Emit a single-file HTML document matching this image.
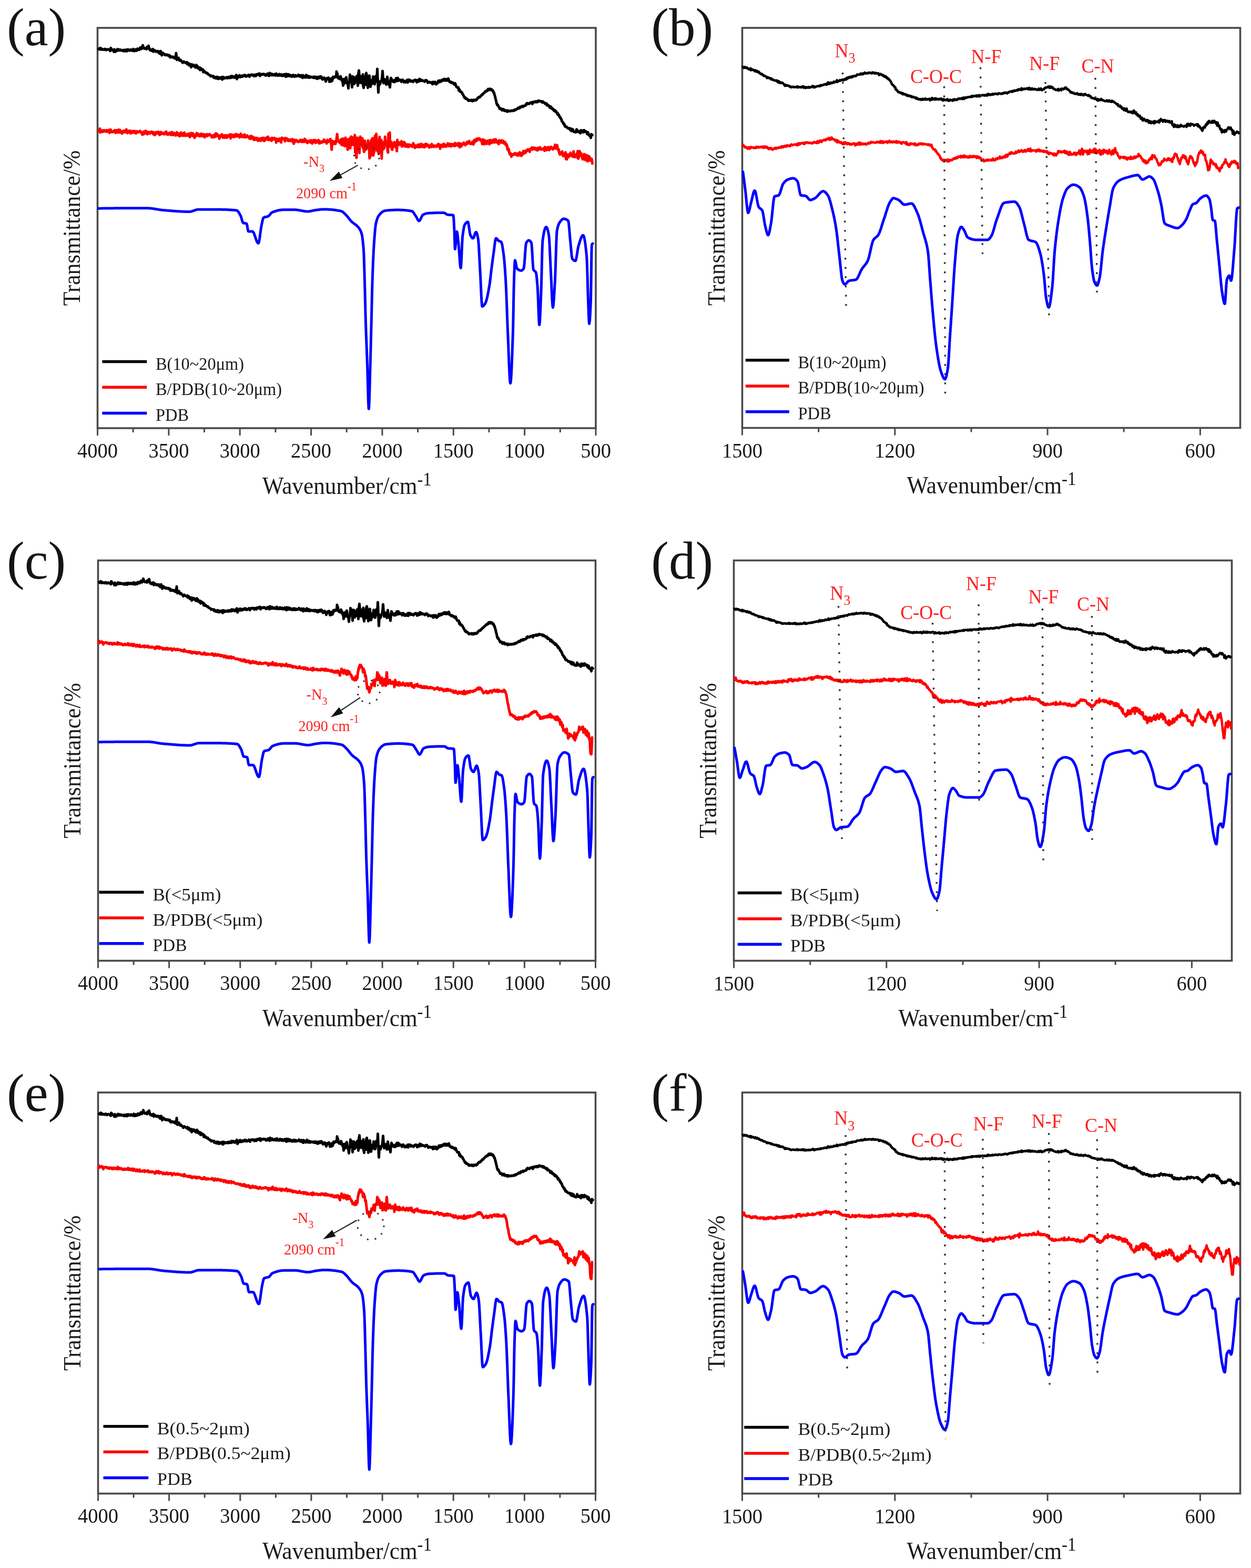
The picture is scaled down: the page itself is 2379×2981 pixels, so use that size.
<!DOCTYPE html>
<html><head><meta charset="utf-8"><title>FTIR spectra</title>
<style>
html,body{margin:0;padding:0;background:#fff;}
svg{display:block;}
text{font-family:'Liberation Serif','Times New Roman',serif;}
</style></head>
<body>
<svg width="2379" height="2981" viewBox="0 0 2379 2981">
<rect width="2379" height="2981" fill="#ffffff"/>
<rect x="185.5" y="53" width="947.5" height="761" fill="none" stroke="#4a4a4a" stroke-width="3.6"/>
<line x1="185.5" y1="814" x2="185.5" y2="828" stroke="#4a4a4a" stroke-width="3"/>
<text transform="translate(185.5,869.5) scale(1,1.06)" font-size="38.5" text-anchor="middle" fill="#1a1a1a" >4000</text>
<line x1="253.2" y1="814" x2="253.2" y2="822" stroke="#4a4a4a" stroke-width="3"/>
<line x1="320.9" y1="814" x2="320.9" y2="828" stroke="#4a4a4a" stroke-width="3"/>
<text transform="translate(320.9,869.5) scale(1,1.06)" font-size="38.5" text-anchor="middle" fill="#1a1a1a" >3500</text>
<line x1="388.5" y1="814" x2="388.5" y2="822" stroke="#4a4a4a" stroke-width="3"/>
<line x1="456.2" y1="814" x2="456.2" y2="828" stroke="#4a4a4a" stroke-width="3"/>
<text transform="translate(456.2,869.5) scale(1,1.06)" font-size="38.5" text-anchor="middle" fill="#1a1a1a" >3000</text>
<line x1="523.9" y1="814" x2="523.9" y2="822" stroke="#4a4a4a" stroke-width="3"/>
<line x1="591.6" y1="814" x2="591.6" y2="828" stroke="#4a4a4a" stroke-width="3"/>
<text transform="translate(591.6,869.5) scale(1,1.06)" font-size="38.5" text-anchor="middle" fill="#1a1a1a" >2500</text>
<line x1="659.2" y1="814" x2="659.2" y2="822" stroke="#4a4a4a" stroke-width="3"/>
<line x1="726.9" y1="814" x2="726.9" y2="828" stroke="#4a4a4a" stroke-width="3"/>
<text transform="translate(726.9,869.5) scale(1,1.06)" font-size="38.5" text-anchor="middle" fill="#1a1a1a" >2000</text>
<line x1="794.6" y1="814" x2="794.6" y2="822" stroke="#4a4a4a" stroke-width="3"/>
<line x1="862.3" y1="814" x2="862.3" y2="828" stroke="#4a4a4a" stroke-width="3"/>
<text transform="translate(862.3,869.5) scale(1,1.06)" font-size="38.5" text-anchor="middle" fill="#1a1a1a" >1500</text>
<line x1="930.0" y1="814" x2="930.0" y2="822" stroke="#4a4a4a" stroke-width="3"/>
<line x1="997.6" y1="814" x2="997.6" y2="828" stroke="#4a4a4a" stroke-width="3"/>
<text transform="translate(997.6,869.5) scale(1,1.06)" font-size="38.5" text-anchor="middle" fill="#1a1a1a" >1000</text>
<line x1="1065.3" y1="814" x2="1065.3" y2="822" stroke="#4a4a4a" stroke-width="3"/>
<line x1="1133.0" y1="814" x2="1133.0" y2="828" stroke="#4a4a4a" stroke-width="3"/>
<text transform="translate(1133.0,869.5) scale(1,1.06)" font-size="38.5" text-anchor="middle" fill="#1a1a1a" >500</text>
<text transform="translate(659.8,938.8) scale(1,1.06)" font-size="43.3" text-anchor="middle" fill="#1a1a1a">Wavenumber/cm<tspan font-size="33" dy="-15.2">-1</tspan></text>
<text transform="translate(152.0,433.5) rotate(-90) scale(1,1.06)" font-size="43.5" text-anchor="middle" fill="#1a1a1a">Transmittance/%</text>
<rect x="1411.5" y="53" width="947.0" height="760.5" fill="none" stroke="#4a4a4a" stroke-width="3.6"/>
<line x1="1411.5" y1="813.5" x2="1411.5" y2="827.5" stroke="#4a4a4a" stroke-width="3"/>
<text transform="translate(1411.5,870.0) scale(1,1.06)" font-size="38.5" text-anchor="middle" fill="#1a1a1a" >1500</text>
<line x1="1556.7" y1="813.5" x2="1556.7" y2="821.5" stroke="#4a4a4a" stroke-width="3"/>
<line x1="1701.8" y1="813.5" x2="1701.8" y2="827.5" stroke="#4a4a4a" stroke-width="3"/>
<text transform="translate(1701.8,870.0) scale(1,1.06)" font-size="38.5" text-anchor="middle" fill="#1a1a1a" >1200</text>
<line x1="1847.0" y1="813.5" x2="1847.0" y2="821.5" stroke="#4a4a4a" stroke-width="3"/>
<line x1="1992.1" y1="813.5" x2="1992.1" y2="827.5" stroke="#4a4a4a" stroke-width="3"/>
<text transform="translate(1992.1,870.0) scale(1,1.06)" font-size="38.5" text-anchor="middle" fill="#1a1a1a" >900</text>
<line x1="2137.2" y1="813.5" x2="2137.2" y2="821.5" stroke="#4a4a4a" stroke-width="3"/>
<line x1="2282.4" y1="813.5" x2="2282.4" y2="827.5" stroke="#4a4a4a" stroke-width="3"/>
<text transform="translate(2282.4,870.0) scale(1,1.06)" font-size="38.5" text-anchor="middle" fill="#1a1a1a" >600</text>
<text transform="translate(1885.5,938.3) scale(1,1.06)" font-size="43.3" text-anchor="middle" fill="#1a1a1a">Wavenumber/cm<tspan font-size="33" dy="-15.2">-1</tspan></text>
<text transform="translate(1378.0,433.2) rotate(-90) scale(1,1.06)" font-size="43.5" text-anchor="middle" fill="#1a1a1a">Transmittance/%</text>
<rect x="186.5" y="1065.5" width="946.0" height="761.0" fill="none" stroke="#4a4a4a" stroke-width="3.6"/>
<line x1="186.5" y1="1826.5" x2="186.5" y2="1840.5" stroke="#4a4a4a" stroke-width="3"/>
<text transform="translate(186.5,1882.0) scale(1,1.06)" font-size="38.5" text-anchor="middle" fill="#1a1a1a" >4000</text>
<line x1="254.1" y1="1826.5" x2="254.1" y2="1834.5" stroke="#4a4a4a" stroke-width="3"/>
<line x1="321.6" y1="1826.5" x2="321.6" y2="1840.5" stroke="#4a4a4a" stroke-width="3"/>
<text transform="translate(321.6,1882.0) scale(1,1.06)" font-size="38.5" text-anchor="middle" fill="#1a1a1a" >3500</text>
<line x1="389.2" y1="1826.5" x2="389.2" y2="1834.5" stroke="#4a4a4a" stroke-width="3"/>
<line x1="456.8" y1="1826.5" x2="456.8" y2="1840.5" stroke="#4a4a4a" stroke-width="3"/>
<text transform="translate(456.8,1882.0) scale(1,1.06)" font-size="38.5" text-anchor="middle" fill="#1a1a1a" >3000</text>
<line x1="524.4" y1="1826.5" x2="524.4" y2="1834.5" stroke="#4a4a4a" stroke-width="3"/>
<line x1="591.9" y1="1826.5" x2="591.9" y2="1840.5" stroke="#4a4a4a" stroke-width="3"/>
<text transform="translate(591.9,1882.0) scale(1,1.06)" font-size="38.5" text-anchor="middle" fill="#1a1a1a" >2500</text>
<line x1="659.5" y1="1826.5" x2="659.5" y2="1834.5" stroke="#4a4a4a" stroke-width="3"/>
<line x1="727.1" y1="1826.5" x2="727.1" y2="1840.5" stroke="#4a4a4a" stroke-width="3"/>
<text transform="translate(727.1,1882.0) scale(1,1.06)" font-size="38.5" text-anchor="middle" fill="#1a1a1a" >2000</text>
<line x1="794.6" y1="1826.5" x2="794.6" y2="1834.5" stroke="#4a4a4a" stroke-width="3"/>
<line x1="862.2" y1="1826.5" x2="862.2" y2="1840.5" stroke="#4a4a4a" stroke-width="3"/>
<text transform="translate(862.2,1882.0) scale(1,1.06)" font-size="38.5" text-anchor="middle" fill="#1a1a1a" >1500</text>
<line x1="929.8" y1="1826.5" x2="929.8" y2="1834.5" stroke="#4a4a4a" stroke-width="3"/>
<line x1="997.4" y1="1826.5" x2="997.4" y2="1840.5" stroke="#4a4a4a" stroke-width="3"/>
<text transform="translate(997.4,1882.0) scale(1,1.06)" font-size="38.5" text-anchor="middle" fill="#1a1a1a" >1000</text>
<line x1="1064.9" y1="1826.5" x2="1064.9" y2="1834.5" stroke="#4a4a4a" stroke-width="3"/>
<line x1="1132.5" y1="1826.5" x2="1132.5" y2="1840.5" stroke="#4a4a4a" stroke-width="3"/>
<text transform="translate(1132.5,1882.0) scale(1,1.06)" font-size="38.5" text-anchor="middle" fill="#1a1a1a" >500</text>
<text transform="translate(660.0,1951.3) scale(1,1.06)" font-size="43.3" text-anchor="middle" fill="#1a1a1a">Wavenumber/cm<tspan font-size="33" dy="-15.2">-1</tspan></text>
<text transform="translate(153.0,1446.0) rotate(-90) scale(1,1.06)" font-size="43.5" text-anchor="middle" fill="#1a1a1a">Transmittance/%</text>
<rect x="1395.5" y="1065.5" width="947.0" height="761.0" fill="none" stroke="#4a4a4a" stroke-width="3.6"/>
<line x1="1395.5" y1="1826.5" x2="1395.5" y2="1840.5" stroke="#4a4a4a" stroke-width="3"/>
<text transform="translate(1395.5,1883.0) scale(1,1.06)" font-size="38.5" text-anchor="middle" fill="#1a1a1a" >1500</text>
<line x1="1540.7" y1="1826.5" x2="1540.7" y2="1834.5" stroke="#4a4a4a" stroke-width="3"/>
<line x1="1685.8" y1="1826.5" x2="1685.8" y2="1840.5" stroke="#4a4a4a" stroke-width="3"/>
<text transform="translate(1685.8,1883.0) scale(1,1.06)" font-size="38.5" text-anchor="middle" fill="#1a1a1a" >1200</text>
<line x1="1831.0" y1="1826.5" x2="1831.0" y2="1834.5" stroke="#4a4a4a" stroke-width="3"/>
<line x1="1976.1" y1="1826.5" x2="1976.1" y2="1840.5" stroke="#4a4a4a" stroke-width="3"/>
<text transform="translate(1976.1,1883.0) scale(1,1.06)" font-size="38.5" text-anchor="middle" fill="#1a1a1a" >900</text>
<line x1="2121.2" y1="1826.5" x2="2121.2" y2="1834.5" stroke="#4a4a4a" stroke-width="3"/>
<line x1="2266.4" y1="1826.5" x2="2266.4" y2="1840.5" stroke="#4a4a4a" stroke-width="3"/>
<text transform="translate(2266.4,1883.0) scale(1,1.06)" font-size="38.5" text-anchor="middle" fill="#1a1a1a" >600</text>
<text transform="translate(1869.5,1951.3) scale(1,1.06)" font-size="43.3" text-anchor="middle" fill="#1a1a1a">Wavenumber/cm<tspan font-size="33" dy="-15.2">-1</tspan></text>
<text transform="translate(1362.0,1446.0) rotate(-90) scale(1,1.06)" font-size="43.5" text-anchor="middle" fill="#1a1a1a">Transmittance/%</text>
<rect x="186.5" y="2077" width="946.0" height="762.5" fill="none" stroke="#4a4a4a" stroke-width="3.6"/>
<line x1="186.5" y1="2839.5" x2="186.5" y2="2853.5" stroke="#4a4a4a" stroke-width="3"/>
<text transform="translate(186.5,2895.0) scale(1,1.06)" font-size="38.5" text-anchor="middle" fill="#1a1a1a" >4000</text>
<line x1="254.1" y1="2839.5" x2="254.1" y2="2847.5" stroke="#4a4a4a" stroke-width="3"/>
<line x1="321.6" y1="2839.5" x2="321.6" y2="2853.5" stroke="#4a4a4a" stroke-width="3"/>
<text transform="translate(321.6,2895.0) scale(1,1.06)" font-size="38.5" text-anchor="middle" fill="#1a1a1a" >3500</text>
<line x1="389.2" y1="2839.5" x2="389.2" y2="2847.5" stroke="#4a4a4a" stroke-width="3"/>
<line x1="456.8" y1="2839.5" x2="456.8" y2="2853.5" stroke="#4a4a4a" stroke-width="3"/>
<text transform="translate(456.8,2895.0) scale(1,1.06)" font-size="38.5" text-anchor="middle" fill="#1a1a1a" >3000</text>
<line x1="524.4" y1="2839.5" x2="524.4" y2="2847.5" stroke="#4a4a4a" stroke-width="3"/>
<line x1="591.9" y1="2839.5" x2="591.9" y2="2853.5" stroke="#4a4a4a" stroke-width="3"/>
<text transform="translate(591.9,2895.0) scale(1,1.06)" font-size="38.5" text-anchor="middle" fill="#1a1a1a" >2500</text>
<line x1="659.5" y1="2839.5" x2="659.5" y2="2847.5" stroke="#4a4a4a" stroke-width="3"/>
<line x1="727.1" y1="2839.5" x2="727.1" y2="2853.5" stroke="#4a4a4a" stroke-width="3"/>
<text transform="translate(727.1,2895.0) scale(1,1.06)" font-size="38.5" text-anchor="middle" fill="#1a1a1a" >2000</text>
<line x1="794.6" y1="2839.5" x2="794.6" y2="2847.5" stroke="#4a4a4a" stroke-width="3"/>
<line x1="862.2" y1="2839.5" x2="862.2" y2="2853.5" stroke="#4a4a4a" stroke-width="3"/>
<text transform="translate(862.2,2895.0) scale(1,1.06)" font-size="38.5" text-anchor="middle" fill="#1a1a1a" >1500</text>
<line x1="929.8" y1="2839.5" x2="929.8" y2="2847.5" stroke="#4a4a4a" stroke-width="3"/>
<line x1="997.4" y1="2839.5" x2="997.4" y2="2853.5" stroke="#4a4a4a" stroke-width="3"/>
<text transform="translate(997.4,2895.0) scale(1,1.06)" font-size="38.5" text-anchor="middle" fill="#1a1a1a" >1000</text>
<line x1="1064.9" y1="2839.5" x2="1064.9" y2="2847.5" stroke="#4a4a4a" stroke-width="3"/>
<line x1="1132.5" y1="2839.5" x2="1132.5" y2="2853.5" stroke="#4a4a4a" stroke-width="3"/>
<text transform="translate(1132.5,2895.0) scale(1,1.06)" font-size="38.5" text-anchor="middle" fill="#1a1a1a" >500</text>
<text transform="translate(660.0,2964.3) scale(1,1.06)" font-size="43.3" text-anchor="middle" fill="#1a1a1a">Wavenumber/cm<tspan font-size="33" dy="-15.2">-1</tspan></text>
<text transform="translate(153.0,2458.2) rotate(-90) scale(1,1.06)" font-size="43.5" text-anchor="middle" fill="#1a1a1a">Transmittance/%</text>
<rect x="1411.5" y="2077" width="947.0" height="762.5" fill="none" stroke="#4a4a4a" stroke-width="3.6"/>
<line x1="1411.5" y1="2839.5" x2="1411.5" y2="2853.5" stroke="#4a4a4a" stroke-width="3"/>
<text transform="translate(1411.5,2896.0) scale(1,1.06)" font-size="38.5" text-anchor="middle" fill="#1a1a1a" >1500</text>
<line x1="1556.7" y1="2839.5" x2="1556.7" y2="2847.5" stroke="#4a4a4a" stroke-width="3"/>
<line x1="1701.8" y1="2839.5" x2="1701.8" y2="2853.5" stroke="#4a4a4a" stroke-width="3"/>
<text transform="translate(1701.8,2896.0) scale(1,1.06)" font-size="38.5" text-anchor="middle" fill="#1a1a1a" >1200</text>
<line x1="1847.0" y1="2839.5" x2="1847.0" y2="2847.5" stroke="#4a4a4a" stroke-width="3"/>
<line x1="1992.1" y1="2839.5" x2="1992.1" y2="2853.5" stroke="#4a4a4a" stroke-width="3"/>
<text transform="translate(1992.1,2896.0) scale(1,1.06)" font-size="38.5" text-anchor="middle" fill="#1a1a1a" >900</text>
<line x1="2137.2" y1="2839.5" x2="2137.2" y2="2847.5" stroke="#4a4a4a" stroke-width="3"/>
<line x1="2282.4" y1="2839.5" x2="2282.4" y2="2853.5" stroke="#4a4a4a" stroke-width="3"/>
<text transform="translate(2282.4,2896.0) scale(1,1.06)" font-size="38.5" text-anchor="middle" fill="#1a1a1a" >600</text>
<text transform="translate(1885.5,2964.3) scale(1,1.06)" font-size="43.3" text-anchor="middle" fill="#1a1a1a">Wavenumber/cm<tspan font-size="33" dy="-15.2">-1</tspan></text>
<text transform="translate(1378.0,2458.2) rotate(-90) scale(1,1.06)" font-size="43.5" text-anchor="middle" fill="#1a1a1a">Transmittance/%</text>
<path d="M187.5 396.2L188.0 396.2L188.5 396.2L189.0 396.2L189.5 396.2L190.0 396.2L190.5 396.2L191.0 396.2L191.5 396.2L192.0 396.2L192.5 396.2L193.0 396.2L193.5 396.2L194.0 396.1L194.5 396.1L195.0 396.1L195.5 396.1L196.0 396.1L196.5 396.1L197.0 396.1L197.5 396.1L198.0 396.1L198.5 396.1L199.0 396.1L199.5 396.1L200.0 396.1L200.5 396.0L201.0 396.0L201.5 396.0L202.0 396.0L202.5 396.0L203.0 396.0L203.5 396.0L204.0 396.0L204.5 396.0L205.0 396.0L205.5 396.0L206.0 396.0L206.5 396.0L207.0 396.0L207.5 396.0L208.0 395.9L208.5 395.9L209.0 395.9L209.5 395.9L210.0 395.9L210.5 395.9L211.0 395.9L211.5 395.9L212.0 395.9L212.5 395.9L213.0 395.9L213.5 395.9L214.0 395.9L214.5 395.9L215.0 395.9L215.5 395.9L216.0 395.9L216.5 395.8L217.0 395.8L217.5 395.8L218.0 395.8L218.5 395.8L219.0 395.8L219.5 395.8L220.0 395.8L220.5 395.8L221.0 395.8L221.5 395.8L222.0 395.8L222.5 395.8L223.0 395.8L223.5 395.8L224.0 395.8L224.5 395.8L225.0 395.8L225.5 395.8L226.0 395.8L226.5 395.8L227.0 395.8L227.5 395.8L228.0 395.8L228.5 395.8L229.0 395.8L229.5 395.8L230.0 395.8L230.5 395.8L231.0 395.8L231.5 395.8L232.0 395.8L232.5 395.8L233.0 395.8L233.5 395.8L234.0 395.8L234.5 395.8L235.0 395.8L235.5 395.8L236.0 395.8L236.5 395.8L237.0 395.8L237.5 395.8L238.0 395.8L238.5 395.8L239.0 395.8L239.5 395.8L240.0 395.8L240.5 395.8L241.0 395.8L241.5 395.8L242.0 395.8L242.5 395.8L243.0 395.8L243.5 395.8L244.0 395.8L244.5 395.8L245.0 395.8L245.5 395.8L246.0 395.8L246.5 395.8L247.0 395.8L247.5 395.8L248.0 395.8L248.5 395.8L249.0 395.8L249.5 395.8L250.0 395.8L250.5 395.8L251.0 395.8L251.5 395.8L252.0 395.8L252.5 395.8L253.0 395.8L253.5 395.8L254.0 395.8L254.5 395.8L255.0 395.8L255.5 395.8L256.0 395.8L256.5 395.8L257.0 395.8L257.5 395.8L258.0 395.8L258.5 395.8L259.0 395.8L259.5 395.8L260.0 395.8L260.5 395.8L261.0 395.8L261.5 395.8L262.0 395.8L262.5 395.8L263.0 395.8L263.5 395.8L264.0 395.8L264.5 395.8L265.0 395.8L265.5 395.8L266.0 395.8L266.5 395.8L267.0 395.8L267.5 395.8L268.0 395.8L268.5 395.8L269.0 395.8L269.5 395.8L270.0 395.8L270.5 395.8L271.0 395.8L271.5 395.8L272.0 395.8L272.5 395.8L273.0 395.8L273.5 395.8L274.0 395.8L274.5 395.8L275.0 395.8L275.5 395.8L276.0 395.8L276.5 395.8L277.0 395.8L277.5 395.8L278.0 395.8L278.5 395.8L279.0 395.8L279.5 395.8L280.0 395.8L280.5 395.8L281.0 395.8L281.5 395.8L282.0 395.8L282.5 395.8L283.0 395.8L283.5 395.9L284.0 395.9L284.5 395.9L285.0 396.0L285.5 396.0L286.0 396.1L286.5 396.1L287.0 396.2L287.5 396.2L288.0 396.3L288.5 396.3L289.0 396.4L289.5 396.5L290.0 396.5L290.5 396.6L291.0 396.7L291.5 396.8L292.0 396.8L292.5 396.9L293.0 397.0L293.5 397.1L294.0 397.1L294.5 397.2L295.0 397.3L295.5 397.4L296.0 397.5L296.5 397.6L297.0 397.6L297.5 397.7L298.0 397.8L298.5 397.9L299.0 398.0L299.5 398.1L300.0 398.2L300.5 398.2L301.0 398.3L301.5 398.4L302.0 398.5L302.5 398.6L303.0 398.6L303.5 398.7L304.0 398.8L304.5 398.9L305.0 398.9L305.5 399.0L306.0 399.1L306.5 399.1L307.0 399.2L307.5 399.3L308.0 399.3L308.5 399.4L309.0 399.4L309.5 399.5L310.0 399.5L310.5 399.5L311.0 399.6L311.5 399.6L312.0 399.7L312.5 399.7L313.0 399.8L313.5 399.8L314.0 399.8L314.5 399.9L315.0 399.9L315.5 400.0L316.0 400.0L316.5 400.0L317.0 400.1L317.5 400.1L318.0 400.2L318.5 400.2L319.0 400.3L319.5 400.3L320.0 400.3L320.5 400.4L321.0 400.4L321.5 400.5L322.0 400.5L322.5 400.6L323.0 400.6L323.5 400.6L324.0 400.7L324.5 400.7L325.0 400.8L325.5 400.8L326.0 400.8L326.5 400.9L327.0 400.9L327.5 401.0L328.0 401.0L328.5 401.0L329.0 401.1L329.5 401.1L330.0 401.2L330.5 401.2L331.0 401.2L331.5 401.3L332.0 401.3L332.5 401.3L333.0 401.4L333.5 401.4L334.0 401.5L334.5 401.5L335.0 401.5L335.5 401.6L336.0 401.6L336.5 401.6L337.0 401.7L337.5 401.7L338.0 401.7L338.5 401.8L339.0 401.8L339.5 401.8L340.0 401.8L340.5 401.9L341.0 401.9L341.5 401.9L342.0 402.0L342.5 402.0L343.0 402.0L343.5 402.0L344.0 402.1L344.5 402.1L345.0 402.1L345.5 402.1L346.0 402.2L346.5 402.2L347.0 402.2L347.5 402.2L348.0 402.2L348.5 402.3L349.0 402.3L349.5 402.3L350.0 402.3L350.5 402.3L351.0 402.4L351.5 402.4L352.0 402.4L352.5 402.4L353.0 402.4L353.5 402.4L354.0 402.4L354.5 402.4L355.0 402.5L355.5 402.5L356.0 402.5L356.5 402.5L357.0 402.5L357.5 402.5L358.0 402.5L358.5 402.5L359.0 402.5L359.5 402.5L360.0 402.5L360.5 402.5L361.0 402.5L361.5 402.4L362.0 402.3L362.5 402.3L363.0 402.2L363.5 402.1L364.0 401.9L364.5 401.8L365.0 401.7L365.5 401.5L366.0 401.3L366.5 401.2L367.0 401.0L367.5 400.8L368.0 400.6L368.5 400.5L369.0 400.3L369.5 400.1L370.0 399.9L370.5 399.7L371.0 399.6L371.5 399.4L372.0 399.2L372.5 399.1L373.0 398.9L373.5 398.8L374.0 398.7L374.5 398.6L375.0 398.5L375.5 398.4L376.0 398.3L376.5 398.3L377.0 398.3L377.5 398.2L378.0 398.2L378.5 398.2L379.0 398.2L379.5 398.2L380.0 398.2L380.5 398.2L381.0 398.2L381.5 398.2L382.0 398.2L382.5 398.2L383.0 398.2L383.5 398.2L384.0 398.2L384.5 398.2L385.0 398.2L385.5 398.2L386.0 398.2L386.5 398.2L387.0 398.2L387.5 398.2L388.0 398.2L388.5 398.2L389.0 398.2L389.5 398.2L390.0 398.2L390.5 398.2L391.0 398.2L391.5 398.2L392.0 398.2L392.5 398.2L393.0 398.2L393.5 398.2L394.0 398.2L394.5 398.2L395.0 398.2L395.5 398.2L396.0 398.2L396.5 398.2L397.0 398.2L397.5 398.2L398.0 398.2L398.5 398.2L399.0 398.2L399.5 398.2L400.0 398.2L400.5 398.2L401.0 398.2L401.5 398.2L402.0 398.2L402.5 398.2L403.0 398.2L403.5 398.2L404.0 398.2L404.5 398.2L405.0 398.2L405.5 398.2L406.0 398.2L406.5 398.2L407.0 398.2L407.5 398.2L408.0 398.2L408.5 398.2L409.0 398.2L409.5 398.2L410.0 398.2L410.5 398.3L411.0 398.3L411.5 398.3L412.0 398.3L412.5 398.3L413.0 398.3L413.5 398.3L414.0 398.3L414.5 398.3L415.0 398.3L415.5 398.3L416.0 398.3L416.5 398.3L417.0 398.3L417.5 398.3L418.0 398.3L418.5 398.3L419.0 398.3L419.5 398.3L420.0 398.3L420.5 398.3L421.0 398.3L421.5 398.3L422.0 398.4L422.5 398.4L423.0 398.4L423.5 398.4L424.0 398.4L424.5 398.4L425.0 398.4L425.5 398.4L426.0 398.5L426.5 398.5L427.0 398.5L427.5 398.5L428.0 398.5L428.5 398.5L429.0 398.5L429.5 398.6L430.0 398.6L430.5 398.6L431.0 398.6L431.5 398.6L432.0 398.7L432.5 398.7L433.0 398.7L433.5 398.7L434.0 398.8L434.5 398.8L435.0 398.8L435.5 398.8L436.0 398.9L436.5 398.9L437.0 398.9L437.5 399.0L438.0 399.0L438.5 399.0L439.0 399.1L439.5 399.1L440.0 399.1L440.5 399.2L441.0 399.2L441.5 399.2L442.0 399.3L442.5 399.3L443.0 399.3L443.5 399.4L444.0 399.4L444.5 399.5L445.0 399.5L445.5 399.6L446.0 399.6L446.5 399.6L447.0 399.7L447.5 399.7L448.0 399.8L448.5 399.8L449.0 399.9L449.5 399.9L450.0 400.0L450.5 400.1L451.0 400.4L451.5 400.7L452.0 401.2L452.5 401.7L453.0 402.3L453.5 403.0L454.0 403.8L454.5 404.6L455.0 405.4L455.5 406.3L456.0 407.2L456.5 408.1L457.0 409.1L457.5 410.0L458.0 411.1L458.5 412.5L459.0 414.2L459.5 416.0L460.0 417.8L460.5 419.5L461.0 421.1L461.5 422.4L462.0 423.3L462.5 423.8L463.0 423.9L463.5 424.1L464.0 424.2L464.5 424.2L465.0 424.3L465.5 424.3L466.0 424.4L466.5 424.5L467.0 424.5L467.5 424.6L468.0 424.7L468.5 424.9L468.8 425.0L469.0 425.3L469.5 426.8L470.0 429.1L470.5 432.0L471.0 434.9L471.5 437.4L472.0 439.3L472.5 440.0L473.0 440.0L473.5 440.0L474.0 440.0L474.5 440.0L475.0 440.0L475.5 440.0L476.0 440.0L476.5 440.0L477.0 440.0L477.5 440.0L478.0 440.0L478.5 440.0L479.0 440.0L479.5 440.0L480.0 440.0L480.5 440.1L481.0 440.5L481.5 441.1L482.0 441.9L482.5 442.8L483.0 443.9L483.5 445.2L484.0 446.5L484.5 447.9L485.0 449.4L485.5 450.9L486.0 452.4L486.5 453.9L487.0 455.3L487.5 456.7L488.0 458.0L488.5 459.1L489.0 460.2L489.5 461.0L490.0 461.7L490.5 462.2L491.0 462.5L491.2 462.5L491.5 462.4L492.0 461.5L492.5 459.7L493.0 457.3L493.5 454.4L494.0 451.1L494.5 447.5L495.0 443.7L495.5 440.0L496.0 436.4L496.5 433.0L497.0 430.0L497.5 427.5L498.0 425.2L498.5 422.9L499.0 420.5L499.5 418.3L500.0 416.4L500.5 414.9L501.0 414.0L501.2 413.8L501.5 413.6L502.0 413.3L502.5 413.1L503.0 412.9L503.5 412.8L504.0 412.7L504.5 412.5L505.0 412.4L505.5 412.4L506.0 412.3L506.5 412.2L507.0 412.1L507.5 412.0L508.0 411.9L508.5 411.8L509.0 411.6L509.5 411.5L510.0 411.2L510.5 411.0L511.0 410.6L511.5 410.1L512.0 409.6L512.5 409.0L513.0 408.4L513.5 407.8L514.0 407.1L514.5 406.5L515.0 405.9L515.5 405.3L516.0 404.8L516.5 404.4L517.0 404.0L517.5 403.8L518.0 403.5L518.5 403.3L519.0 403.2L519.5 403.0L520.0 402.8L520.5 402.6L521.0 402.4L521.5 402.2L522.0 402.1L522.5 401.9L523.0 401.7L523.5 401.6L524.0 401.4L524.5 401.2L525.0 401.1L525.5 401.0L526.0 400.8L526.5 400.7L527.0 400.5L527.5 400.4L528.0 400.3L528.5 400.2L529.0 400.0L529.5 399.9L530.0 399.8L530.5 399.7L531.0 399.6L531.5 399.5L532.0 399.5L532.5 399.4L533.0 399.3L533.5 399.2L534.0 399.1L534.5 399.1L535.0 399.0L535.5 399.0L536.0 398.9L536.5 398.9L537.0 398.9L537.5 398.8L538.0 398.8L538.5 398.8L539.0 398.8L539.5 398.8L540.0 398.8L540.5 398.8L541.0 398.8L541.5 398.8L542.0 398.8L542.5 398.8L543.0 398.8L543.5 398.8L544.0 398.8L544.5 398.8L545.0 398.8L545.5 398.8L546.0 398.8L546.5 398.8L547.0 398.8L547.5 398.8L548.0 398.8L548.5 398.8L549.0 398.8L549.5 398.8L550.0 398.8L550.5 398.8L551.0 398.8L551.5 398.8L552.0 398.8L552.5 398.8L553.0 398.8L553.5 398.8L554.0 398.8L554.5 398.8L555.0 398.8L555.5 398.8L556.0 398.8L556.5 398.8L557.0 398.8L557.5 398.8L558.0 398.8L558.5 398.8L559.0 398.8L559.5 398.8L560.0 398.8L560.5 398.8L561.0 398.8L561.5 398.8L562.0 398.8L562.5 398.8L563.0 398.9L563.5 398.9L564.0 399.0L564.5 399.0L565.0 399.1L565.5 399.2L566.0 399.2L566.5 399.3L567.0 399.4L567.5 399.5L568.0 399.5L568.5 399.6L569.0 399.7L569.5 399.8L570.0 399.9L570.5 400.0L571.0 400.1L571.5 400.2L572.0 400.3L572.5 400.4L573.0 400.5L573.5 400.6L574.0 400.7L574.5 400.8L575.0 400.9L575.5 400.9L576.0 401.0L576.5 401.1L577.0 401.2L577.5 401.3L578.0 401.4L578.5 401.5L579.0 401.5L579.5 401.6L580.0 401.7L580.5 401.7L581.0 401.8L581.5 401.8L582.0 401.9L582.5 401.9L583.0 401.9L583.5 402.0L584.0 402.0L584.5 402.0L585.0 402.0L585.5 402.0L586.0 402.0L586.5 401.9L587.0 401.9L587.5 401.9L588.0 401.8L588.5 401.7L589.0 401.7L589.5 401.6L590.0 401.5L590.5 401.4L591.0 401.3L591.5 401.2L592.0 401.1L592.5 401.0L593.0 400.9L593.5 400.8L594.0 400.7L594.5 400.5L595.0 400.4L595.5 400.3L596.0 400.2L596.5 400.1L597.0 400.0L597.5 399.9L598.0 399.8L598.5 399.7L599.0 399.6L599.5 399.6L600.0 399.5L600.5 399.4L601.0 399.4L601.5 399.3L602.0 399.2L602.5 399.2L603.0 399.1L603.5 399.0L604.0 399.0L604.5 398.9L605.0 398.8L605.5 398.8L606.0 398.7L606.5 398.6L607.0 398.6L607.5 398.5L608.0 398.4L608.5 398.4L609.0 398.3L609.5 398.3L610.0 398.2L610.5 398.2L611.0 398.1L611.5 398.1L612.0 398.0L612.5 398.0L613.0 398.0L613.5 397.9L614.0 397.9L614.5 397.9L615.0 397.9L615.5 397.9L615.6 397.9L616.0 397.9L616.5 397.9L617.0 397.9L617.5 397.9L618.0 397.9L618.5 397.9L619.0 397.9L619.5 397.9L620.0 398.0L620.5 398.0L621.0 398.0L621.5 398.0L622.0 398.0L622.5 398.0L623.0 398.1L623.5 398.1L624.0 398.1L624.5 398.1L625.0 398.2L625.5 398.2L626.0 398.2L626.5 398.3L627.0 398.3L627.5 398.3L628.0 398.4L628.5 398.4L629.0 398.5L629.5 398.5L630.0 398.5L630.5 398.6L631.0 398.6L631.5 398.7L632.0 398.7L632.5 398.8L633.0 398.8L633.5 398.9L634.0 399.0L634.5 399.0L635.0 399.1L635.5 399.1L636.0 399.2L636.5 399.3L637.0 399.3L637.5 399.4L638.0 399.5L638.5 399.5L639.0 399.6L639.5 399.7L640.0 399.8L640.5 399.9L641.0 399.9L641.5 400.0L642.0 400.1L642.5 400.2L643.0 400.3L643.5 400.4L644.0 400.5L644.5 400.5L645.0 400.6L645.5 400.7L646.0 400.8L646.5 400.9L647.0 401.0L647.5 401.1L648.0 401.2L648.5 401.4L648.7 401.4L649.0 401.5L649.5 401.6L650.0 401.8L650.5 402.1L651.0 402.4L651.5 402.7L652.0 403.1L652.5 403.5L653.0 403.9L653.5 404.4L654.0 404.8L654.5 405.3L655.0 405.8L655.5 406.3L656.0 406.8L656.5 407.3L657.0 407.8L657.5 408.3L658.0 408.8L658.4 409.2L658.5 409.3L659.0 409.8L659.5 410.3L660.0 410.9L660.5 411.5L661.0 412.1L661.5 412.7L662.0 413.3L662.5 414.0L663.0 414.6L663.5 415.3L664.0 415.9L664.5 416.5L665.0 417.2L665.5 417.8L666.0 418.4L666.5 419.0L667.0 419.6L667.5 420.2L668.0 420.7L668.2 420.9L668.5 421.2L669.0 421.7L669.5 422.1L670.0 422.6L670.5 423.0L671.0 423.4L671.5 423.8L672.0 424.2L672.5 424.5L673.0 424.9L673.5 425.2L674.0 425.6L674.5 426.0L675.0 426.3L675.5 426.7L676.0 427.0L676.5 427.4L677.0 427.8L677.5 428.2L678.0 428.6L678.5 429.1L679.0 429.5L679.5 430.0L680.0 430.5L680.5 431.1L681.0 431.6L681.5 432.2L681.8 432.6L682.0 432.9L682.5 433.5L683.0 434.2L683.5 434.9L684.0 435.6L684.5 436.5L685.0 437.4L685.5 438.4L686.0 439.5L686.5 440.7L687.0 442.1L687.5 443.6L687.7 444.3L688.0 445.4L688.5 447.7L689.0 450.7L689.5 454.3L690.0 458.6L690.5 463.7L691.0 469.4L691.5 476.0L691.6 477.4L692.0 485.4L692.5 500.2L693.0 517.9L693.5 535.9L694.0 554.7L694.5 575.4L695.0 595.8L695.5 613.8L696.0 629.0L696.5 642.6L697.0 655.5L697.5 668.0L698.0 680.8L698.4 691.7L698.5 694.6L699.0 711.8L699.5 731.3L700.0 750.2L700.5 765.9L701.0 775.6L701.3 777.4L701.5 776.7L702.0 769.2L702.5 755.4L703.0 737.6L703.5 717.9L704.0 698.7L704.2 691.7L704.5 681.2L705.0 662.2L705.5 642.2L706.0 621.8L706.2 613.8L706.5 601.3L707.0 579.2L707.5 557.7L708.0 539.1L708.1 535.9L708.5 524.0L709.0 510.2L709.5 497.5L710.0 486.1L710.5 476.1L711.0 467.7L711.5 460.2L712.0 453.1L712.5 446.5L713.0 440.4L713.5 435.1L714.0 430.5L714.5 426.9L714.9 424.8L715.0 424.4L715.5 422.3L716.0 420.3L716.5 418.6L717.0 417.0L717.5 415.6L718.0 414.3L718.5 413.1L719.0 412.0L719.5 411.1L720.0 410.3L720.5 409.6L720.8 409.2L721.0 409.0L721.5 408.3L722.0 407.8L722.5 407.2L723.0 406.6L723.5 406.1L724.0 405.6L724.5 405.1L725.0 404.6L725.5 404.2L726.0 403.7L726.5 403.3L727.0 403.0L727.5 402.6L728.0 402.3L728.5 402.0L729.0 401.7L729.5 401.4L730.0 401.2L730.5 401.0L731.0 400.8L731.5 400.7L732.0 400.6L732.5 400.5L733.0 400.4L733.5 400.4L734.0 400.3L734.5 400.3L735.0 400.2L735.5 400.2L736.0 400.1L736.5 400.1L737.0 400.0L737.5 400.0L738.0 399.9L738.5 399.9L739.0 399.8L739.5 399.8L740.0 399.7L740.5 399.7L741.0 399.7L741.5 399.6L742.0 399.6L742.5 399.6L743.0 399.5L743.5 399.5L744.0 399.5L744.5 399.4L745.0 399.4L745.5 399.4L746.0 399.3L746.5 399.3L747.0 399.3L747.5 399.3L748.0 399.3L748.5 399.2L749.0 399.2L749.5 399.2L750.0 399.2L750.5 399.2L751.0 399.2L751.5 399.1L752.0 399.1L752.5 399.1L753.0 399.1L753.5 399.1L754.0 399.1L754.5 399.1L755.0 399.1L755.5 399.1L755.9 399.1L756.0 399.1L756.5 399.1L757.0 399.1L757.5 399.1L758.0 399.1L758.5 399.1L759.0 399.1L759.5 399.1L760.0 399.1L760.5 399.2L761.0 399.2L761.5 399.2L762.0 399.2L762.5 399.2L763.0 399.2L763.5 399.2L764.0 399.3L764.5 399.3L765.0 399.3L765.5 399.3L766.0 399.4L766.5 399.4L767.0 399.4L767.5 399.5L768.0 399.5L768.5 399.5L769.0 399.6L769.5 399.6L770.0 399.6L770.5 399.7L771.0 399.7L771.5 399.8L772.0 399.8L772.5 399.9L773.0 399.9L773.5 400.0L774.0 400.0L774.5 400.1L775.0 400.2L775.5 400.2L776.0 400.3L776.5 400.3L777.0 400.4L777.5 400.5L778.0 400.6L778.5 400.6L779.0 400.7L779.5 400.8L780.0 400.9L780.5 400.9L781.0 401.0L781.5 401.1L782.0 401.2L782.5 401.3L783.0 401.4L783.1 401.4L783.5 401.5L784.0 401.8L784.5 402.1L785.0 402.6L785.5 403.1L786.0 403.8L786.5 404.4L787.0 405.2L787.5 405.9L788.0 406.7L788.5 407.5L789.0 408.3L789.5 409.1L790.0 409.9L790.5 410.6L790.9 411.2L791.0 411.3L791.5 412.1L792.0 413.0L792.5 413.9L793.0 414.9L793.5 415.9L794.0 416.8L794.5 417.7L795.0 418.5L795.5 419.1L796.0 419.6L796.5 419.9L796.8 419.9L797.0 419.9L797.5 419.7L798.0 419.2L798.5 418.6L799.0 417.9L799.5 417.0L800.0 416.0L800.5 415.0L801.0 413.9L801.5 412.9L802.0 411.8L802.5 410.9L803.0 410.0L803.5 409.2L804.0 408.7L804.5 408.3L804.6 408.2L805.0 408.0L805.5 407.8L806.0 407.5L806.5 407.3L807.0 407.1L807.5 406.9L808.0 406.7L808.5 406.5L809.0 406.4L809.5 406.2L810.0 406.0L810.5 405.9L811.0 405.8L811.5 405.7L812.0 405.6L812.5 405.5L813.0 405.4L813.5 405.4L814.0 405.3L814.3 405.3L814.5 405.3L815.0 405.3L815.5 405.2L816.0 405.2L816.5 405.2L817.0 405.1L817.5 405.1L818.0 405.1L818.5 405.1L819.0 405.0L819.5 405.0L820.0 405.0L820.5 404.9L821.0 404.9L821.5 404.9L822.0 404.9L822.5 404.9L823.0 404.8L823.5 404.8L824.0 404.8L824.5 404.8L825.0 404.7L825.5 404.7L826.0 404.7L826.5 404.7L827.0 404.7L827.5 404.7L828.0 404.6L828.5 404.6L829.0 404.6L829.5 404.6L830.0 404.6L830.5 404.6L831.0 404.6L831.5 404.5L832.0 404.5L832.5 404.5L833.0 404.5L833.5 404.5L834.0 404.5L834.5 404.5L835.0 404.5L835.5 404.5L836.0 404.5L836.5 404.4L837.0 404.4L837.5 404.4L838.0 404.4L838.5 404.4L839.0 404.4L839.5 404.4L840.0 404.4L840.5 404.4L841.0 404.4L841.5 404.4L842.0 404.4L842.5 404.4L843.0 404.4L843.5 404.4L844.0 404.4L844.5 404.6L845.0 404.7L845.5 405.0L846.0 405.2L846.5 405.5L847.0 405.9L847.5 406.2L848.0 406.6L848.5 406.9L849.0 407.2L849.5 407.5L850.0 407.8L850.5 408.0L851.0 408.1L851.3 408.2L851.5 408.2L852.0 408.3L852.5 408.4L853.0 408.4L853.5 408.4L854.0 408.5L854.5 408.5L855.0 408.5L855.5 408.6L856.0 408.6L856.5 408.6L857.0 408.6L857.5 408.6L858.0 408.7L858.5 408.7L859.0 408.7L859.5 408.8L860.0 408.8L860.5 408.9L861.0 409.0L861.5 409.1L862.0 409.2L862.5 412.0L863.0 419.0L863.5 428.4L864.0 438.4L864.5 453.6L865.0 469.8L865.3 473.5L865.5 473.2L866.0 470.1L866.5 464.5L867.0 457.7L867.5 450.7L868.0 444.8L868.5 441.1L868.8 440.4L869.0 440.6L869.5 442.3L870.0 445.5L870.5 449.7L871.0 454.4L871.5 459.1L871.8 461.8L872.0 463.6L872.5 469.3L873.0 475.9L873.5 483.1L874.0 490.4L874.5 497.1L875.0 502.9L875.5 507.2L876.0 509.4L876.2 509.6L876.5 508.5L877.0 502.5L877.5 492.7L878.0 481.0L878.5 469.0L879.0 458.4L879.5 451.0L879.6 450.1L880.0 446.8L880.5 443.0L881.0 439.5L881.5 436.4L882.0 433.6L882.5 431.2L883.0 429.2L883.5 427.7L884.0 426.7L884.5 426.0L885.0 425.3L885.5 424.7L886.0 424.1L886.5 423.6L887.0 423.1L887.5 422.7L888.0 422.4L888.5 422.1L889.0 422.0L889.5 421.9L889.7 421.9L890.0 422.1L890.5 423.5L891.0 425.8L891.5 428.8L892.0 432.3L892.5 435.9L893.0 439.5L893.5 442.7L894.0 445.3L894.5 447.0L894.6 447.2L895.0 448.0L895.5 448.9L896.0 449.7L896.5 450.5L897.0 451.2L897.5 451.8L898.0 452.3L898.5 452.7L899.0 452.9L899.5 453.0L900.0 452.8L900.5 452.1L901.0 451.1L901.5 449.8L902.0 448.4L902.5 446.8L903.0 445.4L903.5 444.0L904.0 442.8L904.5 441.9L905.0 441.4L905.3 441.3L905.5 441.3L906.0 441.8L906.5 442.8L907.0 444.2L907.5 445.9L908.0 448.0L908.5 450.4L909.0 452.9L909.2 454.0L909.5 456.1L910.0 461.4L910.5 468.5L911.0 477.0L911.5 486.4L912.0 496.1L912.5 505.7L913.0 514.6L913.1 516.3L913.5 523.5L914.0 534.0L914.5 545.2L915.0 556.4L915.5 566.5L916.0 574.8L916.5 580.4L917.0 582.5L917.5 582.4L918.0 582.3L918.5 582.0L919.0 581.6L919.5 581.2L920.0 580.6L920.5 580.0L921.0 579.4L921.5 578.7L922.0 577.9L922.5 577.2L922.8 576.7L923.0 576.4L923.5 575.4L924.0 574.1L924.5 572.7L925.0 571.1L925.5 569.2L926.0 567.3L926.5 565.1L927.0 562.8L927.5 560.4L928.0 557.9L928.5 555.3L929.0 552.6L929.5 549.8L930.0 547.0L930.5 544.2L930.6 543.6L931.0 541.1L931.5 537.6L932.0 533.6L932.5 529.4L933.0 525.1L933.5 520.7L934.0 516.4L934.5 512.4L935.0 508.5L935.5 504.6L936.0 500.8L936.5 497.0L937.0 493.2L937.5 489.5L938.0 486.0L938.4 483.2L938.5 482.5L939.0 478.8L939.5 474.8L940.0 470.7L940.5 466.7L941.0 462.8L941.5 459.4L942.0 456.5L942.5 454.4L943.0 453.2L943.3 453.0L943.5 453.0L944.0 453.2L944.5 453.6L945.0 454.1L945.5 454.8L946.0 455.4L946.5 456.1L947.0 456.8L947.5 457.3L948.0 457.8L948.2 457.9L948.5 458.1L949.0 458.3L949.5 458.4L950.0 458.6L950.5 458.7L951.0 458.9L951.5 459.0L952.0 459.2L952.5 459.5L953.0 459.8L953.5 460.5L954.0 461.8L954.5 463.6L955.0 465.9L955.5 468.6L956.0 471.7L956.5 475.0L957.0 478.5L957.5 482.2L957.9 485.2L958.0 486.0L958.5 490.3L959.0 495.5L959.5 501.3L960.0 507.9L960.5 515.0L961.0 522.6L961.5 530.7L961.8 535.8L962.0 539.4L962.5 549.9L963.0 562.0L963.5 575.2L964.0 589.1L964.5 602.9L965.0 616.3L965.5 628.7L965.7 633.2L966.0 640.0L966.5 652.3L967.0 665.2L967.5 678.2L968.0 690.8L968.5 702.4L969.0 712.5L969.5 720.5L970.0 726.1L970.5 728.5L970.6 728.6L971.0 727.6L971.5 723.9L972.0 717.7L972.5 709.2L973.0 698.9L973.5 687.0L974.0 673.9L974.5 659.8L975.0 645.1L975.4 633.2L975.5 629.9L976.0 607.1L976.5 578.6L977.0 551.6L977.4 535.8L977.5 532.8L978.0 517.8L978.5 504.7L979.0 496.5L979.3 494.9L979.5 495.0L980.0 496.1L980.5 498.2L981.0 500.8L981.5 503.7L982.0 506.4L982.5 508.7L983.0 510.2L983.2 510.5L983.5 510.8L984.0 511.2L984.5 511.7L985.0 512.1L985.5 512.4L986.0 512.8L986.5 513.1L987.0 513.3L987.5 513.6L988.0 513.8L988.5 514.0L989.0 514.1L989.5 514.2L990.0 514.3L990.5 514.4L991.0 514.4L991.5 514.4L992.0 514.2L992.5 514.0L993.0 513.7L993.5 513.3L994.0 512.9L994.5 512.3L995.0 511.7L995.5 511.1L995.9 510.5L996.0 510.3L996.5 507.8L997.0 503.4L997.5 497.5L998.0 490.7L998.5 483.5L999.0 476.5L999.5 470.3L1000.0 465.4L1000.5 462.4L1000.7 461.8L1001.0 461.3L1001.5 460.4L1002.0 459.7L1002.5 459.0L1003.0 458.4L1003.5 457.9L1004.0 457.5L1004.5 457.2L1005.0 457.0L1005.5 456.9L1005.6 456.9L1006.0 456.9L1006.5 457.1L1007.0 457.3L1007.5 457.7L1008.0 458.1L1008.5 458.7L1009.0 459.3L1009.5 460.1L1010.0 460.9L1010.5 461.8L1011.0 464.7L1011.5 470.7L1012.0 478.8L1012.5 487.8L1013.0 496.8L1013.5 504.6L1014.0 510.2L1014.4 512.4L1014.5 512.6L1015.0 513.6L1015.5 514.3L1016.0 514.8L1016.5 515.1L1017.0 515.5L1017.5 515.9L1018.0 516.3L1018.5 517.0L1019.0 517.9L1019.2 518.3L1019.5 519.3L1020.0 522.1L1020.5 526.2L1021.0 531.2L1021.5 536.9L1022.0 543.0L1022.2 545.5L1022.5 550.1L1023.0 561.0L1023.5 574.4L1024.0 588.4L1024.5 601.4L1025.0 611.5L1025.5 617.1L1025.7 617.6L1026.0 616.8L1026.5 612.0L1027.0 603.8L1027.5 593.1L1028.0 580.8L1028.5 567.9L1029.0 555.3L1029.5 539.8L1030.0 519.9L1030.5 498.5L1031.0 478.9L1031.5 464.1L1031.9 457.9L1032.0 457.1L1032.5 453.5L1033.0 450.1L1033.5 447.0L1034.0 444.1L1034.5 441.6L1035.0 439.4L1035.5 437.4L1036.0 435.7L1036.5 434.3L1037.0 433.2L1037.5 432.4L1038.0 431.9L1038.5 431.6L1038.7 431.6L1039.0 431.7L1039.5 432.1L1040.0 432.8L1040.5 433.9L1041.0 435.2L1041.5 436.9L1042.0 438.7L1042.5 440.8L1043.0 443.2L1043.5 445.7L1043.6 446.2L1044.0 449.3L1044.5 455.6L1045.0 464.1L1045.5 474.1L1046.0 485.0L1046.5 496.0L1047.0 506.7L1047.5 516.3L1048.0 526.1L1048.5 537.3L1049.0 548.9L1049.5 560.1L1050.0 570.2L1050.5 578.1L1051.0 583.1L1051.4 584.5L1051.5 584.4L1052.0 582.7L1052.5 578.8L1053.0 573.1L1053.5 566.0L1054.0 558.0L1054.5 549.5L1055.0 540.9L1055.3 535.8L1055.5 532.1L1056.0 520.2L1056.5 505.6L1057.0 489.7L1057.5 473.7L1058.0 459.2L1058.5 447.5L1059.0 440.0L1059.2 438.4L1059.5 436.8L1060.0 434.5L1060.5 432.4L1061.0 430.5L1061.5 428.9L1062.0 427.5L1062.5 426.2L1063.0 425.2L1063.5 424.2L1064.0 423.4L1064.5 422.6L1065.0 421.9L1065.5 421.2L1066.0 420.6L1066.5 419.9L1067.0 419.3L1067.5 418.7L1068.0 418.2L1068.5 417.7L1069.0 417.3L1069.5 416.9L1070.0 416.5L1070.5 416.3L1071.0 416.1L1071.5 416.0L1071.8 416.0L1072.0 416.0L1072.5 416.0L1073.0 416.1L1073.5 416.1L1074.0 416.2L1074.5 416.3L1075.0 416.5L1075.5 416.6L1076.0 416.8L1076.5 417.0L1077.0 417.3L1077.5 417.5L1078.0 417.8L1078.5 418.2L1079.0 418.5L1079.5 418.9L1080.0 419.3L1080.5 419.8L1080.6 419.9L1081.0 421.0L1081.5 424.1L1082.0 428.7L1082.5 434.3L1083.0 440.5L1083.5 446.8L1084.0 452.7L1084.5 457.9L1085.0 462.9L1085.5 468.3L1086.0 473.9L1086.5 479.3L1087.0 484.2L1087.5 488.2L1088.0 490.9L1088.4 492.0L1088.5 492.1L1089.0 492.8L1089.5 493.3L1090.0 493.8L1090.5 494.3L1091.0 494.7L1091.5 495.0L1092.0 495.3L1092.5 495.6L1093.0 495.7L1093.5 495.8L1094.0 495.9L1094.2 495.9L1094.5 495.7L1095.0 494.8L1095.5 493.1L1096.0 490.8L1096.5 488.1L1097.0 485.1L1097.5 481.9L1098.0 478.6L1098.5 475.5L1099.0 472.5L1099.5 470.0L1100.0 467.9L1100.1 467.6L1100.5 466.3L1101.0 464.7L1101.5 463.0L1102.0 461.4L1102.5 459.7L1103.0 458.2L1103.5 456.6L1104.0 455.2L1104.5 453.8L1105.0 452.5L1105.5 451.3L1106.0 450.2L1106.5 449.3L1107.0 448.5L1107.5 447.9L1108.0 447.5L1108.5 447.2L1108.8 447.2L1109.0 447.2L1109.5 447.7L1110.0 448.6L1110.5 450.0L1111.0 451.9L1111.5 454.2L1112.0 456.9L1112.5 460.0L1113.0 463.5L1113.5 467.3L1114.0 471.5L1114.5 476.0L1115.0 480.9L1115.5 486.0L1115.6 487.1L1116.0 493.4L1116.5 506.1L1117.0 522.2L1117.5 539.9L1118.0 557.2L1118.5 572.2L1118.6 574.7L1119.0 585.5L1119.5 599.6L1120.0 611.0L1120.5 615.6L1121.0 614.0L1121.5 609.6L1122.0 602.8L1122.5 594.0L1123.0 583.7L1123.4 574.7L1123.5 571.8L1124.0 544.7L1124.5 507.6L1125.0 476.3L1125.4 465.7L1125.5 465.4L1126.0 464.3L1126.5 463.5L1127.0 463.1L1127.3 463.0" fill="none" stroke="#0000ff" stroke-width="5" stroke-linejoin="round" stroke-linecap="round"/>
<path d="M187.5 249.1L188.3 247.9L189.1 248.1L189.9 244.6L190.7 251.9L191.5 250.8L192.3 248.3L193.1 250.2L193.9 249.3L194.7 247.9L195.5 250.6L196.3 248.4L197.1 248.4L197.9 247.6L198.7 249.7L199.5 248.8L200.3 249.9L201.1 248.0L201.9 249.2L202.7 247.5L203.5 250.5L204.3 249.4L205.1 249.7L205.9 249.8L206.7 247.4L207.5 250.5L208.3 252.7L209.1 246.4L209.9 246.3L210.7 246.7L211.5 250.7L212.3 249.5L213.1 251.2L213.9 250.6L214.7 249.7L215.5 249.9L216.3 249.1L217.1 250.9L217.9 247.5L218.7 248.7L219.5 249.9L220.3 252.6L221.1 248.2L221.9 247.7L222.7 248.6L223.5 251.3L224.3 249.2L225.1 252.0L225.9 246.5L226.7 251.7L227.5 251.5L228.3 247.3L229.1 250.1L229.9 251.9L230.7 250.0L231.5 251.6L232.3 254.0L233.1 250.4L233.9 249.5L234.7 248.7L235.0 251.1L235.5 249.7L236.3 249.7L237.1 249.9L237.9 251.2L238.7 248.3L239.5 247.5L240.3 246.0L241.1 252.3L241.9 250.4L242.7 252.9L243.5 250.3L244.3 249.1L245.1 251.2L245.9 250.3L246.7 248.3L247.5 249.0L248.3 253.6L249.1 251.2L249.9 251.4L250.7 250.2L251.5 249.5L252.3 252.3L253.1 250.6L253.9 249.5L254.7 250.6L255.5 249.3L256.3 251.3L257.1 253.0L257.9 249.6L258.7 253.6L259.5 250.0L260.3 251.4L261.1 249.7L261.9 250.9L262.7 251.4L263.5 250.6L264.3 250.2L265.1 250.2L265.9 250.0L266.7 248.8L267.5 251.1L268.3 252.3L269.1 253.2L269.9 252.8L270.7 256.1L271.5 252.3L272.3 251.0L273.1 255.2L273.9 250.1L274.7 253.7L275.5 250.3L276.3 252.7L277.1 248.6L277.9 253.7L278.7 251.9L279.5 250.5L280.3 255.2L281.1 253.7L281.9 252.4L282.7 251.1L283.5 252.3L284.3 252.2L285.0 253.8L285.1 253.9L285.9 251.4L286.7 251.6L287.5 251.7L288.3 250.3L289.1 251.7L289.9 252.6L290.7 254.0L291.5 255.2L292.3 251.4L293.1 253.9L293.9 252.2L294.7 256.7L295.5 252.9L296.3 254.0L297.1 251.4L297.9 251.7L298.7 253.5L299.5 252.5L300.3 253.9L301.1 250.5L301.9 254.5L302.7 251.8L303.5 256.5L304.3 253.0L305.1 255.5L305.9 251.1L306.7 254.4L307.5 252.0L308.3 252.8L309.1 253.7L309.9 253.2L310.7 254.3L311.5 255.2L312.3 255.0L313.1 253.7L313.9 251.5L314.7 252.5L315.5 253.7L316.3 250.3L317.1 255.5L317.9 253.7L318.7 253.7L319.5 255.9L320.3 255.5L321.1 254.7L321.9 252.5L322.7 254.9L323.5 255.0L324.3 252.9L325.1 256.4L325.9 255.5L326.7 251.0L327.5 254.8L328.3 252.4L329.1 256.7L329.9 256.2L330.7 252.8L331.5 253.2L332.3 255.0L333.1 254.5L333.9 257.7L334.7 256.3L335.0 254.5L335.5 256.1L336.3 251.4L337.1 255.7L337.9 256.7L338.7 254.9L339.5 253.9L340.3 256.3L341.1 258.9L341.9 255.7L342.7 253.4L343.5 258.1L344.3 252.1L345.1 256.4L345.9 254.5L346.7 257.3L347.5 254.1L348.3 258.1L349.1 256.3L349.9 252.7L350.7 252.2L351.5 255.3L352.3 258.3L353.1 256.2L353.9 256.1L354.7 255.6L355.5 257.4L356.3 256.8L357.1 256.7L357.9 254.4L358.7 258.4L359.5 258.8L360.3 254.0L361.1 260.6L361.9 257.7L362.7 255.6L363.5 253.0L364.3 257.8L365.1 257.6L365.9 255.5L366.7 253.4L367.5 258.8L368.3 255.7L369.1 255.9L369.9 262.0L370.7 260.8L371.5 258.7L372.3 256.1L373.1 258.2L373.9 252.9L374.7 257.3L375.5 255.7L376.3 254.8L377.1 254.3L377.9 258.2L378.7 257.4L379.5 257.6L380.3 258.9L381.1 255.8L381.9 255.1L382.7 254.1L383.5 256.8L384.3 258.9L385.0 257.2L385.1 258.7L385.9 255.4L386.7 256.7L387.5 256.2L388.3 255.3L389.1 261.1L389.9 259.3L390.7 256.3L391.5 256.3L392.3 257.7L393.1 255.2L393.9 258.7L394.7 255.5L395.5 257.2L396.3 256.1L397.1 257.1L397.9 255.6L398.7 255.1L399.5 256.3L400.3 256.9L401.1 257.6L401.9 258.3L402.7 261.0L403.5 259.7L404.3 257.8L405.1 259.6L405.9 257.1L406.7 261.0L407.5 259.4L408.3 255.9L409.1 259.9L409.9 260.0L410.7 253.5L411.5 257.1L412.3 257.7L413.1 255.0L413.9 256.6L414.7 256.9L415.5 259.6L416.3 259.3L417.1 263.6L417.9 258.0L418.7 260.9L419.5 258.9L420.3 259.3L421.1 256.7L421.9 255.3L422.7 257.4L423.5 260.3L424.3 261.8L425.1 260.0L425.9 259.8L426.7 257.4L427.5 261.8L428.3 261.5L429.1 258.0L429.9 258.9L430.7 257.1L431.5 261.7L432.3 259.8L433.1 258.8L433.9 259.8L434.7 259.8L435.0 258.2L435.5 256.7L436.3 256.6L437.1 255.7L437.9 259.8L438.7 263.1L439.5 255.7L440.3 259.1L441.1 259.5L441.9 256.9L442.7 259.0L443.5 256.5L444.3 260.8L445.1 257.3L445.9 258.6L446.7 259.6L447.5 257.4L448.3 254.8L449.1 257.1L449.9 259.5L450.7 257.8L451.5 258.3L452.3 255.8L453.1 258.0L453.9 259.1L454.7 257.7L455.5 261.2L456.3 257.2L457.1 255.6L457.9 254.5L458.7 259.7L459.5 257.4L460.0 259.4L460.3 258.4L461.1 260.6L461.9 260.0L462.7 257.0L463.5 258.3L464.3 260.0L465.1 255.8L465.9 261.1L466.7 260.9L467.5 260.7L468.3 258.7L469.1 259.9L469.9 257.5L470.7 260.0L471.5 259.1L472.3 260.7L473.1 259.9L473.9 261.6L474.7 263.6L475.5 259.2L476.3 263.7L477.1 258.5L477.9 258.4L478.7 262.5L479.5 263.0L480.3 264.1L481.1 260.3L481.9 263.5L482.7 264.0L483.5 266.2L484.3 263.7L485.0 265.0L485.1 262.1L485.9 263.7L486.7 263.2L487.5 265.5L488.3 262.3L489.1 262.6L489.9 265.4L490.7 267.7L491.5 265.1L492.3 264.9L493.1 263.7L493.9 266.5L494.7 265.5L495.5 267.8L496.3 265.1L497.1 262.7L497.9 263.5L498.7 262.7L499.5 262.2L500.3 267.1L501.1 266.2L501.9 262.3L502.7 268.1L503.5 265.2L504.3 262.9L505.1 265.5L505.9 264.6L506.7 263.3L507.5 261.1L508.3 264.9L509.1 265.4L509.9 259.9L510.7 265.9L511.5 266.1L512.3 264.0L513.1 265.1L513.9 264.4L514.7 263.3L515.5 264.3L516.3 267.6L517.1 262.2L517.9 265.5L518.7 265.4L519.5 263.7L520.3 264.2L521.1 262.4L521.9 263.4L522.7 265.1L523.5 265.8L524.3 263.4L525.1 271.1L525.9 264.1L526.7 265.5L527.5 264.8L528.3 264.5L529.1 267.8L529.9 264.4L530.7 267.9L531.5 267.6L532.3 263.4L533.1 267.4L533.9 264.2L534.7 270.8L535.0 264.8L535.5 263.7L536.3 261.8L537.1 263.1L537.9 264.5L538.7 263.7L539.5 263.3L540.3 264.4L541.1 265.4L541.9 268.7L542.7 262.6L543.5 264.9L544.3 264.2L545.1 263.1L545.9 263.7L546.7 264.5L547.5 267.7L548.3 266.0L549.1 265.4L549.9 267.7L550.7 267.1L551.5 266.2L552.3 267.4L553.1 265.1L553.9 268.0L554.7 267.8L555.5 266.1L556.3 264.6L557.1 270.1L557.9 267.4L558.7 273.2L559.5 266.0L560.3 269.0L561.1 266.6L561.9 268.0L562.7 269.2L563.5 266.1L564.3 267.5L565.1 268.1L565.9 268.1L566.7 269.1L567.5 270.0L568.3 269.7L569.1 268.6L569.9 267.5L570.7 266.0L571.5 266.9L572.3 267.3L573.1 269.8L573.9 267.8L574.7 266.1L575.5 269.8L576.3 267.0L577.1 267.2L577.9 268.3L578.7 269.7L579.5 264.0L580.3 266.6L581.1 269.2L581.9 268.2L582.7 267.2L583.5 267.9L584.3 271.7L585.0 268.1L585.1 270.4L585.9 270.6L586.7 268.2L587.5 269.9L588.3 268.2L589.1 267.9L589.9 266.9L590.7 270.9L591.5 268.4L592.3 268.1L593.1 267.0L593.9 272.8L594.7 270.7L595.5 269.0L596.3 267.9L597.1 266.3L597.9 269.9L598.7 269.9L599.5 266.5L600.3 271.7L601.1 270.9L601.9 267.5L602.7 268.3L603.5 268.6L604.3 269.7L605.1 269.1L605.9 266.2L606.7 272.4L607.5 270.1L608.3 272.0L609.1 272.0L609.9 269.1L610.7 270.2L611.5 271.0L612.3 271.0L613.1 269.2L613.9 268.3L614.7 269.6L615.0 267.9L615.5 268.4L616.3 265.4L617.1 269.6L617.9 267.3L618.7 268.2L619.5 269.1L620.3 269.7L621.1 272.8L621.9 269.3L622.7 265.9L623.5 269.1L624.3 267.5L625.0 269.6L625.1 267.2L625.9 267.1L626.7 267.6L627.5 267.3L628.3 264.4L629.1 267.2L629.9 274.3L630.7 284.6L631.5 273.9L632.3 267.9L633.1 270.5L633.9 270.4L634.7 273.4L635.5 270.7L636.3 269.1L637.1 272.9L637.9 273.6L638.7 267.9L639.5 269.8L640.3 261.1L641.1 255.0L641.9 262.6L642.7 268.8L643.5 268.0L644.3 269.1L645.1 269.3L645.9 271.5L646.7 270.6L647.5 267.8L648.3 265.0L649.1 274.7L649.9 275.6L650.0 268.2L650.7 272.3L651.5 263.8L652.3 263.6L653.1 269.1L653.9 276.7L654.7 265.7L655.5 266.7L656.3 277.9L657.1 261.8L657.9 273.8L658.7 273.1L659.5 269.9L660.3 271.9L661.1 284.6L661.9 265.1L662.7 269.5L663.5 270.0L664.3 267.3L665.1 263.2L665.9 281.9L666.7 273.2L667.5 259.8L668.3 267.0L669.1 275.1L669.9 275.2L670.7 261.2L671.5 271.7L672.3 274.7L673.1 275.9L673.9 276.1L674.7 256.8L675.5 289.6L676.3 275.0L677.1 289.8L677.9 300.0L678.7 271.9L679.5 261.7L680.3 281.9L681.1 271.9L681.9 269.3L682.7 263.6L683.5 291.0L684.3 269.5L685.1 259.7L685.9 269.6L686.7 262.2L687.5 276.0L688.3 270.0L689.1 263.1L689.9 281.1L690.7 267.6L691.5 282.7L692.3 288.6L693.1 270.8L693.9 267.7L694.7 277.1L695.5 284.7L696.3 274.9L697.1 276.5L697.9 274.7L698.7 278.4L699.5 281.9L700.0 267.2L700.3 269.7L701.1 275.5L701.9 279.3L702.7 301.0L703.5 291.5L704.3 298.0L705.1 278.7L705.9 266.5L706.7 294.3L707.5 284.7L708.3 262.7L709.1 265.7L709.9 295.6L710.7 291.6L711.5 276.4L712.3 287.7L713.1 258.6L713.9 275.0L714.7 283.1L715.5 254.5L716.3 266.4L717.1 283.6L717.9 287.4L718.7 268.5L719.5 278.2L720.3 292.6L721.1 270.8L721.9 260.3L722.7 274.3L723.5 270.7L724.3 289.3L725.0 276.8L725.1 266.2L725.9 301.4L726.7 269.5L727.5 280.2L728.3 282.4L729.1 283.6L729.9 276.9L730.7 281.4L731.5 274.3L732.3 259.9L733.1 272.7L733.9 273.0L734.7 273.2L735.5 276.4L736.3 268.9L737.1 287.8L737.9 289.9L738.7 254.4L739.5 275.1L740.3 268.6L741.1 251.9L741.9 278.6L742.7 269.7L743.5 271.8L744.3 269.6L745.1 283.8L745.9 284.7L746.7 277.1L747.5 280.0L748.3 274.2L749.1 275.9L749.9 270.3L750.0 275.2L750.7 270.7L751.5 277.2L752.3 279.5L753.1 276.6L753.9 280.8L754.7 287.3L755.5 266.1L756.3 275.2L757.1 273.1L757.9 273.6L758.7 270.6L759.5 275.4L760.3 274.4L761.1 273.3L761.9 274.5L762.7 273.6L763.5 268.4L764.3 278.6L765.1 274.6L765.9 272.9L766.7 276.4L767.5 273.9L768.3 270.1L769.1 277.9L769.9 271.7L770.7 275.3L771.5 276.1L772.3 278.8L773.1 278.4L773.9 276.3L774.7 274.5L775.0 275.2L775.5 278.1L776.3 279.5L777.1 277.1L777.9 274.9L778.7 278.2L779.5 275.6L780.3 275.6L781.1 275.9L781.9 277.6L782.7 277.0L783.5 278.5L784.3 279.1L785.1 277.7L785.9 272.3L786.7 273.6L787.5 277.2L788.3 276.8L789.1 281.1L789.9 277.0L790.7 276.8L791.5 279.0L792.3 279.3L793.1 276.8L793.9 278.2L794.7 275.2L795.5 275.6L796.3 279.8L797.1 274.8L797.9 279.2L798.7 278.8L799.5 279.0L800.0 279.2L800.3 278.6L801.1 273.4L801.9 275.6L802.7 276.4L803.5 279.2L804.3 275.4L805.1 276.2L805.9 276.8L806.7 280.0L807.5 274.8L808.3 274.9L809.1 278.7L809.9 273.5L810.7 278.1L811.5 276.6L812.3 274.5L813.1 276.7L813.9 275.6L814.7 277.8L815.5 278.2L816.3 280.3L817.1 277.5L817.9 277.7L818.7 276.4L819.5 277.5L820.3 279.5L821.1 273.8L821.9 278.8L822.7 276.5L823.5 277.6L824.3 278.1L825.0 279.1L825.1 278.0L825.9 276.8L826.7 278.1L827.5 277.5L828.3 277.1L829.1 277.8L829.9 279.0L830.7 277.6L831.5 277.6L832.3 274.8L833.1 277.0L833.9 273.6L834.7 278.5L835.5 275.3L836.3 279.5L837.1 282.6L837.9 276.1L838.7 279.3L839.5 277.5L840.3 275.6L841.1 275.0L841.9 277.6L842.7 279.1L843.5 277.1L844.3 273.5L845.1 274.3L845.9 275.8L846.7 278.8L847.5 276.7L848.3 276.7L849.1 278.3L849.9 275.6L850.0 275.8L850.7 275.6L851.5 272.6L852.3 276.8L853.1 276.6L853.9 277.7L854.7 273.5L855.5 274.2L856.3 277.5L857.1 276.3L857.9 278.3L858.7 274.0L859.5 276.0L860.3 274.3L861.1 276.2L861.9 274.7L862.7 276.6L863.5 277.6L864.3 276.8L865.1 272.0L865.9 277.2L866.7 276.3L867.5 273.4L868.3 273.7L869.1 275.3L869.9 276.4L870.7 274.4L871.5 272.1L872.3 275.7L873.1 275.4L873.9 279.7L874.7 272.6L875.0 279.8L875.5 278.3L876.3 275.5L877.1 278.0L877.9 274.9L878.7 276.5L879.5 273.2L880.3 274.6L881.1 272.4L881.9 271.2L882.7 273.5L883.5 272.7L884.3 274.8L885.1 276.0L885.9 273.1L886.7 273.4L887.5 273.4L888.3 269.7L889.1 273.2L889.9 272.5L890.7 272.2L891.5 270.0L892.3 268.1L893.1 271.2L893.9 272.0L894.7 273.7L895.5 273.1L896.3 273.4L897.1 271.1L897.9 272.4L898.7 269.5L899.5 270.9L900.0 271.3L900.3 274.5L901.1 269.5L901.9 266.2L902.7 270.7L903.5 266.0L904.3 266.8L905.1 265.8L905.9 264.1L906.7 267.8L907.5 266.0L908.3 263.4L909.1 264.5L909.8 263.5L909.9 265.5L910.7 263.7L911.5 263.3L912.3 264.0L913.1 265.0L913.9 267.0L914.7 265.4L915.5 267.8L916.3 269.5L917.1 273.8L917.9 271.7L918.7 264.9L919.5 270.0L920.3 270.5L920.9 271.9L921.1 274.3L921.9 272.7L922.7 266.9L923.5 271.7L924.3 271.3L925.1 271.7L925.9 273.4L926.7 268.6L927.5 272.6L928.3 267.2L929.1 270.2L929.9 270.6L930.7 274.1L931.5 268.2L932.3 266.1L933.1 270.4L933.9 267.7L934.7 271.7L935.5 267.2L936.3 266.7L937.1 270.6L937.9 268.3L938.7 269.9L939.5 265.2L940.3 271.0L941.1 266.7L941.8 269.4L941.9 265.9L942.7 264.9L943.5 267.3L944.3 268.2L945.1 270.9L945.9 268.6L946.7 269.4L947.5 269.4L948.3 274.1L949.1 266.8L949.9 270.8L950.7 268.3L951.5 269.2L952.3 267.9L953.1 271.3L953.9 266.9L954.7 267.0L955.5 269.3L956.3 267.8L957.1 271.6L957.9 272.3L958.7 269.4L959.5 272.6L960.3 270.2L961.1 271.8L961.4 272.0L961.9 276.0L962.7 274.0L963.5 274.6L964.3 277.4L965.1 284.3L965.9 281.4L966.7 285.8L967.0 286.6L967.5 283.5L968.3 288.7L969.1 292.9L969.9 292.6L970.7 291.5L971.5 295.3L972.3 295.3L972.5 298.1L973.1 292.9L973.9 293.6L974.7 294.4L975.5 294.0L976.3 294.4L977.1 294.0L977.9 292.9L978.7 291.2L979.5 293.1L980.3 291.5L981.1 292.1L981.9 293.1L982.7 295.0L983.5 295.6L984.3 292.0L985.1 294.5L985.9 295.4L986.7 293.8L987.5 290.7L988.3 289.6L989.1 295.2L989.9 295.4L990.6 294.1L990.7 291.6L991.5 296.2L992.3 295.4L993.1 292.6L993.9 291.8L994.7 287.9L995.5 292.4L996.3 287.2L997.1 290.9L997.9 290.3L998.7 288.3L999.5 290.4L1000.3 286.2L1001.1 287.3L1001.9 287.1L1002.7 285.6L1003.5 284.0L1004.3 286.9L1004.6 285.4L1005.1 284.1L1005.9 284.1L1006.7 284.6L1007.5 288.6L1008.3 284.3L1009.1 283.6L1009.9 282.0L1010.7 281.6L1011.5 280.3L1012.3 284.3L1013.1 283.8L1013.9 281.7L1014.7 280.8L1015.5 283.0L1016.3 282.6L1017.1 281.0L1017.9 284.1L1018.7 283.7L1019.5 283.3L1020.3 284.8L1021.1 282.1L1021.9 285.9L1022.7 281.3L1023.5 284.2L1024.3 284.4L1025.1 282.7L1025.5 283.8L1025.9 280.7L1026.7 280.2L1027.5 282.7L1028.3 281.6L1029.1 284.1L1029.9 283.0L1030.7 284.1L1031.5 283.5L1032.3 283.3L1033.1 283.1L1033.9 282.2L1034.7 282.0L1035.5 286.7L1036.3 279.5L1037.1 282.4L1037.9 284.7L1038.7 283.6L1039.5 285.4L1040.3 283.7L1041.1 280.3L1041.9 282.0L1042.7 279.9L1043.5 284.5L1044.3 285.3L1045.1 281.7L1045.9 283.5L1046.4 281.6L1046.7 279.7L1047.5 281.5L1048.3 279.2L1049.1 281.0L1049.9 282.3L1050.7 283.1L1051.5 284.0L1052.3 280.7L1053.1 281.6L1053.9 281.8L1054.7 281.9L1055.5 275.3L1056.3 279.0L1057.1 282.1L1057.9 277.9L1058.7 280.9L1059.0 282.2L1059.5 276.1L1060.3 281.3L1061.1 284.2L1061.9 285.9L1062.7 284.1L1063.5 291.0L1064.3 289.6L1064.5 293.7L1065.1 292.9L1065.9 290.4L1066.7 292.9L1067.5 290.5L1068.3 290.7L1069.1 288.0L1069.9 292.8L1070.7 296.6L1071.5 294.5L1072.3 294.2L1073.1 292.2L1073.9 292.8L1074.7 297.4L1075.5 289.6L1076.3 302.4L1077.1 294.9L1077.9 303.0L1078.7 299.5L1079.5 293.8L1080.3 298.0L1081.1 296.3L1081.3 297.0L1081.9 298.2L1082.7 293.4L1083.5 293.1L1084.3 293.8L1085.1 290.4L1085.9 294.4L1086.7 296.1L1087.5 296.2L1088.3 296.0L1089.1 293.8L1089.9 298.2L1090.7 287.7L1091.5 293.8L1092.3 294.0L1093.1 298.6L1093.9 297.7L1094.7 298.2L1095.5 295.3L1096.3 298.7L1097.1 291.4L1097.9 295.4L1098.7 287.3L1099.5 301.6L1100.3 301.1L1101.1 292.9L1101.9 291.9L1102.2 287.2L1102.7 289.4L1103.5 296.1L1104.3 295.7L1105.1 291.5L1105.9 296.1L1106.7 296.4L1107.5 301.5L1108.3 303.1L1109.1 299.9L1109.2 301.2L1109.9 300.8L1110.7 292.9L1111.5 301.8L1112.3 300.9L1113.1 304.2L1113.9 294.3L1114.7 304.5L1115.5 299.1L1116.3 302.7L1117.1 306.5L1117.9 296.0L1118.7 296.7L1119.5 305.8L1120.3 297.5L1121.1 298.2L1121.9 304.4L1122.7 301.3L1123.5 305.2L1124.3 303.3L1125.1 302.0L1125.9 306.1L1126.5 310.9" fill="none" stroke="#ff0000" stroke-width="5" stroke-linejoin="round" stroke-linecap="round"/>
<path d="M187.5 93.0L188.5 93.8L189.5 93.2L190.5 91.1L191.5 94.3L192.5 93.8L193.5 92.6L194.5 94.3L195.5 94.1L196.5 94.1L197.5 93.9L198.5 94.7L199.5 93.0L200.5 94.0L201.5 93.6L202.5 95.2L203.5 94.5L204.5 94.2L205.5 93.6L206.5 94.4L207.5 94.8L208.5 94.5L209.5 96.8L210.0 96.4L210.5 91.2L211.5 92.4L212.5 94.9L213.5 94.6L214.5 95.6L215.5 95.6L216.5 98.3L217.5 93.9L218.5 95.0L219.5 98.4L220.5 96.5L221.5 96.6L222.5 95.0L223.5 93.4L224.5 96.0L225.5 96.0L226.5 94.1L227.5 94.9L228.5 95.8L229.5 94.6L230.5 95.8L231.5 96.1L232.5 96.0L233.5 95.3L234.5 96.8L235.0 97.2L235.5 96.4L236.5 94.9L237.5 97.0L238.5 95.3L239.5 97.2L240.5 94.4L241.5 97.2L242.5 95.9L243.5 94.1L244.5 95.4L245.5 95.9L246.5 96.2L247.5 94.4L248.5 94.2L249.5 95.9L250.5 95.0L251.5 95.9L252.5 96.6L253.5 93.1L254.5 95.7L255.5 97.0L256.5 94.8L257.5 94.1L258.5 96.2L259.5 95.4L260.0 96.3L260.5 94.5L261.5 92.7L262.5 94.3L263.5 93.5L264.5 94.8L265.5 93.5L266.5 90.5L267.5 90.6L268.5 93.1L269.5 92.5L270.5 88.8L271.5 86.0L272.5 89.7L273.5 91.7L274.5 92.4L275.5 91.7L276.5 91.4L277.5 91.4L278.5 93.5L279.5 89.2L280.5 92.4L281.5 90.9L282.5 87.0L283.5 91.6L284.5 93.0L285.0 95.2L285.5 94.0L286.5 95.3L287.5 96.4L288.5 95.4L289.5 93.9L290.5 93.3L291.5 98.2L292.5 95.8L293.5 95.3L294.5 96.8L295.5 96.6L296.5 98.4L297.5 97.5L298.5 97.9L299.5 97.2L300.5 99.3L301.5 97.5L302.5 100.3L303.5 102.0L304.5 98.1L305.5 97.2L306.5 102.0L307.5 105.1L308.5 100.5L309.5 100.6L310.0 103.3L310.5 101.5L311.5 102.3L312.5 102.9L313.5 104.5L314.5 103.5L315.5 104.8L316.5 104.5L317.5 103.9L318.5 105.0L319.5 104.4L320.5 106.1L321.5 104.8L322.5 105.2L323.5 109.0L324.5 107.3L325.5 107.6L326.5 108.7L327.5 107.7L328.5 108.3L329.5 109.6L330.5 109.7L331.5 108.1L332.5 111.2L333.5 109.6L334.5 106.4L335.0 101.0L335.5 107.3L336.5 113.9L337.5 110.4L338.5 112.7L339.5 109.9L340.5 113.3L341.5 115.1L342.5 113.9L343.5 113.9L344.5 115.6L345.5 116.7L346.5 117.1L347.5 119.4L348.5 117.5L349.5 116.8L350.5 118.0L351.5 118.5L352.5 119.3L353.5 119.6L354.5 120.3L355.5 118.2L356.5 122.1L357.5 120.6L358.5 120.2L359.5 123.2L360.0 124.3L360.5 123.4L361.5 123.3L362.5 122.2L363.5 127.9L364.5 125.4L365.5 122.9L366.5 123.8L367.5 125.3L368.5 123.4L369.5 126.1L370.5 125.6L371.5 128.3L372.5 128.2L373.5 123.5L374.5 127.7L375.5 125.8L376.5 130.0L377.5 129.1L378.5 130.1L379.5 128.3L380.0 132.6L380.5 133.1L381.5 129.3L382.5 132.0L383.5 131.2L384.5 132.8L385.5 131.9L386.5 137.0L387.5 133.9L388.5 135.6L389.5 137.6L390.5 136.8L391.5 138.2L392.5 138.5L393.5 139.8L394.5 139.1L395.5 140.8L396.5 141.7L397.5 142.0L398.5 143.1L399.5 143.1L400.5 145.1L401.5 144.1L402.5 144.8L403.5 144.6L404.5 145.3L405.5 144.7L406.5 147.7L407.5 145.7L408.5 146.7L409.5 148.6L410.5 148.9L411.5 148.0L412.5 146.0L413.5 149.5L414.5 149.4L415.0 147.0L415.5 150.1L416.5 148.0L417.5 147.4L418.5 149.1L419.5 148.6L420.5 149.1L421.5 146.5L422.5 151.2L423.5 147.8L424.5 146.4L425.5 149.3L426.5 147.8L427.5 148.7L428.5 147.6L429.5 147.9L430.5 148.3L431.5 146.8L432.5 148.7L433.5 147.0L434.5 146.3L435.0 147.6L435.5 148.1L436.5 147.0L437.5 146.1L438.5 148.1L439.5 144.6L440.5 145.6L441.5 147.0L442.5 144.9L443.5 146.7L444.5 146.5L445.5 147.8L446.5 145.1L447.5 145.4L448.5 146.7L449.5 142.6L450.5 150.3L451.5 144.9L452.5 144.8L453.5 146.9L454.5 145.5L455.5 143.0L456.5 146.2L457.5 146.5L458.5 144.5L459.5 144.7L460.0 145.7L460.5 143.7L461.5 145.5L462.5 145.0L463.5 143.7L464.5 142.6L465.5 144.1L466.5 143.0L467.5 145.5L468.5 144.2L469.5 145.0L470.5 144.0L471.5 144.0L472.5 142.4L473.5 144.4L474.5 145.8L475.5 142.8L476.5 142.3L477.5 142.8L478.5 142.2L479.5 141.8L480.5 142.9L481.5 142.3L482.5 144.6L483.5 142.6L484.5 143.0L485.0 143.8L485.5 142.1L486.5 144.5L487.5 141.5L488.5 141.3L489.5 141.8L490.5 142.2L491.5 140.3L492.5 142.2L493.5 139.9L494.5 144.2L495.5 142.1L496.5 141.3L497.5 140.9L498.5 141.6L499.5 141.8L500.5 140.6L501.5 140.8L502.5 141.8L503.5 141.3L504.5 143.3L505.5 143.6L506.5 142.0L507.5 142.7L508.5 140.1L509.5 142.9L510.0 142.0L510.5 142.7L511.5 144.2L512.5 138.8L513.5 142.4L514.5 140.5L515.5 142.9L516.5 140.2L517.5 141.4L518.5 142.4L519.5 143.0L520.5 142.2L521.5 141.0L522.5 141.4L523.5 143.4L524.5 142.2L525.5 139.9L526.5 143.4L527.5 142.9L528.5 143.5L529.5 141.9L530.5 143.5L531.5 140.9L532.5 143.2L533.5 141.8L534.5 143.4L535.0 143.9L535.5 141.5L536.5 142.5L537.5 142.6L538.5 144.3L539.5 143.7L540.5 141.0L541.5 143.4L542.5 143.9L543.5 145.9L544.5 140.6L545.5 142.3L546.5 144.9L547.5 141.2L548.5 141.5L549.5 144.0L550.5 144.8L551.5 142.5L552.5 144.2L553.5 143.7L554.5 145.7L555.5 143.7L556.5 145.1L557.5 142.6L558.5 143.6L559.5 143.8L560.0 145.6L560.5 144.8L561.5 143.1L562.5 145.1L563.5 145.3L564.5 144.2L565.5 144.1L566.5 144.2L567.5 142.2L568.5 144.9L569.5 145.1L570.5 143.6L571.5 146.0L572.5 143.1L573.5 144.3L574.5 144.5L575.5 148.0L576.5 143.1L577.5 146.2L578.5 146.8L579.5 146.1L580.5 147.3L581.5 144.3L582.5 142.6L583.5 147.0L584.5 144.3L585.0 145.5L585.5 144.4L586.5 147.6L587.5 147.4L588.5 145.2L589.5 147.5L590.5 146.5L591.5 146.2L592.5 146.5L593.5 146.2L594.5 147.4L595.5 147.0L596.5 146.1L597.5 148.1L598.5 145.9L599.5 147.2L600.5 147.4L601.5 149.1L602.5 146.2L603.5 149.8L604.5 147.4L605.5 146.8L606.5 146.0L607.5 148.4L608.5 147.5L609.5 145.3L610.0 145.2L610.5 146.4L611.5 146.3L612.5 150.2L613.5 151.1L614.5 150.2L615.5 149.3L616.5 147.7L617.5 149.1L618.5 151.4L619.5 154.9L620.5 152.0L621.5 148.9L622.5 150.0L623.5 148.6L624.5 147.7L625.0 149.5L625.5 150.6L626.5 155.5L627.5 149.9L628.5 153.8L629.5 154.9L630.5 149.0L631.5 153.9L632.5 150.5L633.5 146.1L634.5 148.2L635.5 146.9L636.5 145.7L637.5 145.5L638.5 146.7L639.5 143.6L640.0 136.0L640.5 142.5L641.5 139.9L642.5 147.3L643.5 149.1L644.5 147.5L645.5 148.4L646.5 150.2L647.5 145.0L648.5 147.4L649.5 151.3L650.5 154.2L651.5 151.9L652.5 162.8L653.5 150.6L654.5 156.4L655.5 158.3L656.5 151.7L657.5 148.6L658.5 147.0L659.5 154.2L660.5 159.4L661.5 159.6L662.5 168.0L663.5 157.4L664.5 156.8L665.5 141.9L666.5 154.9L667.5 153.8L668.5 145.8L669.5 165.9L670.5 145.4L671.5 147.1L672.5 146.2L673.5 159.7L674.5 147.8L675.5 157.0L676.5 156.4L677.5 154.3L678.5 144.6L679.5 148.8L680.5 162.9L681.5 140.7L682.5 134.0L683.5 145.2L684.5 157.4L685.5 153.8L686.5 156.9L687.5 145.1L688.5 158.2L689.5 155.7L690.0 141.5L690.5 162.1L691.5 167.1L692.5 146.9L693.5 152.4L694.5 161.3L695.5 142.2L696.5 138.7L697.5 143.4L698.5 154.8L699.5 167.0L700.5 160.0L701.5 153.9L702.5 143.7L703.5 156.0L704.5 165.0L705.5 160.4L706.5 159.0L707.5 152.4L708.5 159.0L709.5 145.6L710.5 157.5L711.5 151.7L712.5 160.2L713.5 155.6L714.5 144.8L715.5 153.3L716.5 150.4L717.5 131.0L718.5 154.3L719.5 176.0L720.5 154.7L721.5 158.5L722.5 160.5L723.5 157.3L724.5 154.1L725.5 152.5L726.5 147.4L727.5 135.0L728.5 149.6L729.5 158.1L730.5 157.5L731.5 150.7L732.5 153.5L733.5 152.5L734.5 160.7L735.5 154.0L736.5 146.1L737.5 154.9L738.5 160.2L739.5 155.9L740.5 159.8L741.5 166.0L742.5 154.0L743.5 148.3L744.5 150.2L745.5 153.4L746.5 154.5L747.5 155.4L748.5 153.0L749.5 155.8L750.0 153.2L750.5 152.3L751.5 155.4L752.5 152.0L753.5 148.6L754.5 151.8L755.5 153.9L756.5 148.3L757.5 153.1L758.5 153.2L759.5 151.4L760.5 151.4L761.5 153.0L762.5 152.9L763.5 155.6L764.5 154.3L765.5 151.5L766.5 152.6L767.5 154.7L768.5 156.4L769.5 154.3L770.5 154.2L771.5 156.3L772.5 153.7L773.5 153.3L774.5 151.8L775.0 153.0L775.5 156.8L776.5 151.8L777.5 153.7L778.5 151.7L779.5 153.8L780.5 154.8L781.5 153.2L782.5 154.5L783.5 154.4L784.5 154.0L785.5 155.6L786.5 154.3L787.5 152.7L788.5 152.1L789.5 151.8L790.5 153.5L791.5 152.4L792.5 156.4L793.5 155.2L794.5 152.4L795.5 152.2L796.5 154.8L797.5 150.0L798.5 151.9L799.5 153.8L800.0 151.3L800.5 151.9L801.5 152.1L802.5 153.6L803.5 153.0L804.5 153.6L805.5 154.1L806.5 153.6L807.5 155.3L808.5 153.2L809.5 152.6L810.5 152.6L811.5 153.1L812.5 154.9L813.5 157.3L814.5 156.6L815.5 156.0L816.5 155.7L817.5 156.7L818.5 157.2L819.5 157.2L820.5 156.4L821.5 157.8L822.5 159.9L823.5 155.9L824.5 158.4L825.0 156.0L825.5 159.0L826.5 157.7L827.5 155.8L828.5 158.4L829.5 160.3L830.5 157.8L831.5 158.7L832.5 156.7L833.5 153.6L834.5 156.5L835.5 154.8L836.5 153.0L837.5 155.4L838.5 154.2L839.5 152.8L840.5 154.1L841.5 151.5L842.5 153.0L843.5 150.7L844.5 152.3L845.5 150.1L846.5 153.1L847.5 151.6L848.5 153.1L849.5 150.5L850.5 151.2L851.5 153.2L852.5 149.3L853.5 152.0L854.5 155.2L855.5 155.2L856.5 156.5L857.5 155.7L858.5 157.6L859.5 156.8L860.5 156.8L861.5 157.2L862.5 159.3L863.5 160.1L864.5 160.9L865.5 158.3L866.5 161.1L867.5 163.8L868.5 165.8L869.5 165.9L870.5 166.6L871.5 166.1L872.5 172.1L873.5 169.6L874.5 173.8L875.0 174.2L875.5 173.4L876.5 173.6L877.5 175.7L878.5 175.7L879.5 178.7L880.5 179.9L881.5 181.9L882.5 183.8L883.5 185.9L884.5 185.1L885.5 187.7L886.5 187.0L887.5 187.8L888.5 188.7L889.5 188.9L890.0 190.9L890.5 191.0L891.5 191.6L892.5 190.6L893.5 191.0L894.5 190.5L895.5 190.1L896.5 191.7L897.5 191.6L898.5 190.5L899.5 192.0L900.0 190.0L900.5 191.3L901.5 190.8L902.5 190.6L903.5 189.7L904.5 190.8L905.5 189.9L906.5 189.6L907.5 188.0L908.5 186.1L909.5 186.0L910.5 184.5L911.5 185.0L912.5 184.8L913.5 183.4L914.0 182.3L914.5 182.1L915.5 181.8L916.5 179.6L917.5 179.9L918.5 179.0L919.5 177.4L920.5 176.5L921.5 176.0L922.5 174.2L923.5 173.3L924.5 173.7L925.5 172.5L926.5 173.0L927.5 170.2L928.5 169.2L929.5 171.1L930.5 171.0L930.7 169.6L931.5 169.0L932.5 170.5L933.5 169.5L934.5 171.2L935.5 170.4L936.5 172.9L937.5 172.4L938.5 175.0L939.0 177.0L939.5 176.4L940.5 180.5L941.5 183.8L942.5 188.4L943.5 192.2L944.5 197.3L944.6 196.6L945.5 199.6L946.5 199.0L947.5 201.3L948.5 203.0L949.5 205.4L950.5 206.9L951.5 205.9L952.5 206.4L953.5 206.6L954.5 209.8L955.5 209.0L955.8 208.6L956.5 209.3L957.5 207.5L958.5 208.4L959.5 210.8L960.5 210.6L961.5 210.6L962.5 209.8L963.5 211.3L964.5 212.4L965.5 210.0L966.5 211.1L967.5 210.8L968.5 211.5L969.5 211.3L969.7 211.1L970.5 210.5L971.5 211.1L972.5 210.5L973.5 210.7L974.5 210.5L975.5 210.8L976.5 209.5L977.5 209.3L978.5 210.1L979.5 208.6L980.5 208.1L981.5 208.6L982.5 207.6L983.5 207.0L984.5 206.6L985.5 204.9L986.5 205.9L987.5 206.1L988.5 205.0L989.5 202.8L990.5 203.9L990.6 202.9L991.5 203.1L992.5 203.0L993.5 201.4L994.5 203.1L995.5 201.4L996.5 201.6L997.5 201.0L998.5 201.1L999.5 200.5L1000.5 197.7L1001.5 198.5L1002.5 196.1L1003.5 197.1L1004.5 197.6L1005.5 197.4L1006.5 197.3L1007.5 195.5L1008.5 195.7L1009.5 195.2L1010.5 195.9L1011.5 196.0L1011.6 194.3L1012.5 197.6L1013.5 194.2L1014.5 193.6L1015.5 194.2L1016.5 194.2L1017.5 193.8L1018.5 192.6L1019.5 194.3L1020.5 192.9L1021.5 194.1L1022.5 193.8L1023.5 191.4L1024.5 191.6L1025.5 191.6L1026.5 192.7L1027.5 192.7L1028.5 193.1L1029.5 192.4L1030.5 193.8L1031.5 195.0L1032.5 193.0L1033.5 194.4L1034.5 195.2L1035.5 195.3L1036.5 195.7L1036.7 197.5L1037.5 197.5L1038.5 197.7L1039.5 197.0L1040.5 200.5L1041.5 199.6L1042.5 199.7L1043.5 200.8L1044.5 201.6L1045.5 204.8L1046.4 203.9L1046.5 203.8L1047.5 202.7L1048.5 206.1L1049.5 205.3L1050.5 206.0L1051.5 208.4L1052.5 207.9L1053.5 210.2L1054.5 211.3L1055.5 209.6L1056.5 212.0L1057.5 211.7L1058.5 214.1L1059.5 216.0L1060.4 215.0L1060.5 217.9L1061.5 217.3L1062.5 217.9L1063.5 220.5L1064.5 223.0L1065.5 222.8L1066.5 225.8L1067.5 226.4L1068.5 230.6L1069.5 231.4L1070.5 232.6L1071.5 235.6L1072.5 235.0L1073.5 237.2L1074.3 240.1L1074.5 238.6L1075.5 241.0L1076.5 241.0L1077.5 241.1L1078.5 242.5L1079.5 243.7L1080.5 243.8L1081.3 243.7L1081.5 243.9L1082.5 243.5L1083.5 246.1L1084.5 247.0L1085.5 248.1L1086.5 244.6L1087.5 249.1L1088.5 248.2L1089.5 246.1L1090.5 249.1L1091.5 250.7L1092.5 250.4L1093.5 250.9L1094.5 251.4L1095.2 251.3L1095.5 249.6L1096.5 245.8L1097.5 248.2L1098.5 250.3L1099.5 248.8L1100.5 251.0L1101.5 251.2L1102.5 249.8L1103.5 253.3L1104.5 247.8L1105.5 251.5L1106.5 248.7L1107.5 248.1L1108.5 250.8L1109.2 248.4L1109.5 251.4L1110.5 247.5L1111.5 250.3L1112.5 249.0L1113.5 250.8L1114.5 251.2L1115.5 250.3L1116.5 254.6L1117.5 251.3L1118.5 252.3L1119.5 256.8L1120.5 257.6L1121.5 257.5L1122.5 257.4L1123.5 262.1L1124.5 255.2L1125.5 256.7L1126.5 256.8" fill="none" stroke="#000000" stroke-width="5" stroke-linejoin="round" stroke-linecap="round"/>
<path d="M188.5 1410.8L189.0 1410.7L189.5 1410.7L190.0 1410.7L190.5 1410.7L191.0 1410.7L191.5 1410.7L192.0 1410.7L192.5 1410.7L193.0 1410.7L193.5 1410.7L194.0 1410.7L194.5 1410.7L195.0 1410.6L195.5 1410.6L196.0 1410.6L196.5 1410.6L197.0 1410.6L197.5 1410.6L198.0 1410.6L198.5 1410.6L199.0 1410.6L199.5 1410.6L200.0 1410.6L200.5 1410.6L201.0 1410.6L201.5 1410.5L202.0 1410.5L202.5 1410.5L203.0 1410.5L203.5 1410.5L204.0 1410.5L204.5 1410.5L205.0 1410.5L205.5 1410.5L206.0 1410.5L206.5 1410.5L207.0 1410.5L207.5 1410.5L208.0 1410.5L208.5 1410.5L209.0 1410.4L209.5 1410.4L210.0 1410.4L210.5 1410.4L211.0 1410.4L211.5 1410.4L212.0 1410.4L212.5 1410.4L213.0 1410.4L213.5 1410.4L214.0 1410.4L214.5 1410.4L215.0 1410.4L215.5 1410.4L216.0 1410.4L216.5 1410.4L217.0 1410.4L217.5 1410.3L218.0 1410.3L218.5 1410.3L219.0 1410.3L219.5 1410.3L220.0 1410.3L220.5 1410.3L221.0 1410.3L221.5 1410.3L222.0 1410.3L222.5 1410.3L223.0 1410.3L223.5 1410.3L224.0 1410.3L224.5 1410.3L225.0 1410.3L225.5 1410.3L226.0 1410.3L226.5 1410.3L227.0 1410.3L227.5 1410.3L228.0 1410.3L228.5 1410.3L229.0 1410.3L229.5 1410.3L230.0 1410.3L230.5 1410.3L231.0 1410.3L231.5 1410.3L232.0 1410.3L232.5 1410.3L233.0 1410.3L233.5 1410.3L234.0 1410.3L234.5 1410.3L235.0 1410.3L235.5 1410.3L236.0 1410.2L236.5 1410.2L237.0 1410.2L237.5 1410.2L238.0 1410.2L238.5 1410.2L239.0 1410.2L239.5 1410.2L240.0 1410.2L240.5 1410.2L241.0 1410.2L241.5 1410.2L242.0 1410.2L242.5 1410.2L243.0 1410.2L243.5 1410.2L244.0 1410.2L244.5 1410.2L245.0 1410.2L245.5 1410.2L246.0 1410.2L246.5 1410.2L247.0 1410.2L247.5 1410.2L248.0 1410.2L248.5 1410.2L249.0 1410.2L249.5 1410.2L250.0 1410.2L250.5 1410.2L251.0 1410.2L251.5 1410.2L252.0 1410.2L252.5 1410.2L253.0 1410.2L253.5 1410.2L254.0 1410.2L254.5 1410.2L255.0 1410.2L255.5 1410.2L256.0 1410.2L256.5 1410.2L257.0 1410.2L257.5 1410.2L258.0 1410.2L258.5 1410.2L259.0 1410.2L259.5 1410.2L260.0 1410.2L260.5 1410.2L261.0 1410.2L261.5 1410.2L262.0 1410.2L262.5 1410.2L263.0 1410.2L263.5 1410.2L264.0 1410.2L264.5 1410.2L265.0 1410.2L265.5 1410.2L266.0 1410.2L266.5 1410.2L267.0 1410.2L267.5 1410.2L268.0 1410.2L268.5 1410.2L269.0 1410.2L269.5 1410.2L270.0 1410.2L270.5 1410.2L271.0 1410.2L271.5 1410.2L272.0 1410.2L272.5 1410.2L273.0 1410.2L273.5 1410.2L274.0 1410.2L274.5 1410.2L275.0 1410.2L275.5 1410.2L276.0 1410.2L276.5 1410.2L277.0 1410.2L277.5 1410.2L278.0 1410.2L278.5 1410.2L279.0 1410.2L279.5 1410.2L280.0 1410.2L280.5 1410.2L281.0 1410.2L281.5 1410.3L282.0 1410.3L282.5 1410.3L283.0 1410.3L283.5 1410.3L284.0 1410.3L284.5 1410.4L285.0 1410.4L285.5 1410.4L286.0 1410.5L286.5 1410.5L287.0 1410.6L287.5 1410.6L288.0 1410.7L288.5 1410.7L289.0 1410.8L289.5 1410.8L290.0 1410.9L290.5 1411.0L291.0 1411.0L291.5 1411.1L292.0 1411.2L292.5 1411.3L293.0 1411.3L293.5 1411.4L294.0 1411.5L294.5 1411.6L295.0 1411.6L295.5 1411.7L296.0 1411.8L296.5 1411.9L297.0 1412.0L297.5 1412.1L298.0 1412.1L298.5 1412.2L299.0 1412.3L299.5 1412.4L300.0 1412.5L300.5 1412.6L301.0 1412.7L301.5 1412.7L302.0 1412.8L302.5 1412.9L303.0 1413.0L303.5 1413.1L304.0 1413.1L304.5 1413.2L305.0 1413.3L305.5 1413.4L306.0 1413.4L306.5 1413.5L307.0 1413.6L307.5 1413.6L308.0 1413.7L308.5 1413.8L309.0 1413.8L309.5 1413.9L310.0 1413.9L310.5 1414.0L311.0 1414.0L311.5 1414.0L312.0 1414.1L312.5 1414.1L313.0 1414.2L313.5 1414.2L314.0 1414.3L314.5 1414.3L315.0 1414.3L315.5 1414.4L316.0 1414.4L316.5 1414.5L317.0 1414.5L317.5 1414.5L318.0 1414.6L318.5 1414.6L319.0 1414.7L319.5 1414.7L320.0 1414.8L320.5 1414.8L321.0 1414.8L321.5 1414.9L322.0 1414.9L322.5 1415.0L323.0 1415.0L323.5 1415.1L324.0 1415.1L324.5 1415.1L325.0 1415.2L325.5 1415.2L326.0 1415.3L326.5 1415.3L327.0 1415.3L327.5 1415.4L328.0 1415.4L328.5 1415.5L329.0 1415.5L329.5 1415.5L330.0 1415.6L330.5 1415.6L331.0 1415.7L331.5 1415.7L332.0 1415.7L332.5 1415.8L333.0 1415.8L333.5 1415.8L334.0 1415.9L334.5 1415.9L335.0 1416.0L335.5 1416.0L336.0 1416.0L336.5 1416.1L337.0 1416.1L337.5 1416.1L338.0 1416.2L338.5 1416.2L339.0 1416.2L339.5 1416.3L340.0 1416.3L340.5 1416.3L341.0 1416.3L341.5 1416.4L342.0 1416.4L342.5 1416.4L343.0 1416.5L343.5 1416.5L344.0 1416.5L344.5 1416.5L345.0 1416.6L345.5 1416.6L346.0 1416.6L346.5 1416.6L347.0 1416.7L347.5 1416.7L348.0 1416.7L348.5 1416.7L349.0 1416.7L349.5 1416.8L350.0 1416.8L350.5 1416.8L351.0 1416.8L351.5 1416.8L352.0 1416.9L352.5 1416.9L353.0 1416.9L353.5 1416.9L354.0 1416.9L354.5 1416.9L355.0 1416.9L355.5 1416.9L356.0 1417.0L356.5 1417.0L357.0 1417.0L357.5 1417.0L358.0 1417.0L358.5 1417.0L359.0 1417.0L359.5 1417.0L360.0 1417.0L360.5 1417.0L361.0 1417.0L361.5 1417.0L362.0 1417.0L362.5 1416.9L363.0 1416.8L363.5 1416.8L364.0 1416.7L364.5 1416.6L365.0 1416.4L365.5 1416.3L366.0 1416.2L366.5 1416.0L367.0 1415.8L367.5 1415.7L368.0 1415.5L368.5 1415.3L369.0 1415.1L369.5 1415.0L370.0 1414.8L370.5 1414.6L371.0 1414.4L371.5 1414.2L372.0 1414.1L372.5 1413.9L373.0 1413.7L373.5 1413.6L374.0 1413.4L374.5 1413.3L375.0 1413.2L375.5 1413.1L376.0 1413.0L376.5 1412.9L377.0 1412.8L377.5 1412.8L378.0 1412.8L378.5 1412.8L379.0 1412.8L379.5 1412.8L380.0 1412.8L380.5 1412.8L381.0 1412.8L381.5 1412.8L382.0 1412.8L382.5 1412.8L383.0 1412.8L383.5 1412.8L384.0 1412.8L384.5 1412.8L385.0 1412.8L385.5 1412.8L386.0 1412.8L386.5 1412.8L387.0 1412.8L387.5 1412.8L388.0 1412.8L388.5 1412.8L389.0 1412.8L389.5 1412.8L390.0 1412.8L390.5 1412.8L391.0 1412.8L391.5 1412.8L392.0 1412.8L392.5 1412.8L393.0 1412.8L393.5 1412.8L394.0 1412.8L394.5 1412.8L395.0 1412.8L395.5 1412.8L396.0 1412.8L396.5 1412.8L397.0 1412.8L397.5 1412.8L398.0 1412.8L398.5 1412.8L399.0 1412.8L399.5 1412.8L400.0 1412.8L400.5 1412.8L401.0 1412.8L401.5 1412.8L402.0 1412.8L402.5 1412.8L403.0 1412.8L403.5 1412.8L404.0 1412.8L404.5 1412.8L405.0 1412.8L405.5 1412.8L406.0 1412.8L406.5 1412.8L407.0 1412.8L407.5 1412.8L408.0 1412.8L408.5 1412.8L409.0 1412.8L409.5 1412.8L410.0 1412.8L410.5 1412.8L411.0 1412.8L411.5 1412.8L412.0 1412.8L412.5 1412.8L413.0 1412.8L413.5 1412.8L414.0 1412.8L414.5 1412.8L415.0 1412.8L415.5 1412.8L416.0 1412.8L416.5 1412.8L417.0 1412.8L417.5 1412.8L418.0 1412.8L418.5 1412.8L419.0 1412.8L419.5 1412.8L420.0 1412.8L420.5 1412.8L421.0 1412.8L421.5 1412.8L422.0 1412.8L422.5 1412.8L423.0 1412.9L423.5 1412.9L424.0 1412.9L424.5 1412.9L425.0 1412.9L425.5 1412.9L426.0 1412.9L426.5 1412.9L427.0 1413.0L427.5 1413.0L428.0 1413.0L428.5 1413.0L429.0 1413.0L429.5 1413.0L430.0 1413.0L430.5 1413.1L431.0 1413.1L431.5 1413.1L432.0 1413.1L432.5 1413.1L433.0 1413.2L433.5 1413.2L434.0 1413.2L434.5 1413.2L435.0 1413.3L435.5 1413.3L436.0 1413.3L436.5 1413.3L437.0 1413.4L437.5 1413.4L438.0 1413.4L438.5 1413.5L439.0 1413.5L439.5 1413.5L440.0 1413.6L440.5 1413.6L441.0 1413.6L441.5 1413.7L442.0 1413.7L442.5 1413.7L443.0 1413.8L443.5 1413.8L444.0 1413.8L444.5 1413.9L445.0 1413.9L445.5 1414.0L446.0 1414.0L446.5 1414.1L447.0 1414.1L447.5 1414.1L448.0 1414.2L448.5 1414.2L449.0 1414.3L449.5 1414.3L450.0 1414.4L450.5 1414.4L451.0 1414.5L451.5 1414.6L452.0 1414.9L452.5 1415.2L453.0 1415.7L453.5 1416.2L454.0 1416.8L454.5 1417.5L455.0 1418.3L455.5 1419.1L456.0 1419.9L456.5 1420.8L457.0 1421.7L457.5 1422.6L458.0 1423.6L458.5 1424.5L459.0 1425.6L459.5 1427.0L460.0 1428.7L460.5 1430.5L461.0 1432.3L461.5 1434.0L462.0 1435.6L462.5 1436.9L463.0 1437.8L463.5 1438.2L464.0 1438.4L464.5 1438.6L465.0 1438.7L465.5 1438.7L466.0 1438.8L466.5 1438.8L467.0 1438.9L467.5 1439.0L468.0 1439.0L468.5 1439.1L469.0 1439.2L469.5 1439.4L469.8 1439.5L470.0 1439.8L470.5 1441.3L471.0 1443.6L471.5 1446.5L472.0 1449.4L472.5 1451.9L473.0 1453.8L473.5 1454.5L474.0 1454.5L474.5 1454.5L475.0 1454.5L475.5 1454.5L476.0 1454.5L476.5 1454.5L477.0 1454.5L477.5 1454.5L478.0 1454.5L478.5 1454.5L479.0 1454.5L479.5 1454.5L480.0 1454.5L480.5 1454.5L481.0 1454.5L481.5 1454.6L482.0 1455.0L482.5 1455.6L483.0 1456.4L483.5 1457.3L484.0 1458.4L484.5 1459.7L485.0 1461.0L485.5 1462.4L486.0 1463.9L486.5 1465.4L487.0 1466.9L487.5 1468.4L488.0 1469.8L488.5 1471.2L489.0 1472.5L489.5 1473.6L490.0 1474.7L490.5 1475.5L491.0 1476.2L491.5 1476.7L492.0 1477.0L492.2 1477.0L492.5 1476.9L493.0 1476.0L493.5 1474.2L494.0 1471.8L494.5 1468.9L495.0 1465.6L495.5 1462.0L496.0 1458.2L496.5 1454.5L497.0 1450.9L497.5 1447.5L498.0 1444.5L498.5 1442.0L499.0 1439.7L499.5 1437.4L500.0 1435.0L500.5 1432.8L501.0 1430.9L501.5 1429.4L502.0 1428.5L502.2 1428.2L502.5 1428.1L503.0 1427.8L503.5 1427.6L504.0 1427.4L504.5 1427.3L505.0 1427.2L505.5 1427.0L506.0 1426.9L506.5 1426.9L507.0 1426.8L507.5 1426.7L508.0 1426.6L508.5 1426.5L509.0 1426.4L509.5 1426.3L510.0 1426.1L510.5 1426.0L511.0 1425.8L511.5 1425.5L512.0 1425.1L512.5 1424.6L513.0 1424.1L513.5 1423.5L514.0 1422.9L514.5 1422.3L515.0 1421.6L515.5 1421.0L516.0 1420.4L516.5 1419.8L517.0 1419.3L517.5 1418.9L518.0 1418.5L518.5 1418.2L519.0 1418.0L519.5 1417.8L520.0 1417.7L520.5 1417.5L521.0 1417.3L521.5 1417.1L522.0 1416.9L522.5 1416.7L523.0 1416.6L523.5 1416.4L524.0 1416.2L524.5 1416.1L525.0 1415.9L525.5 1415.7L526.0 1415.6L526.5 1415.5L527.0 1415.3L527.5 1415.2L528.0 1415.0L528.5 1414.9L529.0 1414.8L529.5 1414.7L530.0 1414.5L530.5 1414.4L531.0 1414.3L531.5 1414.2L532.0 1414.1L532.5 1414.0L533.0 1414.0L533.5 1413.9L534.0 1413.8L534.5 1413.7L535.0 1413.6L535.5 1413.6L536.0 1413.5L536.5 1413.5L537.0 1413.4L537.5 1413.4L538.0 1413.4L538.5 1413.3L539.0 1413.3L539.5 1413.3L540.0 1413.3L540.5 1413.3L541.0 1413.2L541.5 1413.2L542.0 1413.2L542.5 1413.2L543.0 1413.2L543.5 1413.2L544.0 1413.2L544.5 1413.2L545.0 1413.2L545.5 1413.2L546.0 1413.2L546.5 1413.2L547.0 1413.2L547.5 1413.2L548.0 1413.2L548.5 1413.2L549.0 1413.2L549.5 1413.2L550.0 1413.2L550.5 1413.2L551.0 1413.2L551.5 1413.2L552.0 1413.2L552.5 1413.2L553.0 1413.2L553.5 1413.2L554.0 1413.2L554.5 1413.2L555.0 1413.2L555.5 1413.2L556.0 1413.2L556.5 1413.2L557.0 1413.2L557.5 1413.2L558.0 1413.2L558.5 1413.2L559.0 1413.2L559.5 1413.2L560.0 1413.2L560.5 1413.2L561.0 1413.2L561.5 1413.3L562.0 1413.3L562.5 1413.3L563.0 1413.3L563.5 1413.3L564.0 1413.4L564.5 1413.4L565.0 1413.5L565.5 1413.5L566.0 1413.6L566.5 1413.7L567.0 1413.7L567.5 1413.8L568.0 1413.9L568.5 1414.0L569.0 1414.0L569.5 1414.1L570.0 1414.2L570.5 1414.3L571.0 1414.4L571.5 1414.5L572.0 1414.6L572.5 1414.7L573.0 1414.8L573.5 1414.9L574.0 1415.0L574.5 1415.1L575.0 1415.2L575.5 1415.3L576.0 1415.4L576.5 1415.4L577.0 1415.5L577.5 1415.6L578.0 1415.7L578.5 1415.8L579.0 1415.9L579.5 1416.0L580.0 1416.0L580.5 1416.1L581.0 1416.2L581.5 1416.2L582.0 1416.3L582.5 1416.3L583.0 1416.4L583.5 1416.4L584.0 1416.4L584.5 1416.5L585.0 1416.5L585.5 1416.5L586.0 1416.5L586.5 1416.5L587.0 1416.5L587.5 1416.4L588.0 1416.4L588.5 1416.4L589.0 1416.3L589.5 1416.2L590.0 1416.2L590.5 1416.1L591.0 1416.0L591.5 1415.9L592.0 1415.8L592.5 1415.7L593.0 1415.6L593.5 1415.5L594.0 1415.4L594.5 1415.3L595.0 1415.2L595.5 1415.0L596.0 1414.9L596.5 1414.8L597.0 1414.7L597.5 1414.6L598.0 1414.5L598.5 1414.4L599.0 1414.3L599.5 1414.2L600.0 1414.1L600.5 1414.1L601.0 1414.0L601.5 1413.9L602.0 1413.9L602.5 1413.8L603.0 1413.7L603.5 1413.7L604.0 1413.6L604.5 1413.5L605.0 1413.5L605.5 1413.4L606.0 1413.3L606.5 1413.3L607.0 1413.2L607.5 1413.1L608.0 1413.1L608.5 1413.0L609.0 1412.9L609.5 1412.9L610.0 1412.8L610.5 1412.8L611.0 1412.7L611.5 1412.7L612.0 1412.6L612.5 1412.6L613.0 1412.5L613.5 1412.5L614.0 1412.5L614.5 1412.4L615.0 1412.4L615.5 1412.4L616.0 1412.4L616.5 1412.4L616.6 1412.4L617.0 1412.4L617.5 1412.4L618.0 1412.4L618.5 1412.4L619.0 1412.4L619.5 1412.4L620.0 1412.4L620.5 1412.4L621.0 1412.5L621.5 1412.5L622.0 1412.5L622.5 1412.5L623.0 1412.5L623.5 1412.5L624.0 1412.6L624.5 1412.6L625.0 1412.6L625.5 1412.6L626.0 1412.7L626.5 1412.7L627.0 1412.7L627.5 1412.8L628.0 1412.8L628.5 1412.8L629.0 1412.9L629.5 1412.9L630.0 1413.0L630.5 1413.0L631.0 1413.0L631.5 1413.1L632.0 1413.1L632.5 1413.2L633.0 1413.2L633.5 1413.3L634.0 1413.3L634.5 1413.4L635.0 1413.5L635.5 1413.5L636.0 1413.6L636.5 1413.6L637.0 1413.7L637.5 1413.8L638.0 1413.8L638.5 1413.9L639.0 1414.0L639.5 1414.0L640.0 1414.1L640.5 1414.2L641.0 1414.3L641.5 1414.4L642.0 1414.4L642.5 1414.5L643.0 1414.6L643.5 1414.7L644.0 1414.8L644.5 1414.9L645.0 1415.0L645.5 1415.0L646.0 1415.1L646.5 1415.2L647.0 1415.3L647.5 1415.4L648.0 1415.5L648.5 1415.6L649.0 1415.7L649.5 1415.9L649.7 1415.9L650.0 1416.0L650.5 1416.1L651.0 1416.3L651.5 1416.6L652.0 1416.9L652.5 1417.2L653.0 1417.6L653.5 1418.0L654.0 1418.4L654.5 1418.9L655.0 1419.3L655.5 1419.8L656.0 1420.3L656.5 1420.8L657.0 1421.3L657.5 1421.8L658.0 1422.3L658.5 1422.8L659.0 1423.3L659.4 1423.7L659.5 1423.8L660.0 1424.3L660.5 1424.8L661.0 1425.4L661.5 1426.0L662.0 1426.6L662.5 1427.2L663.0 1427.8L663.5 1428.5L664.0 1429.1L664.5 1429.8L665.0 1430.4L665.5 1431.0L666.0 1431.7L666.5 1432.3L667.0 1432.9L667.5 1433.5L668.0 1434.1L668.5 1434.7L669.0 1435.2L669.2 1435.4L669.5 1435.7L670.0 1436.2L670.5 1436.6L671.0 1437.1L671.5 1437.5L672.0 1437.9L672.5 1438.3L673.0 1438.7L673.5 1439.0L674.0 1439.4L674.5 1439.7L675.0 1440.1L675.5 1440.5L676.0 1440.8L676.5 1441.2L677.0 1441.5L677.5 1441.9L678.0 1442.3L678.5 1442.7L679.0 1443.1L679.5 1443.6L680.0 1444.0L680.5 1444.5L681.0 1445.0L681.5 1445.6L682.0 1446.1L682.5 1446.7L682.8 1447.1L683.0 1447.4L683.5 1448.0L684.0 1448.7L684.5 1449.4L685.0 1450.1L685.5 1451.0L686.0 1451.9L686.5 1452.9L687.0 1454.0L687.5 1455.2L688.0 1456.6L688.5 1458.1L688.7 1458.8L689.0 1459.9L689.5 1462.2L690.0 1465.2L690.5 1468.8L691.0 1473.1L691.5 1478.2L692.0 1483.9L692.5 1490.5L692.6 1491.9L693.0 1499.9L693.5 1514.7L694.0 1532.4L694.5 1550.4L695.0 1569.2L695.5 1589.9L696.0 1610.3L696.5 1628.3L697.0 1643.5L697.5 1657.1L698.0 1670.0L698.5 1682.5L699.0 1695.3L699.4 1706.2L699.5 1709.1L700.0 1726.3L700.5 1745.8L701.0 1764.7L701.5 1780.4L702.0 1790.1L702.3 1791.9L702.5 1791.2L703.0 1783.7L703.5 1769.9L704.0 1752.1L704.5 1732.4L705.0 1713.2L705.2 1706.2L705.5 1695.7L706.0 1676.7L706.5 1656.7L707.0 1636.3L707.2 1628.3L707.5 1615.8L708.0 1593.7L708.5 1572.2L709.0 1553.6L709.1 1550.4L709.5 1538.5L710.0 1524.7L710.5 1512.0L711.0 1500.6L711.5 1490.6L712.0 1482.2L712.5 1474.7L713.0 1467.6L713.5 1461.0L714.0 1454.9L714.5 1449.6L715.0 1445.0L715.5 1441.4L715.9 1439.3L716.0 1438.9L716.5 1436.8L717.0 1434.8L717.5 1433.1L718.0 1431.5L718.5 1430.1L719.0 1428.8L719.5 1427.6L720.0 1426.5L720.5 1425.6L721.0 1424.8L721.5 1424.1L721.8 1423.7L722.0 1423.5L722.5 1422.8L723.0 1422.3L723.5 1421.7L724.0 1421.1L724.5 1420.6L725.0 1420.1L725.5 1419.6L726.0 1419.1L726.5 1418.7L727.0 1418.2L727.5 1417.8L728.0 1417.5L728.5 1417.1L729.0 1416.8L729.5 1416.5L730.0 1416.2L730.5 1415.9L731.0 1415.7L731.5 1415.5L732.0 1415.3L732.5 1415.2L733.0 1415.1L733.5 1415.0L734.0 1414.9L734.5 1414.9L735.0 1414.8L735.5 1414.8L736.0 1414.7L736.5 1414.7L737.0 1414.6L737.5 1414.6L738.0 1414.5L738.5 1414.5L739.0 1414.4L739.5 1414.4L740.0 1414.3L740.5 1414.3L741.0 1414.2L741.5 1414.2L742.0 1414.2L742.5 1414.1L743.0 1414.1L743.5 1414.1L744.0 1414.0L744.5 1414.0L745.0 1414.0L745.5 1413.9L746.0 1413.9L746.5 1413.9L747.0 1413.8L747.5 1413.8L748.0 1413.8L748.5 1413.8L749.0 1413.8L749.5 1413.7L750.0 1413.7L750.5 1413.7L751.0 1413.7L751.5 1413.7L752.0 1413.7L752.5 1413.6L753.0 1413.6L753.5 1413.6L754.0 1413.6L754.5 1413.6L755.0 1413.6L755.5 1413.6L756.0 1413.6L756.5 1413.6L756.9 1413.6L757.0 1413.6L757.5 1413.6L758.0 1413.6L758.5 1413.6L759.0 1413.6L759.5 1413.6L760.0 1413.6L760.5 1413.6L761.0 1413.6L761.5 1413.7L762.0 1413.7L762.5 1413.7L763.0 1413.7L763.5 1413.7L764.0 1413.7L764.5 1413.7L765.0 1413.8L765.5 1413.8L766.0 1413.8L766.5 1413.8L767.0 1413.9L767.5 1413.9L768.0 1413.9L768.5 1414.0L769.0 1414.0L769.5 1414.0L770.0 1414.1L770.5 1414.1L771.0 1414.1L771.5 1414.2L772.0 1414.2L772.5 1414.3L773.0 1414.3L773.5 1414.4L774.0 1414.4L774.5 1414.5L775.0 1414.5L775.5 1414.6L776.0 1414.7L776.5 1414.7L777.0 1414.8L777.5 1414.8L778.0 1414.9L778.5 1415.0L779.0 1415.1L779.5 1415.1L780.0 1415.2L780.5 1415.3L781.0 1415.4L781.5 1415.4L782.0 1415.5L782.5 1415.6L783.0 1415.7L783.5 1415.8L784.0 1415.9L784.1 1415.9L784.5 1416.0L785.0 1416.3L785.5 1416.6L786.0 1417.1L786.5 1417.6L787.0 1418.3L787.5 1418.9L788.0 1419.7L788.5 1420.4L789.0 1421.2L789.5 1422.0L790.0 1422.8L790.5 1423.6L791.0 1424.4L791.5 1425.1L791.9 1425.7L792.0 1425.8L792.5 1426.6L793.0 1427.5L793.5 1428.4L794.0 1429.4L794.5 1430.4L795.0 1431.3L795.5 1432.2L796.0 1433.0L796.5 1433.6L797.0 1434.1L797.5 1434.4L797.8 1434.4L798.0 1434.4L798.5 1434.2L799.0 1433.7L799.5 1433.1L800.0 1432.4L800.5 1431.5L801.0 1430.5L801.5 1429.5L802.0 1428.4L802.5 1427.4L803.0 1426.3L803.5 1425.4L804.0 1424.5L804.5 1423.7L805.0 1423.2L805.5 1422.8L805.6 1422.7L806.0 1422.5L806.5 1422.3L807.0 1422.0L807.5 1421.8L808.0 1421.6L808.5 1421.4L809.0 1421.2L809.5 1421.0L810.0 1420.9L810.5 1420.7L811.0 1420.5L811.5 1420.4L812.0 1420.3L812.5 1420.2L813.0 1420.1L813.5 1420.0L814.0 1419.9L814.5 1419.9L815.0 1419.8L815.3 1419.8L815.5 1419.8L816.0 1419.8L816.5 1419.7L817.0 1419.7L817.5 1419.7L818.0 1419.6L818.5 1419.6L819.0 1419.6L819.5 1419.6L820.0 1419.5L820.5 1419.5L821.0 1419.5L821.5 1419.4L822.0 1419.4L822.5 1419.4L823.0 1419.4L823.5 1419.4L824.0 1419.3L824.5 1419.3L825.0 1419.3L825.5 1419.3L826.0 1419.2L826.5 1419.2L827.0 1419.2L827.5 1419.2L828.0 1419.2L828.5 1419.2L829.0 1419.1L829.5 1419.1L830.0 1419.1L830.5 1419.1L831.0 1419.1L831.5 1419.1L832.0 1419.1L832.5 1419.0L833.0 1419.0L833.5 1419.0L834.0 1419.0L834.5 1419.0L835.0 1419.0L835.5 1419.0L836.0 1419.0L836.5 1419.0L837.0 1419.0L837.5 1418.9L838.0 1418.9L838.5 1418.9L839.0 1418.9L839.5 1418.9L840.0 1418.9L840.5 1418.9L841.0 1418.9L841.5 1418.9L842.0 1418.9L842.5 1418.9L843.0 1418.9L843.5 1418.9L844.0 1418.9L844.5 1418.9L845.0 1418.9L845.5 1419.1L846.0 1419.2L846.5 1419.5L847.0 1419.7L847.5 1420.0L848.0 1420.4L848.5 1420.7L849.0 1421.1L849.5 1421.4L850.0 1421.7L850.5 1422.0L851.0 1422.3L851.5 1422.5L852.0 1422.6L852.3 1422.7L852.5 1422.7L853.0 1422.8L853.5 1422.9L854.0 1422.9L854.5 1422.9L855.0 1423.0L855.5 1423.0L856.0 1423.0L856.5 1423.1L857.0 1423.1L857.5 1423.1L858.0 1423.1L858.5 1423.1L859.0 1423.2L859.5 1423.2L860.0 1423.2L860.5 1423.3L861.0 1423.3L861.5 1423.4L862.0 1423.5L862.5 1423.6L863.0 1423.7L863.5 1426.5L864.0 1433.5L864.5 1442.9L865.0 1452.9L865.5 1468.1L866.0 1484.3L866.3 1488.0L866.5 1487.7L867.0 1484.6L867.5 1479.0L868.0 1472.2L868.5 1465.2L869.0 1459.3L869.5 1455.6L869.8 1454.9L870.0 1455.1L870.5 1456.8L871.0 1460.0L871.5 1464.2L872.0 1468.9L872.5 1473.6L872.8 1476.3L873.0 1478.1L873.5 1483.8L874.0 1490.4L874.5 1497.6L875.0 1504.9L875.5 1511.6L876.0 1517.4L876.5 1521.7L877.0 1523.9L877.2 1524.1L877.5 1523.0L878.0 1517.0L878.5 1507.2L879.0 1495.5L879.5 1483.5L880.0 1472.9L880.5 1465.5L880.6 1464.6L881.0 1461.3L881.5 1457.5L882.0 1454.0L882.5 1450.9L883.0 1448.1L883.5 1445.7L884.0 1443.7L884.5 1442.2L885.0 1441.2L885.5 1440.5L886.0 1439.8L886.5 1439.2L887.0 1438.6L887.5 1438.1L888.0 1437.6L888.5 1437.2L889.0 1436.9L889.5 1436.6L890.0 1436.5L890.5 1436.4L890.7 1436.4L891.0 1436.6L891.5 1438.0L892.0 1440.3L892.5 1443.3L893.0 1446.8L893.5 1450.4L894.0 1454.0L894.5 1457.2L895.0 1459.8L895.5 1461.5L895.6 1461.7L896.0 1462.5L896.5 1463.4L897.0 1464.2L897.5 1465.0L898.0 1465.7L898.5 1466.3L899.0 1466.8L899.5 1467.2L900.0 1467.4L900.5 1467.5L901.0 1467.3L901.5 1466.6L902.0 1465.6L902.5 1464.3L903.0 1462.9L903.5 1461.3L904.0 1459.9L904.5 1458.5L905.0 1457.3L905.5 1456.4L906.0 1455.9L906.3 1455.8L906.5 1455.8L907.0 1456.3L907.5 1457.3L908.0 1458.7L908.5 1460.4L909.0 1462.5L909.5 1464.9L910.0 1467.4L910.2 1468.5L910.5 1470.6L911.0 1475.9L911.5 1483.0L912.0 1491.5L912.5 1500.9L913.0 1510.6L913.5 1520.2L914.0 1529.1L914.1 1530.8L914.5 1538.0L915.0 1548.5L915.5 1559.7L916.0 1570.9L916.5 1581.0L917.0 1589.3L917.5 1594.9L918.0 1597.0L918.5 1596.9L919.0 1596.8L919.5 1596.5L920.0 1596.1L920.5 1595.7L921.0 1595.1L921.5 1594.5L922.0 1593.9L922.5 1593.2L923.0 1592.4L923.5 1591.7L923.8 1591.2L924.0 1590.9L924.5 1589.9L925.0 1588.6L925.5 1587.2L926.0 1585.6L926.5 1583.7L927.0 1581.8L927.5 1579.6L928.0 1577.3L928.5 1574.9L929.0 1572.4L929.5 1569.8L930.0 1567.1L930.5 1564.3L931.0 1561.5L931.5 1558.7L931.6 1558.1L932.0 1555.6L932.5 1552.1L933.0 1548.1L933.5 1543.9L934.0 1539.6L934.5 1535.2L935.0 1530.9L935.5 1526.9L936.0 1523.0L936.5 1519.1L937.0 1515.3L937.5 1511.5L938.0 1507.7L938.5 1504.0L939.0 1500.5L939.4 1497.7L939.5 1497.0L940.0 1493.3L940.5 1489.3L941.0 1485.2L941.5 1481.2L942.0 1477.3L942.5 1473.9L943.0 1471.0L943.5 1468.9L944.0 1467.7L944.3 1467.5L944.5 1467.5L945.0 1467.7L945.5 1468.1L946.0 1468.6L946.5 1469.3L947.0 1469.9L947.5 1470.6L948.0 1471.3L948.5 1471.8L949.0 1472.3L949.2 1472.4L949.5 1472.6L950.0 1472.8L950.5 1472.9L951.0 1473.1L951.5 1473.2L952.0 1473.4L952.5 1473.5L953.0 1473.7L953.5 1474.0L954.0 1474.3L954.5 1475.0L955.0 1476.3L955.5 1478.1L956.0 1480.4L956.5 1483.1L957.0 1486.2L957.5 1489.5L958.0 1493.0L958.5 1496.7L958.9 1499.7L959.0 1500.5L959.5 1504.8L960.0 1510.0L960.5 1515.8L961.0 1522.4L961.5 1529.5L962.0 1537.1L962.5 1545.2L962.8 1550.3L963.0 1553.9L963.5 1564.4L964.0 1576.5L964.5 1589.7L965.0 1603.6L965.5 1617.4L966.0 1630.8L966.5 1643.2L966.7 1647.7L967.0 1654.5L967.5 1666.8L968.0 1679.7L968.5 1692.7L969.0 1705.3L969.5 1716.9L970.0 1727.0L970.5 1735.0L971.0 1740.6L971.5 1743.0L971.6 1743.1L972.0 1742.1L972.5 1738.4L973.0 1732.2L973.5 1723.7L974.0 1713.4L974.5 1701.5L975.0 1688.4L975.5 1674.3L976.0 1659.6L976.4 1647.7L976.5 1644.4L977.0 1621.6L977.5 1593.1L978.0 1566.1L978.4 1550.3L978.5 1547.3L979.0 1532.3L979.5 1519.2L980.0 1511.0L980.3 1509.4L980.5 1509.5L981.0 1510.6L981.5 1512.7L982.0 1515.3L982.5 1518.2L983.0 1520.9L983.5 1523.2L984.0 1524.7L984.2 1525.0L984.5 1525.3L985.0 1525.7L985.5 1526.2L986.0 1526.6L986.5 1526.9L987.0 1527.3L987.5 1527.6L988.0 1527.8L988.5 1528.1L989.0 1528.3L989.5 1528.5L990.0 1528.6L990.5 1528.7L991.0 1528.8L991.5 1528.9L992.0 1528.9L992.5 1528.9L993.0 1528.7L993.5 1528.5L994.0 1528.2L994.5 1527.8L995.0 1527.4L995.5 1526.8L996.0 1526.2L996.5 1525.6L996.9 1525.0L997.0 1524.8L997.5 1522.3L998.0 1517.9L998.5 1512.0L999.0 1505.2L999.5 1498.0L1000.0 1491.0L1000.5 1484.8L1001.0 1479.9L1001.5 1476.9L1001.7 1476.3L1002.0 1475.8L1002.5 1474.9L1003.0 1474.2L1003.5 1473.5L1004.0 1472.9L1004.5 1472.4L1005.0 1472.0L1005.5 1471.7L1006.0 1471.5L1006.5 1471.4L1006.6 1471.4L1007.0 1471.4L1007.5 1471.6L1008.0 1471.8L1008.5 1472.2L1009.0 1472.6L1009.5 1473.2L1010.0 1473.8L1010.5 1474.6L1011.0 1475.4L1011.5 1476.3L1012.0 1479.2L1012.5 1485.2L1013.0 1493.3L1013.5 1502.3L1014.0 1511.3L1014.5 1519.1L1015.0 1524.7L1015.4 1526.9L1015.5 1527.1L1016.0 1528.1L1016.5 1528.8L1017.0 1529.3L1017.5 1529.6L1018.0 1530.0L1018.5 1530.4L1019.0 1530.8L1019.5 1531.5L1020.0 1532.4L1020.2 1532.8L1020.5 1533.8L1021.0 1536.6L1021.5 1540.7L1022.0 1545.7L1022.5 1551.4L1023.0 1557.5L1023.2 1560.0L1023.5 1564.6L1024.0 1575.5L1024.5 1588.9L1025.0 1602.9L1025.5 1615.9L1026.0 1626.0L1026.5 1631.6L1026.7 1632.1L1027.0 1631.3L1027.5 1626.5L1028.0 1618.3L1028.5 1607.6L1029.0 1595.3L1029.5 1582.4L1030.0 1569.8L1030.5 1554.3L1031.0 1534.4L1031.5 1513.0L1032.0 1493.4L1032.5 1478.6L1032.9 1472.4L1033.0 1471.6L1033.5 1468.0L1034.0 1464.6L1034.5 1461.5L1035.0 1458.6L1035.5 1456.1L1036.0 1453.9L1036.5 1451.9L1037.0 1450.2L1037.5 1448.8L1038.0 1447.7L1038.5 1446.9L1039.0 1446.4L1039.5 1446.1L1039.7 1446.1L1040.0 1446.2L1040.5 1446.6L1041.0 1447.3L1041.5 1448.4L1042.0 1449.7L1042.5 1451.4L1043.0 1453.2L1043.5 1455.3L1044.0 1457.7L1044.5 1460.2L1044.6 1460.7L1045.0 1463.8L1045.5 1470.1L1046.0 1478.6L1046.5 1488.6L1047.0 1499.5L1047.5 1510.5L1048.0 1521.2L1048.5 1530.8L1049.0 1540.6L1049.5 1551.8L1050.0 1563.4L1050.5 1574.6L1051.0 1584.7L1051.5 1592.6L1052.0 1597.6L1052.4 1599.0L1052.5 1598.9L1053.0 1597.2L1053.5 1593.3L1054.0 1587.6L1054.5 1580.5L1055.0 1572.5L1055.5 1564.0L1056.0 1555.4L1056.3 1550.3L1056.5 1546.6L1057.0 1534.7L1057.5 1520.1L1058.0 1504.2L1058.5 1488.2L1059.0 1473.7L1059.5 1462.0L1060.0 1454.5L1060.2 1452.9L1060.5 1451.3L1061.0 1449.0L1061.5 1446.9L1062.0 1445.0L1062.5 1443.4L1063.0 1442.0L1063.5 1440.7L1064.0 1439.7L1064.5 1438.7L1065.0 1437.9L1065.5 1437.1L1066.0 1436.4L1066.5 1435.7L1067.0 1435.1L1067.5 1434.4L1068.0 1433.8L1068.5 1433.2L1069.0 1432.7L1069.5 1432.2L1070.0 1431.8L1070.5 1431.4L1071.0 1431.0L1071.5 1430.8L1072.0 1430.6L1072.5 1430.5L1072.8 1430.5L1073.0 1430.5L1073.5 1430.5L1074.0 1430.6L1074.5 1430.6L1075.0 1430.7L1075.5 1430.8L1076.0 1431.0L1076.5 1431.1L1077.0 1431.3L1077.5 1431.5L1078.0 1431.8L1078.5 1432.0L1079.0 1432.3L1079.5 1432.7L1080.0 1433.0L1080.5 1433.4L1081.0 1433.8L1081.5 1434.3L1081.6 1434.4L1082.0 1435.5L1082.5 1438.6L1083.0 1443.2L1083.5 1448.8L1084.0 1455.0L1084.5 1461.3L1085.0 1467.2L1085.5 1472.4L1086.0 1477.4L1086.5 1482.8L1087.0 1488.4L1087.5 1493.8L1088.0 1498.7L1088.5 1502.7L1089.0 1505.4L1089.4 1506.5L1089.5 1506.6L1090.0 1507.3L1090.5 1507.8L1091.0 1508.3L1091.5 1508.8L1092.0 1509.2L1092.5 1509.5L1093.0 1509.8L1093.5 1510.1L1094.0 1510.2L1094.5 1510.3L1095.0 1510.4L1095.2 1510.4L1095.5 1510.2L1096.0 1509.3L1096.5 1507.6L1097.0 1505.3L1097.5 1502.6L1098.0 1499.6L1098.5 1496.4L1099.0 1493.1L1099.5 1490.0L1100.0 1487.0L1100.5 1484.5L1101.0 1482.4L1101.1 1482.1L1101.5 1480.8L1102.0 1479.2L1102.5 1477.5L1103.0 1475.9L1103.5 1474.2L1104.0 1472.7L1104.5 1471.1L1105.0 1469.7L1105.5 1468.3L1106.0 1467.0L1106.5 1465.8L1107.0 1464.7L1107.5 1463.8L1108.0 1463.0L1108.5 1462.4L1109.0 1462.0L1109.5 1461.7L1109.8 1461.7L1110.0 1461.7L1110.5 1462.2L1111.0 1463.1L1111.5 1464.5L1112.0 1466.4L1112.5 1468.7L1113.0 1471.4L1113.5 1474.5L1114.0 1478.0L1114.5 1481.8L1115.0 1486.0L1115.5 1490.5L1116.0 1495.4L1116.5 1500.5L1116.6 1501.6L1117.0 1507.9L1117.5 1520.6L1118.0 1536.7L1118.5 1554.4L1119.0 1571.7L1119.5 1586.7L1119.6 1589.2L1120.0 1600.0L1120.5 1614.1L1121.0 1625.5L1121.5 1630.1L1122.0 1628.5L1122.5 1624.1L1123.0 1617.3L1123.5 1608.5L1124.0 1598.2L1124.4 1589.2L1124.5 1586.3L1125.0 1559.2L1125.5 1522.1L1126.0 1490.8L1126.4 1480.2L1126.5 1479.9L1127.0 1478.8L1127.5 1478.0L1128.0 1477.6L1128.3 1477.5" fill="none" stroke="#0000ff" stroke-width="5" stroke-linejoin="round" stroke-linecap="round"/>
<path d="M187.5 1223.3L188.5 1218.8L189.5 1221.8L190.5 1220.9L191.5 1221.1L192.5 1221.4L193.5 1219.6L194.5 1221.5L195.5 1220.9L196.5 1225.2L197.5 1222.2L198.5 1221.7L199.5 1221.8L200.5 1221.5L201.5 1221.2L202.5 1221.9L203.5 1222.9L204.5 1222.2L205.5 1223.5L206.5 1222.4L207.5 1222.7L208.5 1224.4L209.5 1223.4L210.5 1222.4L211.5 1222.8L212.5 1223.7L213.5 1225.1L214.5 1223.0L215.5 1223.1L216.5 1224.4L217.5 1222.6L218.5 1223.3L219.5 1224.6L220.5 1224.3L221.5 1223.9L222.5 1224.6L223.5 1221.1L224.5 1225.1L225.5 1223.2L226.5 1222.6L227.5 1224.6L228.5 1225.1L229.5 1224.1L230.5 1223.5L231.5 1224.7L232.5 1224.7L233.5 1226.3L234.5 1225.7L235.0 1225.2L235.5 1226.2L236.5 1224.9L237.5 1224.3L238.5 1225.9L239.5 1226.0L240.5 1225.3L241.5 1224.8L242.5 1225.9L243.5 1223.2L244.5 1226.6L245.5 1226.5L246.5 1224.4L247.5 1226.2L248.5 1225.3L249.5 1227.1L250.5 1224.4L251.5 1225.6L252.5 1227.4L253.5 1228.0L254.5 1224.6L255.5 1226.5L256.5 1227.4L257.5 1226.5L258.5 1228.9L259.5 1226.1L260.5 1227.8L261.5 1226.5L262.5 1229.1L263.5 1227.8L264.5 1227.5L265.5 1226.2L266.5 1229.8L267.5 1229.0L268.5 1229.1L269.5 1229.6L270.5 1228.9L271.5 1228.0L272.5 1227.9L273.5 1228.0L274.5 1230.4L275.5 1227.5L276.5 1228.5L277.5 1228.9L278.5 1229.6L279.5 1230.0L280.5 1228.2L281.5 1227.8L282.5 1229.7L283.5 1231.1L284.5 1230.7L285.0 1230.2L285.5 1229.7L286.5 1230.5L287.5 1230.0L288.5 1231.2L289.5 1229.6L290.5 1230.7L291.5 1230.5L292.5 1231.3L293.5 1231.1L294.5 1233.6L295.5 1232.6L296.5 1232.7L297.5 1229.1L298.5 1230.9L299.5 1230.8L300.5 1232.0L301.5 1229.2L302.5 1232.9L303.5 1232.9L304.5 1230.5L305.5 1230.9L306.5 1231.2L307.5 1232.2L308.5 1232.9L309.5 1234.5L310.5 1232.2L311.5 1233.3L312.5 1232.8L313.5 1234.6L314.5 1233.6L315.5 1234.4L316.5 1231.9L317.5 1232.9L318.5 1232.3L319.5 1234.9L320.5 1234.1L321.5 1233.2L322.5 1233.1L323.5 1234.2L324.5 1233.1L325.5 1232.9L326.5 1234.5L327.5 1236.8L328.5 1234.0L329.5 1233.8L330.5 1233.2L331.5 1233.2L332.5 1235.3L333.5 1235.7L334.5 1234.9L335.0 1235.4L335.5 1235.2L336.5 1235.3L337.5 1233.7L338.5 1234.9L339.5 1235.7L340.5 1234.9L341.5 1235.3L342.5 1235.1L343.5 1235.8L344.5 1237.2L345.5 1236.0L346.5 1236.4L347.5 1237.6L348.5 1237.5L349.5 1238.8L350.5 1234.9L351.5 1238.2L352.5 1236.9L353.5 1237.8L354.5 1238.7L355.5 1239.1L356.5 1239.2L357.5 1238.4L358.5 1240.1L359.5 1238.3L360.5 1238.6L361.5 1239.8L362.5 1238.5L363.5 1241.5L364.5 1240.5L365.5 1241.9L366.5 1239.7L367.5 1239.4L368.5 1240.2L369.5 1241.0L370.5 1239.7L371.5 1240.9L372.5 1240.6L373.5 1242.6L374.5 1240.2L375.5 1242.3L376.5 1240.6L377.5 1240.4L378.5 1240.8L379.5 1240.4L380.5 1242.0L381.5 1243.1L382.5 1242.3L383.5 1243.0L384.5 1244.2L385.0 1242.8L385.5 1242.8L386.5 1242.4L387.5 1241.1L388.5 1243.8L389.5 1241.2L390.5 1243.9L391.5 1243.3L392.5 1244.7L393.5 1243.5L394.5 1242.8L395.5 1244.2L396.5 1243.3L397.5 1243.9L398.5 1244.2L399.5 1244.1L400.5 1244.2L401.5 1243.6L402.5 1244.4L403.5 1242.4L404.5 1244.7L405.5 1243.6L406.5 1246.3L407.5 1246.6L408.5 1243.2L409.5 1245.6L410.5 1245.4L411.5 1244.5L412.5 1246.3L413.5 1245.4L414.5 1244.0L415.5 1245.8L416.5 1246.1L417.5 1246.5L418.5 1245.1L419.5 1247.3L420.5 1247.5L421.5 1245.6L422.5 1246.2L423.5 1247.0L424.5 1246.6L425.5 1249.3L426.5 1247.7L427.5 1246.5L428.5 1246.9L429.5 1247.8L430.5 1250.6L431.5 1248.0L432.5 1248.5L433.5 1249.1L434.5 1248.6L435.0 1251.3L435.5 1248.2L436.5 1249.8L437.5 1249.4L438.5 1250.1L439.5 1248.3L440.5 1251.7L441.5 1249.8L442.5 1250.2L443.5 1249.4L444.5 1249.8L445.5 1251.5L446.5 1252.2L447.5 1252.2L448.5 1253.0L449.5 1252.7L450.5 1252.2L451.5 1253.3L452.5 1253.3L453.5 1252.8L454.5 1254.0L455.5 1254.9L456.5 1254.0L457.5 1253.6L458.5 1255.1L459.5 1256.7L460.5 1254.6L461.5 1255.0L462.5 1255.2L463.5 1257.0L464.5 1253.8L465.5 1256.5L466.5 1257.7L467.5 1255.7L468.5 1258.6L469.5 1257.7L470.5 1256.7L471.5 1257.8L472.5 1256.1L473.5 1257.4L474.5 1260.3L475.5 1257.5L476.5 1260.8L477.5 1258.8L478.5 1260.2L479.5 1259.3L480.5 1256.8L481.5 1258.9L482.5 1259.9L483.5 1258.5L484.5 1258.4L485.0 1260.4L485.5 1259.3L486.5 1258.2L487.5 1259.5L488.5 1261.3L489.5 1259.9L490.5 1261.6L491.5 1262.4L492.5 1260.8L493.5 1259.5L494.5 1259.4L495.5 1261.0L496.5 1262.1L497.5 1261.4L498.5 1261.8L499.5 1260.8L500.5 1261.7L501.5 1260.9L502.5 1261.1L503.5 1260.1L504.5 1259.8L505.5 1261.1L506.5 1260.5L507.5 1260.7L508.5 1262.6L509.5 1261.8L510.5 1265.3L511.5 1263.1L512.5 1261.4L513.5 1263.1L514.5 1262.6L515.5 1261.5L516.5 1263.6L517.5 1261.5L518.5 1258.9L519.5 1263.4L520.5 1261.9L521.5 1264.4L522.5 1262.0L523.5 1261.4L524.5 1264.7L525.5 1261.7L526.5 1263.2L527.5 1264.8L528.5 1263.3L529.5 1263.2L530.5 1263.5L531.5 1264.4L532.5 1262.6L533.5 1264.3L534.5 1264.4L535.0 1266.5L535.5 1263.4L536.5 1262.8L537.5 1264.9L538.5 1263.7L539.5 1264.6L540.5 1264.5L541.5 1265.9L542.5 1263.9L543.5 1264.7L544.5 1262.0L545.5 1264.1L546.5 1267.0L547.5 1264.6L548.5 1264.7L549.5 1264.3L550.5 1266.6L551.5 1266.3L552.5 1264.8L553.5 1267.2L554.5 1266.9L555.5 1267.6L556.5 1266.2L557.5 1269.1L558.5 1267.7L559.5 1267.3L560.5 1267.0L561.5 1267.5L562.5 1269.0L563.5 1267.8L564.5 1269.6L565.5 1269.2L566.5 1270.2L567.5 1269.8L568.5 1268.9L569.5 1266.9L570.5 1269.7L571.5 1270.4L572.5 1269.8L573.5 1270.4L574.5 1269.4L575.5 1269.6L576.5 1269.1L577.5 1272.0L578.5 1270.7L579.5 1270.0L580.5 1269.2L581.5 1270.7L582.5 1272.7L583.5 1271.6L584.5 1270.3L585.0 1272.9L585.5 1273.0L586.5 1272.6L587.5 1272.4L588.5 1272.9L589.5 1272.3L590.5 1272.6L591.5 1270.9L592.5 1273.7L593.5 1272.2L594.5 1274.4L595.5 1269.7L596.5 1273.0L597.5 1273.4L598.5 1271.9L599.5 1272.9L600.5 1273.3L601.5 1273.2L602.5 1271.9L603.5 1272.4L604.5 1273.9L605.5 1274.3L606.5 1272.9L607.5 1273.0L608.5 1273.2L609.5 1274.3L610.5 1271.9L611.5 1271.6L612.5 1273.4L613.5 1272.0L614.5 1272.8L615.0 1273.6L615.5 1274.1L616.5 1272.4L617.5 1274.7L618.5 1271.7L619.5 1274.6L620.5 1272.2L621.5 1272.7L622.5 1275.1L623.5 1273.9L624.5 1273.6L625.5 1274.1L626.5 1275.4L627.5 1274.9L628.5 1275.0L629.5 1276.7L630.5 1274.2L631.5 1274.7L632.5 1274.7L633.5 1277.8L634.5 1277.7L635.5 1278.5L636.5 1276.0L637.5 1275.9L638.5 1278.3L639.5 1275.6L640.5 1278.6L641.5 1278.6L642.5 1275.1L643.5 1276.8L644.5 1276.8L645.5 1281.8L646.5 1284.2L647.5 1277.2L648.5 1277.6L649.5 1271.4L650.5 1278.4L651.5 1277.9L652.5 1275.0L653.5 1280.5L654.5 1273.8L655.5 1277.9L656.5 1279.1L657.5 1275.1L658.5 1281.7L659.5 1282.5L660.5 1275.3L661.5 1275.5L662.5 1281.8L663.5 1280.3L664.5 1277.1L665.5 1280.6L666.5 1282.0L667.5 1282.7L668.5 1286.7L669.5 1286.2L670.5 1291.5L671.5 1291.2L672.5 1289.8L673.5 1291.9L674.5 1293.3L675.5 1291.8L676.5 1286.0L677.5 1292.8L678.5 1288.5L679.5 1289.2L680.5 1278.6L681.5 1274.1L682.5 1268.7L683.5 1270.7L683.8 1265.6L684.5 1264.2L685.5 1266.6L686.5 1264.7L687.5 1267.8L688.5 1268.4L689.5 1270.8L690.5 1278.1L691.5 1271.8L692.5 1275.1L693.5 1277.3L694.5 1285.8L695.5 1284.5L696.5 1292.9L697.5 1301.8L698.5 1309.3L699.5 1309.4L700.0 1307.6L700.5 1305.8L701.5 1312.2L702.5 1316.2L703.5 1309.8L704.5 1308.1L705.5 1308.2L706.5 1299.9L707.5 1301.7L708.5 1300.6L709.5 1302.1L710.0 1299.8L710.5 1293.2L711.5 1303.3L712.5 1304.2L713.5 1292.3L714.5 1293.4L715.5 1290.6L716.5 1291.3L717.5 1278.3L718.5 1292.6L719.5 1281.5L720.0 1290.1L720.5 1284.5L721.5 1284.8L722.5 1289.9L723.5 1299.0L724.5 1292.8L725.0 1295.6L725.5 1295.1L726.5 1288.8L727.5 1303.6L728.5 1299.7L729.5 1296.3L730.5 1301.9L731.5 1290.9L732.5 1295.0L733.5 1303.8L734.5 1299.9L735.0 1283.9L735.5 1278.3L736.5 1289.9L737.5 1300.3L738.5 1293.3L739.5 1294.7L740.5 1298.5L741.5 1292.7L742.5 1297.4L743.5 1299.8L744.5 1298.9L745.5 1298.9L746.5 1296.1L747.5 1299.7L748.5 1297.2L749.5 1302.5L750.0 1306.2L750.5 1296.7L751.5 1292.7L752.5 1297.9L753.5 1300.3L754.5 1302.2L755.5 1302.4L756.5 1297.4L757.5 1297.5L758.5 1303.1L759.5 1297.0L760.5 1302.8L761.5 1299.4L762.5 1302.0L763.5 1301.9L764.5 1302.2L765.5 1302.4L766.5 1298.0L767.5 1301.2L768.5 1300.6L769.5 1301.4L770.5 1303.6L771.5 1300.2L772.5 1299.4L773.5 1299.5L774.5 1300.5L775.0 1302.9L775.5 1299.5L776.5 1303.9L777.5 1302.2L778.5 1301.2L779.5 1299.1L780.5 1302.5L781.5 1303.5L782.5 1298.8L783.5 1304.7L784.5 1305.7L785.5 1303.4L786.5 1303.8L787.5 1307.4L788.5 1305.4L789.5 1301.8L790.5 1303.5L791.5 1303.4L792.5 1303.6L793.5 1300.2L794.5 1305.3L795.5 1303.3L796.5 1304.7L797.5 1304.4L798.5 1306.0L799.5 1304.5L800.0 1303.9L800.5 1305.8L801.5 1307.1L802.5 1305.0L803.5 1307.3L804.5 1306.0L805.5 1305.2L806.5 1307.8L807.5 1305.2L808.5 1307.5L809.5 1305.9L810.5 1307.2L811.5 1305.3L812.5 1306.0L813.5 1308.4L814.5 1307.5L815.5 1307.5L816.5 1307.1L817.5 1308.3L818.5 1306.2L819.5 1306.7L820.5 1308.0L821.5 1307.3L822.5 1307.6L823.5 1308.5L824.5 1308.5L825.0 1308.5L825.5 1310.8L826.5 1310.1L827.5 1310.5L828.5 1309.1L829.5 1308.6L830.5 1307.6L831.5 1309.0L832.5 1307.0L833.5 1308.9L834.5 1310.6L835.5 1311.7L836.5 1311.0L837.5 1308.9L838.5 1310.6L839.5 1309.1L840.5 1311.2L841.5 1310.1L842.5 1311.4L843.5 1313.6L844.5 1311.7L845.5 1313.5L846.5 1311.0L847.5 1310.5L848.5 1312.7L849.5 1313.3L850.0 1310.6L850.5 1311.4L851.5 1309.8L852.5 1311.5L853.5 1313.0L854.5 1312.1L855.5 1311.8L856.5 1311.1L857.5 1313.6L858.5 1314.4L859.5 1314.5L860.5 1314.4L861.5 1312.9L862.5 1317.0L863.5 1315.1L864.5 1315.3L865.5 1316.7L866.5 1313.4L867.5 1316.3L868.5 1316.5L869.5 1317.3L870.5 1318.7L871.5 1317.8L872.5 1315.1L873.5 1317.0L874.5 1317.7L875.0 1317.7L875.5 1315.9L876.5 1315.4L877.5 1318.1L878.5 1317.8L879.5 1317.3L880.5 1315.2L881.5 1319.4L882.5 1313.5L883.5 1316.6L884.5 1319.5L885.5 1316.6L886.5 1316.9L887.5 1315.0L888.5 1318.0L889.5 1314.6L890.5 1316.3L891.5 1316.0L892.5 1314.3L893.5 1316.5L894.5 1313.5L895.5 1314.2L896.5 1314.8L897.5 1314.1L898.5 1314.9L899.5 1315.3L900.0 1313.6L900.5 1313.2L901.5 1312.8L902.5 1312.5L903.5 1313.4L904.5 1311.4L905.5 1311.5L906.5 1310.3L907.5 1308.7L908.5 1310.3L909.5 1307.6L910.5 1308.7L911.2 1310.5L911.5 1307.3L912.5 1308.9L913.5 1307.7L914.5 1310.0L915.5 1309.9L916.5 1312.5L917.5 1313.5L918.5 1315.3L919.5 1317.8L920.5 1316.6L920.9 1317.1L921.5 1316.2L922.5 1315.9L923.5 1315.1L924.5 1313.8L925.5 1316.0L926.5 1317.8L927.5 1316.2L928.5 1314.8L929.5 1317.3L930.5 1314.5L931.5 1314.1L932.5 1313.1L933.5 1313.3L934.5 1314.0L935.5 1316.6L936.5 1313.7L937.5 1312.5L938.5 1312.9L939.5 1313.3L940.5 1311.4L941.5 1313.7L941.8 1314.4L942.5 1313.9L943.5 1314.3L944.5 1311.9L945.5 1311.4L946.5 1315.2L947.5 1315.0L948.5 1311.8L949.5 1314.1L950.5 1313.9L951.5 1314.7L952.5 1314.4L953.5 1313.7L954.5 1314.7L955.5 1314.9L956.5 1314.8L957.5 1312.8L958.5 1311.6L959.5 1314.7L960.5 1313.9L961.4 1316.6L961.5 1317.3L962.5 1319.4L963.5 1323.8L964.5 1330.6L965.5 1337.3L966.5 1339.6L967.5 1346.7L968.5 1351.2L969.5 1354.7L970.5 1359.1L971.1 1357.2L971.5 1359.6L972.5 1358.1L973.5 1359.0L974.5 1359.3L975.5 1361.9L976.5 1360.7L977.5 1362.6L978.5 1361.5L979.5 1364.8L980.5 1366.2L981.5 1364.5L982.5 1366.7L983.5 1365.6L984.5 1367.9L985.5 1365.5L986.5 1363.5L987.5 1367.5L988.5 1365.6L989.5 1364.5L990.5 1365.0L990.6 1363.7L991.5 1365.5L992.5 1364.2L993.5 1367.3L994.5 1365.9L995.5 1362.6L996.5 1362.4L997.5 1363.1L998.5 1360.9L999.5 1362.7L1000.5 1362.2L1001.5 1360.7L1002.5 1360.5L1003.5 1361.4L1004.5 1362.1L1004.6 1362.1L1005.5 1359.8L1006.5 1360.3L1007.5 1357.7L1008.5 1358.5L1009.5 1356.1L1010.5 1357.6L1011.5 1354.4L1012.5 1354.1L1013.5 1354.7L1014.5 1355.0L1015.5 1352.0L1016.5 1352.8L1017.5 1353.4L1018.5 1353.5L1019.5 1352.5L1020.5 1354.6L1021.5 1355.5L1022.5 1359.3L1023.5 1360.1L1024.5 1359.4L1025.5 1359.9L1026.5 1364.2L1027.5 1366.4L1028.3 1365.3L1028.5 1366.2L1029.5 1364.4L1030.5 1363.2L1031.5 1365.7L1032.5 1364.7L1033.5 1365.1L1034.5 1362.2L1035.5 1363.9L1036.5 1362.5L1037.5 1364.0L1038.5 1361.8L1039.5 1361.4L1040.5 1361.1L1041.5 1363.7L1042.5 1361.4L1043.5 1359.9L1044.5 1359.2L1045.5 1359.0L1046.4 1363.6L1046.5 1357.5L1047.5 1359.3L1048.5 1362.3L1049.5 1363.7L1050.5 1361.2L1051.5 1363.5L1052.5 1363.9L1053.5 1364.8L1054.5 1363.2L1055.5 1367.5L1056.5 1364.7L1057.5 1368.6L1058.5 1362.5L1059.5 1368.4L1060.4 1363.2L1060.5 1362.6L1061.5 1368.8L1062.5 1366.2L1063.5 1371.1L1064.5 1368.2L1065.5 1377.6L1066.5 1374.6L1067.5 1372.9L1068.5 1378.5L1069.5 1382.3L1070.1 1378.2L1070.5 1382.8L1071.5 1389.3L1072.5 1387.6L1073.5 1387.0L1074.5 1387.4L1075.5 1393.1L1076.5 1388.5L1077.5 1385.5L1078.5 1394.5L1079.5 1394.3L1080.5 1404.1L1081.3 1399.1L1081.5 1395.5L1082.5 1394.9L1083.5 1400.3L1084.5 1396.0L1085.5 1396.8L1086.5 1398.4L1087.5 1399.0L1088.5 1399.0L1089.5 1399.1L1090.5 1403.1L1091.5 1404.5L1092.5 1393.1L1093.5 1407.6L1094.5 1399.2L1095.2 1403.1L1095.5 1396.1L1096.5 1398.6L1097.5 1396.0L1098.5 1392.8L1099.5 1392.5L1100.5 1389.2L1101.5 1381.7L1102.2 1384.4L1102.5 1387.5L1103.5 1387.4L1104.5 1383.9L1105.5 1384.3L1106.5 1385.1L1107.5 1382.0L1108.5 1381.7L1109.5 1392.8L1110.5 1386.1L1111.5 1388.5L1112.5 1386.1L1113.5 1394.5L1114.5 1397.1L1115.5 1390.5L1116.1 1393.8L1116.5 1389.4L1117.5 1400.2L1118.5 1398.5L1119.5 1394.0L1120.5 1405.3L1121.5 1406.2L1121.7 1407.4L1122.5 1425.7L1123.1 1432.5L1123.5 1432.9L1124.5 1433.9L1125.5 1416.4L1125.9 1402.0" fill="none" stroke="#ff0000" stroke-width="5" stroke-linejoin="round" stroke-linecap="round"/>
<path d="M188.5 1107.0L189.5 1107.8L190.5 1107.2L191.5 1105.1L192.5 1108.3L193.5 1107.8L194.5 1106.6L195.5 1108.3L196.5 1108.1L197.5 1108.1L198.5 1107.9L199.5 1108.7L200.5 1107.0L201.5 1108.0L202.5 1107.6L203.5 1109.2L204.5 1108.5L205.5 1108.2L206.5 1107.6L207.5 1108.4L208.5 1108.8L209.5 1108.5L210.5 1110.8L211.0 1110.4L211.5 1105.2L212.5 1106.4L213.5 1108.9L214.5 1108.6L215.5 1109.6L216.5 1109.6L217.5 1112.3L218.5 1107.9L219.5 1109.0L220.5 1112.4L221.5 1110.5L222.5 1110.6L223.5 1109.0L224.5 1107.4L225.5 1110.0L226.5 1110.0L227.5 1108.1L228.5 1108.9L229.5 1109.8L230.5 1108.6L231.5 1109.8L232.5 1110.1L233.5 1110.0L234.5 1109.3L235.5 1110.8L236.0 1111.2L236.5 1110.4L237.5 1108.9L238.5 1111.0L239.5 1109.3L240.5 1111.2L241.5 1108.4L242.5 1111.2L243.5 1109.9L244.5 1108.1L245.5 1109.4L246.5 1109.9L247.5 1110.2L248.5 1108.4L249.5 1108.2L250.5 1109.9L251.5 1109.0L252.5 1109.9L253.5 1110.6L254.5 1107.1L255.5 1109.7L256.5 1111.0L257.5 1108.8L258.5 1108.1L259.5 1110.2L260.5 1109.4L261.0 1110.3L261.5 1108.5L262.5 1106.7L263.5 1108.3L264.5 1107.5L265.5 1108.8L266.5 1107.5L267.5 1104.5L268.5 1104.6L269.5 1107.1L270.5 1106.5L271.5 1102.8L272.5 1100.0L273.5 1103.7L274.5 1105.7L275.5 1106.4L276.5 1105.7L277.5 1105.4L278.5 1105.4L279.5 1107.5L280.5 1103.2L281.5 1106.4L282.5 1104.9L283.5 1101.0L284.5 1105.6L285.5 1107.0L286.0 1109.2L286.5 1108.0L287.5 1109.3L288.5 1110.4L289.5 1109.4L290.5 1107.9L291.5 1107.3L292.5 1112.2L293.5 1109.8L294.5 1109.3L295.5 1110.8L296.5 1110.6L297.5 1112.4L298.5 1111.5L299.5 1111.9L300.5 1111.2L301.5 1113.3L302.5 1111.5L303.5 1114.3L304.5 1116.0L305.5 1112.1L306.5 1111.2L307.5 1116.0L308.5 1119.1L309.5 1114.5L310.5 1114.6L311.0 1117.3L311.5 1115.5L312.5 1116.3L313.5 1116.9L314.5 1118.5L315.5 1117.5L316.5 1118.8L317.5 1118.5L318.5 1117.9L319.5 1119.0L320.5 1118.4L321.5 1120.1L322.5 1118.8L323.5 1119.2L324.5 1123.0L325.5 1121.3L326.5 1121.6L327.5 1122.7L328.5 1121.7L329.5 1122.3L330.5 1123.6L331.5 1123.7L332.5 1122.1L333.5 1125.2L334.5 1123.6L335.5 1120.4L336.0 1115.0L336.5 1121.3L337.5 1127.9L338.5 1124.4L339.5 1126.7L340.5 1123.9L341.5 1127.3L342.5 1129.1L343.5 1127.9L344.5 1127.9L345.5 1129.6L346.5 1130.7L347.5 1131.1L348.5 1133.4L349.5 1131.5L350.5 1130.8L351.5 1132.0L352.5 1132.5L353.5 1133.3L354.5 1133.6L355.5 1134.3L356.5 1132.2L357.5 1136.1L358.5 1134.6L359.5 1134.2L360.5 1137.2L361.0 1138.3L361.5 1137.4L362.5 1137.3L363.5 1136.2L364.5 1141.9L365.5 1139.4L366.5 1136.9L367.5 1137.8L368.5 1139.3L369.5 1137.4L370.5 1140.1L371.5 1139.6L372.5 1142.3L373.5 1142.2L374.5 1137.5L375.5 1141.7L376.5 1139.8L377.5 1144.0L378.5 1143.1L379.5 1144.1L380.5 1142.3L381.0 1146.6L381.5 1147.1L382.5 1143.3L383.5 1146.0L384.5 1145.2L385.5 1146.8L386.5 1145.9L387.5 1151.0L388.5 1147.9L389.5 1149.6L390.5 1151.6L391.5 1150.8L392.5 1152.2L393.5 1152.5L394.5 1153.8L395.5 1153.1L396.5 1154.8L397.5 1155.7L398.5 1156.0L399.5 1157.1L400.5 1157.1L401.5 1159.1L402.5 1158.1L403.5 1158.8L404.5 1158.6L405.5 1159.3L406.5 1158.7L407.5 1161.7L408.5 1159.7L409.5 1160.7L410.5 1162.6L411.5 1162.9L412.5 1162.0L413.5 1160.0L414.5 1163.5L415.5 1163.4L416.0 1161.0L416.5 1164.1L417.5 1162.0L418.5 1161.4L419.5 1163.1L420.5 1162.6L421.5 1163.1L422.5 1160.5L423.5 1165.2L424.5 1161.8L425.5 1160.4L426.5 1163.3L427.5 1161.8L428.5 1162.7L429.5 1161.6L430.5 1161.9L431.5 1162.3L432.5 1160.8L433.5 1162.7L434.5 1161.0L435.5 1160.3L436.0 1161.6L436.5 1162.1L437.5 1161.0L438.5 1160.1L439.5 1162.1L440.5 1158.6L441.5 1159.6L442.5 1161.0L443.5 1158.9L444.5 1160.7L445.5 1160.5L446.5 1161.8L447.5 1159.1L448.5 1159.4L449.5 1160.7L450.5 1156.6L451.5 1164.3L452.5 1158.9L453.5 1158.8L454.5 1160.9L455.5 1159.5L456.5 1157.0L457.5 1160.2L458.5 1160.5L459.5 1158.5L460.5 1158.7L461.0 1159.7L461.5 1157.7L462.5 1159.5L463.5 1159.0L464.5 1157.7L465.5 1156.6L466.5 1158.1L467.5 1157.0L468.5 1159.5L469.5 1158.2L470.5 1159.0L471.5 1158.0L472.5 1158.0L473.5 1156.4L474.5 1158.4L475.5 1159.8L476.5 1156.8L477.5 1156.3L478.5 1156.8L479.5 1156.2L480.5 1155.8L481.5 1156.9L482.5 1156.3L483.5 1158.6L484.5 1156.6L485.5 1157.0L486.0 1157.8L486.5 1156.1L487.5 1158.5L488.5 1155.5L489.5 1155.3L490.5 1155.8L491.5 1156.2L492.5 1154.3L493.5 1156.2L494.5 1153.9L495.5 1158.2L496.5 1156.1L497.5 1155.3L498.5 1154.9L499.5 1155.6L500.5 1155.8L501.5 1154.6L502.5 1154.8L503.5 1155.8L504.5 1155.3L505.5 1157.3L506.5 1157.6L507.5 1156.0L508.5 1156.7L509.5 1154.1L510.5 1156.9L511.0 1156.0L511.5 1156.7L512.5 1158.2L513.5 1152.8L514.5 1156.4L515.5 1154.5L516.5 1156.9L517.5 1154.2L518.5 1155.4L519.5 1156.4L520.5 1157.0L521.5 1156.2L522.5 1155.0L523.5 1155.4L524.5 1157.4L525.5 1156.2L526.5 1153.9L527.5 1157.4L528.5 1156.9L529.5 1157.5L530.5 1155.9L531.5 1157.5L532.5 1154.9L533.5 1157.2L534.5 1155.8L535.5 1157.4L536.0 1157.9L536.5 1155.5L537.5 1156.5L538.5 1156.6L539.5 1158.3L540.5 1157.7L541.5 1155.0L542.5 1157.4L543.5 1157.9L544.5 1159.9L545.5 1154.6L546.5 1156.3L547.5 1158.9L548.5 1155.2L549.5 1155.5L550.5 1158.0L551.5 1158.8L552.5 1156.5L553.5 1158.2L554.5 1157.7L555.5 1159.7L556.5 1157.7L557.5 1159.1L558.5 1156.6L559.5 1157.6L560.5 1157.8L561.0 1159.6L561.5 1158.8L562.5 1157.1L563.5 1159.1L564.5 1159.3L565.5 1158.2L566.5 1158.1L567.5 1158.2L568.5 1156.2L569.5 1158.9L570.5 1159.1L571.5 1157.6L572.5 1160.0L573.5 1157.1L574.5 1158.3L575.5 1158.5L576.5 1162.0L577.5 1157.1L578.5 1160.2L579.5 1160.8L580.5 1160.1L581.5 1161.3L582.5 1158.3L583.5 1156.6L584.5 1161.0L585.5 1158.3L586.0 1159.5L586.5 1158.4L587.5 1161.6L588.5 1161.4L589.5 1159.2L590.5 1161.5L591.5 1160.5L592.5 1160.2L593.5 1160.5L594.5 1160.2L595.5 1161.4L596.5 1161.0L597.5 1160.1L598.5 1162.1L599.5 1159.9L600.5 1161.2L601.5 1161.4L602.5 1163.1L603.5 1160.2L604.5 1163.8L605.5 1161.4L606.5 1160.8L607.5 1160.0L608.5 1162.4L609.5 1161.5L610.5 1159.3L611.0 1159.2L611.5 1160.4L612.5 1160.3L613.5 1164.2L614.5 1165.1L615.5 1164.2L616.5 1163.3L617.5 1161.7L618.5 1163.1L619.5 1165.4L620.5 1168.9L621.5 1166.0L622.5 1162.9L623.5 1164.0L624.5 1162.6L625.5 1161.7L626.0 1163.5L626.5 1164.6L627.5 1169.5L628.5 1163.9L629.5 1167.8L630.5 1168.9L631.5 1163.0L632.5 1167.9L633.5 1164.5L634.5 1160.1L635.5 1162.2L636.5 1160.9L637.5 1159.7L638.5 1159.5L639.5 1160.7L640.5 1157.6L641.0 1150.0L641.5 1156.5L642.5 1153.9L643.5 1161.3L644.5 1163.1L645.5 1161.5L646.5 1162.4L647.5 1164.2L648.5 1159.0L649.5 1161.4L650.5 1165.3L651.5 1168.2L652.5 1165.9L653.5 1176.8L654.5 1164.6L655.5 1170.4L656.5 1172.3L657.5 1165.7L658.5 1162.6L659.5 1161.0L660.5 1168.2L661.5 1173.4L662.5 1173.6L663.5 1182.0L664.5 1171.4L665.5 1170.8L666.5 1155.9L667.5 1168.9L668.5 1167.8L669.5 1159.8L670.5 1179.9L671.5 1159.4L672.5 1161.1L673.5 1160.2L674.5 1173.7L675.5 1161.8L676.5 1171.0L677.5 1170.4L678.5 1168.3L679.5 1158.6L680.5 1162.8L681.5 1176.9L682.5 1154.7L683.5 1148.0L684.5 1159.2L685.5 1171.4L686.5 1167.8L687.5 1170.9L688.5 1159.1L689.5 1172.2L690.5 1169.7L691.0 1155.5L691.5 1176.1L692.5 1181.1L693.5 1160.9L694.5 1166.4L695.5 1175.3L696.5 1156.2L697.5 1152.7L698.5 1157.4L699.5 1168.8L700.5 1181.0L701.5 1174.0L702.5 1167.9L703.5 1157.7L704.5 1170.0L705.5 1179.0L706.5 1174.4L707.5 1173.0L708.5 1166.4L709.5 1173.0L710.5 1159.6L711.5 1171.5L712.5 1165.7L713.5 1174.2L714.5 1169.6L715.5 1158.8L716.5 1167.3L717.5 1164.4L718.5 1145.0L719.5 1168.3L720.5 1190.0L721.5 1168.7L722.5 1172.5L723.5 1174.5L724.5 1171.3L725.5 1168.1L726.5 1166.5L727.5 1161.4L728.5 1149.0L729.5 1163.6L730.5 1172.1L731.5 1171.5L732.5 1164.7L733.5 1167.5L734.5 1166.5L735.5 1174.7L736.5 1168.0L737.5 1160.1L738.5 1168.9L739.5 1174.2L740.5 1169.9L741.5 1173.8L742.5 1180.0L743.5 1168.0L744.5 1162.3L745.5 1164.2L746.5 1167.4L747.5 1168.5L748.5 1169.4L749.5 1167.0L750.5 1169.8L751.0 1167.2L751.5 1166.3L752.5 1169.4L753.5 1166.0L754.5 1162.6L755.5 1165.8L756.5 1167.9L757.5 1162.3L758.5 1167.1L759.5 1167.2L760.5 1165.4L761.5 1165.4L762.5 1167.0L763.5 1166.9L764.5 1169.6L765.5 1168.3L766.5 1165.5L767.5 1166.6L768.5 1168.7L769.5 1170.4L770.5 1168.3L771.5 1168.2L772.5 1170.3L773.5 1167.7L774.5 1167.3L775.5 1165.8L776.0 1167.0L776.5 1170.8L777.5 1165.8L778.5 1167.7L779.5 1165.7L780.5 1167.8L781.5 1168.8L782.5 1167.2L783.5 1168.5L784.5 1168.4L785.5 1168.0L786.5 1169.6L787.5 1168.3L788.5 1166.7L789.5 1166.1L790.5 1165.8L791.5 1167.5L792.5 1166.4L793.5 1170.4L794.5 1169.2L795.5 1166.4L796.5 1166.2L797.5 1168.8L798.5 1164.0L799.5 1165.9L800.5 1167.8L801.0 1165.3L801.5 1165.9L802.5 1166.1L803.5 1167.6L804.5 1167.0L805.5 1167.6L806.5 1168.1L807.5 1167.6L808.5 1169.3L809.5 1167.2L810.5 1166.6L811.5 1166.6L812.5 1167.1L813.5 1168.9L814.5 1171.3L815.5 1170.6L816.5 1170.0L817.5 1169.7L818.5 1170.7L819.5 1171.2L820.5 1171.2L821.5 1170.4L822.5 1171.8L823.5 1173.9L824.5 1169.9L825.5 1172.4L826.0 1170.0L826.5 1173.0L827.5 1171.7L828.5 1169.8L829.5 1172.4L830.5 1174.3L831.5 1171.8L832.5 1172.7L833.5 1170.7L834.5 1167.6L835.5 1170.5L836.5 1168.8L837.5 1167.0L838.5 1169.4L839.5 1168.2L840.5 1166.8L841.5 1168.1L842.5 1165.5L843.5 1167.0L844.5 1164.7L845.5 1166.3L846.5 1164.1L847.5 1167.1L848.5 1165.6L849.5 1167.1L850.5 1164.5L851.5 1165.2L852.5 1167.2L853.5 1163.3L854.5 1166.0L855.5 1169.2L856.5 1169.2L857.5 1170.5L858.5 1169.7L859.5 1171.6L860.5 1170.8L861.5 1170.8L862.5 1171.2L863.5 1173.3L864.5 1174.1L865.5 1174.9L866.5 1172.3L867.5 1175.1L868.5 1177.8L869.5 1179.8L870.5 1179.9L871.5 1180.6L872.5 1180.1L873.5 1186.1L874.5 1183.6L875.5 1187.8L876.0 1188.2L876.5 1187.4L877.5 1187.6L878.5 1189.7L879.5 1189.7L880.5 1192.7L881.5 1193.9L882.5 1195.9L883.5 1197.8L884.5 1199.9L885.5 1199.1L886.5 1201.7L887.5 1201.0L888.5 1201.8L889.5 1202.7L890.5 1202.9L891.0 1204.9L891.5 1205.0L892.5 1205.6L893.5 1204.6L894.5 1205.0L895.5 1204.5L896.5 1204.1L897.5 1205.7L898.5 1205.6L899.5 1204.5L900.5 1206.0L901.0 1204.0L901.5 1205.3L902.5 1204.8L903.5 1204.6L904.5 1203.7L905.5 1204.8L906.5 1203.9L907.5 1203.6L908.5 1202.0L909.5 1200.1L910.5 1200.0L911.5 1198.5L912.5 1199.0L913.5 1198.8L914.5 1197.4L915.0 1196.3L915.5 1196.1L916.5 1195.8L917.5 1193.6L918.5 1193.9L919.5 1193.0L920.5 1191.4L921.5 1190.5L922.5 1190.0L923.5 1188.2L924.5 1187.3L925.5 1187.7L926.5 1186.5L927.5 1187.0L928.5 1184.2L929.5 1183.2L930.5 1185.1L931.5 1185.0L931.7 1183.6L932.5 1183.0L933.5 1184.5L934.5 1183.5L935.5 1185.2L936.5 1184.4L937.5 1186.9L938.5 1186.4L939.5 1189.0L940.0 1191.0L940.5 1190.4L941.5 1194.5L942.5 1197.8L943.5 1202.4L944.5 1206.2L945.5 1211.3L945.6 1210.6L946.5 1213.6L947.5 1213.0L948.5 1215.3L949.5 1217.0L950.5 1219.4L951.5 1220.9L952.5 1219.9L953.5 1220.4L954.5 1220.6L955.5 1223.8L956.5 1223.0L956.8 1222.6L957.5 1223.3L958.5 1221.5L959.5 1222.4L960.5 1224.8L961.5 1224.6L962.5 1224.6L963.5 1223.8L964.5 1225.3L965.5 1226.4L966.5 1224.0L967.5 1225.1L968.5 1224.8L969.5 1225.5L970.5 1225.3L970.7 1225.1L971.5 1224.5L972.5 1225.1L973.5 1224.5L974.5 1224.7L975.5 1224.5L976.5 1224.8L977.5 1223.5L978.5 1223.3L979.5 1224.1L980.5 1222.6L981.5 1222.1L982.5 1222.6L983.5 1221.6L984.5 1221.0L985.5 1220.6L986.5 1218.9L987.5 1219.9L988.5 1220.1L989.5 1219.0L990.5 1216.8L991.5 1217.9L991.6 1216.9L992.5 1217.1L993.5 1217.0L994.5 1215.4L995.5 1217.1L996.5 1215.4L997.5 1215.6L998.5 1215.0L999.5 1215.1L1000.5 1214.5L1001.5 1211.7L1002.5 1212.5L1003.5 1210.1L1004.5 1211.1L1005.5 1211.6L1006.5 1211.4L1007.5 1211.3L1008.5 1209.5L1009.5 1209.7L1010.5 1209.2L1011.5 1209.9L1012.5 1210.0L1012.6 1208.3L1013.5 1211.6L1014.5 1208.2L1015.5 1207.6L1016.5 1208.2L1017.5 1208.2L1018.5 1207.8L1019.5 1206.6L1020.5 1208.3L1021.5 1206.9L1022.5 1208.1L1023.5 1207.8L1024.5 1205.4L1025.5 1205.6L1026.5 1205.6L1027.5 1206.7L1028.5 1206.7L1029.5 1207.1L1030.5 1206.4L1031.5 1207.8L1032.5 1209.0L1033.5 1207.0L1034.5 1208.4L1035.5 1209.2L1036.5 1209.3L1037.5 1209.7L1037.7 1211.5L1038.5 1211.5L1039.5 1211.7L1040.5 1211.0L1041.5 1214.5L1042.5 1213.6L1043.5 1213.7L1044.5 1214.8L1045.5 1215.6L1046.5 1218.8L1047.4 1217.9L1047.5 1217.8L1048.5 1216.7L1049.5 1220.1L1050.5 1219.3L1051.5 1220.0L1052.5 1222.4L1053.5 1221.9L1054.5 1224.2L1055.5 1225.3L1056.5 1223.6L1057.5 1226.0L1058.5 1225.7L1059.5 1228.1L1060.5 1230.0L1061.4 1229.0L1061.5 1231.9L1062.5 1231.3L1063.5 1231.9L1064.5 1234.5L1065.5 1237.0L1066.5 1236.8L1067.5 1239.8L1068.5 1240.4L1069.5 1244.6L1070.5 1245.4L1071.5 1246.6L1072.5 1249.6L1073.5 1249.0L1074.5 1251.2L1075.3 1254.1L1075.5 1252.6L1076.5 1255.0L1077.5 1255.0L1078.5 1255.1L1079.5 1256.5L1080.5 1257.7L1081.5 1257.8L1082.3 1257.7L1082.5 1257.9L1083.5 1257.5L1084.5 1260.1L1085.5 1261.0L1086.5 1262.1L1087.5 1258.6L1088.5 1263.1L1089.5 1262.2L1090.5 1260.1L1091.5 1263.1L1092.5 1264.7L1093.5 1264.4L1094.5 1264.9L1095.5 1265.4L1096.2 1265.3L1096.5 1263.6L1097.5 1259.8L1098.5 1262.2L1099.5 1264.3L1100.5 1262.8L1101.5 1265.0L1102.5 1265.2L1103.5 1263.8L1104.5 1267.3L1105.5 1261.8L1106.5 1265.5L1107.5 1262.7L1108.5 1262.1L1109.5 1264.8L1110.2 1262.4L1110.5 1265.4L1111.5 1261.5L1112.5 1264.3L1113.5 1263.0L1114.5 1264.8L1115.5 1265.2L1116.5 1264.3L1117.5 1268.6L1118.5 1265.3L1119.5 1266.3L1120.5 1270.8L1121.5 1271.6L1122.5 1271.5L1123.5 1271.4L1124.5 1276.1L1125.5 1269.2L1126.5 1270.7L1127.5 1270.8" fill="none" stroke="#000000" stroke-width="5" stroke-linejoin="round" stroke-linecap="round"/>
<path d="M188.5 2412.8L189.0 2412.7L189.5 2412.7L190.0 2412.7L190.5 2412.7L191.0 2412.7L191.5 2412.7L192.0 2412.7L192.5 2412.7L193.0 2412.7L193.5 2412.7L194.0 2412.7L194.5 2412.7L195.0 2412.6L195.5 2412.6L196.0 2412.6L196.5 2412.6L197.0 2412.6L197.5 2412.6L198.0 2412.6L198.5 2412.6L199.0 2412.6L199.5 2412.6L200.0 2412.6L200.5 2412.6L201.0 2412.6L201.5 2412.5L202.0 2412.5L202.5 2412.5L203.0 2412.5L203.5 2412.5L204.0 2412.5L204.5 2412.5L205.0 2412.5L205.5 2412.5L206.0 2412.5L206.5 2412.5L207.0 2412.5L207.5 2412.5L208.0 2412.5L208.5 2412.5L209.0 2412.4L209.5 2412.4L210.0 2412.4L210.5 2412.4L211.0 2412.4L211.5 2412.4L212.0 2412.4L212.5 2412.4L213.0 2412.4L213.5 2412.4L214.0 2412.4L214.5 2412.4L215.0 2412.4L215.5 2412.4L216.0 2412.4L216.5 2412.4L217.0 2412.4L217.5 2412.3L218.0 2412.3L218.5 2412.3L219.0 2412.3L219.5 2412.3L220.0 2412.3L220.5 2412.3L221.0 2412.3L221.5 2412.3L222.0 2412.3L222.5 2412.3L223.0 2412.3L223.5 2412.3L224.0 2412.3L224.5 2412.3L225.0 2412.3L225.5 2412.3L226.0 2412.3L226.5 2412.3L227.0 2412.3L227.5 2412.3L228.0 2412.3L228.5 2412.3L229.0 2412.3L229.5 2412.3L230.0 2412.3L230.5 2412.3L231.0 2412.3L231.5 2412.3L232.0 2412.3L232.5 2412.3L233.0 2412.3L233.5 2412.3L234.0 2412.3L234.5 2412.3L235.0 2412.3L235.5 2412.3L236.0 2412.2L236.5 2412.2L237.0 2412.2L237.5 2412.2L238.0 2412.2L238.5 2412.2L239.0 2412.2L239.5 2412.2L240.0 2412.2L240.5 2412.2L241.0 2412.2L241.5 2412.2L242.0 2412.2L242.5 2412.2L243.0 2412.2L243.5 2412.2L244.0 2412.2L244.5 2412.2L245.0 2412.2L245.5 2412.2L246.0 2412.2L246.5 2412.2L247.0 2412.2L247.5 2412.2L248.0 2412.2L248.5 2412.2L249.0 2412.2L249.5 2412.2L250.0 2412.2L250.5 2412.2L251.0 2412.2L251.5 2412.2L252.0 2412.2L252.5 2412.2L253.0 2412.2L253.5 2412.2L254.0 2412.2L254.5 2412.2L255.0 2412.2L255.5 2412.2L256.0 2412.2L256.5 2412.2L257.0 2412.2L257.5 2412.2L258.0 2412.2L258.5 2412.2L259.0 2412.2L259.5 2412.2L260.0 2412.2L260.5 2412.2L261.0 2412.2L261.5 2412.2L262.0 2412.2L262.5 2412.2L263.0 2412.2L263.5 2412.2L264.0 2412.2L264.5 2412.2L265.0 2412.2L265.5 2412.2L266.0 2412.2L266.5 2412.2L267.0 2412.2L267.5 2412.2L268.0 2412.2L268.5 2412.2L269.0 2412.2L269.5 2412.2L270.0 2412.2L270.5 2412.2L271.0 2412.2L271.5 2412.2L272.0 2412.2L272.5 2412.2L273.0 2412.2L273.5 2412.2L274.0 2412.2L274.5 2412.2L275.0 2412.2L275.5 2412.2L276.0 2412.2L276.5 2412.2L277.0 2412.2L277.5 2412.2L278.0 2412.2L278.5 2412.2L279.0 2412.2L279.5 2412.2L280.0 2412.2L280.5 2412.2L281.0 2412.2L281.5 2412.3L282.0 2412.3L282.5 2412.3L283.0 2412.3L283.5 2412.3L284.0 2412.3L284.5 2412.4L285.0 2412.4L285.5 2412.4L286.0 2412.5L286.5 2412.5L287.0 2412.6L287.5 2412.6L288.0 2412.7L288.5 2412.7L289.0 2412.8L289.5 2412.8L290.0 2412.9L290.5 2413.0L291.0 2413.0L291.5 2413.1L292.0 2413.2L292.5 2413.3L293.0 2413.3L293.5 2413.4L294.0 2413.5L294.5 2413.6L295.0 2413.6L295.5 2413.7L296.0 2413.8L296.5 2413.9L297.0 2414.0L297.5 2414.1L298.0 2414.1L298.5 2414.2L299.0 2414.3L299.5 2414.4L300.0 2414.5L300.5 2414.6L301.0 2414.7L301.5 2414.7L302.0 2414.8L302.5 2414.9L303.0 2415.0L303.5 2415.1L304.0 2415.1L304.5 2415.2L305.0 2415.3L305.5 2415.4L306.0 2415.4L306.5 2415.5L307.0 2415.6L307.5 2415.6L308.0 2415.7L308.5 2415.8L309.0 2415.8L309.5 2415.9L310.0 2415.9L310.5 2416.0L311.0 2416.0L311.5 2416.0L312.0 2416.1L312.5 2416.1L313.0 2416.2L313.5 2416.2L314.0 2416.3L314.5 2416.3L315.0 2416.3L315.5 2416.4L316.0 2416.4L316.5 2416.5L317.0 2416.5L317.5 2416.5L318.0 2416.6L318.5 2416.6L319.0 2416.7L319.5 2416.7L320.0 2416.8L320.5 2416.8L321.0 2416.8L321.5 2416.9L322.0 2416.9L322.5 2417.0L323.0 2417.0L323.5 2417.1L324.0 2417.1L324.5 2417.1L325.0 2417.2L325.5 2417.2L326.0 2417.3L326.5 2417.3L327.0 2417.3L327.5 2417.4L328.0 2417.4L328.5 2417.5L329.0 2417.5L329.5 2417.5L330.0 2417.6L330.5 2417.6L331.0 2417.7L331.5 2417.7L332.0 2417.7L332.5 2417.8L333.0 2417.8L333.5 2417.8L334.0 2417.9L334.5 2417.9L335.0 2418.0L335.5 2418.0L336.0 2418.0L336.5 2418.1L337.0 2418.1L337.5 2418.1L338.0 2418.2L338.5 2418.2L339.0 2418.2L339.5 2418.3L340.0 2418.3L340.5 2418.3L341.0 2418.3L341.5 2418.4L342.0 2418.4L342.5 2418.4L343.0 2418.5L343.5 2418.5L344.0 2418.5L344.5 2418.5L345.0 2418.6L345.5 2418.6L346.0 2418.6L346.5 2418.6L347.0 2418.7L347.5 2418.7L348.0 2418.7L348.5 2418.7L349.0 2418.7L349.5 2418.8L350.0 2418.8L350.5 2418.8L351.0 2418.8L351.5 2418.8L352.0 2418.9L352.5 2418.9L353.0 2418.9L353.5 2418.9L354.0 2418.9L354.5 2418.9L355.0 2418.9L355.5 2418.9L356.0 2419.0L356.5 2419.0L357.0 2419.0L357.5 2419.0L358.0 2419.0L358.5 2419.0L359.0 2419.0L359.5 2419.0L360.0 2419.0L360.5 2419.0L361.0 2419.0L361.5 2419.0L362.0 2419.0L362.5 2418.9L363.0 2418.8L363.5 2418.8L364.0 2418.7L364.5 2418.6L365.0 2418.4L365.5 2418.3L366.0 2418.2L366.5 2418.0L367.0 2417.8L367.5 2417.7L368.0 2417.5L368.5 2417.3L369.0 2417.1L369.5 2417.0L370.0 2416.8L370.5 2416.6L371.0 2416.4L371.5 2416.2L372.0 2416.1L372.5 2415.9L373.0 2415.7L373.5 2415.6L374.0 2415.4L374.5 2415.3L375.0 2415.2L375.5 2415.1L376.0 2415.0L376.5 2414.9L377.0 2414.8L377.5 2414.8L378.0 2414.8L378.5 2414.8L379.0 2414.8L379.5 2414.8L380.0 2414.8L380.5 2414.8L381.0 2414.8L381.5 2414.8L382.0 2414.8L382.5 2414.8L383.0 2414.8L383.5 2414.8L384.0 2414.8L384.5 2414.8L385.0 2414.8L385.5 2414.8L386.0 2414.8L386.5 2414.8L387.0 2414.8L387.5 2414.8L388.0 2414.8L388.5 2414.8L389.0 2414.8L389.5 2414.8L390.0 2414.8L390.5 2414.8L391.0 2414.8L391.5 2414.8L392.0 2414.8L392.5 2414.8L393.0 2414.8L393.5 2414.8L394.0 2414.8L394.5 2414.8L395.0 2414.8L395.5 2414.8L396.0 2414.8L396.5 2414.8L397.0 2414.8L397.5 2414.8L398.0 2414.8L398.5 2414.8L399.0 2414.8L399.5 2414.8L400.0 2414.8L400.5 2414.8L401.0 2414.8L401.5 2414.8L402.0 2414.8L402.5 2414.8L403.0 2414.8L403.5 2414.8L404.0 2414.8L404.5 2414.8L405.0 2414.8L405.5 2414.8L406.0 2414.8L406.5 2414.8L407.0 2414.8L407.5 2414.8L408.0 2414.8L408.5 2414.8L409.0 2414.8L409.5 2414.8L410.0 2414.8L410.5 2414.8L411.0 2414.8L411.5 2414.8L412.0 2414.8L412.5 2414.8L413.0 2414.8L413.5 2414.8L414.0 2414.8L414.5 2414.8L415.0 2414.8L415.5 2414.8L416.0 2414.8L416.5 2414.8L417.0 2414.8L417.5 2414.8L418.0 2414.8L418.5 2414.8L419.0 2414.8L419.5 2414.8L420.0 2414.8L420.5 2414.8L421.0 2414.8L421.5 2414.8L422.0 2414.8L422.5 2414.8L423.0 2414.9L423.5 2414.9L424.0 2414.9L424.5 2414.9L425.0 2414.9L425.5 2414.9L426.0 2414.9L426.5 2414.9L427.0 2415.0L427.5 2415.0L428.0 2415.0L428.5 2415.0L429.0 2415.0L429.5 2415.0L430.0 2415.0L430.5 2415.1L431.0 2415.1L431.5 2415.1L432.0 2415.1L432.5 2415.1L433.0 2415.2L433.5 2415.2L434.0 2415.2L434.5 2415.2L435.0 2415.3L435.5 2415.3L436.0 2415.3L436.5 2415.3L437.0 2415.4L437.5 2415.4L438.0 2415.4L438.5 2415.5L439.0 2415.5L439.5 2415.5L440.0 2415.6L440.5 2415.6L441.0 2415.6L441.5 2415.7L442.0 2415.7L442.5 2415.7L443.0 2415.8L443.5 2415.8L444.0 2415.8L444.5 2415.9L445.0 2415.9L445.5 2416.0L446.0 2416.0L446.5 2416.1L447.0 2416.1L447.5 2416.1L448.0 2416.2L448.5 2416.2L449.0 2416.3L449.5 2416.3L450.0 2416.4L450.5 2416.4L451.0 2416.5L451.5 2416.6L452.0 2416.9L452.5 2417.2L453.0 2417.7L453.5 2418.2L454.0 2418.8L454.5 2419.5L455.0 2420.3L455.5 2421.1L456.0 2421.9L456.5 2422.8L457.0 2423.7L457.5 2424.6L458.0 2425.6L458.5 2426.5L459.0 2427.6L459.5 2429.0L460.0 2430.7L460.5 2432.5L461.0 2434.3L461.5 2436.0L462.0 2437.6L462.5 2438.9L463.0 2439.8L463.5 2440.2L464.0 2440.4L464.5 2440.6L465.0 2440.7L465.5 2440.7L466.0 2440.8L466.5 2440.8L467.0 2440.9L467.5 2441.0L468.0 2441.0L468.5 2441.1L469.0 2441.2L469.5 2441.4L469.8 2441.5L470.0 2441.8L470.5 2443.3L471.0 2445.6L471.5 2448.5L472.0 2451.4L472.5 2453.9L473.0 2455.8L473.5 2456.5L474.0 2456.5L474.5 2456.5L475.0 2456.5L475.5 2456.5L476.0 2456.5L476.5 2456.5L477.0 2456.5L477.5 2456.5L478.0 2456.5L478.5 2456.5L479.0 2456.5L479.5 2456.5L480.0 2456.5L480.5 2456.5L481.0 2456.5L481.5 2456.6L482.0 2457.0L482.5 2457.6L483.0 2458.4L483.5 2459.3L484.0 2460.4L484.5 2461.7L485.0 2463.0L485.5 2464.4L486.0 2465.9L486.5 2467.4L487.0 2468.9L487.5 2470.4L488.0 2471.8L488.5 2473.2L489.0 2474.5L489.5 2475.6L490.0 2476.7L490.5 2477.5L491.0 2478.2L491.5 2478.7L492.0 2479.0L492.2 2479.0L492.5 2478.9L493.0 2478.0L493.5 2476.2L494.0 2473.8L494.5 2470.9L495.0 2467.6L495.5 2464.0L496.0 2460.2L496.5 2456.5L497.0 2452.9L497.5 2449.5L498.0 2446.5L498.5 2444.0L499.0 2441.7L499.5 2439.4L500.0 2437.0L500.5 2434.8L501.0 2432.9L501.5 2431.4L502.0 2430.5L502.2 2430.2L502.5 2430.1L503.0 2429.8L503.5 2429.6L504.0 2429.4L504.5 2429.3L505.0 2429.2L505.5 2429.0L506.0 2428.9L506.5 2428.9L507.0 2428.8L507.5 2428.7L508.0 2428.6L508.5 2428.5L509.0 2428.4L509.5 2428.3L510.0 2428.1L510.5 2428.0L511.0 2427.8L511.5 2427.5L512.0 2427.1L512.5 2426.6L513.0 2426.1L513.5 2425.5L514.0 2424.9L514.5 2424.3L515.0 2423.6L515.5 2423.0L516.0 2422.4L516.5 2421.8L517.0 2421.3L517.5 2420.9L518.0 2420.5L518.5 2420.2L519.0 2420.0L519.5 2419.8L520.0 2419.7L520.5 2419.5L521.0 2419.3L521.5 2419.1L522.0 2418.9L522.5 2418.7L523.0 2418.6L523.5 2418.4L524.0 2418.2L524.5 2418.1L525.0 2417.9L525.5 2417.7L526.0 2417.6L526.5 2417.5L527.0 2417.3L527.5 2417.2L528.0 2417.0L528.5 2416.9L529.0 2416.8L529.5 2416.7L530.0 2416.5L530.5 2416.4L531.0 2416.3L531.5 2416.2L532.0 2416.1L532.5 2416.0L533.0 2416.0L533.5 2415.9L534.0 2415.8L534.5 2415.7L535.0 2415.6L535.5 2415.6L536.0 2415.5L536.5 2415.5L537.0 2415.4L537.5 2415.4L538.0 2415.4L538.5 2415.3L539.0 2415.3L539.5 2415.3L540.0 2415.3L540.5 2415.3L541.0 2415.2L541.5 2415.2L542.0 2415.2L542.5 2415.2L543.0 2415.2L543.5 2415.2L544.0 2415.2L544.5 2415.2L545.0 2415.2L545.5 2415.2L546.0 2415.2L546.5 2415.2L547.0 2415.2L547.5 2415.2L548.0 2415.2L548.5 2415.2L549.0 2415.2L549.5 2415.2L550.0 2415.2L550.5 2415.2L551.0 2415.2L551.5 2415.2L552.0 2415.2L552.5 2415.2L553.0 2415.2L553.5 2415.2L554.0 2415.2L554.5 2415.2L555.0 2415.2L555.5 2415.2L556.0 2415.2L556.5 2415.2L557.0 2415.2L557.5 2415.2L558.0 2415.2L558.5 2415.2L559.0 2415.2L559.5 2415.2L560.0 2415.2L560.5 2415.2L561.0 2415.2L561.5 2415.3L562.0 2415.3L562.5 2415.3L563.0 2415.3L563.5 2415.3L564.0 2415.4L564.5 2415.4L565.0 2415.5L565.5 2415.5L566.0 2415.6L566.5 2415.7L567.0 2415.7L567.5 2415.8L568.0 2415.9L568.5 2416.0L569.0 2416.0L569.5 2416.1L570.0 2416.2L570.5 2416.3L571.0 2416.4L571.5 2416.5L572.0 2416.6L572.5 2416.7L573.0 2416.8L573.5 2416.9L574.0 2417.0L574.5 2417.1L575.0 2417.2L575.5 2417.3L576.0 2417.4L576.5 2417.4L577.0 2417.5L577.5 2417.6L578.0 2417.7L578.5 2417.8L579.0 2417.9L579.5 2418.0L580.0 2418.0L580.5 2418.1L581.0 2418.2L581.5 2418.2L582.0 2418.3L582.5 2418.3L583.0 2418.4L583.5 2418.4L584.0 2418.4L584.5 2418.5L585.0 2418.5L585.5 2418.5L586.0 2418.5L586.5 2418.5L587.0 2418.5L587.5 2418.4L588.0 2418.4L588.5 2418.4L589.0 2418.3L589.5 2418.2L590.0 2418.2L590.5 2418.1L591.0 2418.0L591.5 2417.9L592.0 2417.8L592.5 2417.7L593.0 2417.6L593.5 2417.5L594.0 2417.4L594.5 2417.3L595.0 2417.2L595.5 2417.0L596.0 2416.9L596.5 2416.8L597.0 2416.7L597.5 2416.6L598.0 2416.5L598.5 2416.4L599.0 2416.3L599.5 2416.2L600.0 2416.1L600.5 2416.1L601.0 2416.0L601.5 2415.9L602.0 2415.9L602.5 2415.8L603.0 2415.7L603.5 2415.7L604.0 2415.6L604.5 2415.5L605.0 2415.5L605.5 2415.4L606.0 2415.3L606.5 2415.3L607.0 2415.2L607.5 2415.1L608.0 2415.1L608.5 2415.0L609.0 2414.9L609.5 2414.9L610.0 2414.8L610.5 2414.8L611.0 2414.7L611.5 2414.7L612.0 2414.6L612.5 2414.6L613.0 2414.5L613.5 2414.5L614.0 2414.5L614.5 2414.4L615.0 2414.4L615.5 2414.4L616.0 2414.4L616.5 2414.4L616.6 2414.4L617.0 2414.4L617.5 2414.4L618.0 2414.4L618.5 2414.4L619.0 2414.4L619.5 2414.4L620.0 2414.4L620.5 2414.4L621.0 2414.5L621.5 2414.5L622.0 2414.5L622.5 2414.5L623.0 2414.5L623.5 2414.5L624.0 2414.6L624.5 2414.6L625.0 2414.6L625.5 2414.6L626.0 2414.7L626.5 2414.7L627.0 2414.7L627.5 2414.8L628.0 2414.8L628.5 2414.8L629.0 2414.9L629.5 2414.9L630.0 2415.0L630.5 2415.0L631.0 2415.0L631.5 2415.1L632.0 2415.1L632.5 2415.2L633.0 2415.2L633.5 2415.3L634.0 2415.3L634.5 2415.4L635.0 2415.5L635.5 2415.5L636.0 2415.6L636.5 2415.6L637.0 2415.7L637.5 2415.8L638.0 2415.8L638.5 2415.9L639.0 2416.0L639.5 2416.0L640.0 2416.1L640.5 2416.2L641.0 2416.3L641.5 2416.4L642.0 2416.4L642.5 2416.5L643.0 2416.6L643.5 2416.7L644.0 2416.8L644.5 2416.9L645.0 2417.0L645.5 2417.0L646.0 2417.1L646.5 2417.2L647.0 2417.3L647.5 2417.4L648.0 2417.5L648.5 2417.6L649.0 2417.7L649.5 2417.9L649.7 2417.9L650.0 2418.0L650.5 2418.1L651.0 2418.3L651.5 2418.6L652.0 2418.9L652.5 2419.2L653.0 2419.6L653.5 2420.0L654.0 2420.4L654.5 2420.9L655.0 2421.3L655.5 2421.8L656.0 2422.3L656.5 2422.8L657.0 2423.3L657.5 2423.8L658.0 2424.3L658.5 2424.8L659.0 2425.3L659.4 2425.7L659.5 2425.8L660.0 2426.3L660.5 2426.8L661.0 2427.4L661.5 2428.0L662.0 2428.6L662.5 2429.2L663.0 2429.8L663.5 2430.5L664.0 2431.1L664.5 2431.8L665.0 2432.4L665.5 2433.0L666.0 2433.7L666.5 2434.3L667.0 2434.9L667.5 2435.5L668.0 2436.1L668.5 2436.7L669.0 2437.2L669.2 2437.4L669.5 2437.7L670.0 2438.2L670.5 2438.6L671.0 2439.1L671.5 2439.5L672.0 2439.9L672.5 2440.3L673.0 2440.7L673.5 2441.0L674.0 2441.4L674.5 2441.7L675.0 2442.1L675.5 2442.5L676.0 2442.8L676.5 2443.2L677.0 2443.5L677.5 2443.9L678.0 2444.3L678.5 2444.7L679.0 2445.1L679.5 2445.6L680.0 2446.0L680.5 2446.5L681.0 2447.0L681.5 2447.6L682.0 2448.1L682.5 2448.7L682.8 2449.1L683.0 2449.4L683.5 2450.0L684.0 2450.7L684.5 2451.4L685.0 2452.1L685.5 2453.0L686.0 2453.9L686.5 2454.9L687.0 2456.0L687.5 2457.2L688.0 2458.6L688.5 2460.1L688.7 2460.8L689.0 2461.9L689.5 2464.2L690.0 2467.2L690.5 2470.8L691.0 2475.1L691.5 2480.2L692.0 2485.9L692.5 2492.5L692.6 2493.9L693.0 2501.9L693.5 2516.7L694.0 2534.4L694.5 2552.4L695.0 2571.2L695.5 2591.9L696.0 2612.3L696.5 2630.3L697.0 2645.5L697.5 2659.1L698.0 2672.0L698.5 2684.5L699.0 2697.3L699.4 2708.2L699.5 2711.1L700.0 2728.3L700.5 2747.8L701.0 2766.7L701.5 2782.4L702.0 2792.1L702.3 2793.9L702.5 2793.2L703.0 2785.7L703.5 2771.9L704.0 2754.1L704.5 2734.4L705.0 2715.2L705.2 2708.2L705.5 2697.7L706.0 2678.7L706.5 2658.7L707.0 2638.3L707.2 2630.3L707.5 2617.8L708.0 2595.7L708.5 2574.2L709.0 2555.6L709.1 2552.4L709.5 2540.5L710.0 2526.7L710.5 2514.0L711.0 2502.6L711.5 2492.6L712.0 2484.2L712.5 2476.7L713.0 2469.6L713.5 2463.0L714.0 2456.9L714.5 2451.6L715.0 2447.0L715.5 2443.4L715.9 2441.3L716.0 2440.9L716.5 2438.8L717.0 2436.8L717.5 2435.1L718.0 2433.5L718.5 2432.1L719.0 2430.8L719.5 2429.6L720.0 2428.5L720.5 2427.6L721.0 2426.8L721.5 2426.1L721.8 2425.7L722.0 2425.5L722.5 2424.8L723.0 2424.3L723.5 2423.7L724.0 2423.1L724.5 2422.6L725.0 2422.1L725.5 2421.6L726.0 2421.1L726.5 2420.7L727.0 2420.2L727.5 2419.8L728.0 2419.5L728.5 2419.1L729.0 2418.8L729.5 2418.5L730.0 2418.2L730.5 2417.9L731.0 2417.7L731.5 2417.5L732.0 2417.3L732.5 2417.2L733.0 2417.1L733.5 2417.0L734.0 2416.9L734.5 2416.9L735.0 2416.8L735.5 2416.8L736.0 2416.7L736.5 2416.7L737.0 2416.6L737.5 2416.6L738.0 2416.5L738.5 2416.5L739.0 2416.4L739.5 2416.4L740.0 2416.3L740.5 2416.3L741.0 2416.2L741.5 2416.2L742.0 2416.2L742.5 2416.1L743.0 2416.1L743.5 2416.1L744.0 2416.0L744.5 2416.0L745.0 2416.0L745.5 2415.9L746.0 2415.9L746.5 2415.9L747.0 2415.8L747.5 2415.8L748.0 2415.8L748.5 2415.8L749.0 2415.8L749.5 2415.7L750.0 2415.7L750.5 2415.7L751.0 2415.7L751.5 2415.7L752.0 2415.7L752.5 2415.6L753.0 2415.6L753.5 2415.6L754.0 2415.6L754.5 2415.6L755.0 2415.6L755.5 2415.6L756.0 2415.6L756.5 2415.6L756.9 2415.6L757.0 2415.6L757.5 2415.6L758.0 2415.6L758.5 2415.6L759.0 2415.6L759.5 2415.6L760.0 2415.6L760.5 2415.6L761.0 2415.6L761.5 2415.7L762.0 2415.7L762.5 2415.7L763.0 2415.7L763.5 2415.7L764.0 2415.7L764.5 2415.7L765.0 2415.8L765.5 2415.8L766.0 2415.8L766.5 2415.8L767.0 2415.9L767.5 2415.9L768.0 2415.9L768.5 2416.0L769.0 2416.0L769.5 2416.0L770.0 2416.1L770.5 2416.1L771.0 2416.1L771.5 2416.2L772.0 2416.2L772.5 2416.3L773.0 2416.3L773.5 2416.4L774.0 2416.4L774.5 2416.5L775.0 2416.5L775.5 2416.6L776.0 2416.7L776.5 2416.7L777.0 2416.8L777.5 2416.8L778.0 2416.9L778.5 2417.0L779.0 2417.1L779.5 2417.1L780.0 2417.2L780.5 2417.3L781.0 2417.4L781.5 2417.4L782.0 2417.5L782.5 2417.6L783.0 2417.7L783.5 2417.8L784.0 2417.9L784.1 2417.9L784.5 2418.0L785.0 2418.3L785.5 2418.6L786.0 2419.1L786.5 2419.6L787.0 2420.3L787.5 2420.9L788.0 2421.7L788.5 2422.4L789.0 2423.2L789.5 2424.0L790.0 2424.8L790.5 2425.6L791.0 2426.4L791.5 2427.1L791.9 2427.7L792.0 2427.8L792.5 2428.6L793.0 2429.5L793.5 2430.4L794.0 2431.4L794.5 2432.4L795.0 2433.3L795.5 2434.2L796.0 2435.0L796.5 2435.6L797.0 2436.1L797.5 2436.4L797.8 2436.4L798.0 2436.4L798.5 2436.2L799.0 2435.7L799.5 2435.1L800.0 2434.4L800.5 2433.5L801.0 2432.5L801.5 2431.5L802.0 2430.4L802.5 2429.4L803.0 2428.3L803.5 2427.4L804.0 2426.5L804.5 2425.7L805.0 2425.2L805.5 2424.8L805.6 2424.7L806.0 2424.5L806.5 2424.3L807.0 2424.0L807.5 2423.8L808.0 2423.6L808.5 2423.4L809.0 2423.2L809.5 2423.0L810.0 2422.9L810.5 2422.7L811.0 2422.5L811.5 2422.4L812.0 2422.3L812.5 2422.2L813.0 2422.1L813.5 2422.0L814.0 2421.9L814.5 2421.9L815.0 2421.8L815.3 2421.8L815.5 2421.8L816.0 2421.8L816.5 2421.7L817.0 2421.7L817.5 2421.7L818.0 2421.6L818.5 2421.6L819.0 2421.6L819.5 2421.6L820.0 2421.5L820.5 2421.5L821.0 2421.5L821.5 2421.4L822.0 2421.4L822.5 2421.4L823.0 2421.4L823.5 2421.4L824.0 2421.3L824.5 2421.3L825.0 2421.3L825.5 2421.3L826.0 2421.2L826.5 2421.2L827.0 2421.2L827.5 2421.2L828.0 2421.2L828.5 2421.2L829.0 2421.1L829.5 2421.1L830.0 2421.1L830.5 2421.1L831.0 2421.1L831.5 2421.1L832.0 2421.1L832.5 2421.0L833.0 2421.0L833.5 2421.0L834.0 2421.0L834.5 2421.0L835.0 2421.0L835.5 2421.0L836.0 2421.0L836.5 2421.0L837.0 2421.0L837.5 2420.9L838.0 2420.9L838.5 2420.9L839.0 2420.9L839.5 2420.9L840.0 2420.9L840.5 2420.9L841.0 2420.9L841.5 2420.9L842.0 2420.9L842.5 2420.9L843.0 2420.9L843.5 2420.9L844.0 2420.9L844.5 2420.9L845.0 2420.9L845.5 2421.1L846.0 2421.2L846.5 2421.5L847.0 2421.7L847.5 2422.0L848.0 2422.4L848.5 2422.7L849.0 2423.1L849.5 2423.4L850.0 2423.7L850.5 2424.0L851.0 2424.3L851.5 2424.5L852.0 2424.6L852.3 2424.7L852.5 2424.7L853.0 2424.8L853.5 2424.9L854.0 2424.9L854.5 2424.9L855.0 2425.0L855.5 2425.0L856.0 2425.0L856.5 2425.1L857.0 2425.1L857.5 2425.1L858.0 2425.1L858.5 2425.1L859.0 2425.2L859.5 2425.2L860.0 2425.2L860.5 2425.3L861.0 2425.3L861.5 2425.4L862.0 2425.5L862.5 2425.6L863.0 2425.7L863.5 2428.5L864.0 2435.5L864.5 2444.9L865.0 2454.9L865.5 2470.1L866.0 2486.3L866.3 2490.0L866.5 2489.7L867.0 2486.6L867.5 2481.0L868.0 2474.2L868.5 2467.2L869.0 2461.3L869.5 2457.6L869.8 2456.9L870.0 2457.1L870.5 2458.8L871.0 2462.0L871.5 2466.2L872.0 2470.9L872.5 2475.6L872.8 2478.3L873.0 2480.1L873.5 2485.8L874.0 2492.4L874.5 2499.6L875.0 2506.9L875.5 2513.6L876.0 2519.4L876.5 2523.7L877.0 2525.9L877.2 2526.1L877.5 2525.0L878.0 2519.0L878.5 2509.2L879.0 2497.5L879.5 2485.5L880.0 2474.9L880.5 2467.5L880.6 2466.6L881.0 2463.3L881.5 2459.5L882.0 2456.0L882.5 2452.9L883.0 2450.1L883.5 2447.7L884.0 2445.7L884.5 2444.2L885.0 2443.2L885.5 2442.5L886.0 2441.8L886.5 2441.2L887.0 2440.6L887.5 2440.1L888.0 2439.6L888.5 2439.2L889.0 2438.9L889.5 2438.6L890.0 2438.5L890.5 2438.4L890.7 2438.4L891.0 2438.6L891.5 2440.0L892.0 2442.3L892.5 2445.3L893.0 2448.8L893.5 2452.4L894.0 2456.0L894.5 2459.2L895.0 2461.8L895.5 2463.5L895.6 2463.7L896.0 2464.5L896.5 2465.4L897.0 2466.2L897.5 2467.0L898.0 2467.7L898.5 2468.3L899.0 2468.8L899.5 2469.2L900.0 2469.4L900.5 2469.5L901.0 2469.3L901.5 2468.6L902.0 2467.6L902.5 2466.3L903.0 2464.9L903.5 2463.3L904.0 2461.9L904.5 2460.5L905.0 2459.3L905.5 2458.4L906.0 2457.9L906.3 2457.8L906.5 2457.8L907.0 2458.3L907.5 2459.3L908.0 2460.7L908.5 2462.4L909.0 2464.5L909.5 2466.9L910.0 2469.4L910.2 2470.5L910.5 2472.6L911.0 2477.9L911.5 2485.0L912.0 2493.5L912.5 2502.9L913.0 2512.6L913.5 2522.2L914.0 2531.1L914.1 2532.8L914.5 2540.0L915.0 2550.5L915.5 2561.7L916.0 2572.9L916.5 2583.0L917.0 2591.3L917.5 2596.9L918.0 2599.0L918.5 2598.9L919.0 2598.8L919.5 2598.5L920.0 2598.1L920.5 2597.7L921.0 2597.1L921.5 2596.5L922.0 2595.9L922.5 2595.2L923.0 2594.4L923.5 2593.7L923.8 2593.2L924.0 2592.9L924.5 2591.9L925.0 2590.6L925.5 2589.2L926.0 2587.6L926.5 2585.7L927.0 2583.8L927.5 2581.6L928.0 2579.3L928.5 2576.9L929.0 2574.4L929.5 2571.8L930.0 2569.1L930.5 2566.3L931.0 2563.5L931.5 2560.7L931.6 2560.1L932.0 2557.6L932.5 2554.1L933.0 2550.1L933.5 2545.9L934.0 2541.6L934.5 2537.2L935.0 2532.9L935.5 2528.9L936.0 2525.0L936.5 2521.1L937.0 2517.3L937.5 2513.5L938.0 2509.7L938.5 2506.0L939.0 2502.5L939.4 2499.7L939.5 2499.0L940.0 2495.3L940.5 2491.3L941.0 2487.2L941.5 2483.2L942.0 2479.3L942.5 2475.9L943.0 2473.0L943.5 2470.9L944.0 2469.7L944.3 2469.5L944.5 2469.5L945.0 2469.7L945.5 2470.1L946.0 2470.6L946.5 2471.3L947.0 2471.9L947.5 2472.6L948.0 2473.3L948.5 2473.8L949.0 2474.3L949.2 2474.4L949.5 2474.6L950.0 2474.8L950.5 2474.9L951.0 2475.1L951.5 2475.2L952.0 2475.4L952.5 2475.5L953.0 2475.7L953.5 2476.0L954.0 2476.3L954.5 2477.0L955.0 2478.3L955.5 2480.1L956.0 2482.4L956.5 2485.1L957.0 2488.2L957.5 2491.5L958.0 2495.0L958.5 2498.7L958.9 2501.7L959.0 2502.5L959.5 2506.8L960.0 2512.0L960.5 2517.8L961.0 2524.4L961.5 2531.5L962.0 2539.1L962.5 2547.2L962.8 2552.3L963.0 2555.9L963.5 2566.4L964.0 2578.5L964.5 2591.7L965.0 2605.6L965.5 2619.4L966.0 2632.8L966.5 2645.2L966.7 2649.7L967.0 2656.5L967.5 2668.8L968.0 2681.7L968.5 2694.7L969.0 2707.3L969.5 2718.9L970.0 2729.0L970.5 2737.0L971.0 2742.6L971.5 2745.0L971.6 2745.1L972.0 2744.1L972.5 2740.4L973.0 2734.2L973.5 2725.7L974.0 2715.4L974.5 2703.5L975.0 2690.4L975.5 2676.3L976.0 2661.6L976.4 2649.7L976.5 2646.4L977.0 2623.6L977.5 2595.1L978.0 2568.1L978.4 2552.3L978.5 2549.3L979.0 2534.3L979.5 2521.2L980.0 2513.0L980.3 2511.4L980.5 2511.5L981.0 2512.6L981.5 2514.7L982.0 2517.3L982.5 2520.2L983.0 2522.9L983.5 2525.2L984.0 2526.7L984.2 2527.0L984.5 2527.3L985.0 2527.7L985.5 2528.2L986.0 2528.6L986.5 2528.9L987.0 2529.3L987.5 2529.6L988.0 2529.8L988.5 2530.1L989.0 2530.3L989.5 2530.5L990.0 2530.6L990.5 2530.7L991.0 2530.8L991.5 2530.9L992.0 2530.9L992.5 2530.9L993.0 2530.7L993.5 2530.5L994.0 2530.2L994.5 2529.8L995.0 2529.4L995.5 2528.8L996.0 2528.2L996.5 2527.6L996.9 2527.0L997.0 2526.8L997.5 2524.3L998.0 2519.9L998.5 2514.0L999.0 2507.2L999.5 2500.0L1000.0 2493.0L1000.5 2486.8L1001.0 2481.9L1001.5 2478.9L1001.7 2478.3L1002.0 2477.8L1002.5 2476.9L1003.0 2476.2L1003.5 2475.5L1004.0 2474.9L1004.5 2474.4L1005.0 2474.0L1005.5 2473.7L1006.0 2473.5L1006.5 2473.4L1006.6 2473.4L1007.0 2473.4L1007.5 2473.6L1008.0 2473.8L1008.5 2474.2L1009.0 2474.6L1009.5 2475.2L1010.0 2475.8L1010.5 2476.6L1011.0 2477.4L1011.5 2478.3L1012.0 2481.2L1012.5 2487.2L1013.0 2495.3L1013.5 2504.3L1014.0 2513.3L1014.5 2521.1L1015.0 2526.7L1015.4 2528.9L1015.5 2529.1L1016.0 2530.1L1016.5 2530.8L1017.0 2531.3L1017.5 2531.6L1018.0 2532.0L1018.5 2532.4L1019.0 2532.8L1019.5 2533.5L1020.0 2534.4L1020.2 2534.8L1020.5 2535.8L1021.0 2538.6L1021.5 2542.7L1022.0 2547.7L1022.5 2553.4L1023.0 2559.5L1023.2 2562.0L1023.5 2566.6L1024.0 2577.5L1024.5 2590.9L1025.0 2604.9L1025.5 2617.9L1026.0 2628.0L1026.5 2633.6L1026.7 2634.1L1027.0 2633.3L1027.5 2628.5L1028.0 2620.3L1028.5 2609.6L1029.0 2597.3L1029.5 2584.4L1030.0 2571.8L1030.5 2556.3L1031.0 2536.4L1031.5 2515.0L1032.0 2495.4L1032.5 2480.6L1032.9 2474.4L1033.0 2473.6L1033.5 2470.0L1034.0 2466.6L1034.5 2463.5L1035.0 2460.6L1035.5 2458.1L1036.0 2455.9L1036.5 2453.9L1037.0 2452.2L1037.5 2450.8L1038.0 2449.7L1038.5 2448.9L1039.0 2448.4L1039.5 2448.1L1039.7 2448.1L1040.0 2448.2L1040.5 2448.6L1041.0 2449.3L1041.5 2450.4L1042.0 2451.7L1042.5 2453.4L1043.0 2455.2L1043.5 2457.3L1044.0 2459.7L1044.5 2462.2L1044.6 2462.7L1045.0 2465.8L1045.5 2472.1L1046.0 2480.6L1046.5 2490.6L1047.0 2501.5L1047.5 2512.5L1048.0 2523.2L1048.5 2532.8L1049.0 2542.6L1049.5 2553.8L1050.0 2565.4L1050.5 2576.6L1051.0 2586.7L1051.5 2594.6L1052.0 2599.6L1052.4 2601.0L1052.5 2600.9L1053.0 2599.2L1053.5 2595.3L1054.0 2589.6L1054.5 2582.5L1055.0 2574.5L1055.5 2566.0L1056.0 2557.4L1056.3 2552.3L1056.5 2548.6L1057.0 2536.7L1057.5 2522.1L1058.0 2506.2L1058.5 2490.2L1059.0 2475.7L1059.5 2464.0L1060.0 2456.5L1060.2 2454.9L1060.5 2453.3L1061.0 2451.0L1061.5 2448.9L1062.0 2447.0L1062.5 2445.4L1063.0 2444.0L1063.5 2442.7L1064.0 2441.7L1064.5 2440.7L1065.0 2439.9L1065.5 2439.1L1066.0 2438.4L1066.5 2437.7L1067.0 2437.1L1067.5 2436.4L1068.0 2435.8L1068.5 2435.2L1069.0 2434.7L1069.5 2434.2L1070.0 2433.8L1070.5 2433.4L1071.0 2433.0L1071.5 2432.8L1072.0 2432.6L1072.5 2432.5L1072.8 2432.5L1073.0 2432.5L1073.5 2432.5L1074.0 2432.6L1074.5 2432.6L1075.0 2432.7L1075.5 2432.8L1076.0 2433.0L1076.5 2433.1L1077.0 2433.3L1077.5 2433.5L1078.0 2433.8L1078.5 2434.0L1079.0 2434.3L1079.5 2434.7L1080.0 2435.0L1080.5 2435.4L1081.0 2435.8L1081.5 2436.3L1081.6 2436.4L1082.0 2437.5L1082.5 2440.6L1083.0 2445.2L1083.5 2450.8L1084.0 2457.0L1084.5 2463.3L1085.0 2469.2L1085.5 2474.4L1086.0 2479.4L1086.5 2484.8L1087.0 2490.4L1087.5 2495.8L1088.0 2500.7L1088.5 2504.7L1089.0 2507.4L1089.4 2508.5L1089.5 2508.6L1090.0 2509.3L1090.5 2509.8L1091.0 2510.3L1091.5 2510.8L1092.0 2511.2L1092.5 2511.5L1093.0 2511.8L1093.5 2512.1L1094.0 2512.2L1094.5 2512.3L1095.0 2512.4L1095.2 2512.4L1095.5 2512.2L1096.0 2511.3L1096.5 2509.6L1097.0 2507.3L1097.5 2504.6L1098.0 2501.6L1098.5 2498.4L1099.0 2495.1L1099.5 2492.0L1100.0 2489.0L1100.5 2486.5L1101.0 2484.4L1101.1 2484.1L1101.5 2482.8L1102.0 2481.2L1102.5 2479.5L1103.0 2477.9L1103.5 2476.2L1104.0 2474.7L1104.5 2473.1L1105.0 2471.7L1105.5 2470.3L1106.0 2469.0L1106.5 2467.8L1107.0 2466.7L1107.5 2465.8L1108.0 2465.0L1108.5 2464.4L1109.0 2464.0L1109.5 2463.7L1109.8 2463.7L1110.0 2463.7L1110.5 2464.2L1111.0 2465.1L1111.5 2466.5L1112.0 2468.4L1112.5 2470.7L1113.0 2473.4L1113.5 2476.5L1114.0 2480.0L1114.5 2483.8L1115.0 2488.0L1115.5 2492.5L1116.0 2497.4L1116.5 2502.5L1116.6 2503.6L1117.0 2509.9L1117.5 2522.6L1118.0 2538.7L1118.5 2556.4L1119.0 2573.7L1119.5 2588.7L1119.6 2591.2L1120.0 2602.0L1120.5 2616.1L1121.0 2627.5L1121.5 2632.1L1122.0 2630.5L1122.5 2626.1L1123.0 2619.3L1123.5 2610.5L1124.0 2600.2L1124.4 2591.2L1124.5 2588.3L1125.0 2561.2L1125.5 2524.1L1126.0 2492.8L1126.4 2482.2L1126.5 2481.9L1127.0 2480.8L1127.5 2480.0L1128.0 2479.6L1128.3 2479.5" fill="none" stroke="#0000ff" stroke-width="5" stroke-linejoin="round" stroke-linecap="round"/>
<path d="M187.5 2220.8L188.5 2216.3L189.5 2219.3L190.5 2218.4L191.5 2218.6L192.5 2218.9L193.5 2217.1L194.5 2219.0L195.5 2218.4L196.5 2222.7L197.5 2219.7L198.5 2219.2L199.5 2219.3L200.5 2219.0L201.5 2218.7L202.5 2219.4L203.5 2220.4L204.5 2219.7L205.5 2221.0L206.5 2219.9L207.5 2220.2L208.5 2221.9L209.5 2220.9L210.5 2219.9L211.5 2220.3L212.5 2221.2L213.5 2222.6L214.5 2220.5L215.5 2220.6L216.5 2221.9L217.5 2220.1L218.5 2220.8L219.5 2222.1L220.5 2221.8L221.5 2221.4L222.5 2222.1L223.5 2218.6L224.5 2222.6L225.5 2220.7L226.5 2220.1L227.5 2222.1L228.5 2222.6L229.5 2221.6L230.5 2221.0L231.5 2222.2L232.5 2222.2L233.5 2223.8L234.5 2223.2L235.0 2222.7L235.5 2223.7L236.5 2222.4L237.5 2221.8L238.5 2223.4L239.5 2223.5L240.5 2222.8L241.5 2222.3L242.5 2223.4L243.5 2220.7L244.5 2224.1L245.5 2224.0L246.5 2221.9L247.5 2223.7L248.5 2222.8L249.5 2224.6L250.5 2221.9L251.5 2223.1L252.5 2224.9L253.5 2225.5L254.5 2222.1L255.5 2224.0L256.5 2224.9L257.5 2224.0L258.5 2226.4L259.5 2223.6L260.5 2225.3L261.5 2224.0L262.5 2226.6L263.5 2225.3L264.5 2225.0L265.5 2223.7L266.5 2227.3L267.5 2226.5L268.5 2226.6L269.5 2227.1L270.5 2226.4L271.5 2225.5L272.5 2225.4L273.5 2225.5L274.5 2227.9L275.5 2225.0L276.5 2226.0L277.5 2226.4L278.5 2227.1L279.5 2227.5L280.5 2225.7L281.5 2225.3L282.5 2227.2L283.5 2228.6L284.5 2228.2L285.0 2227.7L285.5 2227.2L286.5 2228.0L287.5 2227.5L288.5 2228.7L289.5 2227.1L290.5 2228.2L291.5 2228.0L292.5 2228.8L293.5 2228.6L294.5 2231.1L295.5 2230.1L296.5 2230.2L297.5 2226.6L298.5 2228.4L299.5 2228.3L300.5 2229.5L301.5 2226.7L302.5 2230.4L303.5 2230.4L304.5 2228.0L305.5 2228.4L306.5 2228.7L307.5 2229.7L308.5 2230.4L309.5 2232.0L310.5 2229.7L311.5 2230.8L312.5 2230.3L313.5 2232.1L314.5 2231.1L315.5 2231.9L316.5 2229.4L317.5 2230.4L318.5 2229.8L319.5 2232.4L320.5 2231.6L321.5 2230.7L322.5 2230.6L323.5 2231.7L324.5 2230.6L325.5 2230.4L326.5 2232.0L327.5 2234.3L328.5 2231.5L329.5 2231.3L330.5 2230.7L331.5 2230.7L332.5 2232.8L333.5 2233.2L334.5 2232.4L335.0 2232.9L335.5 2232.7L336.5 2232.8L337.5 2231.2L338.5 2232.4L339.5 2233.2L340.5 2232.4L341.5 2232.8L342.5 2232.6L343.5 2233.3L344.5 2234.7L345.5 2233.5L346.5 2233.9L347.5 2235.1L348.5 2235.0L349.5 2236.3L350.5 2232.4L351.5 2235.7L352.5 2234.4L353.5 2235.3L354.5 2236.2L355.5 2236.6L356.5 2236.7L357.5 2235.9L358.5 2237.6L359.5 2235.8L360.5 2236.1L361.5 2237.3L362.5 2236.0L363.5 2239.0L364.5 2238.0L365.5 2239.4L366.5 2237.2L367.5 2236.9L368.5 2237.7L369.5 2238.5L370.5 2237.2L371.5 2238.4L372.5 2238.1L373.5 2240.1L374.5 2237.7L375.5 2239.8L376.5 2238.1L377.5 2237.9L378.5 2238.3L379.5 2237.9L380.5 2239.5L381.5 2240.6L382.5 2239.8L383.5 2240.5L384.5 2241.7L385.0 2240.3L385.5 2240.3L386.5 2239.9L387.5 2238.6L388.5 2241.3L389.5 2238.7L390.5 2241.4L391.5 2240.8L392.5 2242.2L393.5 2241.0L394.5 2240.3L395.5 2241.7L396.5 2240.8L397.5 2241.4L398.5 2241.7L399.5 2241.6L400.5 2241.7L401.5 2241.1L402.5 2241.9L403.5 2239.9L404.5 2242.2L405.5 2241.1L406.5 2243.8L407.5 2244.1L408.5 2240.7L409.5 2243.1L410.5 2242.9L411.5 2242.0L412.5 2243.8L413.5 2242.9L414.5 2241.5L415.5 2243.3L416.5 2243.6L417.5 2244.0L418.5 2242.6L419.5 2244.8L420.5 2245.0L421.5 2243.1L422.5 2243.7L423.5 2244.5L424.5 2244.1L425.5 2246.8L426.5 2245.2L427.5 2244.0L428.5 2244.4L429.5 2245.3L430.5 2248.1L431.5 2245.5L432.5 2246.0L433.5 2246.6L434.5 2246.1L435.0 2248.8L435.5 2245.7L436.5 2247.3L437.5 2246.9L438.5 2247.6L439.5 2245.8L440.5 2249.2L441.5 2247.3L442.5 2247.7L443.5 2246.9L444.5 2247.3L445.5 2249.0L446.5 2249.7L447.5 2249.7L448.5 2250.5L449.5 2250.2L450.5 2249.7L451.5 2250.8L452.5 2250.8L453.5 2250.3L454.5 2251.5L455.5 2252.4L456.5 2251.5L457.5 2251.1L458.5 2252.6L459.5 2254.2L460.5 2252.1L461.5 2252.5L462.5 2252.7L463.5 2254.5L464.5 2251.3L465.5 2254.0L466.5 2255.2L467.5 2253.2L468.5 2256.1L469.5 2255.2L470.5 2254.2L471.5 2255.3L472.5 2253.6L473.5 2254.9L474.5 2257.8L475.5 2255.0L476.5 2258.3L477.5 2256.3L478.5 2257.7L479.5 2256.8L480.5 2254.3L481.5 2256.4L482.5 2257.4L483.5 2256.0L484.5 2255.9L485.0 2257.9L485.5 2256.8L486.5 2255.7L487.5 2257.0L488.5 2258.8L489.5 2257.4L490.5 2259.1L491.5 2259.9L492.5 2258.3L493.5 2257.0L494.5 2256.9L495.5 2258.5L496.5 2259.6L497.5 2258.9L498.5 2259.3L499.5 2258.3L500.5 2259.2L501.5 2258.4L502.5 2258.6L503.5 2257.6L504.5 2257.3L505.5 2258.6L506.5 2258.0L507.5 2258.2L508.5 2260.1L509.5 2259.3L510.5 2262.8L511.5 2260.6L512.5 2258.9L513.5 2260.6L514.5 2260.1L515.5 2259.0L516.5 2261.1L517.5 2259.0L518.5 2256.4L519.5 2260.9L520.5 2259.4L521.5 2261.9L522.5 2259.5L523.5 2258.9L524.5 2262.2L525.5 2259.2L526.5 2260.7L527.5 2262.3L528.5 2260.8L529.5 2260.7L530.5 2261.0L531.5 2261.9L532.5 2260.1L533.5 2261.8L534.5 2261.9L535.0 2264.0L535.5 2260.9L536.5 2260.3L537.5 2262.4L538.5 2261.2L539.5 2262.1L540.5 2262.0L541.5 2263.4L542.5 2261.4L543.5 2262.2L544.5 2259.5L545.5 2261.6L546.5 2264.5L547.5 2262.1L548.5 2262.2L549.5 2261.8L550.5 2264.1L551.5 2263.8L552.5 2262.3L553.5 2264.7L554.5 2264.4L555.5 2265.1L556.5 2263.7L557.5 2266.6L558.5 2265.2L559.5 2264.8L560.5 2264.5L561.5 2265.0L562.5 2266.5L563.5 2265.3L564.5 2267.1L565.5 2266.7L566.5 2267.7L567.5 2267.3L568.5 2266.4L569.5 2264.4L570.5 2267.2L571.5 2267.9L572.5 2267.3L573.5 2267.9L574.5 2266.9L575.5 2267.1L576.5 2266.6L577.5 2269.5L578.5 2268.2L579.5 2267.5L580.5 2266.7L581.5 2268.2L582.5 2270.2L583.5 2269.1L584.5 2267.8L585.0 2270.4L585.5 2270.5L586.5 2270.1L587.5 2269.9L588.5 2270.4L589.5 2269.8L590.5 2270.1L591.5 2268.4L592.5 2271.2L593.5 2269.7L594.5 2271.9L595.5 2267.2L596.5 2270.5L597.5 2270.9L598.5 2269.4L599.5 2270.4L600.5 2270.8L601.5 2270.7L602.5 2269.4L603.5 2269.9L604.5 2271.4L605.5 2271.8L606.5 2270.4L607.5 2270.5L608.5 2270.7L609.5 2271.8L610.5 2269.4L611.5 2269.1L612.5 2270.9L613.5 2269.5L614.5 2270.3L615.0 2271.1L615.5 2271.6L616.5 2269.9L617.5 2272.2L618.5 2269.2L619.5 2272.1L620.5 2269.7L621.5 2270.2L622.5 2272.6L623.5 2271.4L624.5 2271.1L625.5 2271.6L626.5 2272.9L627.5 2272.4L628.5 2272.5L629.5 2274.2L630.5 2271.7L631.5 2272.2L632.5 2272.2L633.5 2275.3L634.5 2275.2L635.5 2276.0L636.5 2273.5L637.5 2273.4L638.5 2275.8L639.5 2273.1L640.5 2276.1L641.5 2276.1L642.5 2272.6L643.5 2274.3L644.5 2274.3L645.5 2279.3L646.5 2281.7L647.5 2274.7L648.5 2275.1L649.5 2268.9L650.5 2275.9L651.5 2275.4L652.5 2272.5L653.5 2278.0L654.5 2271.3L655.5 2275.4L656.5 2276.6L657.5 2272.6L658.5 2279.2L659.5 2280.0L660.5 2272.8L661.5 2273.0L662.5 2279.3L663.5 2277.8L664.5 2274.6L665.5 2278.1L666.5 2279.5L667.5 2280.2L668.5 2284.2L669.5 2283.7L670.5 2289.0L671.5 2288.7L672.5 2287.3L673.5 2289.4L674.5 2290.8L675.5 2289.3L676.5 2283.5L677.5 2290.3L678.5 2286.0L679.5 2286.7L680.5 2276.1L681.5 2271.6L682.5 2266.2L683.5 2268.2L683.8 2263.1L684.5 2261.7L685.5 2264.1L686.5 2262.2L687.5 2265.3L688.5 2265.9L689.5 2268.3L690.5 2275.6L691.5 2269.3L692.5 2272.6L693.5 2274.8L694.5 2283.3L695.5 2282.0L696.5 2290.4L697.5 2299.3L698.5 2306.8L699.5 2306.9L700.0 2305.1L700.5 2303.3L701.5 2309.7L702.5 2313.7L703.5 2307.3L704.5 2305.6L705.5 2305.7L706.5 2297.4L707.5 2299.2L708.5 2298.1L709.5 2299.6L710.0 2297.3L710.5 2290.7L711.5 2300.8L712.5 2301.7L713.5 2289.8L714.5 2290.9L715.5 2288.1L716.5 2288.8L717.5 2275.8L718.5 2290.1L719.5 2279.0L720.0 2287.6L720.5 2282.0L721.5 2282.3L722.5 2287.4L723.5 2296.5L724.5 2290.3L725.0 2293.1L725.5 2292.6L726.5 2286.3L727.5 2301.1L728.5 2297.2L729.5 2293.8L730.5 2299.4L731.5 2288.4L732.5 2292.5L733.5 2301.3L734.5 2297.4L735.0 2281.4L735.5 2275.8L736.5 2287.4L737.5 2297.8L738.5 2290.8L739.5 2292.2L740.5 2296.0L741.5 2290.2L742.5 2294.9L743.5 2297.3L744.5 2296.4L745.5 2296.4L746.5 2293.6L747.5 2297.2L748.5 2294.7L749.5 2300.0L750.0 2303.7L750.5 2294.2L751.5 2290.2L752.5 2295.4L753.5 2297.8L754.5 2299.7L755.5 2299.9L756.5 2294.9L757.5 2295.0L758.5 2300.6L759.5 2294.5L760.5 2300.3L761.5 2296.9L762.5 2299.5L763.5 2299.4L764.5 2299.7L765.5 2299.9L766.5 2295.5L767.5 2298.7L768.5 2298.1L769.5 2298.9L770.5 2301.1L771.5 2297.7L772.5 2296.9L773.5 2297.0L774.5 2298.0L775.0 2300.4L775.5 2297.0L776.5 2301.4L777.5 2299.7L778.5 2298.7L779.5 2296.6L780.5 2300.0L781.5 2301.0L782.5 2296.3L783.5 2302.2L784.5 2303.2L785.5 2300.9L786.5 2301.3L787.5 2304.9L788.5 2302.9L789.5 2299.3L790.5 2301.0L791.5 2300.9L792.5 2301.1L793.5 2297.7L794.5 2302.8L795.5 2300.8L796.5 2302.2L797.5 2301.9L798.5 2303.5L799.5 2302.0L800.0 2301.4L800.5 2303.3L801.5 2304.6L802.5 2302.5L803.5 2304.8L804.5 2303.5L805.5 2302.7L806.5 2305.3L807.5 2302.7L808.5 2305.0L809.5 2303.4L810.5 2304.7L811.5 2302.8L812.5 2303.5L813.5 2305.9L814.5 2305.0L815.5 2305.0L816.5 2304.6L817.5 2305.8L818.5 2303.7L819.5 2304.2L820.5 2305.5L821.5 2304.8L822.5 2305.1L823.5 2306.0L824.5 2306.0L825.0 2306.0L825.5 2308.3L826.5 2307.6L827.5 2308.0L828.5 2306.6L829.5 2306.1L830.5 2305.1L831.5 2306.5L832.5 2304.5L833.5 2306.4L834.5 2308.1L835.5 2309.2L836.5 2308.5L837.5 2306.4L838.5 2308.1L839.5 2306.6L840.5 2308.7L841.5 2307.6L842.5 2308.9L843.5 2311.1L844.5 2309.2L845.5 2311.0L846.5 2308.5L847.5 2308.0L848.5 2310.2L849.5 2310.8L850.0 2308.1L850.5 2308.9L851.5 2307.3L852.5 2309.0L853.5 2310.5L854.5 2309.6L855.5 2309.3L856.5 2308.6L857.5 2311.1L858.5 2311.9L859.5 2312.0L860.5 2311.9L861.5 2310.4L862.5 2314.5L863.5 2312.6L864.5 2312.8L865.5 2314.2L866.5 2310.9L867.5 2313.8L868.5 2314.0L869.5 2314.8L870.5 2316.2L871.5 2315.3L872.5 2312.6L873.5 2314.5L874.5 2315.2L875.0 2315.2L875.5 2313.4L876.5 2312.9L877.5 2315.6L878.5 2315.3L879.5 2314.8L880.5 2312.7L881.5 2316.9L882.5 2311.0L883.5 2314.1L884.5 2317.0L885.5 2314.1L886.5 2314.4L887.5 2312.5L888.5 2315.5L889.5 2312.1L890.5 2313.8L891.5 2313.5L892.5 2311.8L893.5 2314.0L894.5 2311.0L895.5 2311.7L896.5 2312.3L897.5 2311.6L898.5 2312.4L899.5 2312.8L900.0 2311.1L900.5 2310.7L901.5 2310.3L902.5 2310.0L903.5 2310.9L904.5 2308.9L905.5 2309.0L906.5 2307.8L907.5 2306.2L908.5 2307.8L909.5 2305.1L910.5 2306.2L911.2 2308.0L911.5 2304.8L912.5 2306.4L913.5 2305.2L914.5 2307.5L915.5 2307.4L916.5 2310.0L917.5 2311.0L918.5 2312.8L919.5 2315.3L920.5 2314.1L920.9 2314.6L921.5 2313.7L922.5 2313.4L923.5 2312.6L924.5 2311.3L925.5 2313.5L926.5 2315.3L927.5 2313.7L928.5 2312.3L929.5 2314.8L930.5 2312.0L931.5 2311.6L932.5 2310.6L933.5 2310.8L934.5 2311.5L935.5 2314.1L936.5 2311.2L937.5 2310.0L938.5 2310.4L939.5 2310.8L940.5 2308.9L941.5 2311.2L941.8 2311.9L942.5 2311.4L943.5 2311.8L944.5 2309.4L945.5 2308.9L946.5 2312.7L947.5 2312.5L948.5 2309.3L949.5 2311.6L950.5 2311.4L951.5 2312.2L952.5 2311.9L953.5 2311.2L954.5 2312.2L955.5 2312.4L956.5 2312.3L957.5 2310.3L958.5 2309.1L959.5 2312.2L960.5 2311.4L961.4 2314.1L961.5 2314.8L962.5 2316.9L963.5 2321.3L964.5 2328.1L965.5 2334.8L966.5 2337.1L967.5 2344.2L968.5 2348.7L969.5 2352.2L970.5 2356.6L971.1 2354.7L971.5 2357.1L972.5 2355.6L973.5 2356.5L974.5 2356.8L975.5 2359.4L976.5 2358.2L977.5 2360.1L978.5 2359.0L979.5 2362.3L980.5 2363.7L981.5 2362.0L982.5 2364.2L983.5 2363.1L984.5 2365.4L985.5 2363.0L986.5 2361.0L987.5 2365.0L988.5 2363.1L989.5 2362.0L990.5 2362.5L990.6 2361.2L991.5 2363.0L992.5 2361.7L993.5 2364.8L994.5 2363.4L995.5 2360.1L996.5 2359.9L997.5 2360.6L998.5 2358.4L999.5 2360.2L1000.5 2359.7L1001.5 2358.2L1002.5 2358.0L1003.5 2358.9L1004.5 2359.6L1004.6 2359.6L1005.5 2357.3L1006.5 2357.8L1007.5 2355.2L1008.5 2356.0L1009.5 2353.6L1010.5 2355.1L1011.5 2351.9L1012.5 2351.6L1013.5 2352.2L1014.5 2352.5L1015.5 2349.5L1016.5 2350.3L1017.5 2350.9L1018.5 2351.0L1019.5 2350.0L1020.5 2352.1L1021.5 2353.0L1022.5 2356.8L1023.5 2357.6L1024.5 2356.9L1025.5 2357.4L1026.5 2361.7L1027.5 2363.9L1028.3 2362.8L1028.5 2363.7L1029.5 2361.9L1030.5 2360.7L1031.5 2363.2L1032.5 2362.2L1033.5 2362.6L1034.5 2359.7L1035.5 2361.4L1036.5 2360.0L1037.5 2361.5L1038.5 2359.3L1039.5 2358.9L1040.5 2358.6L1041.5 2361.2L1042.5 2358.9L1043.5 2357.4L1044.5 2356.7L1045.5 2356.5L1046.4 2361.1L1046.5 2355.0L1047.5 2356.8L1048.5 2359.8L1049.5 2361.2L1050.5 2358.7L1051.5 2361.0L1052.5 2361.4L1053.5 2362.3L1054.5 2360.7L1055.5 2365.0L1056.5 2362.2L1057.5 2366.1L1058.5 2360.0L1059.5 2365.9L1060.4 2360.7L1060.5 2360.1L1061.5 2366.3L1062.5 2363.7L1063.5 2368.6L1064.5 2365.7L1065.5 2375.1L1066.5 2372.1L1067.5 2370.4L1068.5 2376.0L1069.5 2379.8L1070.1 2375.7L1070.5 2380.3L1071.5 2386.8L1072.5 2385.1L1073.5 2384.5L1074.5 2384.9L1075.5 2390.6L1076.5 2386.0L1077.5 2383.0L1078.5 2392.0L1079.5 2391.8L1080.5 2401.6L1081.3 2396.6L1081.5 2393.0L1082.5 2392.4L1083.5 2397.8L1084.5 2393.5L1085.5 2394.3L1086.5 2395.9L1087.5 2396.5L1088.5 2396.5L1089.5 2396.6L1090.5 2400.6L1091.5 2402.0L1092.5 2390.6L1093.5 2405.1L1094.5 2396.7L1095.2 2400.6L1095.5 2393.6L1096.5 2396.1L1097.5 2393.5L1098.5 2390.3L1099.5 2390.0L1100.5 2386.7L1101.5 2379.2L1102.2 2381.9L1102.5 2385.0L1103.5 2384.9L1104.5 2381.4L1105.5 2381.8L1106.5 2382.6L1107.5 2379.5L1108.5 2379.2L1109.5 2390.3L1110.5 2383.6L1111.5 2386.0L1112.5 2383.6L1113.5 2392.0L1114.5 2394.6L1115.5 2388.0L1116.1 2391.3L1116.5 2386.9L1117.5 2397.7L1118.5 2396.0L1119.5 2391.5L1120.5 2402.8L1121.5 2403.7L1121.7 2404.9L1122.5 2423.2L1123.1 2430.0L1123.5 2430.4L1124.5 2431.4L1125.5 2413.9L1125.9 2399.5" fill="none" stroke="#ff0000" stroke-width="5" stroke-linejoin="round" stroke-linecap="round"/>
<path d="M188.5 2117.5L189.5 2118.3L190.5 2117.7L191.5 2115.6L192.5 2118.8L193.5 2118.3L194.5 2117.1L195.5 2118.8L196.5 2118.6L197.5 2118.6L198.5 2118.4L199.5 2119.2L200.5 2117.5L201.5 2118.5L202.5 2118.1L203.5 2119.7L204.5 2119.0L205.5 2118.7L206.5 2118.1L207.5 2118.9L208.5 2119.3L209.5 2119.0L210.5 2121.3L211.0 2120.9L211.5 2115.7L212.5 2116.9L213.5 2119.4L214.5 2119.1L215.5 2120.1L216.5 2120.1L217.5 2122.8L218.5 2118.4L219.5 2119.5L220.5 2122.9L221.5 2121.0L222.5 2121.1L223.5 2119.5L224.5 2117.9L225.5 2120.5L226.5 2120.5L227.5 2118.6L228.5 2119.4L229.5 2120.3L230.5 2119.1L231.5 2120.3L232.5 2120.6L233.5 2120.5L234.5 2119.8L235.5 2121.3L236.0 2121.7L236.5 2120.9L237.5 2119.4L238.5 2121.5L239.5 2119.8L240.5 2121.7L241.5 2118.9L242.5 2121.7L243.5 2120.4L244.5 2118.6L245.5 2119.9L246.5 2120.4L247.5 2120.7L248.5 2118.9L249.5 2118.7L250.5 2120.4L251.5 2119.5L252.5 2120.4L253.5 2121.1L254.5 2117.6L255.5 2120.2L256.5 2121.5L257.5 2119.3L258.5 2118.6L259.5 2120.7L260.5 2119.9L261.0 2120.8L261.5 2119.0L262.5 2117.2L263.5 2118.8L264.5 2118.0L265.5 2119.3L266.5 2118.0L267.5 2115.0L268.5 2115.1L269.5 2117.6L270.5 2117.0L271.5 2113.3L272.5 2110.5L273.5 2114.2L274.5 2116.2L275.5 2116.9L276.5 2116.2L277.5 2115.9L278.5 2115.9L279.5 2118.0L280.5 2113.7L281.5 2116.9L282.5 2115.4L283.5 2111.5L284.5 2116.1L285.5 2117.5L286.0 2119.7L286.5 2118.5L287.5 2119.8L288.5 2120.9L289.5 2119.9L290.5 2118.4L291.5 2117.8L292.5 2122.7L293.5 2120.3L294.5 2119.8L295.5 2121.3L296.5 2121.1L297.5 2122.9L298.5 2122.0L299.5 2122.4L300.5 2121.7L301.5 2123.8L302.5 2122.0L303.5 2124.8L304.5 2126.5L305.5 2122.6L306.5 2121.7L307.5 2126.5L308.5 2129.6L309.5 2125.0L310.5 2125.1L311.0 2127.8L311.5 2126.0L312.5 2126.8L313.5 2127.4L314.5 2129.0L315.5 2128.0L316.5 2129.3L317.5 2129.0L318.5 2128.4L319.5 2129.5L320.5 2128.9L321.5 2130.6L322.5 2129.3L323.5 2129.7L324.5 2133.5L325.5 2131.8L326.5 2132.1L327.5 2133.2L328.5 2132.2L329.5 2132.8L330.5 2134.1L331.5 2134.2L332.5 2132.6L333.5 2135.7L334.5 2134.1L335.5 2130.9L336.0 2125.5L336.5 2131.8L337.5 2138.4L338.5 2134.9L339.5 2137.2L340.5 2134.4L341.5 2137.8L342.5 2139.6L343.5 2138.4L344.5 2138.4L345.5 2140.1L346.5 2141.2L347.5 2141.6L348.5 2143.9L349.5 2142.0L350.5 2141.3L351.5 2142.5L352.5 2143.0L353.5 2143.8L354.5 2144.1L355.5 2144.8L356.5 2142.7L357.5 2146.6L358.5 2145.1L359.5 2144.7L360.5 2147.7L361.0 2148.8L361.5 2147.9L362.5 2147.8L363.5 2146.7L364.5 2152.4L365.5 2149.9L366.5 2147.4L367.5 2148.3L368.5 2149.8L369.5 2147.9L370.5 2150.6L371.5 2150.1L372.5 2152.8L373.5 2152.7L374.5 2148.0L375.5 2152.2L376.5 2150.3L377.5 2154.5L378.5 2153.6L379.5 2154.6L380.5 2152.8L381.0 2157.1L381.5 2157.6L382.5 2153.8L383.5 2156.5L384.5 2155.7L385.5 2157.3L386.5 2156.4L387.5 2161.5L388.5 2158.4L389.5 2160.1L390.5 2162.1L391.5 2161.3L392.5 2162.7L393.5 2163.0L394.5 2164.3L395.5 2163.6L396.5 2165.3L397.5 2166.2L398.5 2166.5L399.5 2167.6L400.5 2167.6L401.5 2169.6L402.5 2168.6L403.5 2169.3L404.5 2169.1L405.5 2169.8L406.5 2169.2L407.5 2172.2L408.5 2170.2L409.5 2171.2L410.5 2173.1L411.5 2173.4L412.5 2172.5L413.5 2170.5L414.5 2174.0L415.5 2173.9L416.0 2171.5L416.5 2174.6L417.5 2172.5L418.5 2171.9L419.5 2173.6L420.5 2173.1L421.5 2173.6L422.5 2171.0L423.5 2175.7L424.5 2172.3L425.5 2170.9L426.5 2173.8L427.5 2172.3L428.5 2173.2L429.5 2172.1L430.5 2172.4L431.5 2172.8L432.5 2171.3L433.5 2173.2L434.5 2171.5L435.5 2170.8L436.0 2172.1L436.5 2172.6L437.5 2171.5L438.5 2170.6L439.5 2172.6L440.5 2169.1L441.5 2170.1L442.5 2171.5L443.5 2169.4L444.5 2171.2L445.5 2171.0L446.5 2172.3L447.5 2169.6L448.5 2169.9L449.5 2171.2L450.5 2167.1L451.5 2174.8L452.5 2169.4L453.5 2169.3L454.5 2171.4L455.5 2170.0L456.5 2167.5L457.5 2170.7L458.5 2171.0L459.5 2169.0L460.5 2169.2L461.0 2170.2L461.5 2168.2L462.5 2170.0L463.5 2169.5L464.5 2168.2L465.5 2167.1L466.5 2168.6L467.5 2167.5L468.5 2170.0L469.5 2168.7L470.5 2169.5L471.5 2168.5L472.5 2168.5L473.5 2166.9L474.5 2168.9L475.5 2170.3L476.5 2167.3L477.5 2166.8L478.5 2167.3L479.5 2166.7L480.5 2166.3L481.5 2167.4L482.5 2166.8L483.5 2169.1L484.5 2167.1L485.5 2167.5L486.0 2168.3L486.5 2166.6L487.5 2169.0L488.5 2166.0L489.5 2165.8L490.5 2166.3L491.5 2166.7L492.5 2164.8L493.5 2166.7L494.5 2164.4L495.5 2168.7L496.5 2166.6L497.5 2165.8L498.5 2165.4L499.5 2166.1L500.5 2166.3L501.5 2165.1L502.5 2165.3L503.5 2166.3L504.5 2165.8L505.5 2167.8L506.5 2168.1L507.5 2166.5L508.5 2167.2L509.5 2164.6L510.5 2167.4L511.0 2166.5L511.5 2167.2L512.5 2168.7L513.5 2163.3L514.5 2166.9L515.5 2165.0L516.5 2167.4L517.5 2164.7L518.5 2165.9L519.5 2166.9L520.5 2167.5L521.5 2166.7L522.5 2165.5L523.5 2165.9L524.5 2167.9L525.5 2166.7L526.5 2164.4L527.5 2167.9L528.5 2167.4L529.5 2168.0L530.5 2166.4L531.5 2168.0L532.5 2165.4L533.5 2167.7L534.5 2166.3L535.5 2167.9L536.0 2168.4L536.5 2166.0L537.5 2167.0L538.5 2167.1L539.5 2168.8L540.5 2168.2L541.5 2165.5L542.5 2167.9L543.5 2168.4L544.5 2170.4L545.5 2165.1L546.5 2166.8L547.5 2169.4L548.5 2165.7L549.5 2166.0L550.5 2168.5L551.5 2169.3L552.5 2167.0L553.5 2168.7L554.5 2168.2L555.5 2170.2L556.5 2168.2L557.5 2169.6L558.5 2167.1L559.5 2168.1L560.5 2168.3L561.0 2170.1L561.5 2169.3L562.5 2167.6L563.5 2169.6L564.5 2169.8L565.5 2168.7L566.5 2168.6L567.5 2168.7L568.5 2166.7L569.5 2169.4L570.5 2169.6L571.5 2168.1L572.5 2170.5L573.5 2167.6L574.5 2168.8L575.5 2169.0L576.5 2172.5L577.5 2167.6L578.5 2170.7L579.5 2171.3L580.5 2170.6L581.5 2171.8L582.5 2168.8L583.5 2167.1L584.5 2171.5L585.5 2168.8L586.0 2170.0L586.5 2168.9L587.5 2172.1L588.5 2171.9L589.5 2169.7L590.5 2172.0L591.5 2171.0L592.5 2170.7L593.5 2171.0L594.5 2170.7L595.5 2171.9L596.5 2171.5L597.5 2170.6L598.5 2172.6L599.5 2170.4L600.5 2171.7L601.5 2171.9L602.5 2173.6L603.5 2170.7L604.5 2174.3L605.5 2171.9L606.5 2171.3L607.5 2170.5L608.5 2172.9L609.5 2172.0L610.5 2169.8L611.0 2169.7L611.5 2170.9L612.5 2170.8L613.5 2174.7L614.5 2175.6L615.5 2174.7L616.5 2173.8L617.5 2172.2L618.5 2173.6L619.5 2175.9L620.5 2179.4L621.5 2176.5L622.5 2173.4L623.5 2174.5L624.5 2173.1L625.5 2172.2L626.0 2174.0L626.5 2175.1L627.5 2180.0L628.5 2174.4L629.5 2178.3L630.5 2179.4L631.5 2173.5L632.5 2178.4L633.5 2175.0L634.5 2170.6L635.5 2172.7L636.5 2171.4L637.5 2170.2L638.5 2170.0L639.5 2171.2L640.5 2168.1L641.0 2160.5L641.5 2167.0L642.5 2164.4L643.5 2171.8L644.5 2173.6L645.5 2172.0L646.5 2172.9L647.5 2174.7L648.5 2169.5L649.5 2171.9L650.5 2175.8L651.5 2178.7L652.5 2176.4L653.5 2187.3L654.5 2175.1L655.5 2180.9L656.5 2182.8L657.5 2176.2L658.5 2173.1L659.5 2171.5L660.5 2178.7L661.5 2183.9L662.5 2184.1L663.5 2192.5L664.5 2181.9L665.5 2181.3L666.5 2166.4L667.5 2179.4L668.5 2178.3L669.5 2170.3L670.5 2190.4L671.5 2169.9L672.5 2171.6L673.5 2170.7L674.5 2184.2L675.5 2172.3L676.5 2181.5L677.5 2180.9L678.5 2178.8L679.5 2169.1L680.5 2173.3L681.5 2187.4L682.5 2165.2L683.5 2158.5L684.5 2169.7L685.5 2181.9L686.5 2178.3L687.5 2181.4L688.5 2169.6L689.5 2182.7L690.5 2180.2L691.0 2166.0L691.5 2186.6L692.5 2191.6L693.5 2171.4L694.5 2176.9L695.5 2185.8L696.5 2166.7L697.5 2163.2L698.5 2167.9L699.5 2179.3L700.5 2191.5L701.5 2184.5L702.5 2178.4L703.5 2168.2L704.5 2180.5L705.5 2189.5L706.5 2184.9L707.5 2183.5L708.5 2176.9L709.5 2183.5L710.5 2170.1L711.5 2182.0L712.5 2176.2L713.5 2184.7L714.5 2180.1L715.5 2169.3L716.5 2177.8L717.5 2174.9L718.5 2155.5L719.5 2178.8L720.5 2200.5L721.5 2179.2L722.5 2183.0L723.5 2185.0L724.5 2181.8L725.5 2178.6L726.5 2177.0L727.5 2171.9L728.5 2159.5L729.5 2174.1L730.5 2182.6L731.5 2182.0L732.5 2175.2L733.5 2178.0L734.5 2177.0L735.5 2185.2L736.5 2178.5L737.5 2170.6L738.5 2179.4L739.5 2184.7L740.5 2180.4L741.5 2184.3L742.5 2190.5L743.5 2178.5L744.5 2172.8L745.5 2174.7L746.5 2177.9L747.5 2179.0L748.5 2179.9L749.5 2177.5L750.5 2180.3L751.0 2177.7L751.5 2176.8L752.5 2179.9L753.5 2176.5L754.5 2173.1L755.5 2176.3L756.5 2178.4L757.5 2172.8L758.5 2177.6L759.5 2177.7L760.5 2175.9L761.5 2175.9L762.5 2177.5L763.5 2177.4L764.5 2180.1L765.5 2178.8L766.5 2176.0L767.5 2177.1L768.5 2179.2L769.5 2180.9L770.5 2178.8L771.5 2178.7L772.5 2180.8L773.5 2178.2L774.5 2177.8L775.5 2176.3L776.0 2177.5L776.5 2181.3L777.5 2176.3L778.5 2178.2L779.5 2176.2L780.5 2178.3L781.5 2179.3L782.5 2177.7L783.5 2179.0L784.5 2178.9L785.5 2178.5L786.5 2180.1L787.5 2178.8L788.5 2177.2L789.5 2176.6L790.5 2176.3L791.5 2178.0L792.5 2176.9L793.5 2180.9L794.5 2179.7L795.5 2176.9L796.5 2176.7L797.5 2179.3L798.5 2174.5L799.5 2176.4L800.5 2178.3L801.0 2175.8L801.5 2176.4L802.5 2176.6L803.5 2178.1L804.5 2177.5L805.5 2178.1L806.5 2178.6L807.5 2178.1L808.5 2179.8L809.5 2177.7L810.5 2177.1L811.5 2177.1L812.5 2177.6L813.5 2179.4L814.5 2181.8L815.5 2181.1L816.5 2180.5L817.5 2180.2L818.5 2181.2L819.5 2181.7L820.5 2181.7L821.5 2180.9L822.5 2182.3L823.5 2184.4L824.5 2180.4L825.5 2182.9L826.0 2180.5L826.5 2183.5L827.5 2182.2L828.5 2180.3L829.5 2182.9L830.5 2184.8L831.5 2182.3L832.5 2183.2L833.5 2181.2L834.5 2178.1L835.5 2181.0L836.5 2179.3L837.5 2177.5L838.5 2179.9L839.5 2178.7L840.5 2177.3L841.5 2178.6L842.5 2176.0L843.5 2177.5L844.5 2175.2L845.5 2176.8L846.5 2174.6L847.5 2177.6L848.5 2176.1L849.5 2177.6L850.5 2175.0L851.5 2175.7L852.5 2177.7L853.5 2173.8L854.5 2176.5L855.5 2179.7L856.5 2179.7L857.5 2181.0L858.5 2180.2L859.5 2182.1L860.5 2181.3L861.5 2181.3L862.5 2181.7L863.5 2183.8L864.5 2184.6L865.5 2185.4L866.5 2182.8L867.5 2185.6L868.5 2188.3L869.5 2190.3L870.5 2190.4L871.5 2191.1L872.5 2190.6L873.5 2196.6L874.5 2194.1L875.5 2198.3L876.0 2198.7L876.5 2197.9L877.5 2198.1L878.5 2200.2L879.5 2200.2L880.5 2203.2L881.5 2204.4L882.5 2206.4L883.5 2208.3L884.5 2210.4L885.5 2209.6L886.5 2212.2L887.5 2211.5L888.5 2212.3L889.5 2213.2L890.5 2213.4L891.0 2215.4L891.5 2215.5L892.5 2216.1L893.5 2215.1L894.5 2215.5L895.5 2215.0L896.5 2214.6L897.5 2216.2L898.5 2216.1L899.5 2215.0L900.5 2216.5L901.0 2214.5L901.5 2215.8L902.5 2215.3L903.5 2215.1L904.5 2214.2L905.5 2215.3L906.5 2214.4L907.5 2214.1L908.5 2212.5L909.5 2210.6L910.5 2210.5L911.5 2209.0L912.5 2209.5L913.5 2209.3L914.5 2207.9L915.0 2206.8L915.5 2206.6L916.5 2206.3L917.5 2204.1L918.5 2204.4L919.5 2203.5L920.5 2201.9L921.5 2201.0L922.5 2200.5L923.5 2198.7L924.5 2197.8L925.5 2198.2L926.5 2197.0L927.5 2197.5L928.5 2194.7L929.5 2193.7L930.5 2195.6L931.5 2195.5L931.7 2194.1L932.5 2193.5L933.5 2195.0L934.5 2194.0L935.5 2195.7L936.5 2194.9L937.5 2197.4L938.5 2196.9L939.5 2199.5L940.0 2201.5L940.5 2200.9L941.5 2205.0L942.5 2208.3L943.5 2212.9L944.5 2216.7L945.5 2221.8L945.6 2221.1L946.5 2224.1L947.5 2223.5L948.5 2225.8L949.5 2227.5L950.5 2229.9L951.5 2231.4L952.5 2230.4L953.5 2230.9L954.5 2231.1L955.5 2234.3L956.5 2233.5L956.8 2233.1L957.5 2233.8L958.5 2232.0L959.5 2232.9L960.5 2235.3L961.5 2235.1L962.5 2235.1L963.5 2234.3L964.5 2235.8L965.5 2236.9L966.5 2234.5L967.5 2235.6L968.5 2235.3L969.5 2236.0L970.5 2235.8L970.7 2235.6L971.5 2235.0L972.5 2235.6L973.5 2235.0L974.5 2235.2L975.5 2235.0L976.5 2235.3L977.5 2234.0L978.5 2233.8L979.5 2234.6L980.5 2233.1L981.5 2232.6L982.5 2233.1L983.5 2232.1L984.5 2231.5L985.5 2231.1L986.5 2229.4L987.5 2230.4L988.5 2230.6L989.5 2229.5L990.5 2227.3L991.5 2228.4L991.6 2227.4L992.5 2227.6L993.5 2227.5L994.5 2225.9L995.5 2227.6L996.5 2225.9L997.5 2226.1L998.5 2225.5L999.5 2225.6L1000.5 2225.0L1001.5 2222.2L1002.5 2223.0L1003.5 2220.6L1004.5 2221.6L1005.5 2222.1L1006.5 2221.9L1007.5 2221.8L1008.5 2220.0L1009.5 2220.2L1010.5 2219.7L1011.5 2220.4L1012.5 2220.5L1012.6 2218.8L1013.5 2222.1L1014.5 2218.7L1015.5 2218.1L1016.5 2218.7L1017.5 2218.7L1018.5 2218.3L1019.5 2217.1L1020.5 2218.8L1021.5 2217.4L1022.5 2218.6L1023.5 2218.3L1024.5 2215.9L1025.5 2216.1L1026.5 2216.1L1027.5 2217.2L1028.5 2217.2L1029.5 2217.6L1030.5 2216.9L1031.5 2218.3L1032.5 2219.5L1033.5 2217.5L1034.5 2218.9L1035.5 2219.7L1036.5 2219.8L1037.5 2220.2L1037.7 2222.0L1038.5 2222.0L1039.5 2222.2L1040.5 2221.5L1041.5 2225.0L1042.5 2224.1L1043.5 2224.2L1044.5 2225.3L1045.5 2226.1L1046.5 2229.3L1047.4 2228.4L1047.5 2228.3L1048.5 2227.2L1049.5 2230.6L1050.5 2229.8L1051.5 2230.5L1052.5 2232.9L1053.5 2232.4L1054.5 2234.7L1055.5 2235.8L1056.5 2234.1L1057.5 2236.5L1058.5 2236.2L1059.5 2238.6L1060.5 2240.5L1061.4 2239.5L1061.5 2242.4L1062.5 2241.8L1063.5 2242.4L1064.5 2245.0L1065.5 2247.5L1066.5 2247.3L1067.5 2250.3L1068.5 2250.9L1069.5 2255.1L1070.5 2255.9L1071.5 2257.1L1072.5 2260.1L1073.5 2259.5L1074.5 2261.7L1075.3 2264.6L1075.5 2263.1L1076.5 2265.5L1077.5 2265.5L1078.5 2265.6L1079.5 2267.0L1080.5 2268.2L1081.5 2268.3L1082.3 2268.2L1082.5 2268.4L1083.5 2268.0L1084.5 2270.6L1085.5 2271.5L1086.5 2272.6L1087.5 2269.1L1088.5 2273.6L1089.5 2272.7L1090.5 2270.6L1091.5 2273.6L1092.5 2275.2L1093.5 2274.9L1094.5 2275.4L1095.5 2275.9L1096.2 2275.8L1096.5 2274.1L1097.5 2270.3L1098.5 2272.7L1099.5 2274.8L1100.5 2273.3L1101.5 2275.5L1102.5 2275.7L1103.5 2274.3L1104.5 2277.8L1105.5 2272.3L1106.5 2276.0L1107.5 2273.2L1108.5 2272.6L1109.5 2275.3L1110.2 2272.9L1110.5 2275.9L1111.5 2272.0L1112.5 2274.8L1113.5 2273.5L1114.5 2275.3L1115.5 2275.7L1116.5 2274.8L1117.5 2279.1L1118.5 2275.8L1119.5 2276.8L1120.5 2281.3L1121.5 2282.1L1122.5 2282.0L1123.5 2281.9L1124.5 2286.6L1125.5 2279.7L1126.5 2281.2L1127.5 2281.3" fill="none" stroke="#000000" stroke-width="5" stroke-linejoin="round" stroke-linecap="round"/>
<path d="M1412.8 326.7L1413.3 330.4L1413.8 334.2L1414.3 337.9L1414.8 341.7L1415.3 345.5L1415.8 349.3L1416.3 353.1L1416.8 357.0L1417.2 360.1L1417.3 360.9L1417.8 365.2L1418.3 370.1L1418.8 375.3L1419.3 380.6L1419.8 385.8L1420.3 390.8L1420.8 395.3L1421.3 399.1L1421.8 402.1L1422.3 404.0L1422.8 404.7L1423.3 404.4L1423.8 403.5L1424.3 402.2L1424.8 400.4L1425.3 398.4L1425.8 396.1L1426.3 393.8L1426.8 391.4L1427.3 389.1L1427.8 386.9L1428.3 385.0L1428.4 384.6L1428.8 383.2L1429.3 381.2L1429.8 379.1L1430.3 376.9L1430.8 374.7L1431.3 372.5L1431.8 370.4L1432.3 368.4L1432.8 366.7L1433.3 365.1L1433.8 363.9L1434.3 363.0L1434.8 362.5L1435.1 362.4L1435.3 362.5L1435.8 363.0L1436.3 364.1L1436.8 365.7L1437.3 367.7L1437.8 370.0L1438.3 372.6L1438.8 375.3L1439.3 378.1L1439.8 380.9L1440.3 383.6L1440.8 386.2L1441.3 388.5L1441.8 390.5L1442.3 392.2L1442.8 393.3L1442.9 393.5L1443.3 394.1L1443.8 394.7L1444.3 395.3L1444.8 395.7L1445.3 396.1L1445.8 396.5L1446.3 396.8L1446.8 397.2L1447.3 397.6L1447.8 398.0L1448.3 398.5L1448.8 399.1L1449.3 399.9L1449.5 400.2L1449.8 400.8L1450.3 402.4L1450.8 404.6L1451.3 407.1L1451.8 410.0L1452.3 413.2L1452.8 416.4L1453.3 419.6L1453.8 422.6L1454.3 425.4L1454.8 427.9L1455.1 429.2L1455.3 430.0L1455.8 432.1L1456.3 434.2L1456.8 436.4L1457.3 438.5L1457.8 440.5L1458.3 442.3L1458.8 443.9L1459.3 445.3L1459.8 446.2L1460.3 446.8L1460.7 447.0L1460.8 447.0L1461.3 446.6L1461.8 445.6L1462.3 444.2L1462.8 442.3L1463.3 440.2L1463.8 437.7L1464.3 435.1L1464.8 432.4L1465.3 429.6L1465.8 426.8L1466.2 424.7L1466.3 424.2L1466.8 421.0L1467.3 417.1L1467.8 412.6L1468.3 407.8L1468.8 402.8L1469.3 397.7L1469.8 392.7L1470.3 388.0L1470.8 383.6L1471.3 379.9L1471.8 376.8L1472.3 374.7L1472.8 373.6L1472.9 373.5L1473.3 373.3L1473.8 373.1L1474.3 372.9L1474.8 372.7L1475.3 372.6L1475.8 372.5L1476.3 372.4L1476.8 372.3L1477.3 372.3L1477.8 372.2L1478.3 372.1L1478.8 372.0L1479.3 371.8L1479.8 371.7L1480.3 371.5L1480.7 371.3L1480.8 371.2L1481.3 370.8L1481.8 370.1L1482.3 369.2L1482.8 368.0L1483.3 366.8L1483.8 365.3L1484.3 363.8L1484.8 362.2L1485.3 360.5L1485.8 358.9L1486.3 357.2L1486.8 355.6L1487.3 354.1L1487.8 352.7L1488.3 351.4L1488.8 350.3L1489.3 349.4L1489.6 349.0L1489.8 348.7L1490.3 348.1L1490.8 347.5L1491.3 346.9L1491.8 346.3L1492.3 345.8L1492.8 345.3L1493.3 344.8L1493.8 344.3L1494.3 343.8L1494.8 343.4L1495.3 343.0L1495.8 342.6L1496.3 342.3L1496.8 342.0L1497.3 341.7L1497.8 341.5L1498.3 341.3L1498.5 341.2L1498.8 341.1L1499.3 340.9L1499.8 340.8L1500.3 340.6L1500.8 340.4L1501.3 340.3L1501.8 340.1L1502.3 340.0L1502.8 339.8L1503.3 339.7L1503.8 339.6L1504.3 339.5L1504.8 339.4L1505.3 339.3L1505.8 339.2L1506.3 339.1L1506.8 339.1L1507.3 339.0L1507.8 339.0L1508.3 339.0L1508.6 339.0L1508.8 339.0L1509.3 339.1L1509.8 339.2L1510.3 339.3L1510.8 339.5L1511.3 339.8L1511.8 340.1L1512.3 340.4L1512.8 340.8L1513.3 341.2L1513.8 341.7L1514.3 342.1L1514.8 342.7L1515.3 343.2L1515.8 343.8L1516.3 344.4L1516.4 344.5L1516.8 345.2L1517.3 346.7L1517.8 348.6L1518.3 351.0L1518.8 353.6L1519.3 356.4L1519.8 359.3L1520.3 362.1L1520.8 364.7L1521.3 367.0L1521.8 369.0L1522.3 370.4L1522.8 371.2L1523.0 371.3L1523.3 371.4L1523.8 371.5L1524.3 371.6L1524.8 371.6L1525.3 371.7L1525.8 371.8L1526.3 371.8L1526.8 371.8L1527.3 371.9L1527.8 371.9L1528.3 371.9L1528.8 372.0L1529.3 372.0L1529.8 372.1L1530.3 372.1L1530.8 372.2L1531.3 372.3L1531.8 372.4L1532.0 372.4L1532.3 372.5L1532.8 372.7L1533.3 373.1L1533.8 373.5L1534.3 374.0L1534.8 374.5L1535.3 375.1L1535.8 375.7L1536.3 376.3L1536.8 377.0L1537.3 377.6L1537.8 378.2L1538.3 378.7L1538.8 379.2L1539.3 379.6L1539.8 379.9L1540.3 380.1L1540.8 380.2L1540.9 380.2L1541.3 380.2L1541.8 380.1L1542.3 380.1L1542.8 380.0L1543.3 379.8L1543.8 379.7L1544.3 379.5L1544.8 379.3L1545.3 379.1L1545.8 378.9L1546.3 378.6L1546.8 378.4L1547.3 378.1L1547.8 377.9L1548.3 377.6L1548.8 377.3L1549.3 377.1L1549.8 376.8L1550.3 376.5L1550.8 376.2L1551.3 375.8L1551.8 375.4L1552.3 375.0L1552.8 374.5L1553.3 374.0L1553.8 373.5L1554.3 373.0L1554.8 372.4L1555.3 371.8L1555.8 371.3L1556.3 370.7L1556.8 370.1L1557.3 369.5L1557.8 368.9L1558.3 368.4L1558.8 367.8L1559.3 367.3L1559.8 366.8L1560.3 366.3L1560.8 365.8L1561.3 365.4L1561.8 365.0L1562.3 364.6L1562.8 364.3L1563.3 364.0L1563.8 363.8L1564.3 363.7L1564.8 363.5L1565.3 363.5L1565.4 363.5L1565.8 363.5L1566.3 363.6L1566.8 363.8L1567.3 364.0L1567.8 364.2L1568.3 364.6L1568.8 364.9L1569.3 365.4L1569.8 365.8L1570.3 366.3L1570.8 366.9L1571.3 367.4L1571.8 368.0L1572.3 368.6L1572.8 369.3L1573.3 369.9L1573.8 370.6L1574.3 371.3L1574.8 372.1L1575.3 373.0L1575.8 374.1L1576.3 375.3L1576.8 376.6L1577.3 378.1L1577.8 379.7L1578.3 381.3L1578.8 383.0L1579.3 384.9L1579.8 386.7L1580.3 388.6L1580.8 390.6L1581.3 392.6L1581.8 394.6L1582.3 396.6L1582.8 398.6L1583.2 400.2L1583.3 400.6L1583.8 402.6L1584.3 404.7L1584.8 406.9L1585.3 409.1L1585.8 411.4L1586.3 413.8L1586.8 416.2L1587.3 418.8L1587.8 421.4L1588.3 424.1L1588.8 427.0L1589.3 429.9L1589.8 433.0L1589.9 433.6L1590.3 436.2L1590.8 439.8L1591.3 443.6L1591.8 447.6L1592.3 451.9L1592.8 456.3L1593.3 460.8L1593.8 465.3L1594.3 469.9L1594.8 474.5L1595.3 479.0L1595.8 483.4L1596.3 487.6L1596.5 489.3L1596.8 491.8L1597.3 496.3L1597.8 501.1L1598.3 506.0L1598.8 510.9L1599.3 515.6L1599.8 520.1L1600.3 524.3L1600.8 527.9L1601.3 530.8L1601.8 533.0L1602.1 533.9L1602.3 534.4L1602.8 535.5L1603.3 536.6L1603.8 537.6L1604.3 538.5L1604.8 539.2L1605.3 539.8L1605.8 540.2L1606.3 540.5L1606.6 540.5L1606.8 540.5L1607.3 540.4L1607.8 540.1L1608.3 539.8L1608.8 539.4L1609.3 538.9L1609.8 538.3L1610.3 537.7L1610.8 537.1L1611.3 536.5L1611.8 536.0L1612.3 535.4L1612.8 534.9L1613.3 534.5L1613.8 534.2L1614.3 533.9L1614.4 533.9L1614.8 533.8L1615.3 533.6L1615.8 533.5L1616.3 533.4L1616.8 533.3L1617.3 533.2L1617.8 533.2L1618.3 533.1L1618.8 533.0L1619.3 533.0L1619.8 532.9L1620.3 532.9L1620.8 532.8L1621.3 532.8L1621.8 532.7L1622.3 532.6L1622.8 532.6L1623.3 532.5L1623.8 532.5L1624.3 532.4L1624.8 532.3L1625.3 532.2L1625.8 532.1L1626.3 532.0L1626.8 531.9L1627.3 531.7L1627.7 531.6L1627.8 531.6L1628.3 531.3L1628.8 530.9L1629.3 530.4L1629.8 529.8L1630.3 529.1L1630.8 528.3L1631.3 527.4L1631.8 526.5L1632.3 525.5L1632.8 524.4L1633.3 523.3L1633.8 522.2L1634.3 521.1L1634.8 520.0L1635.3 518.8L1635.8 517.7L1636.3 516.6L1636.8 515.5L1637.3 514.5L1637.8 513.5L1638.3 512.6L1638.8 511.8L1638.9 511.6L1639.3 511.0L1639.8 510.2L1640.3 509.5L1640.8 508.9L1641.3 508.2L1641.8 507.6L1642.3 507.0L1642.8 506.4L1643.3 505.8L1643.8 505.2L1644.3 504.6L1644.8 504.0L1645.3 503.4L1645.8 502.7L1646.3 502.1L1646.8 501.4L1647.3 500.7L1647.8 499.9L1648.3 499.1L1648.8 498.3L1649.3 497.4L1649.8 496.4L1650.0 496.0L1650.3 495.4L1650.8 494.1L1651.3 492.6L1651.8 491.0L1652.3 489.2L1652.8 487.3L1653.3 485.2L1653.8 483.1L1654.3 480.9L1654.8 478.7L1655.3 476.4L1655.8 474.1L1656.3 471.9L1656.8 469.7L1657.3 467.6L1657.8 465.5L1658.3 463.6L1658.8 461.8L1659.3 460.2L1659.8 458.7L1660.3 457.4L1660.8 456.4L1661.1 455.9L1661.3 455.6L1661.8 454.9L1662.3 454.3L1662.8 453.7L1663.3 453.2L1663.8 452.8L1664.3 452.3L1664.8 451.9L1665.3 451.5L1665.8 451.2L1666.3 450.8L1666.8 450.4L1667.3 450.0L1667.8 449.5L1668.3 449.1L1668.8 448.5L1669.3 447.9L1669.8 447.3L1670.0 447.0L1670.3 446.5L1670.8 445.7L1671.3 444.7L1671.8 443.7L1672.3 442.5L1672.8 441.3L1673.3 440.0L1673.8 438.6L1674.3 437.2L1674.8 435.7L1675.3 434.2L1675.8 432.7L1676.3 431.1L1676.8 429.5L1677.3 427.9L1677.8 426.3L1678.3 424.6L1678.8 423.0L1679.3 421.5L1679.8 419.9L1680.3 418.4L1680.8 416.9L1681.2 415.8L1681.3 415.5L1681.8 414.1L1682.3 412.6L1682.8 411.1L1683.3 409.5L1683.8 407.9L1684.3 406.3L1684.8 404.7L1685.3 403.1L1685.8 401.5L1686.3 399.9L1686.8 398.4L1687.3 396.8L1687.8 395.3L1688.3 393.9L1688.8 392.4L1689.3 391.1L1689.8 389.8L1690.3 388.6L1690.8 387.5L1691.3 386.4L1691.8 385.4L1692.3 384.6L1692.8 383.8L1693.3 383.0L1693.8 382.2L1694.3 381.4L1694.8 380.6L1695.3 379.9L1695.8 379.2L1696.3 378.5L1696.8 378.0L1697.3 377.5L1697.8 377.2L1698.3 376.9L1698.8 376.8L1699.0 376.8L1699.3 376.8L1699.8 376.8L1700.3 376.9L1700.8 377.0L1701.3 377.1L1701.8 377.2L1702.3 377.3L1702.8 377.5L1703.3 377.7L1703.8 377.9L1704.3 378.1L1704.8 378.3L1705.3 378.5L1705.8 378.7L1706.3 378.9L1706.8 379.2L1707.3 379.4L1707.8 379.7L1708.3 379.9L1708.8 380.2L1708.9 380.2L1709.3 380.4L1709.8 380.7L1710.3 381.1L1710.8 381.5L1711.3 382.0L1711.8 382.5L1712.3 383.0L1712.8 383.5L1713.3 384.1L1713.8 384.6L1714.3 385.1L1714.8 385.7L1715.3 386.2L1715.8 386.7L1716.3 387.2L1716.8 387.6L1717.3 388.0L1717.8 388.4L1718.3 388.6L1718.8 388.9L1719.3 389.0L1719.8 389.1L1720.0 389.1L1720.3 389.1L1720.8 389.1L1721.3 389.0L1721.8 389.0L1722.3 388.9L1722.8 388.9L1723.3 388.8L1723.8 388.7L1724.3 388.6L1724.8 388.5L1725.3 388.3L1725.8 388.2L1726.3 388.1L1726.8 388.0L1727.3 387.9L1727.8 387.7L1728.3 387.6L1728.8 387.5L1729.3 387.4L1729.8 387.3L1730.3 387.2L1730.8 387.1L1731.3 387.0L1731.8 387.0L1732.3 386.9L1732.8 386.9L1733.3 386.9L1733.4 386.9L1733.8 386.9L1734.3 387.1L1734.8 387.3L1735.3 387.7L1735.8 388.2L1736.3 388.7L1736.8 389.3L1737.3 390.0L1737.8 390.8L1738.3 391.6L1738.8 392.5L1739.3 393.4L1739.8 394.4L1740.3 395.5L1740.8 396.5L1741.3 397.6L1741.8 398.7L1742.3 399.8L1742.8 400.9L1743.3 402.0L1743.8 403.2L1744.3 404.3L1744.5 404.7L1744.8 405.4L1745.3 406.6L1745.8 407.8L1746.3 409.2L1746.8 410.6L1747.3 412.1L1747.8 413.7L1748.3 415.3L1748.8 416.9L1749.3 418.7L1749.8 420.4L1750.3 422.2L1750.8 424.0L1751.3 425.9L1751.8 427.8L1752.3 429.7L1752.8 431.6L1753.3 433.5L1753.8 435.4L1754.3 437.3L1754.8 439.2L1755.3 441.0L1755.7 442.5L1755.8 442.9L1756.3 444.6L1756.8 446.3L1757.3 448.0L1757.8 449.6L1758.3 451.2L1758.8 452.8L1759.3 454.4L1759.8 456.0L1760.3 457.8L1760.8 459.6L1761.3 461.5L1761.8 463.5L1762.3 465.7L1762.8 468.1L1763.3 470.6L1763.8 473.3L1764.3 476.3L1764.6 478.2L1764.8 479.6L1765.3 484.0L1765.8 489.5L1766.3 495.8L1766.8 502.7L1767.3 510.0L1767.8 517.3L1768.3 524.5L1768.8 531.3L1769.0 533.9L1769.3 537.7L1769.8 544.0L1770.3 550.4L1770.8 556.8L1771.3 563.1L1771.8 569.4L1772.3 575.5L1772.8 581.5L1773.3 587.3L1773.5 589.5L1773.8 592.8L1774.3 598.4L1774.8 604.0L1775.3 609.5L1775.8 615.0L1776.3 620.4L1776.8 625.7L1777.3 630.8L1777.8 635.7L1778.3 640.5L1778.8 645.0L1779.3 649.3L1779.8 653.3L1780.2 656.3L1780.3 657.0L1780.8 660.6L1781.3 664.1L1781.8 667.5L1782.3 670.9L1782.8 674.2L1783.3 677.4L1783.8 680.5L1784.3 683.5L1784.8 686.4L1785.3 689.2L1785.8 691.8L1786.3 694.3L1786.8 696.7L1787.3 698.9L1787.8 700.9L1788.3 702.7L1788.8 704.4L1789.1 705.3L1789.3 705.9L1789.8 707.3L1790.3 708.8L1790.8 710.2L1791.3 711.6L1791.8 713.0L1792.3 714.3L1792.8 715.5L1793.3 716.6L1793.8 717.6L1794.3 718.5L1794.8 719.3L1795.3 720.0L1795.8 720.4L1796.3 720.8L1796.8 720.9L1796.9 720.9L1797.3 720.8L1797.8 720.2L1798.3 719.3L1798.8 718.0L1799.3 716.3L1799.8 714.4L1800.3 712.2L1800.8 709.8L1801.3 707.2L1801.8 704.4L1802.3 701.5L1802.4 700.9L1802.8 697.9L1803.3 692.7L1803.8 686.0L1804.3 678.3L1804.8 669.9L1805.3 661.1L1805.8 652.2L1806.3 643.6L1806.8 635.6L1806.9 634.1L1807.3 628.2L1807.8 620.8L1808.3 613.4L1808.8 606.0L1809.3 598.6L1809.8 591.2L1810.3 583.7L1810.8 576.3L1811.3 568.8L1811.4 567.3L1811.8 561.2L1812.3 553.2L1812.8 545.1L1813.3 536.9L1813.8 528.9L1814.3 521.1L1814.8 513.6L1815.3 506.7L1815.8 500.4L1816.3 494.4L1816.8 488.5L1817.3 482.6L1817.8 476.8L1818.3 471.3L1818.8 466.0L1819.3 461.2L1819.8 456.8L1820.3 453.0L1820.8 449.9L1821.3 447.4L1821.4 447.0L1821.8 445.5L1822.3 443.7L1822.8 441.9L1823.3 440.2L1823.8 438.7L1824.3 437.2L1824.8 435.9L1825.3 434.7L1825.8 433.7L1826.3 432.8L1826.8 432.2L1827.3 431.7L1827.8 431.4L1828.1 431.4L1828.3 431.4L1828.8 431.6L1829.3 431.9L1829.8 432.4L1830.3 433.0L1830.8 433.6L1831.3 434.4L1831.8 435.2L1832.3 436.0L1832.8 436.8L1833.3 437.6L1833.6 438.1L1833.8 438.4L1834.3 439.3L1834.8 440.3L1835.3 441.5L1835.8 442.7L1836.3 443.9L1836.8 445.2L1837.3 446.4L1837.8 447.6L1838.3 448.6L1838.8 449.6L1839.3 450.4L1839.8 451.0L1840.3 451.4L1840.8 451.7L1841.3 451.9L1841.8 452.2L1842.3 452.5L1842.8 452.7L1843.3 452.9L1843.8 453.2L1844.3 453.4L1844.8 453.6L1845.3 453.8L1845.8 454.0L1846.3 454.2L1846.8 454.3L1847.3 454.5L1847.8 454.7L1848.3 454.8L1848.8 454.9L1849.3 455.1L1849.8 455.2L1850.3 455.3L1850.8 455.4L1851.3 455.5L1851.8 455.6L1852.3 455.6L1852.8 455.7L1853.3 455.8L1853.8 455.8L1854.3 455.9L1854.8 455.9L1855.3 455.9L1855.8 455.9L1855.9 455.9L1856.3 455.9L1856.8 455.9L1857.3 455.9L1857.8 455.9L1858.3 455.9L1858.8 455.9L1859.3 455.9L1859.8 455.9L1860.3 455.9L1860.8 455.9L1861.3 455.9L1861.8 455.9L1862.3 455.9L1862.8 455.9L1863.3 455.9L1863.8 455.9L1864.3 455.9L1864.8 455.9L1865.3 455.9L1865.8 455.9L1866.3 455.9L1866.8 455.9L1867.3 455.9L1867.8 455.9L1868.3 455.9L1868.8 455.9L1869.3 455.9L1869.8 455.9L1870.3 455.9L1870.8 455.9L1871.3 455.9L1871.8 455.9L1872.3 455.9L1872.8 455.9L1873.3 455.9L1873.8 455.9L1874.3 455.9L1874.8 455.9L1875.3 455.9L1875.8 455.9L1876.3 455.9L1876.8 455.9L1877.3 455.9L1877.8 455.9L1878.2 455.9L1878.3 455.9L1878.8 455.8L1879.3 455.6L1879.8 455.4L1880.3 455.0L1880.8 454.5L1881.3 454.0L1881.8 453.5L1882.3 452.8L1882.8 452.2L1883.3 451.5L1883.8 450.8L1884.3 450.1L1884.8 449.3L1884.9 449.2L1885.3 448.6L1885.8 447.7L1886.3 446.6L1886.8 445.4L1887.3 444.1L1887.8 442.7L1888.3 441.2L1888.8 439.7L1889.3 438.0L1889.8 436.3L1890.3 434.6L1890.8 432.9L1891.3 431.1L1891.8 429.3L1892.3 427.5L1892.8 425.8L1893.3 424.0L1893.8 422.4L1894.3 420.7L1894.8 419.2L1895.3 417.7L1895.8 416.3L1896.0 415.8L1896.3 415.0L1896.8 413.7L1897.3 412.3L1897.8 410.9L1898.3 409.4L1898.8 408.0L1899.3 406.5L1899.8 405.0L1900.3 403.6L1900.8 402.1L1901.3 400.7L1901.8 399.3L1902.3 397.9L1902.8 396.5L1903.3 395.2L1903.8 394.0L1904.3 392.8L1904.8 391.7L1905.3 390.6L1905.8 389.7L1906.3 388.8L1906.8 388.0L1907.3 387.3L1907.8 386.7L1908.3 386.3L1908.8 385.9L1909.3 385.7L1909.4 385.7L1909.8 385.6L1910.3 385.5L1910.8 385.4L1911.3 385.3L1911.8 385.2L1912.3 385.1L1912.8 385.0L1913.3 384.9L1913.8 384.8L1914.3 384.7L1914.8 384.7L1915.3 384.6L1915.8 384.5L1916.3 384.4L1916.8 384.4L1917.3 384.3L1917.8 384.2L1918.3 384.2L1918.8 384.1L1919.3 384.1L1919.8 384.0L1920.3 383.9L1920.8 383.9L1921.3 383.9L1921.8 383.8L1922.3 383.8L1922.8 383.7L1923.3 383.7L1923.8 383.7L1924.3 383.6L1924.8 383.6L1925.3 383.6L1925.8 383.6L1926.3 383.6L1926.8 383.5L1927.3 383.5L1927.8 383.5L1928.3 383.5L1928.8 383.5L1929.3 383.5L1929.4 383.5L1929.8 383.5L1930.3 383.6L1930.8 383.8L1931.3 384.1L1931.8 384.5L1932.3 384.9L1932.8 385.4L1933.3 385.9L1933.8 386.5L1934.3 387.2L1934.8 387.9L1935.3 388.6L1935.8 389.4L1936.3 390.2L1936.8 391.0L1937.3 391.8L1937.8 392.7L1938.3 393.5L1938.8 394.4L1939.3 395.6L1939.8 396.9L1940.3 398.3L1940.8 399.9L1941.3 401.6L1941.8 403.4L1942.3 405.3L1942.8 407.3L1943.3 409.3L1943.8 411.3L1944.3 413.4L1944.8 415.4L1945.3 417.5L1945.8 419.5L1946.3 421.4L1946.8 423.3L1947.2 424.7L1947.3 425.1L1947.8 426.9L1948.3 428.9L1948.8 431.0L1949.3 433.1L1949.8 435.4L1950.3 437.6L1950.8 439.8L1951.3 442.0L1951.8 444.1L1952.3 446.1L1952.8 448.1L1953.3 449.8L1953.8 451.5L1954.3 452.9L1954.8 454.1L1955.3 455.0L1955.8 455.6L1956.1 455.9L1956.3 456.0L1956.8 456.3L1957.3 456.6L1957.8 456.8L1958.3 457.0L1958.8 457.2L1959.3 457.4L1959.8 457.5L1960.3 457.7L1960.8 457.8L1961.3 457.9L1961.8 458.0L1962.3 458.1L1962.8 458.2L1963.3 458.3L1963.8 458.4L1964.3 458.5L1964.8 458.6L1965.3 458.7L1965.8 458.8L1966.3 459.0L1966.8 459.1L1967.3 459.3L1967.8 459.5L1968.3 459.7L1968.8 460.0L1969.3 460.3L1969.5 460.4L1969.8 460.6L1970.3 461.1L1970.8 461.7L1971.3 462.4L1971.8 463.3L1972.3 464.3L1972.8 465.3L1973.3 466.5L1973.8 467.8L1974.3 469.2L1974.8 470.6L1975.3 472.1L1975.8 473.7L1976.3 475.3L1976.8 477.0L1977.3 478.7L1977.8 480.5L1978.3 482.2L1978.4 482.6L1978.8 484.1L1979.3 486.2L1979.8 488.5L1980.3 491.0L1980.8 493.7L1981.3 496.5L1981.8 499.5L1982.3 502.7L1982.8 506.0L1983.3 509.5L1983.8 513.0L1984.3 516.7L1984.8 520.4L1985.1 522.7L1985.3 524.3L1985.8 529.0L1986.3 534.4L1986.8 540.3L1987.3 546.3L1987.8 552.1L1988.3 557.6L1988.8 562.4L1989.3 566.1L1989.5 567.3L1989.8 568.9L1990.3 571.5L1990.8 574.1L1991.3 576.5L1991.8 578.7L1992.3 580.6L1992.8 582.2L1993.3 583.5L1993.8 584.2L1994.3 584.5L1994.8 584.2L1995.3 583.3L1995.8 581.8L1996.3 579.8L1996.8 577.4L1997.3 574.6L1997.8 571.4L1998.3 567.9L1998.8 564.2L1999.3 560.2L1999.8 556.1L2000.3 551.9L2000.8 547.6L2001.1 545.0L2001.3 543.1L2001.8 537.4L2002.3 530.3L2002.8 522.3L2003.3 513.7L2003.8 505.0L2004.3 496.5L2004.8 488.6L2005.3 481.7L2005.6 478.2L2005.8 476.0L2006.3 470.8L2006.8 465.8L2007.3 461.0L2007.8 456.4L2008.3 452.0L2008.8 447.8L2009.3 443.7L2009.8 439.8L2010.3 436.1L2010.8 432.5L2011.3 429.0L2011.8 425.7L2012.3 422.5L2012.8 419.4L2013.3 416.3L2013.8 413.2L2014.3 410.3L2014.8 407.3L2015.3 404.5L2015.8 401.7L2016.3 399.0L2016.8 396.4L2017.3 393.9L2017.8 391.5L2018.3 389.2L2018.8 387.0L2019.3 384.9L2019.8 382.9L2020.3 381.0L2020.8 379.3L2021.2 378.0L2021.3 377.7L2021.8 376.2L2022.3 374.6L2022.8 373.2L2023.3 371.7L2023.8 370.3L2024.3 369.0L2024.8 367.7L2025.3 366.4L2025.8 365.2L2026.3 364.1L2026.8 363.0L2027.3 362.0L2027.8 361.1L2028.3 360.2L2028.8 359.5L2029.3 358.8L2029.8 358.2L2030.1 357.9L2030.3 357.7L2030.8 357.2L2031.3 356.8L2031.8 356.3L2032.3 355.8L2032.8 355.4L2033.3 355.0L2033.8 354.6L2034.3 354.2L2034.8 353.8L2035.3 353.4L2035.8 353.1L2036.3 352.8L2036.8 352.5L2037.3 352.2L2037.8 352.0L2038.3 351.8L2038.8 351.6L2039.3 351.5L2039.8 351.3L2040.3 351.3L2040.8 351.2L2041.2 351.2L2041.3 351.2L2041.8 351.2L2042.3 351.3L2042.8 351.3L2043.3 351.4L2043.8 351.5L2044.3 351.6L2044.8 351.8L2045.3 351.9L2045.8 352.1L2046.3 352.3L2046.8 352.5L2047.3 352.7L2047.8 352.9L2048.3 353.2L2048.8 353.5L2049.3 353.7L2049.8 354.0L2050.3 354.3L2050.8 354.6L2051.3 355.0L2051.8 355.3L2052.3 355.6L2052.4 355.7L2052.8 356.0L2053.3 356.5L2053.8 357.0L2054.3 357.6L2054.8 358.3L2055.3 359.1L2055.8 360.0L2056.3 360.9L2056.8 361.9L2057.3 363.0L2057.8 364.1L2058.3 365.3L2058.8 366.5L2059.3 367.8L2059.8 369.2L2060.3 370.6L2060.8 372.0L2061.3 373.5L2061.3 373.5L2061.8 375.1L2062.3 377.0L2062.8 379.2L2063.3 381.5L2063.8 384.0L2064.3 386.8L2064.8 389.7L2065.3 392.7L2065.8 395.9L2066.3 399.3L2066.8 402.7L2067.3 406.3L2067.8 409.9L2068.0 411.4L2068.3 413.7L2068.8 417.9L2069.3 422.5L2069.8 427.5L2070.3 432.7L2070.8 438.1L2071.3 443.6L2071.8 449.2L2072.3 454.8L2072.4 455.9L2072.8 460.6L2073.3 467.0L2073.8 473.8L2074.3 480.8L2074.8 487.8L2075.3 494.5L2075.8 500.7L2076.3 506.2L2076.8 510.8L2076.9 511.6L2077.3 514.6L2077.8 518.3L2078.3 521.8L2078.8 525.0L2079.3 528.0L2079.8 530.6L2080.3 532.9L2080.8 534.7L2081.3 536.1L2081.3 536.1L2081.8 537.2L2082.3 538.2L2082.8 539.2L2083.3 540.1L2083.8 540.9L2084.3 541.6L2084.8 542.1L2085.3 542.5L2085.8 542.7L2086.2 542.8L2086.3 542.8L2086.8 542.5L2087.3 541.8L2087.8 540.7L2088.3 539.3L2088.8 537.7L2089.3 535.8L2089.8 533.8L2090.3 531.7L2090.8 529.5L2091.3 527.2L2091.3 527.2L2091.8 524.5L2092.3 521.1L2092.8 517.2L2093.3 512.7L2093.8 507.9L2094.3 502.8L2094.8 497.7L2095.3 492.6L2095.8 487.7L2096.3 483.1L2096.8 479.0L2096.9 478.2L2097.3 475.2L2097.8 471.5L2098.3 468.0L2098.8 464.5L2099.3 461.1L2099.8 457.8L2100.3 454.5L2100.8 451.3L2101.3 448.1L2101.8 444.9L2102.3 441.8L2102.8 438.6L2103.3 435.5L2103.6 433.6L2103.8 432.3L2104.3 429.2L2104.8 426.1L2105.3 423.0L2105.8 419.9L2106.3 416.9L2106.8 413.9L2107.3 410.9L2107.8 407.9L2108.3 405.0L2108.8 402.1L2109.3 399.2L2109.8 396.3L2110.3 393.5L2110.3 393.5L2110.8 390.6L2111.3 387.6L2111.8 384.4L2112.3 381.3L2112.8 378.1L2113.3 375.0L2113.8 371.9L2114.3 369.1L2114.8 366.4L2115.3 363.9L2115.8 361.7L2116.3 359.9L2116.8 358.4L2117.0 357.9L2117.3 357.2L2117.8 356.2L2118.3 355.2L2118.8 354.2L2119.3 353.3L2119.8 352.5L2120.3 351.6L2120.8 350.9L2121.3 350.1L2121.8 349.4L2122.3 348.8L2122.8 348.1L2123.3 347.5L2123.8 347.0L2124.3 346.4L2124.8 346.0L2125.3 345.5L2125.8 345.1L2126.3 344.7L2126.8 344.3L2127.3 343.9L2127.8 343.6L2128.1 343.4L2128.3 343.3L2128.8 343.0L2129.3 342.7L2129.8 342.4L2130.3 342.2L2130.8 341.9L2131.3 341.6L2131.8 341.4L2132.3 341.2L2132.8 340.9L2133.3 340.7L2133.8 340.5L2134.3 340.3L2134.8 340.1L2135.3 339.9L2135.8 339.7L2136.3 339.5L2136.8 339.4L2137.3 339.2L2137.8 339.0L2138.3 338.9L2138.8 338.7L2139.3 338.5L2139.8 338.4L2140.3 338.2L2140.8 338.1L2141.3 338.0L2141.8 337.8L2142.3 337.7L2142.8 337.5L2143.3 337.4L2143.8 337.3L2144.3 337.1L2144.8 337.0L2145.3 336.9L2145.8 336.7L2145.9 336.7L2146.3 336.6L2146.8 336.5L2147.3 336.3L2147.8 336.2L2148.3 336.0L2148.8 335.9L2149.3 335.8L2149.8 335.6L2150.3 335.5L2150.8 335.3L2151.3 335.2L2151.8 335.0L2152.3 334.9L2152.8 334.8L2153.3 334.6L2153.8 334.5L2154.3 334.4L2154.8 334.3L2155.3 334.1L2155.8 334.0L2156.3 333.9L2156.8 333.8L2157.3 333.7L2157.8 333.6L2158.3 333.5L2158.8 333.4L2159.3 333.3L2159.8 333.3L2160.3 333.2L2160.8 333.2L2161.3 333.1L2161.8 333.1L2162.3 333.0L2162.8 333.0L2163.3 333.0L2163.7 333.0L2163.8 333.0L2164.3 333.1L2164.8 333.3L2165.3 333.7L2165.8 334.2L2166.3 334.7L2166.8 335.3L2167.3 335.9L2167.8 336.6L2168.3 337.3L2168.8 338.0L2169.3 338.7L2169.8 339.3L2170.3 339.8L2170.8 340.3L2171.3 340.7L2171.8 341.0L2172.3 341.2L2172.6 341.2L2172.8 341.2L2173.3 341.2L2173.8 341.1L2174.3 341.0L2174.8 340.8L2175.3 340.6L2175.8 340.4L2176.3 340.2L2176.8 339.9L2177.3 339.6L2177.8 339.3L2178.3 339.0L2178.8 338.7L2179.3 338.4L2179.8 338.1L2180.3 337.8L2180.8 337.5L2181.3 337.2L2181.8 336.9L2182.3 336.6L2182.8 336.4L2183.3 336.2L2183.8 336.0L2184.3 335.8L2184.8 335.7L2185.3 335.6L2185.8 335.6L2186.0 335.6L2186.3 335.6L2186.8 335.7L2187.3 335.8L2187.8 336.0L2188.3 336.3L2188.8 336.6L2189.3 336.9L2189.8 337.3L2190.3 337.8L2190.8 338.2L2191.3 338.7L2191.8 339.2L2192.3 339.7L2192.7 340.1L2192.8 340.2L2193.3 340.8L2193.8 341.5L2194.3 342.4L2194.8 343.3L2195.3 344.4L2195.8 345.5L2196.3 346.7L2196.8 348.0L2197.3 349.3L2197.8 350.8L2198.3 352.2L2198.8 353.7L2199.3 355.2L2199.8 356.8L2200.3 358.3L2200.8 359.9L2201.3 361.5L2201.6 362.4L2201.8 363.0L2202.3 364.7L2202.8 366.4L2203.3 368.2L2203.8 370.0L2204.3 371.9L2204.8 373.9L2205.3 375.9L2205.8 378.0L2206.3 380.2L2206.8 382.4L2207.3 384.6L2207.8 386.8L2208.3 389.1L2208.3 389.1L2208.8 391.6L2209.3 394.5L2209.8 397.6L2210.3 401.0L2210.8 404.4L2211.3 407.9L2211.8 411.2L2212.3 414.4L2212.8 417.3L2213.3 419.9L2213.8 422.0L2214.3 423.6L2214.8 424.6L2214.9 424.7L2215.3 425.1L2215.8 425.5L2216.3 425.9L2216.8 426.2L2217.3 426.5L2217.8 426.8L2218.3 427.1L2218.8 427.3L2219.3 427.6L2219.8 427.8L2220.3 428.0L2220.8 428.1L2221.3 428.3L2221.8 428.5L2222.3 428.6L2222.8 428.8L2223.3 429.0L2223.8 429.2L2223.9 429.2L2224.3 429.3L2224.8 429.5L2225.3 429.7L2225.8 429.9L2226.3 430.1L2226.8 430.3L2227.3 430.5L2227.8 430.7L2228.3 430.9L2228.8 431.1L2229.3 431.3L2229.8 431.5L2230.3 431.6L2230.8 431.8L2231.3 432.0L2231.8 432.2L2232.3 432.3L2232.8 432.5L2233.3 432.6L2233.8 432.8L2234.3 432.9L2234.8 433.0L2235.3 433.1L2235.8 433.2L2236.3 433.3L2236.8 433.4L2237.3 433.5L2237.8 433.5L2238.3 433.6L2238.8 433.6L2239.3 433.6L2239.4 433.6L2239.8 433.6L2240.3 433.5L2240.8 433.4L2241.3 433.2L2241.8 432.9L2242.3 432.6L2242.8 432.3L2243.3 431.9L2243.8 431.6L2244.3 431.1L2244.8 430.7L2245.3 430.2L2245.8 429.8L2246.3 429.3L2246.8 428.8L2247.3 428.4L2247.8 427.9L2247.9 427.8L2248.3 427.4L2248.8 426.9L2249.3 426.4L2249.8 425.8L2250.3 425.2L2250.8 424.6L2251.3 423.9L2251.8 423.2L2252.3 422.5L2252.8 421.8L2253.3 421.0L2253.8 420.2L2254.3 419.4L2254.8 418.6L2255.3 417.7L2255.8 416.8L2255.8 416.8L2256.3 415.8L2256.8 414.7L2257.3 413.6L2257.8 412.3L2258.3 411.0L2258.8 409.6L2259.3 408.3L2259.8 406.9L2260.3 405.5L2260.8 404.2L2261.3 402.9L2261.8 401.7L2262.1 401.0L2262.3 400.5L2262.8 399.4L2263.3 398.2L2263.8 396.9L2264.3 395.7L2264.8 394.5L2265.3 393.3L2265.8 392.2L2266.3 391.2L2266.8 390.3L2267.3 389.5L2267.8 388.9L2268.3 388.5L2268.4 388.4L2268.8 388.2L2269.3 387.9L2269.8 387.7L2270.3 387.5L2270.8 387.3L2271.3 387.2L2271.8 387.1L2272.3 386.9L2272.8 386.8L2273.3 386.6L2273.8 386.4L2274.3 386.2L2274.7 386.0L2274.8 385.9L2275.3 385.6L2275.8 385.2L2276.3 384.7L2276.8 384.1L2277.3 383.5L2277.8 382.9L2278.3 382.3L2278.8 381.6L2279.3 380.9L2279.8 380.3L2280.3 379.6L2280.8 379.0L2281.3 378.5L2281.8 378.0L2282.3 377.5L2282.6 377.3L2282.8 377.2L2283.3 376.8L2283.8 376.4L2284.3 376.1L2284.8 375.7L2285.3 375.4L2285.8 375.0L2286.3 374.7L2286.8 374.4L2287.3 374.1L2287.8 373.8L2288.3 373.5L2288.8 373.2L2289.3 372.9L2289.8 372.7L2290.3 372.5L2290.8 372.3L2291.3 372.2L2291.8 372.0L2292.3 371.9L2292.8 371.8L2293.3 371.8L2293.6 371.8L2293.8 371.8L2294.3 371.9L2294.8 372.1L2295.3 372.4L2295.8 372.8L2296.3 373.2L2296.8 373.8L2297.3 374.4L2297.8 375.1L2298.3 375.9L2298.8 376.7L2299.3 377.6L2299.8 378.5L2300.0 378.9L2300.3 379.6L2300.8 381.5L2301.3 383.9L2301.8 386.7L2302.3 389.7L2302.8 392.9L2303.1 394.7L2303.3 396.0L2303.8 400.1L2304.3 404.8L2304.8 409.5L2305.3 413.7L2305.8 416.9L2306.3 418.3L2306.3 418.3L2306.8 418.6L2307.3 418.9L2307.8 419.0L2308.3 419.1L2308.8 419.2L2309.3 419.4L2309.8 419.6L2310.2 419.9L2310.3 420.0L2310.8 421.8L2311.3 425.2L2311.8 429.9L2312.3 435.5L2312.8 441.6L2313.3 447.8L2313.8 453.6L2314.2 457.8L2314.3 458.8L2314.8 463.7L2315.3 468.7L2315.8 473.7L2316.3 478.7L2316.8 483.8L2317.3 488.9L2317.8 494.0L2318.3 499.0L2318.8 504.1L2318.9 505.1L2319.3 509.2L2319.8 514.7L2320.3 520.3L2320.8 525.9L2321.3 531.5L2321.8 536.8L2322.3 541.8L2322.8 546.4L2323.3 550.4L2323.6 552.4L2323.8 553.7L2324.3 556.9L2324.8 560.2L2325.3 563.3L2325.8 566.4L2326.3 569.2L2326.8 571.7L2327.3 573.9L2327.8 575.6L2328.3 576.9L2328.8 577.6L2329.1 577.7L2329.3 577.4L2329.8 574.3L2330.3 568.6L2330.8 561.2L2331.3 553.0L2331.8 545.0L2332.3 538.2L2332.8 533.4L2333.1 531.9L2333.3 531.3L2333.8 529.9L2334.3 528.6L2334.8 527.5L2335.3 526.5L2335.8 525.6L2336.3 524.9L2336.8 524.4L2337.3 524.1L2337.8 524.0L2337.8 524.0L2338.3 524.6L2338.8 526.2L2339.3 528.3L2339.8 530.5L2340.3 532.3L2340.8 533.4L2341.0 533.5L2341.3 533.3L2341.8 531.9L2342.3 529.3L2342.8 525.8L2343.3 521.5L2343.8 516.4L2344.3 510.8L2344.8 504.8L2345.3 498.5L2345.8 492.1L2346.3 485.7L2346.8 479.5L2347.3 473.6L2347.3 473.6L2347.8 467.1L2348.3 459.3L2348.8 450.7L2349.3 441.5L2349.8 432.2L2350.3 423.2L2350.8 414.9L2351.3 407.6L2351.8 401.8L2352.3 397.9L2352.8 396.2L2352.8 396.2L2353.3 395.8L2353.8 395.5L2354.3 395.2L2354.8 394.9L2355.3 394.8L2355.8 394.7L2356.0 394.7" fill="none" stroke="#0000ff" stroke-width="5" stroke-linejoin="round" stroke-linecap="round"/>
<path d="M1412.5 275.4L1413.5 275.6L1414.5 277.3L1415.5 278.7L1416.5 280.1L1417.5 279.6L1418.5 279.5L1419.5 279.8L1420.5 281.7L1421.5 282.8L1422.5 281.5L1423.5 280.0L1424.5 280.3L1425.5 282.8L1426.5 281.4L1427.5 279.4L1428.5 281.1L1429.5 279.9L1430.5 280.4L1431.5 280.5L1432.5 280.2L1433.5 281.5L1434.5 280.8L1435.5 280.2L1436.5 281.2L1437.5 281.5L1438.5 279.0L1439.5 280.3L1440.5 279.5L1441.5 280.3L1442.5 279.1L1443.5 280.4L1444.5 280.3L1445.5 280.0L1446.5 279.2L1447.5 279.8L1448.5 279.0L1449.5 278.7L1450.5 280.3L1451.5 278.9L1452.5 281.2L1453.5 280.7L1454.5 278.0L1455.0 280.3L1455.5 278.9L1456.5 280.3L1457.5 280.7L1458.5 279.1L1459.5 281.4L1460.5 281.8L1461.5 283.4L1462.5 281.3L1463.5 283.2L1464.5 281.4L1465.5 282.1L1466.5 281.5L1467.5 283.8L1468.5 282.9L1469.5 284.7L1470.5 282.8L1471.5 282.9L1472.5 282.8L1473.5 281.2L1474.5 281.6L1475.5 282.9L1476.5 281.0L1477.5 281.5L1478.5 281.1L1479.5 281.6L1480.5 280.4L1481.5 280.5L1482.5 280.7L1483.5 280.4L1484.5 279.2L1485.5 280.8L1486.5 278.4L1487.5 278.3L1488.5 278.0L1489.5 280.1L1490.5 278.6L1491.5 277.7L1492.5 277.4L1493.5 278.8L1494.5 277.1L1495.5 276.7L1496.5 278.4L1497.5 276.3L1498.5 277.1L1499.5 277.2L1500.5 276.6L1501.5 276.8L1502.5 278.0L1503.5 276.0L1504.5 275.0L1505.0 274.4L1505.5 276.0L1506.5 275.6L1507.5 276.1L1508.5 275.2L1509.5 275.0L1510.5 274.6L1511.5 274.6L1512.5 275.1L1513.5 274.3L1514.5 274.6L1515.5 276.3L1516.5 274.7L1517.5 272.3L1518.5 275.6L1519.5 274.0L1520.5 272.4L1521.5 274.2L1522.5 273.1L1523.5 272.3L1524.5 272.1L1525.5 271.6L1526.5 272.5L1527.5 273.4L1528.5 271.8L1529.5 272.5L1530.0 273.9L1530.5 270.7L1531.5 272.1L1532.5 271.4L1533.5 270.6L1534.5 270.5L1535.5 271.5L1536.5 271.9L1537.5 270.8L1538.5 271.3L1539.5 272.0L1540.5 271.5L1541.5 272.0L1542.5 271.5L1543.5 271.5L1544.5 272.8L1545.5 271.5L1546.5 270.9L1547.5 271.4L1548.5 269.7L1549.5 270.2L1550.5 271.3L1551.5 271.0L1552.5 271.9L1553.5 270.2L1554.5 268.5L1555.0 272.0L1555.5 271.1L1556.5 268.7L1557.5 271.0L1558.5 269.4L1559.5 267.2L1560.5 268.4L1561.5 268.0L1562.5 269.9L1563.5 267.0L1564.5 267.3L1565.5 266.9L1566.5 266.4L1567.5 265.5L1568.5 266.4L1569.5 267.0L1570.5 266.2L1571.5 264.2L1572.5 263.7L1573.5 264.8L1574.5 263.7L1575.5 263.5L1576.5 262.3L1577.5 266.0L1578.5 264.8L1579.5 262.7L1580.0 264.7L1580.5 265.2L1581.5 261.3L1582.5 263.4L1583.5 263.8L1584.5 265.1L1585.5 264.6L1586.5 264.9L1587.5 265.5L1588.5 267.9L1589.5 268.7L1590.5 266.4L1591.5 266.4L1592.5 270.8L1593.5 267.4L1594.5 268.3L1595.5 269.5L1596.5 270.4L1597.5 271.5L1598.5 271.2L1599.5 270.3L1600.5 272.1L1601.5 272.1L1602.5 274.1L1603.5 272.3L1604.5 271.0L1605.0 271.4L1605.5 274.1L1606.5 272.0L1607.5 270.4L1608.5 272.1L1609.5 272.8L1610.5 274.1L1611.5 271.8L1612.5 273.6L1613.5 273.8L1614.5 272.3L1615.5 272.9L1616.5 275.0L1617.5 275.0L1618.5 274.1L1619.5 273.6L1620.5 274.5L1621.5 273.2L1622.5 273.3L1623.5 272.5L1624.5 273.5L1625.5 273.4L1626.5 276.5L1627.5 273.3L1628.5 274.9L1629.5 275.0L1630.5 273.4L1631.5 274.9L1632.5 271.3L1633.5 273.8L1634.5 274.6L1635.5 271.1L1636.5 272.5L1637.5 274.9L1638.5 273.5L1639.5 272.6L1640.5 273.3L1641.5 273.2L1642.5 274.5L1643.5 274.2L1644.5 273.4L1645.5 272.9L1646.5 273.4L1647.5 274.8L1648.5 273.6L1649.5 273.7L1650.5 272.7L1651.5 271.3L1652.5 271.7L1653.5 272.9L1654.5 272.1L1655.5 270.8L1656.5 269.8L1657.5 271.4L1658.5 270.7L1659.5 270.5L1660.5 270.4L1661.5 270.9L1662.5 270.7L1663.5 271.3L1664.5 271.2L1665.5 271.5L1666.5 270.9L1667.5 269.6L1668.5 269.9L1669.5 270.5L1670.5 269.7L1671.5 270.6L1672.5 271.2L1673.5 269.1L1674.5 268.1L1675.5 271.3L1676.5 270.0L1677.5 270.8L1678.5 268.6L1679.5 271.9L1680.5 270.8L1681.5 269.9L1682.5 269.6L1683.5 270.1L1684.5 269.8L1685.5 269.7L1686.5 268.8L1687.5 271.4L1688.5 270.0L1689.5 270.1L1690.5 270.1L1691.5 267.4L1692.5 270.6L1693.5 269.6L1694.5 269.7L1695.5 270.1L1696.5 268.9L1697.5 270.9L1698.5 269.2L1699.5 269.0L1700.5 269.1L1701.5 270.2L1702.5 270.8L1703.5 269.3L1704.5 268.3L1705.0 271.2L1705.5 268.8L1706.5 271.3L1707.5 270.0L1708.5 269.4L1709.5 269.6L1710.5 270.9L1711.5 271.5L1712.5 270.5L1713.5 271.9L1714.5 273.4L1715.5 271.0L1716.5 270.2L1717.5 270.5L1718.5 270.4L1719.5 271.4L1720.5 271.5L1721.5 271.1L1722.5 273.3L1723.5 270.0L1724.5 271.6L1725.5 275.5L1726.5 274.5L1727.5 274.1L1728.5 274.1L1729.5 275.7L1730.0 274.3L1730.5 273.9L1731.5 272.5L1732.5 273.8L1733.5 273.1L1734.5 273.2L1735.5 273.2L1736.5 274.0L1737.5 273.7L1738.5 275.1L1739.5 272.7L1740.5 274.0L1741.5 276.2L1742.5 274.2L1743.5 275.5L1744.5 275.5L1745.5 275.7L1746.5 275.1L1747.5 272.8L1748.5 274.0L1749.5 273.9L1750.5 272.6L1751.5 273.9L1752.5 273.0L1753.5 272.6L1754.5 274.7L1755.5 274.4L1756.5 273.8L1757.5 273.5L1758.5 274.0L1759.5 274.2L1760.5 274.3L1761.5 274.7L1762.5 274.3L1763.5 275.3L1764.5 275.5L1765.0 275.4L1765.5 274.3L1766.5 274.6L1767.5 276.2L1768.5 276.1L1769.5 276.9L1770.5 275.0L1771.5 275.6L1772.5 279.9L1773.5 281.0L1774.5 283.2L1775.5 283.5L1776.5 284.1L1777.5 284.9L1778.5 284.4L1779.5 288.0L1780.0 286.8L1780.5 288.6L1781.5 289.4L1782.5 290.8L1783.5 292.9L1784.5 292.9L1785.5 294.5L1786.5 295.6L1787.5 297.7L1788.5 301.4L1789.5 300.5L1790.5 303.5L1791.5 304.1L1792.5 304.9L1793.5 305.5L1794.5 303.8L1795.0 305.4L1795.5 306.8L1796.5 304.2L1797.5 304.9L1798.5 304.2L1799.5 305.4L1800.5 303.8L1801.5 306.8L1802.5 304.6L1803.5 303.3L1804.5 307.0L1805.0 306.1L1805.5 305.6L1806.5 305.4L1807.5 304.2L1808.5 303.9L1809.5 304.6L1810.5 304.3L1811.5 303.8L1812.5 302.4L1813.5 301.1L1814.5 300.9L1815.5 301.9L1816.5 301.9L1817.5 299.6L1818.5 299.2L1819.5 301.0L1820.5 300.2L1821.5 299.9L1822.5 297.5L1823.5 298.3L1824.5 298.0L1825.5 298.6L1826.5 296.3L1827.5 299.5L1828.5 298.3L1829.5 298.3L1830.5 296.4L1831.5 297.6L1832.5 299.1L1833.5 295.7L1834.5 297.8L1835.0 298.3L1835.5 296.7L1836.5 298.4L1837.5 297.1L1838.5 298.9L1839.5 298.1L1840.5 297.8L1841.5 299.8L1842.5 298.5L1843.5 299.1L1844.5 296.3L1845.5 296.9L1846.5 298.6L1847.5 298.7L1848.5 297.7L1849.5 298.7L1850.5 296.6L1851.5 298.1L1852.5 296.6L1853.5 298.4L1854.5 297.5L1855.5 297.4L1856.5 298.3L1857.5 300.4L1858.5 297.2L1859.5 297.8L1860.5 299.8L1861.5 298.2L1862.5 300.8L1863.5 299.4L1864.5 300.1L1865.5 301.5L1866.5 304.3L1867.5 304.2L1868.5 305.0L1869.5 305.2L1870.0 303.2L1870.5 304.0L1871.5 306.7L1872.5 305.9L1873.5 305.5L1874.5 305.6L1875.5 304.2L1876.5 305.2L1877.5 303.7L1878.5 305.1L1879.5 303.7L1880.5 304.2L1881.5 304.8L1882.5 303.8L1883.5 304.8L1884.5 304.5L1885.5 304.2L1886.5 305.2L1887.5 301.8L1888.5 301.5L1889.5 303.9L1890.5 304.1L1891.5 305.1L1892.5 303.5L1893.5 303.4L1894.5 301.2L1895.5 302.9L1896.5 302.6L1897.5 300.4L1898.5 300.4L1899.5 301.1L1900.5 301.3L1901.5 297.4L1902.5 300.6L1903.5 300.6L1904.5 299.9L1905.0 300.3L1905.5 300.4L1906.5 298.4L1907.5 299.7L1908.5 298.6L1909.5 297.4L1910.5 298.2L1911.5 299.2L1912.5 295.3L1913.5 294.6L1914.5 294.0L1915.5 297.7L1916.5 294.6L1917.5 294.3L1918.5 292.9L1919.5 292.3L1920.5 290.5L1921.5 292.6L1922.5 292.3L1923.5 289.4L1924.5 290.2L1925.0 290.4L1925.5 291.1L1926.5 291.2L1927.5 291.9L1928.5 292.0L1929.5 291.4L1930.5 291.5L1931.5 288.3L1932.5 288.8L1933.5 290.5L1934.5 289.3L1935.5 288.8L1936.5 286.2L1937.5 286.1L1938.5 289.0L1939.5 288.3L1940.5 287.4L1941.5 287.1L1942.5 285.4L1943.5 287.6L1944.5 288.3L1945.5 288.8L1946.5 286.9L1947.5 286.4L1948.5 285.3L1949.5 287.9L1950.5 288.4L1951.5 285.6L1952.5 286.6L1953.5 286.4L1954.5 285.6L1955.0 283.3L1955.5 285.8L1956.5 287.0L1957.5 284.6L1958.5 285.3L1959.5 282.4L1960.5 287.8L1961.5 286.9L1962.5 286.4L1963.5 286.0L1964.5 285.6L1965.5 286.3L1966.5 286.1L1967.5 286.2L1968.5 286.5L1969.5 286.7L1970.5 288.4L1971.5 284.9L1972.5 287.0L1973.5 286.0L1974.5 285.5L1975.5 284.1L1976.5 287.6L1977.5 285.8L1978.5 286.1L1979.5 287.6L1980.5 285.9L1981.5 287.3L1982.5 287.2L1983.5 288.3L1984.5 288.6L1985.0 286.5L1985.5 288.6L1986.5 287.6L1987.5 288.1L1988.5 287.9L1989.5 289.4L1990.5 287.4L1991.5 289.6L1992.5 291.1L1993.5 289.8L1994.5 293.0L1995.5 290.2L1996.5 291.7L1997.5 291.3L1998.5 291.6L1999.5 291.3L2000.5 292.4L2001.5 293.2L2002.5 292.5L2003.5 294.7L2004.5 295.5L2005.0 291.9L2005.5 294.7L2006.5 293.7L2007.5 293.4L2008.5 295.5L2009.5 293.3L2010.5 291.6L2011.5 290.6L2012.5 287.1L2013.5 289.9L2014.5 287.5L2015.5 288.1L2016.5 287.7L2017.5 288.6L2018.5 289.9L2019.5 288.8L2020.5 289.2L2021.5 287.6L2022.5 288.6L2023.5 289.1L2024.5 286.7L2025.5 291.1L2026.5 288.1L2027.5 287.7L2028.5 291.5L2029.5 292.4L2030.5 289.3L2031.5 289.7L2032.5 294.5L2033.5 291.2L2034.5 288.9L2035.5 290.8L2036.5 294.2L2037.5 292.8L2038.5 293.1L2039.5 293.8L2040.5 293.2L2041.5 292.1L2042.5 290.4L2043.5 293.1L2044.5 290.5L2045.5 291.9L2046.5 294.8L2047.5 292.3L2048.5 291.0L2049.5 290.6L2050.5 291.7L2051.5 291.9L2052.5 286.1L2053.5 289.7L2054.5 293.8L2055.0 291.1L2055.5 286.8L2056.5 286.9L2057.5 282.8L2058.5 286.6L2059.5 293.7L2060.5 288.7L2061.5 286.3L2062.5 287.2L2063.5 288.5L2064.5 288.5L2065.5 287.8L2066.5 286.5L2067.5 290.7L2068.5 293.4L2069.5 287.1L2070.5 287.2L2071.5 292.4L2072.5 284.4L2073.5 287.0L2074.5 287.6L2075.5 289.3L2076.5 287.9L2077.5 286.1L2078.5 289.7L2079.5 285.2L2080.5 283.5L2081.5 282.7L2082.5 291.0L2083.5 283.5L2084.5 290.1L2085.0 290.8L2085.5 291.2L2086.5 288.2L2087.5 287.1L2088.5 289.0L2089.5 287.0L2090.5 284.9L2091.5 292.5L2092.5 286.1L2093.5 294.1L2094.5 290.3L2095.5 287.4L2096.5 290.1L2097.5 292.4L2098.5 284.6L2099.5 286.0L2100.5 285.6L2101.5 289.2L2102.5 290.0L2103.5 288.8L2104.5 286.6L2105.5 287.2L2106.5 292.3L2107.5 292.1L2108.5 289.1L2109.5 284.8L2110.5 290.6L2111.5 289.6L2112.5 289.5L2113.5 293.9L2114.5 291.2L2115.5 285.8L2116.5 285.9L2117.5 292.7L2118.5 287.5L2119.5 286.5L2120.0 283.5L2120.5 281.6L2121.5 285.8L2122.5 290.5L2123.5 290.4L2124.5 290.4L2125.5 294.3L2126.5 296.0L2127.5 297.9L2128.5 299.5L2129.5 301.2L2130.5 298.8L2131.5 298.1L2132.5 299.1L2133.5 299.3L2134.5 298.8L2135.5 299.7L2136.5 299.8L2137.5 298.2L2138.5 301.0L2139.5 299.7L2140.5 298.9L2141.5 301.3L2142.5 299.9L2143.5 303.4L2144.5 301.5L2145.5 300.9L2146.5 299.7L2147.5 300.3L2148.5 302.2L2149.5 299.9L2150.0 302.1L2150.5 297.7L2151.5 301.1L2152.5 301.9L2153.5 300.9L2154.5 300.1L2155.5 301.4L2156.5 298.1L2157.5 297.5L2158.5 298.9L2159.5 300.2L2160.5 298.7L2161.5 297.4L2162.5 297.9L2163.5 298.0L2164.5 295.2L2165.3 292.7L2165.5 295.5L2166.5 294.9L2167.5 296.8L2168.5 296.5L2169.5 297.8L2170.5 300.9L2171.5 301.4L2172.5 302.3L2173.5 306.1L2174.5 303.8L2175.5 305.0L2176.5 308.6L2177.5 305.6L2178.5 305.4L2179.5 310.6L2180.5 309.2L2180.7 309.6L2181.5 309.5L2182.5 309.4L2183.5 306.3L2184.5 305.8L2185.5 302.8L2186.5 303.4L2187.5 302.1L2188.5 299.5L2189.5 299.9L2190.5 302.5L2191.5 294.8L2192.5 297.5L2193.5 297.4L2194.5 297.9L2195.5 295.7L2196.5 300.2L2197.5 300.9L2198.5 301.4L2199.5 303.0L2200.5 305.9L2201.5 308.9L2202.5 310.6L2203.5 314.4L2204.5 311.1L2205.5 313.4L2206.2 311.8L2206.5 313.8L2207.5 312.1L2208.5 309.6L2209.5 306.8L2210.5 306.0L2211.5 306.1L2212.5 306.9L2213.5 305.0L2213.9 301.6L2214.5 302.8L2215.5 303.8L2216.5 303.5L2217.5 303.9L2218.5 305.2L2219.5 304.3L2220.5 302.9L2221.5 300.9L2222.5 303.7L2223.5 301.5L2224.5 304.2L2225.5 305.1L2226.5 302.4L2227.5 304.5L2228.5 304.1L2229.3 308.0L2229.5 305.4L2230.5 300.2L2231.5 301.8L2232.5 298.8L2233.5 294.8L2234.5 292.2L2235.5 292.9L2235.6 293.0L2236.5 293.5L2237.5 293.6L2238.5 298.5L2239.5 300.0L2240.5 303.5L2241.5 307.1L2242.0 306.5L2242.5 307.6L2243.5 312.1L2244.5 307.7L2245.5 303.9L2246.5 300.2L2247.5 300.9L2248.5 298.1L2249.5 295.2L2250.5 298.9L2251.5 295.7L2252.5 296.5L2253.5 301.0L2254.5 297.5L2255.5 300.8L2256.5 305.6L2257.5 308.3L2258.5 309.3L2258.7 310.5L2259.5 312.3L2260.5 307.6L2261.5 302.5L2262.5 299.4L2263.5 297.0L2264.5 297.1L2265.0 297.7L2265.5 297.9L2266.5 300.6L2267.5 300.6L2268.5 305.5L2269.5 307.8L2270.5 311.4L2271.5 309.0L2272.5 315.7L2272.7 310.7L2273.5 311.0L2274.5 312.7L2275.5 307.9L2276.5 308.4L2277.5 301.6L2278.5 295.5L2279.5 294.0L2280.5 289.8L2281.5 291.0L2282.5 289.9L2282.9 288.1L2283.5 286.1L2284.5 287.5L2285.5 290.1L2286.5 287.8L2287.5 289.1L2288.5 293.7L2289.5 295.2L2290.5 295.1L2290.6 295.2L2291.5 294.2L2292.5 303.6L2293.5 305.6L2294.5 307.7L2295.5 312.6L2296.5 316.6L2297.5 323.8L2298.3 322.6L2298.5 318.7L2299.5 322.8L2300.5 318.2L2301.5 309.6L2302.5 303.4L2303.4 309.0L2303.5 306.1L2304.5 307.1L2305.5 306.8L2306.5 310.9L2307.5 312.2L2308.5 311.9L2309.5 311.2L2310.5 313.2L2311.5 315.2L2312.5 312.3L2313.5 318.9L2314.5 317.1L2315.5 319.3L2316.5 320.0L2317.5 322.2L2318.5 323.0L2319.5 325.5L2320.0 320.6L2320.5 319.5L2321.5 320.7L2322.5 317.8L2323.5 318.8L2324.5 313.5L2325.5 313.0L2326.5 312.4L2327.5 310.7L2328.5 307.6L2329.5 309.0L2330.2 308.5L2330.5 302.8L2331.5 307.7L2332.5 309.0L2333.5 310.1L2334.5 311.5L2335.5 314.3L2336.5 315.7L2336.6 315.5L2337.5 317.4L2338.5 315.9L2339.5 311.6L2340.5 309.9L2341.5 311.6L2342.5 307.1L2343.5 307.6L2344.5 307.4L2345.5 308.1L2345.6 307.1L2346.5 309.1L2347.5 305.7L2348.5 308.7L2349.5 307.1L2350.5 310.1L2351.5 311.6L2352.5 311.3L2353.5 310.1L2354.5 319.5" fill="none" stroke="#ff0000" stroke-width="4.6" stroke-linejoin="round" stroke-linecap="round"/>
<path d="M1412.5 127.0L1413.5 127.6L1414.5 129.3L1415.5 128.7L1416.5 127.1L1417.5 128.7L1418.5 128.5L1419.5 129.4L1420.5 128.2L1421.5 130.0L1422.5 130.3L1423.5 131.7L1424.5 131.0L1425.5 131.4L1426.5 130.2L1427.5 133.5L1428.5 130.5L1429.5 133.2L1430.0 132.2L1430.5 132.0L1431.5 132.5L1432.5 132.8L1433.5 134.0L1434.5 134.0L1435.5 135.7L1436.5 133.4L1437.5 135.3L1438.5 135.0L1439.5 136.7L1440.5 134.9L1441.5 136.8L1442.5 137.7L1443.5 136.8L1444.5 139.3L1445.5 139.3L1446.5 140.6L1447.5 141.2L1448.5 140.3L1449.5 141.1L1450.5 142.2L1451.5 143.6L1452.5 144.3L1453.5 143.6L1454.5 144.3L1455.0 144.4L1455.5 144.8L1456.5 145.5L1457.5 146.1L1458.5 148.3L1459.5 146.7L1460.5 147.3L1461.5 148.3L1462.5 147.6L1463.5 148.4L1464.5 149.1L1465.5 150.1L1466.5 148.9L1467.5 151.4L1468.5 150.4L1469.5 151.2L1470.5 152.1L1471.5 152.3L1472.5 153.0L1473.5 152.7L1474.5 152.9L1475.5 153.5L1476.5 152.8L1477.5 155.0L1478.5 153.8L1479.5 153.8L1480.0 156.6L1480.5 155.1L1481.5 154.7L1482.5 157.6L1483.5 156.3L1484.5 157.9L1485.5 156.9L1486.5 157.9L1487.5 157.2L1488.5 157.6L1489.5 158.9L1490.5 160.1L1491.5 161.3L1492.5 163.1L1493.5 160.8L1494.5 162.9L1495.5 162.1L1496.5 162.9L1497.5 162.2L1498.5 162.5L1499.5 163.4L1500.5 163.4L1501.5 164.6L1502.5 164.2L1503.5 165.9L1504.5 165.1L1505.0 165.1L1505.5 165.9L1506.5 165.5L1507.5 165.0L1508.5 165.0L1509.5 165.0L1510.5 166.0L1511.5 165.8L1512.5 165.5L1513.5 165.8L1514.5 164.8L1515.5 165.7L1516.5 164.1L1517.5 166.4L1518.5 165.4L1519.5 165.5L1520.5 165.8L1521.5 165.3L1522.5 165.2L1523.5 166.3L1524.5 165.5L1525.5 164.7L1526.5 165.8L1527.5 164.1L1528.5 166.8L1529.5 165.3L1530.5 165.5L1531.5 167.3L1532.5 167.2L1533.5 165.6L1534.5 166.0L1535.5 166.4L1536.5 166.8L1537.5 165.4L1538.5 165.6L1539.5 166.5L1540.5 165.7L1541.5 166.1L1542.5 166.0L1543.5 164.6L1544.5 164.8L1545.5 163.3L1546.5 165.1L1547.5 166.3L1548.5 164.3L1549.5 166.0L1550.5 165.7L1551.5 164.7L1552.5 164.5L1553.5 164.4L1554.5 163.5L1555.5 163.7L1556.5 163.7L1557.5 164.0L1558.5 163.9L1559.5 162.4L1560.5 163.4L1561.5 161.9L1562.5 162.1L1563.5 162.3L1564.5 161.7L1565.5 161.3L1566.5 161.4L1567.5 160.4L1568.5 160.1L1569.5 160.1L1570.5 160.8L1571.5 159.6L1572.5 161.0L1573.5 159.3L1574.5 156.5L1575.5 158.3L1576.5 159.7L1577.5 158.1L1578.5 157.5L1579.5 156.9L1580.0 158.6L1580.5 158.2L1581.5 157.7L1582.5 157.3L1583.5 157.8L1584.5 157.1L1585.5 155.2L1586.5 156.6L1587.5 155.9L1588.5 155.4L1589.5 155.9L1590.5 155.1L1591.5 152.5L1592.5 155.8L1593.5 155.1L1594.5 154.0L1595.5 153.5L1596.5 153.7L1597.5 152.3L1598.5 153.3L1599.5 152.6L1600.5 152.2L1601.5 151.5L1602.5 151.4L1603.5 152.6L1604.5 152.5L1605.0 151.7L1605.5 151.1L1606.5 150.1L1607.5 151.0L1608.5 151.4L1609.5 148.5L1610.5 150.3L1611.5 147.3L1612.5 148.4L1613.5 148.6L1614.5 146.8L1615.5 146.2L1616.5 147.2L1617.5 147.4L1618.5 145.9L1619.5 147.0L1620.5 144.9L1621.5 146.5L1622.5 144.9L1623.5 144.6L1624.5 144.6L1625.5 144.0L1626.5 144.9L1627.5 144.9L1628.5 143.3L1629.5 142.5L1630.0 141.6L1630.5 141.8L1631.5 142.2L1632.5 141.9L1633.5 141.7L1634.5 141.5L1635.5 141.6L1636.5 139.9L1637.5 140.0L1638.5 141.5L1639.5 141.0L1640.5 139.7L1641.5 141.0L1642.5 139.2L1643.5 139.3L1644.5 137.9L1645.5 139.8L1646.5 139.0L1647.5 139.7L1648.5 139.3L1649.5 138.6L1650.5 138.6L1651.5 139.3L1652.5 138.1L1653.5 138.0L1654.5 138.1L1655.5 138.7L1656.5 138.8L1657.5 139.5L1658.5 138.0L1659.5 139.1L1660.5 137.6L1661.5 138.7L1662.5 138.5L1663.5 139.9L1664.5 139.2L1665.5 138.5L1666.5 139.6L1667.5 139.6L1668.5 139.3L1669.5 139.6L1670.5 139.4L1671.5 142.7L1672.5 140.9L1673.5 142.0L1674.5 140.6L1675.5 141.1L1676.5 142.2L1677.5 142.7L1678.5 143.8L1679.5 142.8L1680.5 144.5L1681.5 145.8L1682.5 144.3L1683.5 146.3L1684.5 145.3L1685.0 146.6L1685.5 146.9L1686.5 148.6L1687.5 147.5L1688.5 149.1L1689.5 150.9L1690.5 150.2L1691.5 152.3L1692.5 152.9L1693.5 154.3L1694.5 156.7L1695.5 158.1L1696.5 160.9L1697.5 161.1L1698.5 162.4L1699.5 162.7L1700.5 164.2L1701.5 166.1L1702.5 165.8L1703.5 170.5L1704.5 170.1L1705.5 171.1L1706.5 172.6L1707.5 174.5L1708.5 175.4L1709.5 174.7L1710.5 175.9L1711.5 176.1L1712.5 175.8L1713.5 177.2L1714.5 177.5L1715.5 176.7L1716.5 179.2L1717.5 177.4L1718.5 179.2L1719.5 178.5L1720.5 179.1L1721.5 179.5L1722.5 180.9L1723.5 179.6L1724.5 180.8L1725.5 182.4L1726.5 180.9L1727.5 181.7L1728.5 182.6L1729.5 181.9L1730.0 182.9L1730.5 182.1L1731.5 183.5L1732.5 183.4L1733.5 182.9L1734.5 185.1L1735.5 184.2L1736.5 184.4L1737.5 184.2L1738.5 184.9L1739.5 185.6L1740.5 186.1L1741.5 187.2L1742.5 185.5L1743.5 186.6L1744.5 188.1L1745.5 187.6L1746.5 188.0L1747.5 189.2L1748.5 188.4L1749.5 188.6L1750.5 188.4L1751.5 190.0L1752.5 189.5L1753.5 188.1L1754.5 189.2L1755.0 187.8L1755.5 189.6L1756.5 189.3L1757.5 188.6L1758.5 188.4L1759.5 187.3L1760.5 189.4L1761.5 188.7L1762.5 188.5L1763.5 189.3L1764.5 188.2L1765.5 188.3L1766.5 188.2L1767.5 187.7L1768.5 190.7L1769.5 188.6L1770.5 188.5L1771.5 189.5L1772.5 186.2L1773.5 188.7L1774.5 188.8L1775.5 188.0L1776.5 189.1L1777.5 187.1L1778.5 188.7L1779.5 189.4L1780.0 186.9L1780.5 187.6L1781.5 188.6L1782.5 188.7L1783.5 188.3L1784.5 189.1L1785.5 189.1L1786.5 187.9L1787.5 188.9L1788.5 188.1L1789.5 187.5L1790.5 187.4L1791.5 190.2L1792.5 189.4L1793.5 191.2L1794.5 188.5L1795.5 189.5L1796.5 190.2L1797.5 189.9L1798.5 190.5L1799.5 190.3L1800.5 189.7L1801.5 188.4L1802.5 189.6L1803.5 191.7L1804.5 191.0L1805.0 191.5L1805.5 189.9L1806.5 190.2L1807.5 189.6L1808.5 190.6L1809.5 190.3L1810.5 190.5L1811.5 191.5L1812.5 189.3L1813.5 190.4L1814.5 188.6L1815.5 190.4L1816.5 189.1L1817.5 189.2L1818.5 189.2L1819.5 190.2L1820.5 188.7L1821.5 188.2L1822.5 187.4L1823.5 188.4L1824.5 187.3L1825.5 187.4L1826.5 187.6L1827.5 188.0L1828.5 186.7L1829.5 187.6L1830.5 188.3L1831.5 185.5L1832.5 187.6L1833.5 188.1L1834.5 185.8L1835.0 186.6L1835.5 185.0L1836.5 186.2L1837.5 185.5L1838.5 185.9L1839.5 184.7L1840.5 184.6L1841.5 184.8L1842.5 184.4L1843.5 184.3L1844.5 184.5L1845.5 183.6L1846.5 184.2L1847.5 184.5L1848.5 182.1L1849.5 184.0L1850.5 183.1L1851.5 182.6L1852.5 182.2L1853.5 182.5L1854.5 182.4L1855.5 183.1L1856.5 181.7L1857.5 183.4L1858.5 181.7L1859.5 182.8L1860.5 182.9L1861.5 180.9L1862.5 182.6L1863.5 183.4L1864.5 181.2L1865.5 181.9L1866.5 181.2L1867.5 181.2L1868.5 180.9L1869.5 180.6L1870.5 181.4L1871.5 181.5L1872.5 180.6L1873.5 181.8L1874.5 181.3L1875.5 180.9L1876.5 179.7L1877.5 181.7L1878.5 181.1L1879.5 178.3L1880.5 179.0L1881.5 179.5L1882.5 180.5L1883.5 180.7L1884.5 179.3L1885.5 179.7L1886.5 180.0L1887.5 178.3L1888.5 179.7L1889.5 178.9L1890.5 179.2L1891.5 178.9L1892.5 177.9L1893.5 178.0L1894.5 178.7L1895.5 178.7L1896.5 178.3L1897.5 179.2L1898.5 178.0L1899.5 177.2L1900.5 177.8L1901.5 177.8L1902.5 177.7L1903.5 178.6L1904.5 178.0L1905.0 178.3L1905.5 177.9L1906.5 177.2L1907.5 178.0L1908.5 176.7L1909.5 177.0L1910.5 175.8L1911.5 176.5L1912.5 175.9L1913.5 176.3L1914.5 177.2L1915.5 177.5L1916.5 176.2L1917.5 175.1L1918.5 175.6L1919.5 174.9L1920.5 174.0L1921.5 174.2L1922.5 173.8L1923.5 173.3L1924.5 174.7L1925.5 173.0L1926.5 172.8L1927.5 173.5L1928.5 172.2L1929.5 171.7L1930.0 171.8L1930.5 172.8L1931.5 172.5L1932.5 172.3L1933.5 171.4L1934.5 170.9L1935.5 172.1L1936.5 170.0L1937.5 170.8L1938.5 169.7L1939.5 170.2L1940.5 170.2L1941.5 171.1L1942.5 167.6L1943.5 170.8L1944.5 168.8L1945.5 169.6L1946.5 169.9L1947.5 168.5L1948.5 168.9L1949.5 169.3L1950.5 168.7L1951.5 168.2L1952.5 168.9L1953.5 168.9L1954.5 167.6L1955.5 169.9L1956.5 169.0L1957.5 166.9L1958.5 168.3L1959.5 170.4L1960.5 170.3L1961.5 169.3L1962.5 167.8L1963.5 169.0L1964.5 170.1L1965.5 169.7L1966.5 169.2L1967.5 168.9L1968.5 170.2L1969.5 169.5L1970.5 169.9L1971.5 170.1L1972.5 171.1L1973.5 170.0L1974.5 170.1L1975.5 168.5L1976.5 170.9L1977.5 170.7L1978.5 170.0L1979.5 168.2L1980.0 169.6L1980.5 170.1L1981.5 171.6L1982.5 170.2L1983.5 170.1L1984.5 169.8L1985.5 169.8L1986.5 167.4L1987.5 167.1L1988.5 166.4L1989.5 166.7L1990.5 166.2L1991.5 166.1L1992.5 164.9L1993.5 165.5L1994.5 164.5L1995.5 166.8L1996.2 164.6L1996.5 167.1L1997.5 166.5L1998.5 164.5L1999.5 166.7L2000.5 166.9L2001.5 165.8L2002.5 168.2L2003.5 168.3L2004.5 169.4L2005.5 169.0L2006.5 170.2L2007.5 171.1L2008.5 170.9L2009.5 170.8L2010.0 171.1L2010.5 170.5L2011.5 171.5L2012.5 169.0L2013.5 172.1L2014.5 170.8L2015.5 170.9L2016.5 170.9L2017.5 169.0L2018.5 171.5L2019.5 168.5L2020.5 169.5L2021.5 169.2L2022.5 169.7L2023.5 168.4L2024.5 167.1L2025.5 168.4L2026.5 166.1L2027.5 167.9L2028.5 167.9L2029.5 170.0L2030.5 169.4L2031.5 170.3L2032.5 171.1L2033.5 172.2L2034.5 173.6L2035.5 175.5L2036.5 174.7L2037.5 176.1L2038.5 175.4L2039.5 176.7L2040.5 177.2L2041.5 176.3L2042.5 177.1L2043.5 177.8L2044.5 178.5L2045.5 178.8L2046.5 178.1L2047.5 177.6L2048.5 177.2L2049.5 179.3L2050.5 179.9L2051.5 179.2L2052.5 180.2L2053.5 178.7L2054.5 178.9L2055.5 180.6L2056.5 178.6L2057.5 180.0L2058.5 180.0L2059.5 179.9L2060.5 181.3L2061.5 179.4L2062.5 179.9L2063.5 178.7L2064.5 179.7L2065.5 180.4L2066.5 180.7L2067.5 181.1L2068.5 181.8L2069.5 181.3L2070.5 180.7L2071.5 182.8L2072.5 183.5L2073.5 182.7L2074.5 183.5L2075.5 186.1L2076.5 186.0L2077.5 186.5L2078.5 186.7L2079.5 186.8L2080.5 186.7L2081.5 188.0L2082.5 187.8L2083.5 188.0L2084.5 188.6L2085.0 188.7L2085.5 189.6L2086.5 188.3L2087.5 191.3L2088.5 188.7L2089.5 189.3L2090.5 190.6L2091.5 189.3L2092.5 189.7L2093.5 190.3L2094.5 188.0L2095.5 190.1L2096.5 189.8L2097.5 190.5L2098.5 191.2L2099.5 191.4L2100.5 192.2L2101.5 192.3L2102.5 192.0L2103.5 191.3L2104.5 192.3L2105.5 190.7L2106.5 191.6L2107.5 193.0L2108.5 192.6L2109.5 191.0L2110.5 191.8L2111.5 193.1L2112.5 193.1L2113.5 193.7L2114.5 191.5L2115.5 192.1L2116.5 193.3L2117.5 192.9L2118.5 194.1L2119.5 194.6L2120.5 195.5L2121.5 195.7L2122.5 197.2L2123.5 198.2L2124.5 198.4L2125.5 197.8L2126.5 201.3L2127.5 201.0L2128.5 202.0L2129.5 202.4L2130.0 200.8L2130.5 203.5L2131.5 202.7L2132.5 202.8L2133.5 206.3L2134.5 205.1L2135.5 206.5L2136.5 207.9L2137.5 209.4L2138.5 206.0L2139.5 207.9L2140.5 210.3L2141.5 209.2L2142.5 206.4L2143.5 211.3L2144.5 211.9L2145.5 213.1L2146.5 212.7L2147.5 212.2L2148.5 213.3L2149.5 213.2L2150.0 212.6L2150.5 213.7L2151.5 214.0L2152.5 212.1L2153.5 215.1L2154.5 214.9L2155.5 214.9L2156.4 210.0L2156.5 214.1L2157.5 214.0L2158.5 213.1L2159.5 215.9L2160.5 213.5L2161.5 218.1L2162.5 217.7L2163.5 217.3L2164.5 221.0L2165.5 220.5L2166.5 221.3L2167.5 219.9L2168.5 223.5L2169.5 225.7L2170.5 226.2L2171.5 223.6L2172.5 228.2L2173.5 229.2L2174.5 228.7L2175.5 227.4L2175.6 225.8L2176.5 227.0L2177.5 227.9L2178.5 229.6L2179.5 230.4L2180.5 228.9L2181.5 228.0L2182.5 230.1L2183.5 229.1L2184.5 233.4L2185.5 229.9L2186.5 232.7L2187.5 233.5L2188.5 231.0L2189.5 234.2L2190.5 232.6L2191.5 231.8L2192.5 231.6L2193.5 233.2L2194.5 234.6L2195.5 230.0L2196.5 233.6L2197.5 232.2L2198.5 231.0L2199.5 231.7L2200.5 231.5L2201.5 231.0L2202.5 232.0L2203.5 229.0L2204.5 233.0L2205.5 231.0L2206.5 228.5L2207.5 226.1L2208.5 228.8L2209.5 228.1L2210.5 229.7L2211.4 229.7L2211.5 231.5L2212.5 228.4L2213.5 229.9L2214.5 228.2L2215.5 228.5L2216.5 231.6L2217.5 229.3L2218.5 229.7L2219.5 229.6L2220.5 231.1L2221.5 231.9L2222.5 231.2L2223.5 230.0L2224.5 232.7L2225.5 231.3L2226.5 232.5L2226.7 233.4L2227.5 233.9L2228.5 230.5L2229.5 237.5L2230.5 236.9L2231.5 239.5L2232.5 241.3L2233.5 236.6L2234.5 237.8L2235.5 239.5L2236.5 240.9L2236.9 238.7L2237.5 239.0L2238.5 241.3L2239.5 238.3L2240.5 240.1L2241.5 241.5L2242.5 239.4L2243.5 241.1L2244.5 239.7L2245.5 237.4L2246.5 239.1L2247.5 239.6L2248.5 239.4L2249.5 240.0L2250.5 240.6L2251.5 240.5L2252.3 240.3L2252.5 239.3L2253.5 239.5L2254.5 239.1L2255.5 238.5L2256.5 241.4L2257.5 235.7L2258.5 238.8L2259.5 235.4L2260.5 236.7L2261.5 238.6L2262.5 236.6L2263.5 239.1L2264.5 235.2L2265.0 236.2L2265.5 235.6L2266.5 236.7L2267.5 236.3L2268.5 236.3L2269.5 237.2L2270.5 239.0L2271.5 237.7L2272.5 237.8L2273.5 237.4L2274.5 237.0L2275.5 236.1L2276.5 237.0L2277.5 239.1L2277.8 236.0L2278.5 240.5L2279.5 239.3L2280.5 239.1L2281.5 240.5L2282.5 243.3L2283.5 243.6L2284.5 244.2L2285.5 247.3L2286.5 248.6L2287.4 242.7L2287.5 246.4L2288.5 243.2L2289.5 241.3L2290.5 241.4L2291.5 242.4L2292.5 238.4L2293.5 236.3L2294.5 237.8L2295.5 234.7L2296.5 232.5L2297.5 235.0L2298.3 232.5L2298.5 230.5L2299.5 229.9L2300.5 231.1L2301.5 232.1L2302.5 233.4L2303.5 233.2L2304.5 232.0L2305.5 229.8L2306.5 233.4L2307.5 232.0L2308.5 229.9L2309.5 229.8L2310.5 232.7L2311.5 233.5L2312.5 235.0L2313.5 232.3L2314.5 238.6L2315.5 233.1L2316.2 236.8L2316.5 239.5L2317.5 240.2L2318.5 238.2L2319.5 242.7L2320.5 245.7L2321.5 246.7L2322.5 245.4L2323.5 251.6L2324.5 247.1L2325.5 250.8L2326.4 249.0L2326.5 250.2L2327.5 250.1L2328.5 251.1L2329.5 247.3L2330.5 249.1L2331.5 250.0L2332.5 246.8L2333.5 246.6L2334.5 245.4L2335.5 242.4L2336.5 242.3L2337.5 242.4L2338.5 242.8L2339.2 245.5L2339.5 244.9L2340.5 242.7L2341.5 245.5L2342.5 247.4L2343.5 247.4L2344.3 254.5L2344.5 253.1L2345.5 248.7L2346.5 252.2L2347.5 256.4L2348.5 253.1L2349.5 253.1L2350.5 252.6L2351.5 250.8L2352.5 250.1L2353.5 250.7L2354.5 252.5L2355.5 251.8L2355.8 253.5" fill="none" stroke="#000000" stroke-width="4.6" stroke-linejoin="round" stroke-linecap="round"/>
<path d="M1396.8 1421.8L1397.3 1424.5L1397.8 1427.2L1398.3 1430.0L1398.8 1432.7L1399.3 1435.5L1399.8 1438.3L1400.3 1441.1L1400.8 1443.9L1401.2 1446.2L1401.3 1446.8L1401.8 1449.9L1402.3 1453.5L1402.8 1457.3L1403.3 1461.1L1403.8 1465.0L1404.3 1468.6L1404.8 1471.9L1405.3 1474.7L1405.8 1476.8L1406.3 1478.2L1406.8 1478.7L1407.3 1478.5L1407.8 1477.9L1408.3 1476.9L1408.8 1475.6L1409.3 1474.1L1409.8 1472.5L1410.3 1470.8L1410.8 1469.0L1411.3 1467.3L1411.8 1465.7L1412.3 1464.3L1412.4 1464.1L1412.8 1463.0L1413.3 1461.6L1413.8 1460.0L1414.3 1458.4L1414.8 1456.8L1415.3 1455.2L1415.8 1453.7L1416.3 1452.3L1416.8 1451.0L1417.3 1449.9L1417.8 1448.9L1418.3 1448.3L1418.8 1447.9L1419.1 1447.9L1419.3 1447.9L1419.8 1448.3L1420.3 1449.1L1420.8 1450.3L1421.3 1451.7L1421.8 1453.4L1422.3 1455.3L1422.8 1457.3L1423.3 1459.3L1423.8 1461.3L1424.3 1463.3L1424.8 1465.2L1425.3 1466.9L1425.8 1468.4L1426.3 1469.6L1426.8 1470.4L1426.9 1470.6L1427.3 1471.0L1427.8 1471.5L1428.3 1471.8L1428.8 1472.2L1429.3 1472.5L1429.8 1472.7L1430.3 1473.0L1430.8 1473.2L1431.3 1473.5L1431.8 1473.8L1432.3 1474.2L1432.8 1474.7L1433.3 1475.2L1433.5 1475.5L1433.8 1475.9L1434.3 1477.1L1434.8 1478.7L1435.3 1480.5L1435.8 1482.6L1436.3 1484.9L1436.8 1487.3L1437.3 1489.6L1437.8 1491.8L1438.3 1493.9L1438.8 1495.7L1439.1 1496.6L1439.3 1497.2L1439.8 1498.7L1440.3 1500.3L1440.8 1501.9L1441.3 1503.4L1441.8 1504.9L1442.3 1506.2L1442.8 1507.4L1443.3 1508.3L1443.8 1509.1L1444.3 1509.5L1444.7 1509.6L1444.8 1509.6L1445.3 1509.3L1445.8 1508.6L1446.3 1507.6L1446.8 1506.2L1447.3 1504.6L1447.8 1502.9L1448.3 1500.9L1448.8 1498.9L1449.3 1496.9L1449.8 1494.9L1450.2 1493.3L1450.3 1492.9L1450.8 1490.6L1451.3 1487.8L1451.8 1484.5L1452.3 1481.0L1452.8 1477.3L1453.3 1473.6L1453.8 1470.0L1454.3 1466.5L1454.8 1463.4L1455.3 1460.6L1455.8 1458.4L1456.3 1456.8L1456.8 1456.0L1456.9 1456.0L1457.3 1455.8L1457.8 1455.7L1458.3 1455.5L1458.8 1455.4L1459.3 1455.3L1459.8 1455.2L1460.3 1455.2L1460.8 1455.1L1461.3 1455.1L1461.8 1455.0L1462.3 1454.9L1462.8 1454.9L1463.3 1454.8L1463.8 1454.6L1464.3 1454.5L1464.7 1454.4L1464.8 1454.3L1465.3 1454.0L1465.8 1453.5L1466.3 1452.8L1466.8 1452.0L1467.3 1451.0L1467.8 1450.0L1468.3 1448.9L1468.8 1447.7L1469.3 1446.5L1469.8 1445.3L1470.3 1444.1L1470.8 1442.9L1471.3 1441.8L1471.8 1440.8L1472.3 1439.9L1472.8 1439.1L1473.3 1438.4L1473.6 1438.1L1473.8 1437.9L1474.3 1437.4L1474.8 1437.0L1475.3 1436.5L1475.8 1436.1L1476.3 1435.7L1476.8 1435.3L1477.3 1435.0L1477.8 1434.6L1478.3 1434.3L1478.8 1434.0L1479.3 1433.7L1479.8 1433.4L1480.3 1433.2L1480.8 1433.0L1481.3 1432.8L1481.8 1432.6L1482.3 1432.4L1482.5 1432.4L1482.8 1432.3L1483.3 1432.2L1483.8 1432.1L1484.3 1431.9L1484.8 1431.8L1485.3 1431.7L1485.8 1431.6L1486.3 1431.5L1486.8 1431.4L1487.3 1431.3L1487.8 1431.2L1488.3 1431.1L1488.8 1431.1L1489.3 1431.0L1489.8 1430.9L1490.3 1430.9L1490.8 1430.8L1491.3 1430.8L1491.8 1430.8L1492.3 1430.8L1492.6 1430.8L1492.8 1430.8L1493.3 1430.8L1493.8 1430.9L1494.3 1431.0L1494.8 1431.2L1495.3 1431.3L1495.8 1431.6L1496.3 1431.8L1496.8 1432.1L1497.3 1432.4L1497.8 1432.7L1498.3 1433.1L1498.8 1433.5L1499.3 1433.9L1499.8 1434.3L1500.3 1434.7L1500.4 1434.8L1500.8 1435.3L1501.3 1436.4L1501.8 1437.8L1502.3 1439.5L1502.8 1441.4L1503.3 1443.5L1503.8 1445.6L1504.3 1447.6L1504.8 1449.5L1505.3 1451.3L1505.8 1452.7L1506.3 1453.7L1506.8 1454.3L1507.0 1454.4L1507.3 1454.4L1507.8 1454.5L1508.3 1454.6L1508.8 1454.6L1509.3 1454.7L1509.8 1454.7L1510.3 1454.7L1510.8 1454.8L1511.3 1454.8L1511.8 1454.8L1512.3 1454.8L1512.8 1454.9L1513.3 1454.9L1513.8 1454.9L1514.3 1455.0L1514.8 1455.0L1515.3 1455.1L1515.8 1455.1L1516.0 1455.2L1516.3 1455.2L1516.8 1455.4L1517.3 1455.6L1517.8 1455.9L1518.3 1456.3L1518.8 1456.7L1519.3 1457.1L1519.8 1457.6L1520.3 1458.0L1520.8 1458.5L1521.3 1459.0L1521.8 1459.4L1522.3 1459.8L1522.8 1460.1L1523.3 1460.4L1523.8 1460.6L1524.3 1460.8L1524.8 1460.9L1524.9 1460.9L1525.3 1460.8L1525.8 1460.8L1526.3 1460.8L1526.8 1460.7L1527.3 1460.6L1527.8 1460.5L1528.3 1460.3L1528.8 1460.2L1529.3 1460.0L1529.8 1459.9L1530.3 1459.7L1530.8 1459.5L1531.3 1459.3L1531.8 1459.1L1532.3 1458.9L1532.8 1458.8L1533.3 1458.6L1533.8 1458.4L1534.3 1458.2L1534.8 1457.9L1535.3 1457.7L1535.8 1457.4L1536.3 1457.0L1536.8 1456.7L1537.3 1456.3L1537.8 1456.0L1538.3 1455.6L1538.8 1455.2L1539.3 1454.7L1539.8 1454.3L1540.3 1453.9L1540.8 1453.5L1541.3 1453.0L1541.8 1452.6L1542.3 1452.2L1542.8 1451.8L1543.3 1451.4L1543.8 1451.0L1544.3 1450.7L1544.8 1450.3L1545.3 1450.0L1545.8 1449.7L1546.3 1449.5L1546.8 1449.2L1547.3 1449.1L1547.8 1448.9L1548.3 1448.8L1548.8 1448.7L1549.3 1448.7L1549.4 1448.7L1549.8 1448.7L1550.3 1448.7L1550.8 1448.9L1551.3 1449.0L1551.8 1449.2L1552.3 1449.4L1552.8 1449.7L1553.3 1450.0L1553.8 1450.4L1554.3 1450.7L1554.8 1451.1L1555.3 1451.5L1555.8 1452.0L1556.3 1452.4L1556.8 1452.9L1557.3 1453.4L1557.8 1453.9L1558.3 1454.4L1558.8 1454.9L1559.3 1455.6L1559.8 1456.4L1560.3 1457.3L1560.8 1458.3L1561.3 1459.3L1561.8 1460.5L1562.3 1461.7L1562.8 1462.9L1563.3 1464.3L1563.8 1465.6L1564.3 1467.0L1564.8 1468.4L1565.3 1469.9L1565.8 1471.4L1566.3 1472.8L1566.8 1474.3L1567.2 1475.5L1567.3 1475.7L1567.8 1477.2L1568.3 1478.7L1568.8 1480.3L1569.3 1481.9L1569.8 1483.6L1570.3 1485.4L1570.8 1487.1L1571.3 1489.0L1571.8 1490.9L1572.3 1492.9L1572.8 1495.0L1573.3 1497.2L1573.8 1499.4L1573.9 1499.8L1574.3 1501.7L1574.8 1504.3L1575.3 1507.1L1575.8 1510.1L1576.3 1513.2L1576.8 1516.4L1577.3 1519.7L1577.8 1523.0L1578.3 1526.4L1578.8 1529.7L1579.3 1533.0L1579.8 1536.2L1580.3 1539.3L1580.5 1540.5L1580.8 1542.3L1581.3 1545.6L1581.8 1549.1L1582.3 1552.7L1582.8 1556.3L1583.3 1559.7L1583.8 1563.0L1584.3 1566.0L1584.8 1568.6L1585.3 1570.8L1585.8 1572.4L1586.1 1573.1L1586.3 1573.4L1586.8 1574.3L1587.3 1575.0L1587.8 1575.8L1588.3 1576.4L1588.8 1576.9L1589.3 1577.4L1589.8 1577.7L1590.3 1577.8L1590.6 1577.9L1590.8 1577.9L1591.3 1577.8L1591.8 1577.6L1592.3 1577.4L1592.8 1577.0L1593.3 1576.7L1593.8 1576.3L1594.3 1575.9L1594.8 1575.4L1595.3 1575.0L1595.8 1574.6L1596.3 1574.2L1596.8 1573.8L1597.3 1573.5L1597.8 1573.3L1598.3 1573.1L1598.4 1573.1L1598.8 1573.0L1599.3 1572.9L1599.8 1572.8L1600.3 1572.7L1600.8 1572.6L1601.3 1572.6L1601.8 1572.5L1602.3 1572.5L1602.8 1572.4L1603.3 1572.4L1603.8 1572.3L1604.3 1572.3L1604.8 1572.3L1605.3 1572.2L1605.8 1572.2L1606.3 1572.1L1606.8 1572.1L1607.3 1572.1L1607.8 1572.0L1608.3 1572.0L1608.8 1571.9L1609.3 1571.8L1609.8 1571.7L1610.3 1571.7L1610.8 1571.6L1611.3 1571.5L1611.7 1571.4L1611.8 1571.4L1612.3 1571.2L1612.8 1570.9L1613.3 1570.5L1613.8 1570.1L1614.3 1569.6L1614.8 1569.0L1615.3 1568.3L1615.8 1567.6L1616.3 1566.9L1616.8 1566.1L1617.3 1565.4L1617.8 1564.5L1618.3 1563.7L1618.8 1562.9L1619.3 1562.1L1619.8 1561.2L1620.3 1560.4L1620.8 1559.6L1621.3 1558.9L1621.8 1558.2L1622.3 1557.5L1622.8 1556.9L1622.9 1556.8L1623.3 1556.3L1623.8 1555.8L1624.3 1555.3L1624.8 1554.8L1625.3 1554.3L1625.8 1553.9L1626.3 1553.4L1626.8 1553.0L1627.3 1552.5L1627.8 1552.1L1628.3 1551.7L1628.8 1551.2L1629.3 1550.8L1629.8 1550.3L1630.3 1549.8L1630.8 1549.3L1631.3 1548.8L1631.8 1548.2L1632.3 1547.7L1632.8 1547.0L1633.3 1546.4L1633.8 1545.7L1634.0 1545.4L1634.3 1544.9L1634.8 1544.0L1635.3 1542.9L1635.8 1541.7L1636.3 1540.4L1636.8 1539.0L1637.3 1537.5L1637.8 1536.0L1638.3 1534.4L1638.8 1532.7L1639.3 1531.1L1639.8 1529.4L1640.3 1527.8L1640.8 1526.2L1641.3 1524.6L1641.8 1523.1L1642.3 1521.7L1642.8 1520.4L1643.3 1519.2L1643.8 1518.2L1644.3 1517.2L1644.8 1516.5L1645.1 1516.1L1645.3 1515.9L1645.8 1515.4L1646.3 1514.9L1646.8 1514.5L1647.3 1514.2L1647.8 1513.8L1648.3 1513.5L1648.8 1513.2L1649.3 1512.9L1649.8 1512.7L1650.3 1512.4L1650.8 1512.1L1651.3 1511.8L1651.8 1511.5L1652.3 1511.1L1652.8 1510.7L1653.3 1510.3L1653.8 1509.8L1654.0 1509.6L1654.3 1509.3L1654.8 1508.7L1655.3 1508.0L1655.8 1507.2L1656.3 1506.4L1656.8 1505.5L1657.3 1504.5L1657.8 1503.5L1658.3 1502.5L1658.8 1501.4L1659.3 1500.3L1659.8 1499.2L1660.3 1498.0L1660.8 1496.8L1661.3 1495.7L1661.8 1494.5L1662.3 1493.3L1662.8 1492.1L1663.3 1491.0L1663.8 1489.9L1664.3 1488.7L1664.8 1487.7L1665.2 1486.8L1665.3 1486.6L1665.8 1485.6L1666.3 1484.5L1666.8 1483.4L1667.3 1482.3L1667.8 1481.1L1668.3 1479.9L1668.8 1478.8L1669.3 1477.6L1669.8 1476.4L1670.3 1475.3L1670.8 1474.1L1671.3 1473.0L1671.8 1471.9L1672.3 1470.8L1672.8 1469.8L1673.3 1468.8L1673.8 1467.9L1674.3 1467.0L1674.8 1466.1L1675.3 1465.4L1675.8 1464.7L1676.3 1464.1L1676.8 1463.5L1677.3 1462.9L1677.8 1462.3L1678.3 1461.7L1678.8 1461.1L1679.3 1460.6L1679.8 1460.1L1680.3 1459.6L1680.8 1459.2L1681.3 1458.9L1681.8 1458.7L1682.3 1458.5L1682.8 1458.4L1683.0 1458.4L1683.3 1458.4L1683.8 1458.4L1684.3 1458.4L1684.8 1458.5L1685.3 1458.6L1685.8 1458.7L1686.3 1458.8L1686.8 1458.9L1687.3 1459.0L1687.8 1459.1L1688.3 1459.3L1688.8 1459.4L1689.3 1459.6L1689.8 1459.8L1690.3 1459.9L1690.8 1460.1L1691.3 1460.3L1691.8 1460.5L1692.3 1460.6L1692.8 1460.8L1692.9 1460.9L1693.3 1461.0L1693.8 1461.2L1694.3 1461.5L1694.8 1461.8L1695.3 1462.1L1695.8 1462.5L1696.3 1462.9L1696.8 1463.3L1697.3 1463.7L1697.8 1464.1L1698.3 1464.5L1698.8 1464.9L1699.3 1465.2L1699.8 1465.6L1700.3 1466.0L1700.8 1466.3L1701.3 1466.6L1701.8 1466.8L1702.3 1467.0L1702.8 1467.2L1703.3 1467.3L1703.8 1467.3L1704.0 1467.4L1704.3 1467.4L1704.8 1467.3L1705.3 1467.3L1705.8 1467.3L1706.3 1467.2L1706.8 1467.2L1707.3 1467.1L1707.8 1467.0L1708.3 1467.0L1708.8 1466.9L1709.3 1466.8L1709.8 1466.7L1710.3 1466.6L1710.8 1466.5L1711.3 1466.4L1711.8 1466.4L1712.3 1466.3L1712.8 1466.2L1713.3 1466.1L1713.8 1466.0L1714.3 1466.0L1714.8 1465.9L1715.3 1465.9L1715.8 1465.8L1716.3 1465.8L1716.8 1465.8L1717.3 1465.7L1717.4 1465.7L1717.8 1465.8L1718.3 1465.9L1718.8 1466.1L1719.3 1466.3L1719.8 1466.7L1720.3 1467.1L1720.8 1467.5L1721.3 1468.0L1721.8 1468.6L1722.3 1469.2L1722.8 1469.8L1723.3 1470.5L1723.8 1471.2L1724.3 1472.0L1724.8 1472.8L1725.3 1473.6L1725.8 1474.4L1726.3 1475.2L1726.8 1476.0L1727.3 1476.8L1727.8 1477.6L1728.3 1478.4L1728.5 1478.7L1728.8 1479.2L1729.3 1480.1L1729.8 1481.0L1730.3 1482.0L1730.8 1483.1L1731.3 1484.1L1731.8 1485.3L1732.3 1486.5L1732.8 1487.7L1733.3 1488.9L1733.8 1490.2L1734.3 1491.5L1734.8 1492.9L1735.3 1494.2L1735.8 1495.6L1736.3 1497.0L1736.8 1498.3L1737.3 1499.7L1737.8 1501.1L1738.3 1502.5L1738.8 1503.9L1739.3 1505.3L1739.7 1506.3L1739.8 1506.6L1740.3 1507.9L1740.8 1509.1L1741.3 1510.3L1741.8 1511.5L1742.3 1512.7L1742.8 1513.8L1743.3 1515.0L1743.8 1516.2L1744.3 1517.5L1744.8 1518.8L1745.3 1520.2L1745.8 1521.7L1746.3 1523.3L1746.8 1525.0L1747.3 1526.8L1747.8 1528.8L1748.3 1531.0L1748.6 1532.4L1748.8 1533.4L1749.3 1536.6L1749.8 1540.6L1750.3 1545.3L1750.8 1550.3L1751.3 1555.6L1751.8 1561.0L1752.3 1566.2L1752.8 1571.2L1753.0 1573.1L1753.3 1575.8L1753.8 1580.4L1754.3 1585.1L1754.8 1589.8L1755.3 1594.4L1755.8 1599.0L1756.3 1603.4L1756.8 1607.8L1757.3 1612.0L1757.5 1613.6L1757.8 1616.1L1758.3 1620.2L1758.8 1624.2L1759.3 1628.3L1759.8 1632.3L1760.3 1636.2L1760.8 1640.0L1761.3 1643.8L1761.8 1647.4L1762.3 1650.9L1762.8 1654.2L1763.3 1657.3L1763.8 1660.2L1764.2 1662.4L1764.3 1662.9L1764.8 1665.5L1765.3 1668.1L1765.8 1670.6L1766.3 1673.1L1766.8 1675.5L1767.3 1677.8L1767.8 1680.1L1768.3 1682.3L1768.8 1684.4L1769.3 1686.4L1769.8 1688.3L1770.3 1690.2L1770.8 1691.9L1771.3 1693.5L1771.8 1695.0L1772.3 1696.3L1772.8 1697.5L1773.1 1698.2L1773.3 1698.6L1773.8 1699.7L1774.3 1700.7L1774.8 1701.8L1775.3 1702.8L1775.8 1703.8L1776.3 1704.7L1776.8 1705.6L1777.3 1706.4L1777.8 1707.2L1778.3 1707.8L1778.8 1708.4L1779.3 1708.9L1779.8 1709.2L1780.3 1709.5L1780.8 1709.6L1780.9 1709.6L1781.3 1709.5L1781.8 1709.1L1782.3 1708.4L1782.8 1707.4L1783.3 1706.2L1783.8 1704.8L1784.3 1703.2L1784.8 1701.5L1785.3 1699.5L1785.8 1697.5L1786.3 1695.4L1786.4 1695.0L1786.8 1692.8L1787.3 1688.9L1787.8 1684.1L1788.3 1678.5L1788.8 1672.3L1789.3 1665.9L1789.8 1659.4L1790.3 1653.2L1790.8 1647.3L1790.9 1646.2L1791.3 1641.9L1791.8 1636.5L1792.3 1631.1L1792.8 1625.7L1793.3 1620.3L1793.8 1614.9L1794.3 1609.4L1794.8 1604.0L1795.3 1598.5L1795.4 1597.4L1795.8 1593.0L1796.3 1587.2L1796.8 1581.2L1797.3 1575.3L1797.8 1569.4L1798.3 1563.7L1798.8 1558.3L1799.3 1553.2L1799.8 1548.6L1800.3 1544.3L1800.8 1539.9L1801.3 1535.6L1801.8 1531.4L1802.3 1527.3L1802.8 1523.5L1803.3 1520.0L1803.8 1516.8L1804.3 1514.0L1804.8 1511.7L1805.3 1509.9L1805.4 1509.6L1805.8 1508.5L1806.3 1507.2L1806.8 1505.9L1807.3 1504.7L1807.8 1503.5L1808.3 1502.5L1808.8 1501.5L1809.3 1500.6L1809.8 1499.9L1810.3 1499.3L1810.8 1498.8L1811.3 1498.4L1811.8 1498.3L1812.1 1498.2L1812.3 1498.2L1812.8 1498.4L1813.3 1498.6L1813.8 1498.9L1814.3 1499.4L1814.8 1499.9L1815.3 1500.4L1815.8 1501.0L1816.3 1501.6L1816.8 1502.2L1817.3 1502.8L1817.6 1503.1L1817.8 1503.4L1818.3 1504.0L1818.8 1504.8L1819.3 1505.6L1819.8 1506.5L1820.3 1507.4L1820.8 1508.3L1821.3 1509.2L1821.8 1510.0L1822.3 1510.8L1822.8 1511.5L1823.3 1512.1L1823.8 1512.5L1824.3 1512.8L1824.8 1513.0L1825.3 1513.2L1825.8 1513.4L1826.3 1513.6L1826.8 1513.8L1827.3 1513.9L1827.8 1514.1L1828.3 1514.3L1828.8 1514.4L1829.3 1514.6L1829.8 1514.7L1830.3 1514.8L1830.8 1515.0L1831.3 1515.1L1831.8 1515.2L1832.3 1515.3L1832.8 1515.4L1833.3 1515.5L1833.8 1515.6L1834.3 1515.7L1834.8 1515.8L1835.3 1515.8L1835.8 1515.9L1836.3 1515.9L1836.8 1516.0L1837.3 1516.0L1837.8 1516.1L1838.3 1516.1L1838.8 1516.1L1839.3 1516.1L1839.8 1516.1L1839.9 1516.1L1840.3 1516.1L1840.8 1516.1L1841.3 1516.1L1841.8 1516.1L1842.3 1516.1L1842.8 1516.1L1843.3 1516.1L1843.8 1516.1L1844.3 1516.1L1844.8 1516.1L1845.3 1516.1L1845.8 1516.1L1846.3 1516.1L1846.8 1516.1L1847.3 1516.1L1847.8 1516.1L1848.3 1516.1L1848.8 1516.1L1849.3 1516.1L1849.8 1516.1L1850.3 1516.1L1850.8 1516.1L1851.3 1516.1L1851.8 1516.1L1852.3 1516.1L1852.8 1516.1L1853.3 1516.1L1853.8 1516.1L1854.3 1516.1L1854.8 1516.1L1855.3 1516.1L1855.8 1516.1L1856.3 1516.1L1856.8 1516.1L1857.3 1516.1L1857.8 1516.1L1858.3 1516.1L1858.8 1516.1L1859.3 1516.1L1859.8 1516.1L1860.3 1516.1L1860.8 1516.1L1861.3 1516.1L1861.8 1516.1L1862.2 1516.1L1862.3 1516.1L1862.8 1516.1L1863.3 1515.9L1863.8 1515.7L1864.3 1515.5L1864.8 1515.1L1865.3 1514.8L1865.8 1514.3L1866.3 1513.9L1866.8 1513.4L1867.3 1512.9L1867.8 1512.4L1868.3 1511.9L1868.8 1511.3L1868.9 1511.2L1869.3 1510.8L1869.8 1510.1L1870.3 1509.3L1870.8 1508.5L1871.3 1507.5L1871.8 1506.5L1872.3 1505.4L1872.8 1504.3L1873.3 1503.1L1873.8 1501.8L1874.3 1500.6L1874.8 1499.3L1875.3 1498.0L1875.8 1496.7L1876.3 1495.4L1876.8 1494.1L1877.3 1492.9L1877.8 1491.6L1878.3 1490.5L1878.8 1489.3L1879.3 1488.2L1879.8 1487.2L1880.0 1486.8L1880.3 1486.3L1880.8 1485.3L1881.3 1484.3L1881.8 1483.3L1882.3 1482.2L1882.8 1481.1L1883.3 1480.1L1883.8 1479.0L1884.3 1477.9L1884.8 1476.9L1885.3 1475.8L1885.8 1474.8L1886.3 1473.8L1886.8 1472.8L1887.3 1471.8L1887.8 1470.9L1888.3 1470.0L1888.8 1469.2L1889.3 1468.5L1889.8 1467.8L1890.3 1467.1L1890.8 1466.5L1891.3 1466.0L1891.8 1465.6L1892.3 1465.3L1892.8 1465.0L1893.3 1464.9L1893.4 1464.9L1893.8 1464.8L1894.3 1464.7L1894.8 1464.7L1895.3 1464.6L1895.8 1464.5L1896.3 1464.4L1896.8 1464.4L1897.3 1464.3L1897.8 1464.2L1898.3 1464.2L1898.8 1464.1L1899.3 1464.1L1899.8 1464.0L1900.3 1463.9L1900.8 1463.9L1901.3 1463.8L1901.8 1463.8L1902.3 1463.8L1902.8 1463.7L1903.3 1463.7L1903.8 1463.6L1904.3 1463.6L1904.8 1463.6L1905.3 1463.5L1905.8 1463.5L1906.3 1463.5L1906.8 1463.4L1907.3 1463.4L1907.8 1463.4L1908.3 1463.4L1908.8 1463.3L1909.3 1463.3L1909.8 1463.3L1910.3 1463.3L1910.8 1463.3L1911.3 1463.3L1911.8 1463.3L1912.3 1463.3L1912.8 1463.3L1913.3 1463.3L1913.4 1463.3L1913.8 1463.3L1914.3 1463.4L1914.8 1463.5L1915.3 1463.7L1915.8 1464.0L1916.3 1464.3L1916.8 1464.6L1917.3 1465.0L1917.8 1465.5L1918.3 1466.0L1918.8 1466.5L1919.3 1467.0L1919.8 1467.6L1920.3 1468.1L1920.8 1468.7L1921.3 1469.3L1921.8 1469.9L1922.3 1470.6L1922.8 1471.3L1923.3 1472.1L1923.8 1473.0L1924.3 1474.1L1924.8 1475.3L1925.3 1476.5L1925.8 1477.8L1926.3 1479.2L1926.8 1480.6L1927.3 1482.1L1927.8 1483.6L1928.3 1485.1L1928.8 1486.6L1929.3 1488.1L1929.8 1489.5L1930.3 1490.9L1930.8 1492.3L1931.2 1493.3L1931.3 1493.6L1931.8 1495.0L1932.3 1496.4L1932.8 1497.9L1933.3 1499.5L1933.8 1501.1L1934.3 1502.7L1934.8 1504.4L1935.3 1506.0L1935.8 1507.5L1936.3 1509.0L1936.8 1510.4L1937.3 1511.7L1937.8 1512.9L1938.3 1513.9L1938.8 1514.8L1939.3 1515.5L1939.8 1515.9L1940.1 1516.1L1940.3 1516.2L1940.8 1516.4L1941.3 1516.6L1941.8 1516.8L1942.3 1516.9L1942.8 1517.1L1943.3 1517.2L1943.8 1517.3L1944.3 1517.4L1944.8 1517.5L1945.3 1517.6L1945.8 1517.7L1946.3 1517.7L1946.8 1517.8L1947.3 1517.9L1947.8 1517.9L1948.3 1518.0L1948.8 1518.1L1949.3 1518.2L1949.8 1518.3L1950.3 1518.4L1950.8 1518.5L1951.3 1518.6L1951.8 1518.8L1952.3 1518.9L1952.8 1519.1L1953.3 1519.3L1953.5 1519.4L1953.8 1519.6L1954.3 1519.9L1954.8 1520.3L1955.3 1520.9L1955.8 1521.5L1956.3 1522.2L1956.8 1523.0L1957.3 1523.9L1957.8 1524.8L1958.3 1525.8L1958.8 1526.8L1959.3 1527.9L1959.8 1529.1L1960.3 1530.3L1960.8 1531.5L1961.3 1532.8L1961.8 1534.0L1962.3 1535.3L1962.4 1535.6L1962.8 1536.7L1963.3 1538.2L1963.8 1539.9L1964.3 1541.7L1964.8 1543.7L1965.3 1545.8L1965.8 1548.0L1966.3 1550.3L1966.8 1552.7L1967.3 1555.2L1967.8 1557.8L1968.3 1560.5L1968.8 1563.2L1969.1 1564.9L1969.3 1566.1L1969.8 1569.5L1970.3 1573.4L1970.8 1577.7L1971.3 1582.1L1971.8 1586.4L1972.3 1590.4L1972.8 1593.8L1973.3 1596.6L1973.5 1597.4L1973.8 1598.6L1974.3 1600.5L1974.8 1602.4L1975.3 1604.1L1975.8 1605.8L1976.3 1607.2L1976.8 1608.3L1977.3 1609.2L1977.8 1609.8L1978.3 1610.0L1978.8 1609.8L1979.3 1609.1L1979.8 1608.0L1980.3 1606.6L1980.8 1604.8L1981.3 1602.8L1981.8 1600.4L1982.3 1597.9L1982.8 1595.2L1983.3 1592.3L1983.8 1589.3L1984.3 1586.2L1984.8 1583.0L1985.1 1581.2L1985.3 1579.8L1985.8 1575.6L1986.3 1570.4L1986.8 1564.6L1987.3 1558.3L1987.8 1552.0L1988.3 1545.8L1988.8 1540.0L1989.3 1535.0L1989.6 1532.4L1989.8 1530.8L1990.3 1527.0L1990.8 1523.4L1991.3 1519.9L1991.8 1516.5L1992.3 1513.3L1992.8 1510.2L1993.3 1507.2L1993.8 1504.4L1994.3 1501.7L1994.8 1499.0L1995.3 1496.5L1995.8 1494.1L1996.3 1491.7L1996.8 1489.4L1997.3 1487.2L1997.8 1485.0L1998.3 1482.8L1998.8 1480.7L1999.3 1478.6L1999.8 1476.6L2000.3 1474.6L2000.8 1472.7L2001.3 1470.9L2001.8 1469.1L2002.3 1467.4L2002.8 1465.8L2003.3 1464.3L2003.8 1462.8L2004.3 1461.5L2004.8 1460.2L2005.2 1459.2L2005.3 1459.0L2005.8 1457.9L2006.3 1456.8L2006.8 1455.7L2007.3 1454.7L2007.8 1453.6L2008.3 1452.7L2008.8 1451.7L2009.3 1450.8L2009.8 1449.9L2010.3 1449.1L2010.8 1448.3L2011.3 1447.6L2011.8 1446.9L2012.3 1446.3L2012.8 1445.7L2013.3 1445.2L2013.8 1444.8L2014.1 1444.6L2014.3 1444.4L2014.8 1444.1L2015.3 1443.7L2015.8 1443.4L2016.3 1443.1L2016.8 1442.8L2017.3 1442.4L2017.8 1442.1L2018.3 1441.9L2018.8 1441.6L2019.3 1441.3L2019.8 1441.1L2020.3 1440.8L2020.8 1440.6L2021.3 1440.4L2021.8 1440.3L2022.3 1440.1L2022.8 1440.0L2023.3 1439.9L2023.8 1439.8L2024.3 1439.7L2024.8 1439.7L2025.2 1439.7L2025.3 1439.7L2025.8 1439.7L2026.3 1439.7L2026.8 1439.8L2027.3 1439.8L2027.8 1439.9L2028.3 1440.0L2028.8 1440.1L2029.3 1440.2L2029.8 1440.3L2030.3 1440.5L2030.8 1440.6L2031.3 1440.8L2031.8 1441.0L2032.3 1441.1L2032.8 1441.3L2033.3 1441.5L2033.8 1441.8L2034.3 1442.0L2034.8 1442.2L2035.3 1442.4L2035.8 1442.7L2036.3 1442.9L2036.4 1443.0L2036.8 1443.2L2037.3 1443.5L2037.8 1443.9L2038.3 1444.4L2038.8 1444.9L2039.3 1445.5L2039.8 1446.1L2040.3 1446.8L2040.8 1447.5L2041.3 1448.3L2041.8 1449.1L2042.3 1450.0L2042.8 1450.9L2043.3 1451.8L2043.8 1452.8L2044.3 1453.8L2044.8 1454.9L2045.3 1456.0L2045.3 1456.0L2045.8 1457.2L2046.3 1458.5L2046.8 1460.1L2047.3 1461.8L2047.8 1463.7L2048.3 1465.7L2048.8 1467.8L2049.3 1470.0L2049.8 1472.4L2050.3 1474.8L2050.8 1477.3L2051.3 1479.9L2051.8 1482.6L2052.0 1483.6L2052.3 1485.3L2052.8 1488.4L2053.3 1491.8L2053.8 1495.4L2054.3 1499.2L2054.8 1503.1L2055.3 1507.1L2055.8 1511.2L2056.3 1515.3L2056.4 1516.1L2056.8 1519.5L2057.3 1524.2L2057.8 1529.2L2058.3 1534.3L2058.8 1539.4L2059.3 1544.3L2059.8 1548.8L2060.3 1552.8L2060.8 1556.2L2060.9 1556.8L2061.3 1559.0L2061.8 1561.7L2062.3 1564.2L2062.8 1566.6L2063.3 1568.7L2063.8 1570.7L2064.3 1572.3L2064.8 1573.7L2065.3 1574.7L2065.3 1574.7L2065.8 1575.5L2066.3 1576.2L2066.8 1576.9L2067.3 1577.6L2067.8 1578.2L2068.3 1578.6L2068.8 1579.0L2069.3 1579.3L2069.8 1579.5L2070.2 1579.6L2070.3 1579.5L2070.8 1579.3L2071.3 1578.8L2071.8 1578.0L2072.3 1577.0L2072.8 1575.8L2073.3 1574.5L2073.8 1573.0L2074.3 1571.4L2074.8 1569.8L2075.3 1568.2L2075.3 1568.2L2075.8 1566.2L2076.3 1563.7L2076.8 1560.8L2077.3 1557.6L2077.8 1554.1L2078.3 1550.4L2078.8 1546.6L2079.3 1542.9L2079.8 1539.4L2080.3 1536.0L2080.8 1533.0L2080.9 1532.4L2081.3 1530.2L2081.8 1527.5L2082.3 1524.9L2082.8 1522.4L2083.3 1519.9L2083.8 1517.5L2084.3 1515.1L2084.8 1512.7L2085.3 1510.4L2085.8 1508.1L2086.3 1505.8L2086.8 1503.5L2087.3 1501.2L2087.6 1499.8L2087.8 1498.9L2088.3 1496.6L2088.8 1494.4L2089.3 1492.1L2089.8 1489.9L2090.3 1487.6L2090.8 1485.4L2091.3 1483.3L2091.8 1481.1L2092.3 1479.0L2092.8 1476.8L2093.3 1474.7L2093.8 1472.6L2094.3 1470.6L2094.3 1470.6L2094.8 1468.4L2095.3 1466.2L2095.8 1463.9L2096.3 1461.6L2096.8 1459.3L2097.3 1457.0L2097.8 1454.8L2098.3 1452.7L2098.8 1450.7L2099.3 1448.9L2099.8 1447.4L2100.3 1446.0L2100.8 1444.9L2101.0 1444.6L2101.3 1444.1L2101.8 1443.3L2102.3 1442.6L2102.8 1441.9L2103.3 1441.2L2103.8 1440.6L2104.3 1440.0L2104.8 1439.4L2105.3 1438.9L2105.8 1438.4L2106.3 1437.9L2106.8 1437.4L2107.3 1437.0L2107.8 1436.6L2108.3 1436.2L2108.8 1435.9L2109.3 1435.5L2109.8 1435.2L2110.3 1434.9L2110.8 1434.6L2111.3 1434.4L2111.8 1434.1L2112.1 1434.0L2112.3 1433.9L2112.8 1433.7L2113.3 1433.5L2113.8 1433.3L2114.3 1433.1L2114.8 1432.9L2115.3 1432.7L2115.8 1432.5L2116.3 1432.4L2116.8 1432.2L2117.3 1432.0L2117.8 1431.9L2118.3 1431.7L2118.8 1431.6L2119.3 1431.4L2119.8 1431.3L2120.3 1431.2L2120.8 1431.0L2121.3 1430.9L2121.8 1430.8L2122.3 1430.7L2122.8 1430.6L2123.3 1430.4L2123.8 1430.3L2124.3 1430.2L2124.8 1430.1L2125.3 1430.0L2125.8 1429.9L2126.3 1429.8L2126.8 1429.7L2127.3 1429.6L2127.8 1429.5L2128.3 1429.4L2128.8 1429.3L2129.3 1429.2L2129.8 1429.1L2129.9 1429.1L2130.3 1429.0L2130.8 1428.9L2131.3 1428.8L2131.8 1428.7L2132.3 1428.6L2132.8 1428.5L2133.3 1428.4L2133.8 1428.3L2134.3 1428.2L2134.8 1428.1L2135.3 1428.0L2135.8 1427.9L2136.3 1427.8L2136.8 1427.7L2137.3 1427.6L2137.8 1427.5L2138.3 1427.4L2138.8 1427.3L2139.3 1427.2L2139.8 1427.1L2140.3 1427.1L2140.8 1427.0L2141.3 1426.9L2141.8 1426.8L2142.3 1426.8L2142.8 1426.7L2143.3 1426.7L2143.8 1426.6L2144.3 1426.6L2144.8 1426.5L2145.3 1426.5L2145.8 1426.5L2146.3 1426.4L2146.8 1426.4L2147.3 1426.4L2147.7 1426.4L2147.8 1426.4L2148.3 1426.5L2148.8 1426.7L2149.3 1426.9L2149.8 1427.2L2150.3 1427.6L2150.8 1428.1L2151.3 1428.5L2151.8 1429.0L2152.3 1429.5L2152.8 1430.0L2153.3 1430.5L2153.8 1431.0L2154.3 1431.4L2154.8 1431.8L2155.3 1432.0L2155.8 1432.2L2156.3 1432.4L2156.6 1432.4L2156.8 1432.4L2157.3 1432.4L2157.8 1432.3L2158.3 1432.2L2158.8 1432.1L2159.3 1432.0L2159.8 1431.8L2160.3 1431.6L2160.8 1431.4L2161.3 1431.2L2161.8 1431.0L2162.3 1430.8L2162.8 1430.6L2163.3 1430.3L2163.8 1430.1L2164.3 1429.9L2164.8 1429.7L2165.3 1429.5L2165.8 1429.3L2166.3 1429.1L2166.8 1428.9L2167.3 1428.7L2167.8 1428.6L2168.3 1428.5L2168.8 1428.4L2169.3 1428.3L2169.8 1428.3L2170.0 1428.3L2170.3 1428.3L2170.8 1428.4L2171.3 1428.5L2171.8 1428.6L2172.3 1428.8L2172.8 1429.0L2173.3 1429.3L2173.8 1429.6L2174.3 1429.9L2174.8 1430.2L2175.3 1430.6L2175.8 1430.9L2176.3 1431.3L2176.7 1431.6L2176.8 1431.7L2177.3 1432.1L2177.8 1432.6L2178.3 1433.2L2178.8 1433.9L2179.3 1434.7L2179.8 1435.5L2180.3 1436.4L2180.8 1437.3L2181.3 1438.3L2181.8 1439.4L2182.3 1440.4L2182.8 1441.5L2183.3 1442.6L2183.8 1443.8L2184.3 1444.9L2184.8 1446.0L2185.3 1447.2L2185.6 1447.9L2185.8 1448.3L2186.3 1449.5L2186.8 1450.8L2187.3 1452.1L2187.8 1453.4L2188.3 1454.8L2188.8 1456.3L2189.3 1457.8L2189.8 1459.3L2190.3 1460.8L2190.8 1462.4L2191.3 1464.0L2191.8 1465.7L2192.3 1467.4L2192.3 1467.4L2192.8 1469.2L2193.3 1471.3L2193.8 1473.6L2194.3 1476.0L2194.8 1478.5L2195.3 1481.0L2195.8 1483.5L2196.3 1485.8L2196.8 1488.0L2197.3 1489.8L2197.8 1491.4L2198.3 1492.6L2198.8 1493.3L2198.9 1493.3L2199.3 1493.6L2199.8 1493.9L2200.3 1494.2L2200.8 1494.5L2201.3 1494.7L2201.8 1494.9L2202.3 1495.1L2202.8 1495.3L2203.3 1495.4L2203.8 1495.6L2204.3 1495.7L2204.8 1495.9L2205.3 1496.0L2205.8 1496.1L2206.3 1496.2L2206.8 1496.3L2207.3 1496.5L2207.8 1496.6L2207.9 1496.6L2208.3 1496.7L2208.8 1496.9L2209.3 1497.0L2209.8 1497.2L2210.3 1497.3L2210.8 1497.4L2211.3 1497.6L2211.8 1497.7L2212.3 1497.9L2212.8 1498.0L2213.3 1498.1L2213.8 1498.3L2214.3 1498.4L2214.8 1498.5L2215.3 1498.7L2215.8 1498.8L2216.3 1498.9L2216.8 1499.0L2217.3 1499.1L2217.8 1499.2L2218.3 1499.3L2218.8 1499.4L2219.3 1499.5L2219.8 1499.6L2220.3 1499.6L2220.8 1499.7L2221.3 1499.7L2221.8 1499.8L2222.3 1499.8L2222.8 1499.8L2223.3 1499.8L2223.4 1499.8L2223.8 1499.8L2224.3 1499.8L2224.8 1499.7L2225.3 1499.5L2225.8 1499.3L2226.3 1499.1L2226.8 1498.9L2227.3 1498.6L2227.8 1498.3L2228.3 1498.0L2228.8 1497.7L2229.3 1497.4L2229.8 1497.1L2230.3 1496.7L2230.8 1496.4L2231.3 1496.0L2231.8 1495.7L2231.9 1495.6L2232.3 1495.3L2232.8 1495.0L2233.3 1494.6L2233.8 1494.2L2234.3 1493.7L2234.8 1493.3L2235.3 1492.8L2235.8 1492.3L2236.3 1491.8L2236.8 1491.2L2237.3 1490.7L2237.8 1490.1L2238.3 1489.5L2238.8 1488.9L2239.3 1488.2L2239.8 1487.6L2239.8 1487.6L2240.3 1486.9L2240.8 1486.1L2241.3 1485.2L2241.8 1484.3L2242.3 1483.3L2242.8 1482.3L2243.3 1481.3L2243.8 1480.3L2244.3 1479.3L2244.8 1478.4L2245.3 1477.4L2245.8 1476.5L2246.1 1476.0L2246.3 1475.7L2246.8 1474.9L2247.3 1474.0L2247.8 1473.1L2248.3 1472.2L2248.8 1471.3L2249.3 1470.4L2249.8 1469.6L2250.3 1468.9L2250.8 1468.2L2251.3 1467.7L2251.8 1467.2L2252.3 1466.9L2252.4 1466.8L2252.8 1466.7L2253.3 1466.5L2253.8 1466.3L2254.3 1466.2L2254.8 1466.1L2255.3 1466.0L2255.8 1465.9L2256.3 1465.8L2256.8 1465.7L2257.3 1465.5L2257.8 1465.4L2258.3 1465.2L2258.7 1465.1L2258.8 1465.0L2259.3 1464.8L2259.8 1464.5L2260.3 1464.1L2260.8 1463.7L2261.3 1463.3L2261.8 1462.8L2262.3 1462.4L2262.8 1461.9L2263.3 1461.4L2263.8 1460.9L2264.3 1460.4L2264.8 1460.0L2265.3 1459.6L2265.8 1459.2L2266.3 1458.9L2266.6 1458.7L2266.8 1458.6L2267.3 1458.4L2267.8 1458.1L2268.3 1457.9L2268.8 1457.6L2269.3 1457.3L2269.8 1457.1L2270.3 1456.8L2270.8 1456.6L2271.3 1456.4L2271.8 1456.2L2272.3 1455.9L2272.8 1455.7L2273.3 1455.6L2273.8 1455.4L2274.3 1455.2L2274.8 1455.1L2275.3 1455.0L2275.8 1454.9L2276.3 1454.8L2276.8 1454.8L2277.3 1454.7L2277.6 1454.7L2277.8 1454.7L2278.3 1454.8L2278.8 1454.9L2279.3 1455.2L2279.8 1455.4L2280.3 1455.8L2280.8 1456.2L2281.3 1456.6L2281.8 1457.1L2282.3 1457.7L2282.8 1458.3L2283.3 1458.9L2283.8 1459.6L2284.0 1459.9L2284.3 1460.4L2284.8 1461.8L2285.3 1463.5L2285.8 1465.6L2286.3 1467.8L2286.8 1470.1L2287.1 1471.4L2287.3 1472.4L2287.8 1475.4L2288.3 1478.8L2288.8 1482.3L2289.3 1485.3L2289.8 1487.6L2290.3 1488.7L2290.3 1488.7L2290.8 1488.9L2291.3 1489.1L2291.8 1489.2L2292.3 1489.3L2292.8 1489.4L2293.3 1489.5L2293.8 1489.6L2294.2 1489.8L2294.3 1489.9L2294.8 1491.2L2295.3 1493.7L2295.8 1497.2L2296.3 1501.2L2296.8 1505.7L2297.3 1510.2L2297.8 1514.4L2298.2 1517.5L2298.3 1518.2L2298.8 1521.8L2299.3 1525.4L2299.8 1529.1L2300.3 1532.8L2300.8 1536.5L2301.3 1540.2L2301.8 1543.9L2302.3 1547.6L2302.8 1551.3L2302.9 1552.0L2303.3 1555.1L2303.8 1559.0L2304.3 1563.1L2304.8 1567.2L2305.3 1571.3L2305.8 1575.2L2306.3 1578.8L2306.8 1582.2L2307.3 1585.1L2307.6 1586.6L2307.8 1587.5L2308.3 1589.9L2308.8 1592.2L2309.3 1594.5L2309.8 1596.7L2310.3 1598.8L2310.8 1600.6L2311.3 1602.2L2311.8 1603.5L2312.3 1604.4L2312.8 1604.9L2313.1 1605.0L2313.3 1604.8L2313.8 1602.5L2314.3 1598.4L2314.8 1593.0L2315.3 1587.0L2315.8 1581.2L2316.3 1576.2L2316.8 1572.7L2317.1 1571.6L2317.3 1571.2L2317.8 1570.1L2318.3 1569.2L2318.8 1568.4L2319.3 1567.6L2319.8 1567.0L2320.3 1566.5L2320.8 1566.1L2321.3 1565.9L2321.8 1565.8L2321.8 1565.8L2322.3 1566.3L2322.8 1567.4L2323.3 1569.0L2323.8 1570.6L2324.3 1571.9L2324.8 1572.7L2325.0 1572.8L2325.3 1572.6L2325.8 1571.6L2326.3 1569.7L2326.8 1567.2L2327.3 1564.0L2327.8 1560.3L2328.3 1556.2L2328.8 1551.8L2329.3 1547.2L2329.8 1542.5L2330.3 1537.9L2330.8 1533.3L2331.3 1529.0L2331.3 1529.0L2331.8 1524.3L2332.3 1518.6L2332.8 1512.3L2333.3 1505.6L2333.8 1498.8L2334.3 1492.2L2334.8 1486.2L2335.3 1480.9L2335.8 1476.6L2336.3 1473.8L2336.8 1472.5L2336.8 1472.5L2337.3 1472.2L2337.8 1472.0L2338.3 1471.8L2338.8 1471.6L2339.3 1471.5L2339.8 1471.4L2340.0 1471.4" fill="none" stroke="#0000ff" stroke-width="5" stroke-linejoin="round" stroke-linecap="round"/>
<path d="M1397.0 1291.5L1398.0 1292.9L1399.0 1288.2L1400.0 1291.7L1401.0 1293.6L1402.0 1294.5L1403.0 1294.2L1404.0 1295.7L1405.0 1294.7L1406.0 1295.4L1407.0 1295.3L1408.0 1294.1L1409.0 1294.6L1409.5 1296.2L1410.0 1295.1L1411.0 1297.5L1412.0 1297.6L1413.0 1298.4L1414.0 1296.3L1415.0 1298.1L1416.0 1295.5L1417.0 1295.7L1418.0 1296.9L1419.0 1297.3L1420.0 1295.1L1421.0 1295.1L1422.0 1297.7L1423.0 1296.3L1424.0 1298.9L1425.0 1298.0L1426.0 1298.0L1427.0 1298.0L1428.0 1298.9L1429.0 1297.7L1430.0 1299.3L1431.0 1297.4L1432.0 1297.8L1433.0 1297.3L1434.0 1298.9L1435.0 1298.3L1436.0 1297.2L1437.0 1300.8L1438.0 1297.9L1439.0 1298.3L1440.0 1298.9L1441.0 1300.6L1442.0 1298.3L1443.0 1299.3L1444.0 1298.6L1445.0 1296.7L1445.8 1299.5L1446.0 1299.7L1447.0 1298.2L1448.0 1298.5L1449.0 1296.6L1450.0 1296.6L1451.0 1298.0L1452.0 1299.2L1453.0 1297.8L1454.0 1298.7L1455.0 1299.5L1456.0 1298.4L1457.0 1298.9L1458.0 1299.9L1459.0 1296.6L1460.0 1299.0L1461.0 1295.7L1462.0 1298.5L1463.0 1298.1L1464.0 1297.1L1465.0 1296.4L1466.0 1297.6L1467.0 1297.1L1468.0 1297.6L1469.0 1296.3L1470.0 1298.0L1471.0 1296.0L1472.0 1296.8L1473.0 1296.6L1474.0 1298.5L1475.0 1295.0L1476.0 1296.3L1477.0 1298.2L1478.0 1295.8L1479.0 1295.0L1480.0 1296.8L1481.0 1295.9L1482.0 1297.2L1483.0 1295.0L1484.0 1296.2L1485.0 1296.7L1486.0 1297.1L1487.0 1294.3L1488.0 1297.4L1489.0 1294.4L1490.0 1293.5L1491.0 1294.1L1492.0 1295.4L1493.0 1294.7L1494.0 1295.6L1495.0 1295.5L1496.0 1295.2L1497.0 1294.4L1498.0 1296.9L1499.0 1291.8L1500.0 1292.3L1501.0 1293.7L1501.6 1292.7L1502.0 1291.1L1503.0 1293.2L1504.0 1293.1L1505.0 1290.9L1506.0 1295.0L1507.0 1295.4L1508.0 1295.2L1509.0 1292.9L1510.0 1293.6L1511.0 1291.9L1512.0 1293.5L1513.0 1292.3L1514.0 1293.5L1515.0 1292.4L1516.0 1294.0L1517.0 1293.6L1518.0 1294.0L1519.0 1290.3L1520.0 1289.9L1521.0 1292.6L1522.0 1291.2L1523.0 1292.3L1524.0 1292.0L1525.0 1291.8L1526.0 1292.5L1527.0 1292.0L1528.0 1291.7L1529.0 1289.9L1530.0 1293.0L1531.0 1290.9L1532.0 1292.0L1533.0 1290.8L1534.0 1291.9L1535.0 1290.3L1536.0 1290.3L1537.0 1290.1L1538.0 1288.9L1539.0 1288.9L1540.0 1289.3L1541.0 1289.2L1542.0 1288.0L1543.0 1292.1L1544.0 1287.7L1545.0 1288.5L1546.0 1291.8L1547.0 1287.8L1548.0 1289.5L1549.0 1289.2L1550.0 1288.0L1551.0 1286.4L1552.0 1286.1L1553.0 1287.9L1554.0 1288.4L1555.0 1285.0L1556.0 1287.9L1557.0 1286.8L1558.0 1288.6L1559.0 1287.6L1560.0 1286.3L1561.0 1286.7L1562.0 1287.3L1563.0 1288.9L1564.0 1291.0L1565.0 1287.5L1566.0 1287.2L1567.0 1287.9L1568.0 1287.0L1569.0 1287.8L1570.0 1287.4L1571.0 1286.9L1572.0 1285.9L1573.0 1287.1L1574.0 1288.1L1574.1 1287.0L1575.0 1288.9L1576.0 1288.3L1577.0 1287.2L1578.0 1289.9L1579.0 1286.6L1580.0 1290.0L1581.0 1291.4L1582.0 1289.2L1583.0 1290.0L1584.0 1291.9L1585.0 1293.1L1586.0 1292.4L1587.0 1292.6L1588.0 1294.0L1589.0 1293.6L1590.0 1292.1L1591.0 1293.8L1592.0 1294.2L1593.0 1292.5L1593.6 1295.0L1594.0 1293.5L1595.0 1295.5L1596.0 1292.6L1597.0 1293.4L1598.0 1292.7L1599.0 1296.3L1600.0 1296.3L1601.0 1296.6L1602.0 1296.7L1603.0 1296.0L1604.0 1296.0L1605.0 1292.7L1606.0 1295.3L1607.0 1294.3L1608.0 1294.5L1609.0 1293.4L1610.0 1296.7L1611.0 1295.2L1612.0 1293.1L1613.0 1295.7L1614.0 1295.0L1615.0 1293.7L1616.0 1294.7L1617.0 1294.1L1618.0 1292.1L1619.0 1293.1L1620.0 1295.7L1621.0 1295.5L1622.0 1295.4L1623.0 1293.6L1624.0 1294.3L1625.0 1295.2L1626.0 1296.0L1627.0 1294.0L1628.0 1293.8L1629.0 1296.6L1630.0 1295.2L1631.0 1294.7L1632.0 1294.2L1633.0 1294.3L1634.0 1297.2L1635.0 1296.5L1636.0 1294.6L1637.0 1293.6L1638.0 1297.4L1639.0 1297.2L1640.0 1296.8L1641.0 1296.3L1642.0 1292.7L1643.0 1293.5L1644.0 1295.9L1645.0 1294.8L1646.0 1295.5L1647.0 1294.4L1648.0 1294.2L1649.0 1295.8L1650.0 1294.5L1651.0 1295.0L1652.0 1295.3L1653.0 1295.2L1654.0 1296.3L1655.0 1296.6L1656.0 1292.9L1657.0 1294.3L1658.0 1293.7L1659.0 1295.5L1660.0 1293.0L1661.0 1295.4L1662.0 1295.2L1663.0 1295.0L1664.0 1292.9L1665.0 1293.8L1666.0 1292.6L1667.0 1294.5L1668.0 1295.1L1669.0 1291.8L1670.0 1292.6L1671.0 1293.4L1672.0 1292.9L1673.0 1295.5L1674.0 1293.2L1675.0 1293.7L1676.0 1291.8L1677.0 1295.2L1678.0 1293.4L1679.0 1294.1L1680.0 1293.1L1681.0 1290.1L1682.0 1290.8L1683.0 1291.1L1684.0 1293.4L1685.0 1292.0L1686.0 1293.2L1687.0 1293.0L1688.0 1292.9L1689.0 1293.8L1690.0 1292.8L1691.0 1290.3L1692.0 1291.6L1693.0 1294.6L1694.0 1291.0L1695.0 1294.2L1696.0 1294.6L1696.8 1291.6L1697.0 1292.9L1698.0 1290.5L1699.0 1293.4L1700.0 1291.4L1701.0 1290.7L1702.0 1291.9L1703.0 1291.8L1704.0 1291.7L1705.0 1292.7L1706.0 1292.2L1707.0 1291.6L1708.0 1293.8L1709.0 1295.7L1710.0 1292.6L1711.0 1291.6L1712.0 1291.3L1713.0 1293.4L1714.0 1292.3L1715.0 1292.7L1716.0 1290.0L1717.0 1291.2L1718.0 1291.2L1719.0 1294.1L1720.0 1292.5L1721.0 1289.6L1722.0 1293.6L1723.0 1294.5L1724.0 1294.8L1725.0 1289.3L1726.0 1293.4L1727.0 1294.3L1728.0 1294.1L1729.0 1293.0L1730.0 1291.0L1731.0 1292.9L1732.0 1293.1L1733.0 1294.4L1734.0 1294.6L1735.0 1293.4L1736.0 1295.0L1737.0 1292.5L1738.0 1293.1L1739.0 1294.1L1740.0 1295.0L1741.0 1293.9L1742.0 1296.1L1743.0 1295.1L1744.0 1293.4L1745.0 1294.9L1746.0 1293.7L1747.0 1293.7L1748.0 1293.2L1749.0 1297.1L1750.0 1296.6L1751.0 1293.3L1752.0 1297.1L1752.6 1297.0L1753.0 1295.3L1754.0 1296.9L1755.0 1299.8L1756.0 1298.0L1757.0 1299.2L1758.0 1301.3L1759.0 1299.6L1760.0 1300.5L1761.0 1301.6L1762.0 1304.7L1763.0 1307.2L1763.8 1305.7L1764.0 1305.3L1765.0 1308.5L1766.0 1308.9L1767.0 1311.5L1768.0 1311.7L1769.0 1312.9L1770.0 1314.4L1771.0 1315.8L1772.0 1315.8L1773.0 1316.8L1774.0 1321.8L1775.0 1325.0L1776.0 1323.5L1777.0 1320.9L1778.0 1324.2L1779.0 1326.8L1780.0 1323.8L1780.5 1325.8L1781.0 1326.3L1782.0 1326.5L1783.0 1327.4L1784.0 1330.8L1785.0 1329.6L1786.0 1330.7L1787.0 1334.1L1788.0 1331.2L1789.0 1330.2L1790.0 1334.1L1791.0 1336.2L1791.7 1333.8L1792.0 1333.9L1793.0 1331.7L1794.0 1332.2L1795.0 1335.5L1796.0 1335.2L1797.0 1334.3L1798.0 1332.6L1799.0 1331.8L1800.0 1332.0L1801.0 1331.8L1802.0 1334.3L1803.0 1332.4L1804.0 1332.8L1805.0 1334.4L1806.0 1334.4L1807.0 1333.5L1808.0 1334.1L1809.0 1333.4L1810.0 1330.7L1811.0 1333.3L1812.0 1332.8L1813.0 1332.9L1814.0 1333.7L1815.0 1332.6L1816.0 1335.1L1817.0 1333.2L1818.0 1333.6L1819.0 1333.9L1820.0 1333.2L1821.0 1334.3L1822.0 1334.5L1822.4 1334.3L1823.0 1332.4L1824.0 1332.2L1825.0 1332.6L1826.0 1333.5L1827.0 1331.0L1828.0 1332.5L1829.0 1332.2L1830.0 1333.0L1831.0 1332.9L1832.0 1335.4L1833.0 1335.1L1834.0 1336.0L1835.0 1333.5L1836.0 1334.0L1837.0 1334.9L1838.0 1337.8L1839.0 1338.1L1840.0 1335.1L1841.0 1337.1L1842.0 1339.5L1843.0 1335.3L1844.0 1336.7L1845.0 1339.0L1846.0 1338.4L1847.0 1336.2L1848.0 1339.9L1849.0 1339.4L1850.0 1339.1L1851.0 1336.6L1852.0 1338.3L1853.0 1340.5L1854.0 1339.5L1855.0 1340.0L1856.0 1338.6L1857.0 1341.2L1858.0 1338.8L1859.0 1340.5L1860.0 1339.6L1861.0 1337.8L1862.0 1341.3L1863.0 1337.4L1864.0 1338.1L1865.0 1339.3L1866.0 1337.0L1867.0 1336.4L1868.0 1338.7L1869.0 1338.2L1870.0 1338.3L1871.0 1339.3L1872.0 1341.6L1873.0 1337.8L1874.0 1341.7L1875.0 1338.5L1876.0 1337.8L1877.0 1334.0L1878.0 1335.5L1879.0 1337.9L1880.0 1338.2L1881.0 1336.1L1882.0 1337.5L1883.0 1338.2L1884.0 1336.0L1885.0 1334.4L1886.0 1335.1L1887.0 1335.9L1888.0 1336.6L1889.0 1337.1L1890.0 1334.6L1891.0 1335.8L1892.0 1335.2L1893.0 1335.5L1894.0 1336.9L1895.0 1337.0L1896.0 1334.4L1897.0 1334.1L1898.0 1333.8L1899.0 1333.9L1900.0 1334.0L1901.0 1334.2L1902.0 1333.6L1903.0 1332.6L1904.0 1332.3L1905.0 1333.9L1906.0 1337.1L1907.0 1334.3L1908.0 1334.3L1909.0 1333.7L1910.0 1332.8L1911.0 1335.7L1912.0 1332.2L1913.0 1331.1L1914.0 1330.6L1915.0 1332.4L1916.0 1330.6L1917.0 1330.6L1918.0 1330.4L1919.0 1329.6L1920.0 1331.5L1921.0 1328.7L1922.0 1334.2L1923.0 1326.8L1924.0 1328.6L1925.0 1330.5L1926.0 1330.9L1927.0 1329.6L1928.0 1330.4L1929.0 1330.1L1930.0 1329.8L1931.0 1330.4L1932.0 1329.7L1933.0 1329.1L1934.0 1328.9L1935.0 1330.3L1936.0 1328.6L1937.0 1329.6L1938.0 1330.9L1939.0 1329.1L1940.0 1330.2L1941.0 1327.8L1942.0 1328.7L1943.0 1328.9L1944.0 1328.5L1945.0 1328.8L1946.0 1330.1L1947.0 1327.5L1948.0 1327.0L1949.0 1328.4L1950.0 1325.8L1951.0 1327.9L1951.1 1329.6L1952.0 1327.9L1953.0 1328.7L1954.0 1328.5L1955.0 1329.7L1956.0 1328.8L1957.0 1328.4L1958.0 1323.4L1959.0 1327.5L1960.0 1329.4L1961.0 1328.2L1962.0 1327.5L1963.0 1330.0L1964.0 1327.5L1965.0 1328.5L1966.0 1330.1L1967.0 1328.5L1968.0 1329.7L1969.0 1329.6L1970.0 1328.1L1971.0 1329.2L1972.0 1329.7L1973.0 1329.5L1973.9 1332.2L1974.0 1330.6L1975.0 1330.1L1976.0 1329.7L1977.0 1332.1L1978.0 1335.4L1979.0 1334.1L1980.0 1336.7L1981.0 1337.3L1982.0 1336.8L1983.0 1336.9L1984.0 1339.6L1985.0 1336.6L1985.3 1339.9L1986.0 1337.4L1987.0 1340.3L1988.0 1338.5L1989.0 1338.9L1990.0 1340.6L1991.0 1337.5L1992.0 1339.0L1993.0 1338.4L1994.0 1339.6L1995.0 1339.9L1996.0 1339.2L1997.0 1339.0L1998.0 1338.0L1999.0 1339.4L2000.0 1338.2L2001.0 1338.6L2002.0 1338.6L2003.0 1336.3L2004.0 1336.6L2005.0 1338.5L2006.0 1338.1L2007.0 1339.9L2008.0 1334.5L2009.0 1338.3L2010.0 1339.5L2011.0 1338.0L2012.0 1339.0L2013.0 1337.8L2014.0 1337.7L2015.0 1339.1L2016.0 1335.9L2016.6 1334.5L2017.0 1338.5L2018.0 1338.0L2019.0 1338.0L2020.0 1338.3L2021.0 1338.9L2022.0 1337.4L2023.0 1338.9L2024.0 1338.8L2025.0 1336.8L2026.0 1338.4L2027.0 1339.2L2028.0 1337.8L2029.0 1340.7L2030.0 1338.9L2031.0 1340.7L2032.0 1341.8L2033.0 1337.6L2034.0 1338.0L2035.0 1341.0L2036.0 1340.0L2037.0 1341.1L2038.0 1343.0L2039.0 1339.8L2040.0 1341.9L2041.0 1340.3L2042.0 1339.7L2042.2 1341.4L2043.0 1341.0L2044.0 1342.0L2045.0 1340.4L2046.0 1340.7L2047.0 1339.5L2048.0 1335.5L2049.0 1336.7L2050.0 1335.9L2051.0 1336.8L2052.0 1333.1L2053.0 1334.0L2054.0 1332.4L2055.0 1329.6L2056.0 1331.5L2057.0 1332.1L2058.0 1330.3L2059.0 1332.1L2059.3 1331.3L2060.0 1331.2L2061.0 1330.3L2062.0 1331.2L2063.0 1332.8L2064.0 1332.8L2065.0 1331.8L2066.0 1334.3L2067.0 1336.1L2068.0 1338.2L2069.0 1338.8L2070.0 1337.1L2071.0 1340.4L2072.0 1337.8L2073.0 1340.0L2074.0 1340.3L2075.0 1344.2L2076.0 1343.1L2076.4 1342.5L2077.0 1341.1L2078.0 1343.6L2079.0 1340.9L2080.0 1341.2L2081.0 1341.3L2082.0 1338.2L2083.0 1338.4L2084.0 1333.6L2085.0 1336.4L2086.0 1332.0L2087.0 1334.3L2088.0 1333.4L2089.0 1333.2L2090.0 1335.6L2090.6 1328.4L2091.0 1332.8L2092.0 1331.5L2093.0 1333.3L2094.0 1332.7L2095.0 1332.5L2096.0 1331.6L2097.0 1331.4L2098.0 1333.2L2099.0 1330.3L2100.0 1334.7L2101.0 1332.1L2102.0 1334.1L2103.0 1331.4L2104.0 1334.6L2105.0 1333.5L2106.0 1335.7L2107.0 1336.9L2108.0 1333.7L2109.0 1335.3L2110.0 1335.9L2111.0 1338.8L2112.0 1333.3L2113.0 1337.7L2114.0 1336.8L2115.0 1334.5L2116.0 1336.9L2117.0 1336.5L2118.0 1341.1L2119.0 1336.7L2120.0 1341.8L2121.0 1338.7L2122.0 1342.0L2123.0 1336.5L2124.0 1339.4L2125.0 1342.3L2126.0 1340.0L2127.0 1338.8L2128.0 1343.6L2129.0 1346.3L2130.0 1344.7L2130.5 1344.4L2131.0 1346.5L2132.0 1345.3L2133.0 1350.8L2134.0 1353.2L2135.0 1348.0L2136.0 1356.7L2137.0 1357.1L2138.0 1356.9L2139.0 1358.5L2140.0 1360.7L2141.0 1362.1L2142.0 1361.0L2143.0 1355.1L2144.0 1359.6L2145.0 1350.2L2146.0 1357.6L2147.0 1356.6L2148.0 1357.0L2149.0 1350.9L2150.0 1357.5L2151.0 1356.5L2152.0 1352.8L2153.0 1347.4L2154.0 1352.3L2155.0 1348.3L2156.0 1345.8L2157.0 1348.0L2158.0 1357.0L2159.0 1345.2L2160.0 1348.4L2161.0 1349.9L2161.8 1352.2L2162.0 1346.3L2163.0 1346.5L2164.0 1352.6L2165.0 1351.3L2166.0 1355.1L2167.0 1348.8L2168.0 1353.1L2169.0 1357.5L2170.0 1356.4L2171.0 1353.9L2172.0 1359.1L2173.0 1354.3L2174.0 1359.1L2175.0 1365.1L2176.0 1366.6L2177.0 1366.2L2178.0 1368.0L2179.0 1362.0L2180.0 1365.2L2181.0 1370.8L2181.8 1374.7L2182.0 1369.0L2183.0 1364.8L2184.0 1364.6L2185.0 1371.2L2186.0 1370.7L2187.0 1363.5L2188.0 1367.5L2189.0 1371.1L2190.0 1371.0L2191.0 1364.8L2192.0 1365.6L2193.0 1367.4L2194.0 1362.3L2195.0 1360.4L2196.0 1363.1L2197.0 1368.7L2198.0 1368.1L2199.0 1366.0L2200.0 1360.6L2201.0 1358.0L2202.0 1360.7L2203.0 1363.8L2204.0 1366.8L2205.0 1360.7L2206.0 1363.6L2207.0 1357.7L2207.4 1356.7L2208.0 1363.3L2209.0 1359.8L2210.0 1360.7L2211.0 1357.4L2212.0 1367.8L2213.0 1360.4L2214.0 1367.0L2215.0 1363.1L2216.0 1367.6L2217.0 1374.0L2218.0 1371.5L2219.0 1372.0L2220.0 1375.3L2221.0 1374.8L2222.0 1378.1L2223.0 1369.5L2224.0 1378.7L2224.5 1374.6L2225.0 1371.1L2226.0 1376.1L2227.0 1375.6L2228.0 1373.5L2229.0 1375.7L2230.0 1368.1L2231.0 1366.2L2232.0 1368.7L2233.0 1373.2L2234.0 1370.4L2235.0 1367.7L2236.0 1364.6L2237.0 1365.6L2238.0 1368.2L2239.0 1361.7L2240.0 1360.5L2241.0 1362.8L2242.0 1362.5L2243.0 1360.0L2244.0 1363.4L2245.0 1358.7L2246.0 1354.3L2247.0 1349.8L2248.0 1360.3L2249.0 1355.7L2250.0 1357.2L2250.1 1357.7L2251.0 1360.7L2252.0 1360.3L2253.0 1361.0L2254.0 1359.8L2255.0 1359.6L2256.0 1362.7L2257.0 1360.8L2258.0 1366.4L2259.0 1370.4L2260.0 1371.0L2261.0 1370.9L2262.0 1369.1L2263.0 1370.5L2264.0 1372.2L2265.0 1374.1L2266.0 1377.5L2267.0 1377.9L2267.2 1378.2L2268.0 1379.3L2269.0 1371.6L2270.0 1372.0L2271.0 1371.8L2272.0 1369.7L2273.0 1361.7L2274.0 1358.5L2275.0 1361.6L2276.0 1357.6L2277.0 1354.9L2278.0 1351.4L2278.6 1349.0L2279.0 1352.1L2280.0 1353.9L2281.0 1355.9L2282.0 1358.9L2283.0 1358.7L2284.0 1364.8L2285.0 1362.0L2286.0 1366.5L2287.0 1367.7L2288.0 1363.3L2289.0 1366.0L2290.0 1368.9L2291.0 1370.9L2292.0 1370.7L2293.0 1372.7L2294.0 1366.9L2295.0 1364.2L2296.0 1364.6L2297.0 1357.7L2298.0 1359.2L2299.0 1354.9L2300.0 1357.0L2301.0 1353.4L2302.0 1353.7L2302.8 1361.2L2303.0 1358.6L2304.0 1365.0L2305.0 1361.0L2306.0 1364.6L2307.0 1367.6L2308.0 1374.7L2309.0 1372.2L2309.9 1379.3L2310.0 1377.2L2311.0 1373.8L2312.0 1370.5L2313.0 1370.8L2314.0 1369.3L2315.0 1367.2L2316.0 1358.5L2317.0 1360.7L2318.0 1359.4L2319.0 1364.1L2319.9 1357.4L2320.0 1359.3L2321.0 1355.9L2322.0 1363.2L2323.0 1367.6L2324.0 1375.1L2325.0 1387.5L2326.0 1392.2L2327.0 1403.4L2328.0 1401.5L2328.4 1403.3L2329.0 1394.8L2330.0 1383.0L2331.0 1378.9L2331.2 1374.0L2332.0 1380.5L2333.0 1373.5L2334.0 1373.3L2335.0 1382.8L2336.0 1370.7L2337.0 1374.8L2338.0 1378.5L2339.0 1379.0L2340.0 1373.4L2341.0 1384.9L2341.2 1376.1" fill="none" stroke="#ff0000" stroke-width="4.6" stroke-linejoin="round" stroke-linecap="round"/>
<path d="M1396.5 1157.3L1397.5 1157.7L1398.5 1159.0L1399.5 1158.6L1400.5 1157.4L1401.5 1158.6L1402.5 1158.4L1403.5 1159.0L1404.5 1158.2L1405.5 1159.5L1406.5 1159.7L1407.5 1160.7L1408.5 1160.2L1409.5 1160.6L1410.5 1159.6L1411.5 1162.0L1412.5 1159.9L1413.5 1161.9L1414.0 1161.1L1414.5 1160.9L1415.5 1161.3L1416.5 1161.6L1417.5 1162.5L1418.5 1162.4L1419.5 1163.6L1420.5 1162.0L1421.5 1163.4L1422.5 1163.1L1423.5 1164.4L1424.5 1163.1L1425.5 1164.4L1426.5 1165.1L1427.5 1164.5L1428.5 1166.3L1429.5 1166.3L1430.5 1167.2L1431.5 1167.7L1432.5 1167.0L1433.5 1167.6L1434.5 1168.4L1435.5 1169.4L1436.5 1170.0L1437.5 1169.5L1438.5 1169.9L1439.0 1170.0L1439.5 1170.3L1440.5 1170.8L1441.5 1171.2L1442.5 1172.9L1443.5 1171.7L1444.5 1172.1L1445.5 1172.9L1446.5 1172.3L1447.5 1173.0L1448.5 1173.5L1449.5 1174.2L1450.5 1173.3L1451.5 1175.1L1452.5 1174.4L1453.5 1175.0L1454.5 1175.6L1455.5 1175.8L1456.5 1176.3L1457.5 1176.0L1458.5 1176.2L1459.5 1176.7L1460.5 1176.2L1461.5 1177.8L1462.5 1176.9L1463.5 1176.9L1464.0 1179.0L1464.5 1177.8L1465.5 1177.5L1466.5 1179.6L1467.5 1178.7L1468.5 1179.9L1469.5 1179.1L1470.5 1179.9L1471.5 1179.4L1472.5 1179.6L1473.5 1180.6L1474.5 1181.5L1475.5 1182.4L1476.5 1183.7L1477.5 1182.0L1478.5 1183.5L1479.5 1182.9L1480.5 1183.5L1481.5 1183.0L1482.5 1183.3L1483.5 1183.9L1484.5 1183.9L1485.5 1184.7L1486.5 1184.5L1487.5 1185.7L1488.5 1185.1L1489.0 1185.2L1489.5 1185.7L1490.5 1185.4L1491.5 1185.1L1492.5 1185.1L1493.5 1185.1L1494.5 1185.8L1495.5 1185.6L1496.5 1185.4L1497.5 1185.7L1498.5 1184.9L1499.5 1185.5L1500.5 1184.4L1501.5 1186.1L1502.5 1185.3L1503.5 1185.4L1504.5 1185.7L1505.5 1185.3L1506.5 1185.2L1507.5 1186.0L1508.5 1185.4L1509.5 1184.8L1510.5 1185.6L1511.5 1184.4L1512.5 1186.3L1513.5 1185.3L1514.5 1185.4L1515.5 1186.7L1516.5 1186.7L1517.5 1185.5L1518.5 1185.8L1519.5 1186.0L1520.5 1186.4L1521.5 1185.3L1522.5 1185.5L1523.5 1186.1L1524.5 1185.6L1525.5 1185.9L1526.5 1185.8L1527.5 1184.8L1528.5 1184.9L1529.5 1183.8L1530.5 1185.2L1531.5 1186.0L1532.5 1184.5L1533.5 1185.8L1534.5 1185.6L1535.5 1184.8L1536.5 1184.7L1537.5 1184.6L1538.5 1184.0L1539.5 1184.1L1540.5 1184.1L1541.5 1184.3L1542.5 1184.3L1543.5 1183.2L1544.5 1183.9L1545.5 1182.8L1546.5 1183.0L1547.5 1183.1L1548.5 1182.6L1549.5 1182.4L1550.5 1182.4L1551.5 1181.7L1552.5 1181.4L1553.5 1181.5L1554.5 1182.0L1555.5 1181.1L1556.5 1182.1L1557.5 1180.9L1558.5 1178.9L1559.5 1180.1L1560.5 1181.2L1561.5 1180.0L1562.5 1179.6L1563.5 1179.2L1564.0 1180.4L1564.5 1180.1L1565.5 1179.7L1566.5 1179.4L1567.5 1179.8L1568.5 1179.3L1569.5 1177.9L1570.5 1178.9L1571.5 1178.4L1572.5 1178.1L1573.5 1178.4L1574.5 1177.8L1575.5 1175.9L1576.5 1178.4L1577.5 1177.9L1578.5 1177.0L1579.5 1176.7L1580.5 1176.8L1581.5 1175.8L1582.5 1176.5L1583.5 1176.0L1584.5 1175.7L1585.5 1175.2L1586.5 1175.1L1587.5 1176.0L1588.5 1175.9L1589.0 1175.3L1589.5 1174.9L1590.5 1174.2L1591.5 1174.9L1592.5 1175.1L1593.5 1173.0L1594.5 1174.4L1595.5 1172.1L1596.5 1172.9L1597.5 1173.1L1598.5 1171.7L1599.5 1171.4L1600.5 1172.1L1601.5 1172.2L1602.5 1171.1L1603.5 1171.9L1604.5 1170.4L1605.5 1171.6L1606.5 1170.4L1607.5 1170.2L1608.5 1170.1L1609.5 1169.7L1610.5 1170.4L1611.5 1170.4L1612.5 1169.2L1613.5 1168.6L1614.0 1167.9L1614.5 1168.1L1615.5 1168.4L1616.5 1168.2L1617.5 1168.0L1618.5 1167.9L1619.5 1168.0L1620.5 1166.8L1621.5 1166.8L1622.5 1167.9L1623.5 1167.6L1624.5 1166.6L1625.5 1167.5L1626.5 1166.2L1627.5 1166.3L1628.5 1165.3L1629.5 1166.7L1630.5 1166.1L1631.5 1166.6L1632.5 1166.3L1633.5 1165.8L1634.5 1165.8L1635.5 1166.3L1636.5 1165.4L1637.5 1165.4L1638.5 1165.5L1639.5 1165.9L1640.5 1165.9L1641.5 1166.5L1642.5 1165.3L1643.5 1166.1L1644.5 1165.1L1645.5 1165.9L1646.5 1165.7L1647.5 1166.7L1648.5 1166.2L1649.5 1165.7L1650.5 1166.5L1651.5 1166.5L1652.5 1166.3L1653.5 1166.6L1654.5 1166.4L1655.5 1168.8L1656.5 1167.5L1657.5 1168.2L1658.5 1167.3L1659.5 1167.6L1660.5 1168.4L1661.5 1168.7L1662.5 1169.6L1663.5 1168.9L1664.5 1170.1L1665.5 1171.0L1666.5 1170.0L1667.5 1171.4L1668.5 1170.7L1669.0 1171.6L1669.5 1171.8L1670.5 1173.1L1671.5 1172.3L1672.5 1173.5L1673.5 1174.7L1674.5 1174.3L1675.5 1175.8L1676.5 1176.2L1677.5 1177.3L1678.5 1179.0L1679.5 1180.0L1680.5 1182.0L1681.5 1182.2L1682.5 1183.2L1683.5 1183.4L1684.5 1184.4L1685.5 1185.9L1686.5 1185.7L1687.5 1189.1L1688.5 1188.8L1689.5 1189.5L1690.5 1190.6L1691.5 1192.0L1692.5 1192.7L1693.5 1192.1L1694.5 1193.0L1695.5 1193.1L1696.5 1192.9L1697.5 1194.0L1698.5 1194.2L1699.5 1193.6L1700.5 1195.4L1701.5 1194.1L1702.5 1195.4L1703.5 1194.9L1704.5 1195.3L1705.5 1195.6L1706.5 1196.7L1707.5 1195.7L1708.5 1196.6L1709.5 1197.8L1710.5 1196.7L1711.5 1197.3L1712.5 1197.9L1713.5 1197.4L1714.0 1198.1L1714.5 1197.6L1715.5 1198.6L1716.5 1198.5L1717.5 1198.1L1718.5 1199.7L1719.5 1199.1L1720.5 1199.2L1721.5 1199.1L1722.5 1199.6L1723.5 1200.1L1724.5 1200.5L1725.5 1201.2L1726.5 1200.1L1727.5 1200.8L1728.5 1201.9L1729.5 1201.5L1730.5 1201.8L1731.5 1202.7L1732.5 1202.1L1733.5 1202.3L1734.5 1202.1L1735.5 1203.3L1736.5 1202.9L1737.5 1202.0L1738.5 1202.7L1739.0 1201.7L1739.5 1203.0L1740.5 1202.8L1741.5 1202.3L1742.5 1202.2L1743.5 1201.4L1744.5 1202.8L1745.5 1202.3L1746.5 1202.2L1747.5 1202.8L1748.5 1202.0L1749.5 1202.1L1750.5 1202.0L1751.5 1201.6L1752.5 1203.8L1753.5 1202.3L1754.5 1202.2L1755.5 1202.9L1756.5 1200.6L1757.5 1202.4L1758.5 1202.4L1759.5 1201.8L1760.5 1202.7L1761.5 1201.2L1762.5 1202.4L1763.5 1202.9L1764.0 1201.1L1764.5 1201.5L1765.5 1202.3L1766.5 1202.4L1767.5 1202.0L1768.5 1202.7L1769.5 1202.6L1770.5 1201.8L1771.5 1202.5L1772.5 1201.9L1773.5 1201.5L1774.5 1201.4L1775.5 1203.5L1776.5 1202.9L1777.5 1204.2L1778.5 1202.2L1779.5 1203.0L1780.5 1203.4L1781.5 1203.2L1782.5 1203.7L1783.5 1203.5L1784.5 1203.1L1785.5 1202.1L1786.5 1203.0L1787.5 1204.6L1788.5 1204.0L1789.0 1204.4L1789.5 1203.2L1790.5 1203.5L1791.5 1203.0L1792.5 1203.7L1793.5 1203.5L1794.5 1203.7L1795.5 1204.4L1796.5 1202.8L1797.5 1203.6L1798.5 1202.3L1799.5 1203.6L1800.5 1202.6L1801.5 1202.7L1802.5 1202.7L1803.5 1203.5L1804.5 1202.4L1805.5 1202.0L1806.5 1201.4L1807.5 1202.2L1808.5 1201.4L1809.5 1201.4L1810.5 1201.6L1811.5 1201.8L1812.5 1200.9L1813.5 1201.6L1814.5 1202.1L1815.5 1200.0L1816.5 1201.6L1817.5 1201.9L1818.5 1200.2L1819.0 1200.9L1819.5 1199.6L1820.5 1200.5L1821.5 1200.0L1822.5 1200.3L1823.5 1199.5L1824.5 1199.4L1825.5 1199.5L1826.5 1199.2L1827.5 1199.2L1828.5 1199.3L1829.5 1198.6L1830.5 1199.1L1831.5 1199.3L1832.5 1197.6L1833.5 1198.9L1834.5 1198.2L1835.5 1197.9L1836.5 1197.6L1837.5 1197.8L1838.5 1197.8L1839.5 1198.3L1840.5 1197.2L1841.5 1198.5L1842.5 1197.3L1843.5 1198.0L1844.5 1198.2L1845.5 1196.7L1846.5 1197.9L1847.5 1198.5L1848.5 1196.9L1849.5 1197.4L1850.5 1196.9L1851.5 1196.9L1852.5 1196.7L1853.5 1196.4L1854.5 1197.1L1855.5 1197.1L1856.5 1196.5L1857.5 1197.3L1858.5 1197.0L1859.5 1196.7L1860.5 1195.8L1861.5 1197.3L1862.5 1196.8L1863.5 1194.8L1864.5 1195.3L1865.5 1195.6L1866.5 1196.4L1867.5 1196.5L1868.5 1195.5L1869.5 1195.8L1870.5 1196.0L1871.5 1194.8L1872.5 1195.8L1873.5 1195.2L1874.5 1195.4L1875.5 1195.2L1876.5 1194.5L1877.5 1194.5L1878.5 1195.1L1879.5 1195.1L1880.5 1194.8L1881.5 1195.5L1882.5 1194.6L1883.5 1194.0L1884.5 1194.4L1885.5 1194.4L1886.5 1194.3L1887.5 1195.0L1888.5 1194.5L1889.0 1194.8L1889.5 1194.5L1890.5 1193.9L1891.5 1194.5L1892.5 1193.6L1893.5 1193.8L1894.5 1192.9L1895.5 1193.4L1896.5 1193.1L1897.5 1193.3L1898.5 1194.0L1899.5 1194.2L1900.5 1193.2L1901.5 1192.5L1902.5 1192.8L1903.5 1192.3L1904.5 1191.6L1905.5 1191.8L1906.5 1191.5L1907.5 1191.1L1908.5 1192.1L1909.5 1190.9L1910.5 1190.7L1911.5 1191.3L1912.5 1190.3L1913.5 1189.9L1914.0 1190.0L1914.5 1190.8L1915.5 1190.6L1916.5 1190.4L1917.5 1189.8L1918.5 1189.3L1919.5 1190.2L1920.5 1188.7L1921.5 1189.3L1922.5 1188.5L1923.5 1188.8L1924.5 1188.8L1925.5 1189.5L1926.5 1186.9L1927.5 1189.3L1928.5 1187.8L1929.5 1188.4L1930.5 1188.6L1931.5 1187.6L1932.5 1187.9L1933.5 1188.2L1934.5 1187.8L1935.5 1187.4L1936.5 1187.9L1937.5 1187.9L1938.5 1187.0L1939.5 1188.6L1940.5 1188.0L1941.5 1186.5L1942.5 1187.4L1943.5 1189.0L1944.5 1188.9L1945.5 1188.2L1946.5 1187.1L1947.5 1188.0L1948.5 1188.8L1949.5 1188.5L1950.5 1188.1L1951.5 1187.9L1952.5 1188.9L1953.5 1188.3L1954.5 1188.7L1955.5 1188.8L1956.5 1189.5L1957.5 1188.7L1958.5 1188.8L1959.5 1187.6L1960.5 1189.3L1961.5 1189.2L1962.5 1188.7L1963.5 1187.4L1964.0 1188.4L1964.5 1188.8L1965.5 1189.9L1966.5 1188.8L1967.5 1188.8L1968.5 1188.5L1969.5 1188.5L1970.5 1186.8L1971.5 1186.6L1972.5 1186.1L1973.5 1186.3L1974.5 1185.9L1975.5 1185.9L1976.5 1185.0L1977.5 1185.4L1978.5 1184.7L1979.5 1186.3L1980.2 1184.8L1980.5 1186.6L1981.5 1186.1L1982.5 1184.7L1983.5 1186.3L1984.5 1186.5L1985.5 1185.7L1986.5 1187.4L1987.5 1187.5L1988.5 1188.2L1989.5 1188.0L1990.5 1188.9L1991.5 1189.5L1992.5 1189.4L1993.5 1189.3L1994.0 1189.5L1994.5 1189.1L1995.5 1189.8L1996.5 1188.0L1997.5 1190.3L1998.5 1189.3L1999.5 1189.4L2000.5 1189.4L2001.5 1188.0L2002.5 1189.8L2003.5 1187.6L2004.5 1188.4L2005.5 1188.1L2006.5 1188.5L2007.5 1187.6L2008.5 1186.6L2009.5 1187.5L2010.5 1185.8L2011.5 1187.1L2012.5 1187.1L2013.5 1188.7L2014.5 1188.3L2015.5 1188.9L2016.5 1189.5L2017.5 1190.3L2018.5 1191.3L2019.5 1192.7L2020.5 1192.2L2021.5 1193.2L2022.5 1192.6L2023.5 1193.6L2024.5 1194.0L2025.5 1193.3L2026.5 1193.9L2027.5 1194.4L2028.5 1194.9L2029.5 1195.2L2030.5 1194.7L2031.5 1194.2L2032.5 1194.0L2033.5 1195.5L2034.5 1195.9L2035.5 1195.4L2036.5 1196.2L2037.5 1195.1L2038.5 1195.2L2039.5 1196.4L2040.5 1195.0L2041.5 1196.0L2042.5 1196.0L2043.5 1195.9L2044.5 1197.0L2045.5 1195.5L2046.5 1195.9L2047.5 1195.1L2048.5 1195.8L2049.5 1196.3L2050.5 1196.5L2051.5 1196.8L2052.5 1197.3L2053.5 1197.0L2054.5 1196.5L2055.5 1198.0L2056.5 1198.5L2057.5 1198.0L2058.5 1198.6L2059.5 1200.4L2060.5 1200.4L2061.5 1200.8L2062.5 1200.9L2063.5 1201.0L2064.5 1200.9L2065.5 1201.9L2066.5 1201.7L2067.5 1201.8L2068.5 1202.3L2069.0 1202.3L2069.5 1203.0L2070.5 1202.1L2071.5 1204.3L2072.5 1202.3L2073.5 1202.8L2074.5 1203.7L2075.5 1202.8L2076.5 1203.1L2077.5 1203.5L2078.5 1201.8L2079.5 1203.4L2080.5 1203.2L2081.5 1203.7L2082.5 1204.2L2083.5 1204.3L2084.5 1204.9L2085.5 1205.0L2086.5 1204.8L2087.5 1204.2L2088.5 1205.0L2089.5 1203.9L2090.5 1204.5L2091.5 1205.5L2092.5 1205.2L2093.5 1204.0L2094.5 1204.6L2095.5 1205.6L2096.5 1205.6L2097.5 1206.0L2098.5 1204.4L2099.5 1204.9L2100.5 1205.7L2101.5 1205.4L2102.5 1206.3L2103.5 1206.7L2104.5 1207.3L2105.5 1207.5L2106.5 1208.5L2107.5 1209.3L2108.5 1209.4L2109.5 1209.0L2110.5 1211.5L2111.5 1211.3L2112.5 1212.0L2113.5 1212.4L2114.0 1211.2L2114.5 1213.1L2115.5 1212.6L2116.5 1212.6L2117.5 1215.2L2118.5 1214.3L2119.5 1215.3L2120.5 1216.4L2121.5 1217.5L2122.5 1215.0L2123.5 1216.4L2124.5 1218.1L2125.5 1217.3L2126.5 1215.3L2127.5 1218.8L2128.5 1219.3L2129.5 1220.2L2130.5 1219.9L2131.5 1219.5L2132.5 1220.3L2133.5 1220.2L2134.0 1219.8L2134.5 1220.6L2135.5 1220.8L2136.5 1219.5L2137.5 1221.6L2138.5 1221.5L2139.5 1221.5L2140.4 1217.9L2140.5 1220.9L2141.5 1220.8L2142.5 1220.2L2143.5 1222.2L2144.5 1220.5L2145.5 1223.9L2146.5 1223.5L2147.5 1223.2L2148.5 1225.9L2149.5 1225.6L2150.5 1226.2L2151.5 1225.2L2152.5 1227.8L2153.5 1229.4L2154.5 1229.7L2155.5 1227.8L2156.5 1231.2L2157.5 1231.9L2158.5 1231.6L2159.5 1230.6L2159.6 1229.5L2160.5 1230.4L2161.5 1231.0L2162.5 1232.2L2163.5 1232.8L2164.5 1231.7L2165.5 1231.0L2166.5 1232.6L2167.5 1231.9L2168.5 1235.0L2169.5 1232.4L2170.5 1234.5L2171.5 1235.1L2172.5 1233.3L2173.5 1235.6L2174.5 1234.4L2175.5 1233.8L2176.5 1233.7L2177.5 1234.8L2178.5 1235.9L2179.5 1232.5L2180.5 1235.1L2181.5 1234.1L2182.5 1233.3L2183.5 1233.7L2184.5 1233.6L2185.5 1233.3L2186.5 1234.0L2187.5 1231.8L2188.5 1234.7L2189.5 1233.3L2190.5 1231.4L2191.5 1229.7L2192.5 1231.6L2193.5 1231.1L2194.5 1232.3L2195.4 1232.3L2195.5 1233.6L2196.5 1231.3L2197.5 1232.4L2198.5 1231.2L2199.5 1231.4L2200.5 1233.7L2201.5 1232.0L2202.5 1232.3L2203.5 1232.3L2204.5 1233.3L2205.5 1233.9L2206.5 1233.4L2207.5 1232.5L2208.5 1234.5L2209.5 1233.5L2210.5 1234.3L2210.7 1235.0L2211.5 1235.3L2212.5 1232.9L2213.5 1238.0L2214.5 1237.5L2215.5 1239.5L2216.5 1240.7L2217.5 1237.3L2218.5 1238.2L2219.5 1239.5L2220.5 1240.5L2220.9 1238.8L2221.5 1239.1L2222.5 1240.8L2223.5 1238.5L2224.5 1239.8L2225.5 1240.9L2226.5 1239.4L2227.5 1240.6L2228.5 1239.6L2229.5 1237.9L2230.5 1239.1L2231.5 1239.6L2232.5 1239.4L2233.5 1239.8L2234.5 1240.3L2235.5 1240.1L2236.3 1240.0L2236.5 1239.3L2237.5 1239.5L2238.5 1239.2L2239.5 1238.7L2240.5 1240.8L2241.5 1236.7L2242.5 1238.9L2243.5 1236.4L2244.5 1237.4L2245.5 1238.8L2246.5 1237.3L2247.5 1239.2L2248.5 1236.3L2249.0 1237.0L2249.5 1236.6L2250.5 1237.4L2251.5 1237.1L2252.5 1237.1L2253.5 1237.8L2254.5 1239.1L2255.5 1238.1L2256.5 1238.2L2257.5 1237.9L2258.5 1237.6L2259.5 1236.9L2260.5 1237.6L2261.5 1239.2L2261.8 1236.9L2262.5 1240.2L2263.5 1239.3L2264.5 1239.1L2265.5 1240.2L2266.5 1242.2L2267.5 1242.5L2268.5 1242.9L2269.5 1245.1L2270.5 1246.1L2271.4 1241.8L2271.5 1244.4L2272.5 1242.2L2273.5 1240.8L2274.5 1240.8L2275.5 1241.6L2276.5 1238.7L2277.5 1237.1L2278.5 1238.2L2279.5 1236.0L2280.5 1234.4L2281.5 1236.1L2282.3 1234.4L2282.5 1232.9L2283.5 1232.4L2284.5 1233.3L2285.5 1234.0L2286.5 1235.0L2287.5 1234.9L2288.5 1234.0L2289.5 1232.4L2290.5 1235.0L2291.5 1233.9L2292.5 1232.5L2293.5 1232.4L2294.5 1234.5L2295.5 1235.0L2296.5 1236.2L2297.5 1234.2L2298.5 1238.8L2299.5 1234.8L2300.2 1237.5L2300.5 1239.4L2301.5 1239.9L2302.5 1238.5L2303.5 1241.8L2304.5 1243.9L2305.5 1244.7L2306.5 1243.8L2307.5 1248.3L2308.5 1245.0L2309.5 1247.7L2310.4 1246.4L2310.5 1247.2L2311.5 1247.2L2312.5 1247.9L2313.5 1245.2L2314.5 1246.5L2315.5 1247.1L2316.5 1244.8L2317.5 1244.6L2318.5 1243.8L2319.5 1241.6L2320.5 1241.5L2321.5 1241.6L2322.5 1241.9L2323.2 1243.8L2323.5 1243.4L2324.5 1241.8L2325.5 1243.8L2326.5 1245.2L2327.5 1245.2L2328.3 1250.4L2328.5 1249.4L2329.5 1246.1L2330.5 1248.7L2331.5 1251.8L2332.5 1249.3L2333.5 1249.4L2334.5 1249.0L2335.5 1247.7L2336.5 1247.2L2337.5 1247.6L2338.5 1248.9L2339.5 1248.4L2339.8 1249.6" fill="none" stroke="#000000" stroke-width="4.6" stroke-linejoin="round" stroke-linecap="round"/>
<path d="M1412.8 2417.1L1413.3 2420.0L1413.8 2422.8L1414.3 2425.7L1414.8 2428.6L1415.3 2431.5L1415.8 2434.4L1416.3 2437.3L1416.8 2440.3L1417.2 2442.6L1417.3 2443.2L1417.8 2446.6L1418.3 2450.3L1418.8 2454.2L1419.3 2458.3L1419.8 2462.3L1420.3 2466.1L1420.8 2469.5L1421.3 2472.4L1421.8 2474.7L1422.3 2476.2L1422.8 2476.7L1423.3 2476.5L1423.8 2475.8L1424.3 2474.8L1424.8 2473.4L1425.3 2471.9L1425.8 2470.2L1426.3 2468.4L1426.8 2466.5L1427.3 2464.8L1427.8 2463.1L1428.3 2461.6L1428.4 2461.3L1428.8 2460.2L1429.3 2458.7L1429.8 2457.1L1430.3 2455.5L1430.8 2453.8L1431.3 2452.1L1431.8 2450.5L1432.3 2449.0L1432.8 2447.6L1433.3 2446.5L1433.8 2445.5L1434.3 2444.8L1434.8 2444.4L1435.1 2444.4L1435.3 2444.4L1435.8 2444.9L1436.3 2445.7L1436.8 2446.9L1437.3 2448.4L1437.8 2450.2L1438.3 2452.2L1438.8 2454.2L1439.3 2456.4L1439.8 2458.5L1440.3 2460.6L1440.8 2462.5L1441.3 2464.3L1441.8 2465.9L1442.3 2467.1L1442.8 2468.0L1442.9 2468.1L1443.3 2468.6L1443.8 2469.1L1444.3 2469.5L1444.8 2469.8L1445.3 2470.1L1445.8 2470.4L1446.3 2470.7L1446.8 2470.9L1447.3 2471.2L1447.8 2471.6L1448.3 2472.0L1448.8 2472.4L1449.3 2473.0L1449.5 2473.3L1449.8 2473.8L1450.3 2475.0L1450.8 2476.6L1451.3 2478.6L1451.8 2480.8L1452.3 2483.2L1452.8 2485.6L1453.3 2488.0L1453.8 2490.4L1454.3 2492.6L1454.8 2494.4L1455.1 2495.4L1455.3 2496.0L1455.8 2497.6L1456.3 2499.3L1456.8 2500.9L1457.3 2502.5L1457.8 2504.0L1458.3 2505.4L1458.8 2506.7L1459.3 2507.7L1459.8 2508.4L1460.3 2508.9L1460.7 2509.0L1460.8 2509.0L1461.3 2508.7L1461.8 2507.9L1462.3 2506.9L1462.8 2505.4L1463.3 2503.8L1463.8 2501.9L1464.3 2499.9L1464.8 2497.8L1465.3 2495.7L1465.8 2493.6L1466.2 2492.0L1466.3 2491.6L1466.8 2489.1L1467.3 2486.1L1467.8 2482.8L1468.3 2479.1L1468.8 2475.2L1469.3 2471.3L1469.8 2467.5L1470.3 2463.9L1470.8 2460.6L1471.3 2457.7L1471.8 2455.4L1472.3 2453.8L1472.8 2452.9L1472.9 2452.9L1473.3 2452.7L1473.8 2452.5L1474.3 2452.4L1474.8 2452.3L1475.3 2452.2L1475.8 2452.1L1476.3 2452.0L1476.8 2452.0L1477.3 2451.9L1477.8 2451.9L1478.3 2451.8L1478.8 2451.7L1479.3 2451.6L1479.8 2451.5L1480.3 2451.3L1480.7 2451.2L1480.8 2451.1L1481.3 2450.8L1481.8 2450.3L1482.3 2449.6L1482.8 2448.7L1483.3 2447.7L1483.8 2446.6L1484.3 2445.4L1484.8 2444.2L1485.3 2443.0L1485.8 2441.7L1486.3 2440.4L1486.8 2439.2L1487.3 2438.1L1487.8 2437.0L1488.3 2436.0L1488.8 2435.2L1489.3 2434.5L1489.6 2434.1L1489.8 2433.9L1490.3 2433.5L1490.8 2433.0L1491.3 2432.5L1491.8 2432.1L1492.3 2431.7L1492.8 2431.3L1493.3 2430.9L1493.8 2430.5L1494.3 2430.2L1494.8 2429.9L1495.3 2429.6L1495.8 2429.3L1496.3 2429.0L1496.8 2428.8L1497.3 2428.6L1497.8 2428.4L1498.3 2428.2L1498.5 2428.2L1498.8 2428.1L1499.3 2428.0L1499.8 2427.8L1500.3 2427.7L1500.8 2427.6L1501.3 2427.5L1501.8 2427.4L1502.3 2427.3L1502.8 2427.1L1503.3 2427.0L1503.8 2427.0L1504.3 2426.9L1504.8 2426.8L1505.3 2426.7L1505.8 2426.7L1506.3 2426.6L1506.8 2426.6L1507.3 2426.5L1507.8 2426.5L1508.3 2426.5L1508.6 2426.5L1508.8 2426.5L1509.3 2426.5L1509.8 2426.6L1510.3 2426.7L1510.8 2426.9L1511.3 2427.1L1511.8 2427.3L1512.3 2427.6L1512.8 2427.9L1513.3 2428.2L1513.8 2428.5L1514.3 2428.9L1514.8 2429.3L1515.3 2429.7L1515.8 2430.2L1516.3 2430.6L1516.4 2430.7L1516.8 2431.2L1517.3 2432.4L1517.8 2433.8L1518.3 2435.6L1518.8 2437.7L1519.3 2439.8L1519.8 2442.0L1520.3 2444.1L1520.8 2446.1L1521.3 2447.9L1521.8 2449.4L1522.3 2450.5L1522.8 2451.1L1523.0 2451.2L1523.3 2451.2L1523.8 2451.3L1524.3 2451.4L1524.8 2451.4L1525.3 2451.5L1525.8 2451.5L1526.3 2451.6L1526.8 2451.6L1527.3 2451.6L1527.8 2451.6L1528.3 2451.7L1528.8 2451.7L1529.3 2451.7L1529.8 2451.8L1530.3 2451.8L1530.8 2451.9L1531.3 2451.9L1531.8 2452.0L1532.0 2452.0L1532.3 2452.1L1532.8 2452.3L1533.3 2452.5L1533.8 2452.8L1534.3 2453.2L1534.8 2453.6L1535.3 2454.1L1535.8 2454.6L1536.3 2455.0L1536.8 2455.5L1537.3 2456.0L1537.8 2456.4L1538.3 2456.8L1538.8 2457.2L1539.3 2457.5L1539.8 2457.7L1540.3 2457.9L1540.8 2458.0L1540.9 2458.0L1541.3 2458.0L1541.8 2457.9L1542.3 2457.9L1542.8 2457.8L1543.3 2457.7L1543.8 2457.6L1544.3 2457.4L1544.8 2457.3L1545.3 2457.1L1545.8 2457.0L1546.3 2456.8L1546.8 2456.6L1547.3 2456.4L1547.8 2456.2L1548.3 2456.0L1548.8 2455.8L1549.3 2455.6L1549.8 2455.4L1550.3 2455.2L1550.8 2454.9L1551.3 2454.6L1551.8 2454.3L1552.3 2454.0L1552.8 2453.6L1553.3 2453.3L1553.8 2452.9L1554.3 2452.4L1554.8 2452.0L1555.3 2451.6L1555.8 2451.1L1556.3 2450.7L1556.8 2450.3L1557.3 2449.8L1557.8 2449.4L1558.3 2448.9L1558.8 2448.5L1559.3 2448.1L1559.8 2447.7L1560.3 2447.3L1560.8 2447.0L1561.3 2446.6L1561.8 2446.3L1562.3 2446.1L1562.8 2445.8L1563.3 2445.6L1563.8 2445.5L1564.3 2445.3L1564.8 2445.3L1565.3 2445.2L1565.4 2445.2L1565.8 2445.2L1566.3 2445.3L1566.8 2445.4L1567.3 2445.6L1567.8 2445.8L1568.3 2446.0L1568.8 2446.3L1569.3 2446.6L1569.8 2447.0L1570.3 2447.4L1570.8 2447.8L1571.3 2448.2L1571.8 2448.7L1572.3 2449.1L1572.8 2449.6L1573.3 2450.1L1573.8 2450.7L1574.3 2451.2L1574.8 2451.8L1575.3 2452.5L1575.8 2453.3L1576.3 2454.2L1576.8 2455.3L1577.3 2456.4L1577.8 2457.6L1578.3 2458.8L1578.8 2460.2L1579.3 2461.5L1579.8 2463.0L1580.3 2464.4L1580.8 2465.9L1581.3 2467.4L1581.8 2469.0L1582.3 2470.5L1582.8 2472.0L1583.2 2473.3L1583.3 2473.6L1583.8 2475.1L1584.3 2476.7L1584.8 2478.4L1585.3 2480.0L1585.8 2481.8L1586.3 2483.6L1586.8 2485.5L1587.3 2487.4L1587.8 2489.5L1588.3 2491.5L1588.8 2493.7L1589.3 2496.0L1589.8 2498.3L1589.9 2498.8L1590.3 2500.8L1590.8 2503.5L1591.3 2506.4L1591.8 2509.5L1592.3 2512.7L1592.8 2516.1L1593.3 2519.5L1593.8 2523.0L1594.3 2526.5L1594.8 2530.0L1595.3 2533.5L1595.8 2536.8L1596.3 2540.1L1596.5 2541.3L1596.8 2543.3L1597.3 2546.7L1597.8 2550.4L1598.3 2554.1L1598.8 2557.8L1599.3 2561.5L1599.8 2564.9L1600.3 2568.0L1600.8 2570.8L1601.3 2573.0L1601.8 2574.7L1602.1 2575.4L1602.3 2575.8L1602.8 2576.7L1603.3 2577.5L1603.8 2578.2L1604.3 2578.9L1604.8 2579.5L1605.3 2579.9L1605.8 2580.2L1606.3 2580.4L1606.6 2580.4L1606.8 2580.4L1607.3 2580.3L1607.8 2580.2L1608.3 2579.9L1608.8 2579.6L1609.3 2579.2L1609.8 2578.8L1610.3 2578.3L1610.8 2577.9L1611.3 2577.4L1611.8 2577.0L1612.3 2576.6L1612.8 2576.2L1613.3 2575.9L1613.8 2575.6L1614.3 2575.4L1614.4 2575.4L1614.8 2575.3L1615.3 2575.2L1615.8 2575.1L1616.3 2575.0L1616.8 2575.0L1617.3 2574.9L1617.8 2574.8L1618.3 2574.8L1618.8 2574.7L1619.3 2574.7L1619.8 2574.7L1620.3 2574.6L1620.8 2574.6L1621.3 2574.5L1621.8 2574.5L1622.3 2574.5L1622.8 2574.4L1623.3 2574.4L1623.8 2574.3L1624.3 2574.3L1624.8 2574.2L1625.3 2574.1L1625.8 2574.0L1626.3 2574.0L1626.8 2573.9L1627.3 2573.7L1627.7 2573.7L1627.8 2573.6L1628.3 2573.4L1628.8 2573.1L1629.3 2572.7L1629.8 2572.3L1630.3 2571.7L1630.8 2571.1L1631.3 2570.5L1631.8 2569.7L1632.3 2569.0L1632.8 2568.2L1633.3 2567.3L1633.8 2566.5L1634.3 2565.6L1634.8 2564.8L1635.3 2563.9L1635.8 2563.0L1636.3 2562.2L1636.8 2561.4L1637.3 2560.6L1637.8 2559.8L1638.3 2559.1L1638.8 2558.5L1638.9 2558.4L1639.3 2557.9L1639.8 2557.3L1640.3 2556.8L1640.8 2556.3L1641.3 2555.8L1641.8 2555.3L1642.3 2554.9L1642.8 2554.4L1643.3 2553.9L1643.8 2553.5L1644.3 2553.0L1644.8 2552.6L1645.3 2552.1L1645.8 2551.6L1646.3 2551.1L1646.8 2550.6L1647.3 2550.0L1647.8 2549.4L1648.3 2548.8L1648.8 2548.2L1649.3 2547.5L1649.8 2546.8L1650.0 2546.5L1650.3 2546.0L1650.8 2545.0L1651.3 2543.9L1651.8 2542.6L1652.3 2541.3L1652.8 2539.8L1653.3 2538.2L1653.8 2536.6L1654.3 2534.9L1654.8 2533.2L1655.3 2531.5L1655.8 2529.8L1656.3 2528.0L1656.8 2526.4L1657.3 2524.7L1657.8 2523.2L1658.3 2521.7L1658.8 2520.3L1659.3 2519.1L1659.8 2518.0L1660.3 2517.0L1660.8 2516.2L1661.1 2515.8L1661.3 2515.6L1661.8 2515.1L1662.3 2514.6L1662.8 2514.2L1663.3 2513.8L1663.8 2513.4L1664.3 2513.1L1664.8 2512.8L1665.3 2512.5L1665.8 2512.2L1666.3 2511.9L1666.8 2511.6L1667.3 2511.3L1667.8 2511.0L1668.3 2510.6L1668.8 2510.2L1669.3 2509.7L1669.8 2509.2L1670.0 2509.0L1670.3 2508.7L1670.8 2508.0L1671.3 2507.3L1671.8 2506.5L1672.3 2505.6L1672.8 2504.7L1673.3 2503.7L1673.8 2502.6L1674.3 2501.5L1674.8 2500.4L1675.3 2499.3L1675.8 2498.1L1676.3 2496.9L1676.8 2495.6L1677.3 2494.4L1677.8 2493.2L1678.3 2491.9L1678.8 2490.7L1679.3 2489.5L1679.8 2488.3L1680.3 2487.2L1680.8 2486.0L1681.2 2485.2L1681.3 2485.0L1681.8 2483.9L1682.3 2482.7L1682.8 2481.6L1683.3 2480.4L1683.8 2479.2L1684.3 2478.0L1684.8 2476.7L1685.3 2475.5L1685.8 2474.3L1686.3 2473.1L1686.8 2471.9L1687.3 2470.7L1687.8 2469.5L1688.3 2468.4L1688.8 2467.3L1689.3 2466.3L1689.8 2465.3L1690.3 2464.4L1690.8 2463.5L1691.3 2462.7L1691.8 2462.0L1692.3 2461.3L1692.8 2460.7L1693.3 2460.1L1693.8 2459.5L1694.3 2458.9L1694.8 2458.3L1695.3 2457.7L1695.8 2457.2L1696.3 2456.7L1696.8 2456.3L1697.3 2455.9L1697.8 2455.7L1698.3 2455.5L1698.8 2455.4L1699.0 2455.4L1699.3 2455.4L1699.8 2455.4L1700.3 2455.5L1700.8 2455.5L1701.3 2455.6L1701.8 2455.7L1702.3 2455.8L1702.8 2455.9L1703.3 2456.0L1703.8 2456.2L1704.3 2456.3L1704.8 2456.5L1705.3 2456.7L1705.8 2456.8L1706.3 2457.0L1706.8 2457.2L1707.3 2457.4L1707.8 2457.6L1708.3 2457.8L1708.8 2457.9L1708.9 2458.0L1709.3 2458.1L1709.8 2458.4L1710.3 2458.7L1710.8 2459.0L1711.3 2459.3L1711.8 2459.7L1712.3 2460.1L1712.8 2460.5L1713.3 2460.9L1713.8 2461.3L1714.3 2461.8L1714.8 2462.2L1715.3 2462.6L1715.8 2463.0L1716.3 2463.3L1716.8 2463.7L1717.3 2464.0L1717.8 2464.2L1718.3 2464.4L1718.8 2464.6L1719.3 2464.7L1719.8 2464.8L1720.0 2464.8L1720.3 2464.8L1720.8 2464.8L1721.3 2464.7L1721.8 2464.7L1722.3 2464.6L1722.8 2464.6L1723.3 2464.5L1723.8 2464.5L1724.3 2464.4L1724.8 2464.3L1725.3 2464.2L1725.8 2464.1L1726.3 2464.0L1726.8 2463.9L1727.3 2463.8L1727.8 2463.7L1728.3 2463.6L1728.8 2463.6L1729.3 2463.5L1729.8 2463.4L1730.3 2463.3L1730.8 2463.3L1731.3 2463.2L1731.8 2463.2L1732.3 2463.1L1732.8 2463.1L1733.3 2463.1L1733.4 2463.1L1733.8 2463.1L1734.3 2463.2L1734.8 2463.4L1735.3 2463.7L1735.8 2464.1L1736.3 2464.5L1736.8 2464.9L1737.3 2465.5L1737.8 2466.1L1738.3 2466.7L1738.8 2467.4L1739.3 2468.1L1739.8 2468.9L1740.3 2469.6L1740.8 2470.4L1741.3 2471.3L1741.8 2472.1L1742.3 2473.0L1742.8 2473.8L1743.3 2474.7L1743.8 2475.5L1744.3 2476.4L1744.5 2476.7L1744.8 2477.2L1745.3 2478.1L1745.8 2479.1L1746.3 2480.1L1746.8 2481.2L1747.3 2482.4L1747.8 2483.5L1748.3 2484.8L1748.8 2486.1L1749.3 2487.4L1749.8 2488.7L1750.3 2490.1L1750.8 2491.5L1751.3 2492.9L1751.8 2494.3L1752.3 2495.8L1752.8 2497.2L1753.3 2498.7L1753.8 2500.1L1754.3 2501.6L1754.8 2503.0L1755.3 2504.4L1755.7 2505.6L1755.8 2505.9L1756.3 2507.2L1756.8 2508.5L1757.3 2509.8L1757.8 2511.0L1758.3 2512.2L1758.8 2513.4L1759.3 2514.7L1759.8 2515.9L1760.3 2517.2L1760.8 2518.6L1761.3 2520.1L1761.8 2521.6L1762.3 2523.3L1762.8 2525.1L1763.3 2527.0L1763.8 2529.1L1764.3 2531.4L1764.6 2532.9L1764.8 2533.9L1765.3 2537.3L1765.8 2541.5L1766.3 2546.3L1766.8 2551.6L1767.3 2557.1L1767.8 2562.8L1768.3 2568.3L1768.8 2573.5L1769.0 2575.4L1769.3 2578.3L1769.8 2583.1L1770.3 2588.0L1770.8 2592.9L1771.3 2597.7L1771.8 2602.5L1772.3 2607.2L1772.8 2611.8L1773.3 2616.2L1773.5 2617.9L1773.8 2620.4L1774.3 2624.7L1774.8 2629.0L1775.3 2633.2L1775.8 2637.4L1776.3 2641.5L1776.8 2645.5L1777.3 2649.4L1777.8 2653.2L1778.3 2656.9L1778.8 2660.3L1779.3 2663.6L1779.8 2666.6L1780.2 2668.9L1780.3 2669.5L1780.8 2672.2L1781.3 2674.9L1781.8 2677.5L1782.3 2680.1L1782.8 2682.6L1783.3 2685.1L1783.8 2687.4L1784.3 2689.7L1784.8 2691.9L1785.3 2694.1L1785.8 2696.1L1786.3 2698.0L1786.8 2699.8L1787.3 2701.4L1787.8 2703.0L1788.3 2704.4L1788.8 2705.7L1789.1 2706.4L1789.3 2706.8L1789.8 2707.9L1790.3 2709.0L1790.8 2710.1L1791.3 2711.2L1791.8 2712.2L1792.3 2713.2L1792.8 2714.1L1793.3 2715.0L1793.8 2715.8L1794.3 2716.5L1794.8 2717.1L1795.3 2717.6L1795.8 2717.9L1796.3 2718.2L1796.8 2718.3L1796.9 2718.3L1797.3 2718.2L1797.8 2717.7L1798.3 2717.0L1798.8 2716.0L1799.3 2714.8L1799.8 2713.3L1800.3 2711.6L1800.8 2709.8L1801.3 2707.8L1801.8 2705.7L1802.3 2703.4L1802.4 2703.0L1802.8 2700.7L1803.3 2696.7L1803.8 2691.6L1804.3 2685.8L1804.8 2679.3L1805.3 2672.6L1805.8 2665.8L1806.3 2659.2L1806.8 2653.1L1806.9 2652.0L1807.3 2647.4L1807.8 2641.8L1808.3 2636.1L1808.8 2630.5L1809.3 2624.8L1809.8 2619.2L1810.3 2613.5L1810.8 2607.8L1811.3 2602.1L1811.4 2600.9L1811.8 2596.2L1812.3 2590.2L1812.8 2584.0L1813.3 2577.7L1813.8 2571.6L1814.3 2565.6L1814.8 2559.9L1815.3 2554.6L1815.8 2549.8L1816.3 2545.3L1816.8 2540.7L1817.3 2536.2L1817.8 2531.8L1818.3 2527.6L1818.8 2523.6L1819.3 2519.9L1819.8 2516.5L1820.3 2513.6L1820.8 2511.2L1821.3 2509.3L1821.4 2509.0L1821.8 2507.9L1822.3 2506.5L1822.8 2505.1L1823.3 2503.8L1823.8 2502.6L1824.3 2501.5L1824.8 2500.5L1825.3 2499.6L1825.8 2498.8L1826.3 2498.2L1826.8 2497.7L1827.3 2497.3L1827.8 2497.1L1828.1 2497.1L1828.3 2497.1L1828.8 2497.2L1829.3 2497.5L1829.8 2497.8L1830.3 2498.3L1830.8 2498.8L1831.3 2499.4L1831.8 2500.0L1832.3 2500.6L1832.8 2501.3L1833.3 2501.9L1833.6 2502.2L1833.8 2502.5L1834.3 2503.1L1834.8 2503.9L1835.3 2504.8L1835.8 2505.7L1836.3 2506.7L1836.8 2507.6L1837.3 2508.5L1837.8 2509.4L1838.3 2510.3L1838.8 2511.0L1839.3 2511.6L1839.8 2512.1L1840.3 2512.4L1840.8 2512.6L1841.3 2512.8L1841.8 2513.0L1842.3 2513.2L1842.8 2513.4L1843.3 2513.5L1843.8 2513.7L1844.3 2513.9L1844.8 2514.0L1845.3 2514.2L1845.8 2514.3L1846.3 2514.5L1846.8 2514.6L1847.3 2514.7L1847.8 2514.9L1848.3 2515.0L1848.8 2515.1L1849.3 2515.2L1849.8 2515.3L1850.3 2515.4L1850.8 2515.4L1851.3 2515.5L1851.8 2515.6L1852.3 2515.6L1852.8 2515.7L1853.3 2515.7L1853.8 2515.7L1854.3 2515.8L1854.8 2515.8L1855.3 2515.8L1855.8 2515.8L1855.9 2515.8L1856.3 2515.8L1856.8 2515.8L1857.3 2515.8L1857.8 2515.8L1858.3 2515.8L1858.8 2515.8L1859.3 2515.8L1859.8 2515.8L1860.3 2515.8L1860.8 2515.8L1861.3 2515.8L1861.8 2515.8L1862.3 2515.8L1862.8 2515.8L1863.3 2515.8L1863.8 2515.8L1864.3 2515.8L1864.8 2515.8L1865.3 2515.8L1865.8 2515.8L1866.3 2515.8L1866.8 2515.8L1867.3 2515.8L1867.8 2515.8L1868.3 2515.8L1868.8 2515.8L1869.3 2515.8L1869.8 2515.8L1870.3 2515.8L1870.8 2515.8L1871.3 2515.8L1871.8 2515.8L1872.3 2515.8L1872.8 2515.8L1873.3 2515.8L1873.8 2515.8L1874.3 2515.8L1874.8 2515.8L1875.3 2515.8L1875.8 2515.8L1876.3 2515.8L1876.8 2515.8L1877.3 2515.8L1877.8 2515.8L1878.2 2515.8L1878.3 2515.8L1878.8 2515.8L1879.3 2515.6L1879.8 2515.4L1880.3 2515.1L1880.8 2514.8L1881.3 2514.4L1881.8 2514.0L1882.3 2513.5L1882.8 2513.0L1883.3 2512.5L1883.8 2511.9L1884.3 2511.4L1884.8 2510.8L1884.9 2510.7L1885.3 2510.2L1885.8 2509.5L1886.3 2508.7L1886.8 2507.8L1887.3 2506.8L1887.8 2505.7L1888.3 2504.6L1888.8 2503.4L1889.3 2502.2L1889.8 2500.9L1890.3 2499.6L1890.8 2498.2L1891.3 2496.9L1891.8 2495.5L1892.3 2494.1L1892.8 2492.8L1893.3 2491.5L1893.8 2490.2L1894.3 2489.0L1894.8 2487.8L1895.3 2486.6L1895.8 2485.6L1896.0 2485.2L1896.3 2484.6L1896.8 2483.6L1897.3 2482.5L1897.8 2481.4L1898.3 2480.3L1898.8 2479.2L1899.3 2478.1L1899.8 2477.0L1900.3 2475.8L1900.8 2474.7L1901.3 2473.6L1901.8 2472.5L1902.3 2471.5L1902.8 2470.5L1903.3 2469.5L1903.8 2468.5L1904.3 2467.6L1904.8 2466.7L1905.3 2465.9L1905.8 2465.2L1906.3 2464.5L1906.8 2463.9L1907.3 2463.4L1907.8 2463.0L1908.3 2462.6L1908.8 2462.4L1909.3 2462.2L1909.4 2462.2L1909.8 2462.1L1910.3 2462.0L1910.8 2462.0L1911.3 2461.9L1911.8 2461.8L1912.3 2461.7L1912.8 2461.7L1913.3 2461.6L1913.8 2461.5L1914.3 2461.5L1914.8 2461.4L1915.3 2461.3L1915.8 2461.3L1916.3 2461.2L1916.8 2461.2L1917.3 2461.1L1917.8 2461.1L1918.3 2461.0L1918.8 2461.0L1919.3 2460.9L1919.8 2460.9L1920.3 2460.8L1920.8 2460.8L1921.3 2460.8L1921.8 2460.7L1922.3 2460.7L1922.8 2460.7L1923.3 2460.7L1923.8 2460.6L1924.3 2460.6L1924.8 2460.6L1925.3 2460.6L1925.8 2460.6L1926.3 2460.5L1926.8 2460.5L1927.3 2460.5L1927.8 2460.5L1928.3 2460.5L1928.8 2460.5L1929.3 2460.5L1929.4 2460.5L1929.8 2460.5L1930.3 2460.6L1930.8 2460.8L1931.3 2461.0L1931.8 2461.3L1932.3 2461.6L1932.8 2462.0L1933.3 2462.4L1933.8 2462.8L1934.3 2463.3L1934.8 2463.9L1935.3 2464.4L1935.8 2465.0L1936.3 2465.6L1936.8 2466.2L1937.3 2466.8L1937.8 2467.5L1938.3 2468.1L1938.8 2468.9L1939.3 2469.7L1939.8 2470.7L1940.3 2471.8L1940.8 2473.1L1941.3 2474.4L1941.8 2475.7L1942.3 2477.2L1942.8 2478.7L1943.3 2480.2L1943.8 2481.8L1944.3 2483.3L1944.8 2484.9L1945.3 2486.5L1945.8 2488.0L1946.3 2489.5L1946.8 2490.9L1947.2 2492.0L1947.3 2492.2L1947.8 2493.7L1948.3 2495.2L1948.8 2496.8L1949.3 2498.4L1949.8 2500.1L1950.3 2501.8L1950.8 2503.5L1951.3 2505.2L1951.8 2506.8L1952.3 2508.4L1952.8 2509.8L1953.3 2511.2L1953.8 2512.4L1954.3 2513.5L1954.8 2514.4L1955.3 2515.1L1955.8 2515.6L1956.1 2515.8L1956.3 2515.9L1956.8 2516.1L1957.3 2516.3L1957.8 2516.5L1958.3 2516.7L1958.8 2516.8L1959.3 2517.0L1959.8 2517.1L1960.3 2517.2L1960.8 2517.3L1961.3 2517.3L1961.8 2517.4L1962.3 2517.5L1962.8 2517.6L1963.3 2517.6L1963.8 2517.7L1964.3 2517.8L1964.8 2517.9L1965.3 2518.0L1965.8 2518.1L1966.3 2518.2L1966.8 2518.3L1967.3 2518.4L1967.8 2518.6L1968.3 2518.8L1968.8 2518.9L1969.3 2519.2L1969.5 2519.3L1969.8 2519.4L1970.3 2519.8L1970.8 2520.2L1971.3 2520.8L1971.8 2521.5L1972.3 2522.2L1972.8 2523.0L1973.3 2523.9L1973.8 2524.9L1974.3 2525.9L1974.8 2527.0L1975.3 2528.2L1975.8 2529.4L1976.3 2530.6L1976.8 2531.9L1977.3 2533.2L1977.8 2534.6L1978.3 2535.9L1978.4 2536.2L1978.8 2537.4L1979.3 2539.0L1979.8 2540.7L1980.3 2542.6L1980.8 2544.7L1981.3 2546.9L1981.8 2549.2L1982.3 2551.6L1982.8 2554.1L1983.3 2556.7L1983.8 2559.5L1984.3 2562.2L1984.8 2565.1L1985.1 2566.9L1985.3 2568.1L1985.8 2571.7L1986.3 2575.8L1986.8 2580.3L1987.3 2584.9L1987.8 2589.3L1988.3 2593.5L1988.8 2597.1L1989.3 2600.0L1989.5 2600.9L1989.8 2602.1L1990.3 2604.2L1990.8 2606.1L1991.3 2607.9L1991.8 2609.6L1992.3 2611.1L1992.8 2612.3L1993.3 2613.3L1993.8 2613.9L1994.3 2614.1L1994.8 2613.8L1995.3 2613.1L1995.8 2612.0L1996.3 2610.5L1996.8 2608.6L1997.3 2606.5L1997.8 2604.1L1998.3 2601.4L1998.8 2598.5L1999.3 2595.5L1999.8 2592.4L2000.3 2589.1L2000.8 2585.9L2001.1 2583.9L2001.3 2582.5L2001.8 2578.0L2002.3 2572.6L2002.8 2566.5L2003.3 2560.0L2003.8 2553.4L2004.3 2546.9L2004.8 2540.8L2005.3 2535.5L2005.6 2532.9L2005.8 2531.2L2006.3 2527.2L2006.8 2523.4L2007.3 2519.7L2007.8 2516.2L2008.3 2512.8L2008.8 2509.6L2009.3 2506.5L2009.8 2503.5L2010.3 2500.7L2010.8 2497.9L2011.3 2495.3L2011.8 2492.8L2012.3 2490.3L2012.8 2487.9L2013.3 2485.5L2013.8 2483.2L2014.3 2480.9L2014.8 2478.7L2015.3 2476.5L2015.8 2474.4L2016.3 2472.4L2016.8 2470.4L2017.3 2468.5L2017.8 2466.6L2018.3 2464.8L2018.8 2463.1L2019.3 2461.5L2019.8 2460.0L2020.3 2458.6L2020.8 2457.3L2021.2 2456.3L2021.3 2456.1L2021.8 2454.9L2022.3 2453.7L2022.8 2452.6L2023.3 2451.5L2023.8 2450.4L2024.3 2449.4L2024.8 2448.4L2025.3 2447.4L2025.8 2446.5L2026.3 2445.7L2026.8 2444.9L2027.3 2444.1L2027.8 2443.4L2028.3 2442.7L2028.8 2442.2L2029.3 2441.6L2029.8 2441.2L2030.1 2440.9L2030.3 2440.8L2030.8 2440.4L2031.3 2440.1L2031.8 2439.7L2032.3 2439.4L2032.8 2439.0L2033.3 2438.7L2033.8 2438.4L2034.3 2438.1L2034.8 2437.8L2035.3 2437.5L2035.8 2437.3L2036.3 2437.0L2036.8 2436.8L2037.3 2436.6L2037.8 2436.4L2038.3 2436.3L2038.8 2436.1L2039.3 2436.0L2039.8 2435.9L2040.3 2435.9L2040.8 2435.8L2041.2 2435.8L2041.3 2435.8L2041.8 2435.8L2042.3 2435.9L2042.8 2435.9L2043.3 2436.0L2043.8 2436.1L2044.3 2436.1L2044.8 2436.3L2045.3 2436.4L2045.8 2436.5L2046.3 2436.7L2046.8 2436.8L2047.3 2437.0L2047.8 2437.2L2048.3 2437.4L2048.8 2437.6L2049.3 2437.8L2049.8 2438.0L2050.3 2438.2L2050.8 2438.5L2051.3 2438.7L2051.8 2439.0L2052.3 2439.2L2052.4 2439.3L2052.8 2439.5L2053.3 2439.8L2053.8 2440.3L2054.3 2440.7L2054.8 2441.3L2055.3 2441.9L2055.8 2442.5L2056.3 2443.2L2056.8 2444.0L2057.3 2444.8L2057.8 2445.7L2058.3 2446.6L2058.8 2447.5L2059.3 2448.5L2059.8 2449.5L2060.3 2450.6L2060.8 2451.7L2061.3 2452.9L2061.3 2452.9L2061.8 2454.1L2062.3 2455.6L2062.8 2457.2L2063.3 2459.0L2063.8 2460.9L2064.3 2463.0L2064.8 2465.2L2065.3 2467.6L2065.8 2470.0L2066.3 2472.6L2066.8 2475.2L2067.3 2477.9L2067.8 2480.7L2068.0 2481.8L2068.3 2483.6L2068.8 2486.8L2069.3 2490.3L2069.8 2494.1L2070.3 2498.1L2070.8 2502.2L2071.3 2506.4L2071.8 2510.7L2072.3 2515.0L2072.4 2515.8L2072.8 2519.4L2073.3 2524.3L2073.8 2529.5L2074.3 2534.8L2074.8 2540.2L2075.3 2545.3L2075.8 2550.0L2076.3 2554.3L2076.8 2557.8L2076.9 2558.4L2077.3 2560.7L2077.8 2563.5L2078.3 2566.1L2078.8 2568.6L2079.3 2570.9L2079.8 2572.9L2080.3 2574.6L2080.8 2576.0L2081.3 2577.1L2081.3 2577.1L2081.8 2577.9L2082.3 2578.7L2082.8 2579.5L2083.3 2580.1L2083.8 2580.7L2084.3 2581.3L2084.8 2581.7L2085.3 2582.0L2085.8 2582.2L2086.2 2582.2L2086.3 2582.2L2086.8 2582.0L2087.3 2581.4L2087.8 2580.6L2088.3 2579.6L2088.8 2578.3L2089.3 2576.9L2089.8 2575.3L2090.3 2573.7L2090.8 2572.0L2091.3 2570.3L2091.3 2570.3L2091.8 2568.3L2092.3 2565.7L2092.8 2562.6L2093.3 2559.2L2093.8 2555.5L2094.3 2551.7L2094.8 2547.8L2095.3 2543.9L2095.8 2540.1L2096.3 2536.6L2096.8 2533.4L2096.9 2532.9L2097.3 2530.6L2097.8 2527.8L2098.3 2525.0L2098.8 2522.4L2099.3 2519.8L2099.8 2517.2L2100.3 2514.7L2100.8 2512.3L2101.3 2509.8L2101.8 2507.4L2102.3 2505.0L2102.8 2502.6L2103.3 2500.2L2103.6 2498.8L2103.8 2497.8L2104.3 2495.4L2104.8 2493.0L2105.3 2490.7L2105.8 2488.3L2106.3 2486.0L2106.8 2483.7L2107.3 2481.4L2107.8 2479.2L2108.3 2476.9L2108.8 2474.7L2109.3 2472.5L2109.8 2470.3L2110.3 2468.1L2110.3 2468.1L2110.8 2465.9L2111.3 2463.6L2111.8 2461.2L2112.3 2458.8L2112.8 2456.4L2113.3 2454.0L2113.8 2451.7L2114.3 2449.5L2114.8 2447.4L2115.3 2445.5L2115.8 2443.9L2116.3 2442.4L2116.8 2441.3L2117.0 2440.9L2117.3 2440.4L2117.8 2439.6L2118.3 2438.9L2118.8 2438.1L2119.3 2437.5L2119.8 2436.8L2120.3 2436.2L2120.8 2435.6L2121.3 2435.0L2121.8 2434.5L2122.3 2434.0L2122.8 2433.5L2123.3 2433.0L2123.8 2432.6L2124.3 2432.2L2124.8 2431.8L2125.3 2431.5L2125.8 2431.1L2126.3 2430.8L2126.8 2430.5L2127.3 2430.3L2127.8 2430.0L2128.1 2429.9L2128.3 2429.8L2128.8 2429.5L2129.3 2429.3L2129.8 2429.1L2130.3 2428.9L2130.8 2428.7L2131.3 2428.5L2131.8 2428.3L2132.3 2428.2L2132.8 2428.0L2133.3 2427.8L2133.8 2427.7L2134.3 2427.5L2134.8 2427.3L2135.3 2427.2L2135.8 2427.1L2136.3 2426.9L2136.8 2426.8L2137.3 2426.6L2137.8 2426.5L2138.3 2426.4L2138.8 2426.3L2139.3 2426.2L2139.8 2426.0L2140.3 2425.9L2140.8 2425.8L2141.3 2425.7L2141.8 2425.6L2142.3 2425.5L2142.8 2425.4L2143.3 2425.3L2143.8 2425.2L2144.3 2425.1L2144.8 2425.0L2145.3 2424.9L2145.8 2424.8L2145.9 2424.7L2146.3 2424.7L2146.8 2424.6L2147.3 2424.5L2147.8 2424.3L2148.3 2424.2L2148.8 2424.1L2149.3 2424.0L2149.8 2423.9L2150.3 2423.8L2150.8 2423.7L2151.3 2423.6L2151.8 2423.5L2152.3 2423.4L2152.8 2423.3L2153.3 2423.2L2153.8 2423.1L2154.3 2423.0L2154.8 2422.9L2155.3 2422.8L2155.8 2422.7L2156.3 2422.6L2156.8 2422.5L2157.3 2422.5L2157.8 2422.4L2158.3 2422.3L2158.8 2422.2L2159.3 2422.2L2159.8 2422.1L2160.3 2422.1L2160.8 2422.0L2161.3 2422.0L2161.8 2422.0L2162.3 2421.9L2162.8 2421.9L2163.3 2421.9L2163.7 2421.9L2163.8 2421.9L2164.3 2422.0L2164.8 2422.2L2165.3 2422.5L2165.8 2422.8L2166.3 2423.2L2166.8 2423.7L2167.3 2424.2L2167.8 2424.7L2168.3 2425.2L2168.8 2425.7L2169.3 2426.2L2169.8 2426.7L2170.3 2427.1L2170.8 2427.5L2171.3 2427.8L2171.8 2428.0L2172.3 2428.2L2172.6 2428.2L2172.8 2428.2L2173.3 2428.2L2173.8 2428.1L2174.3 2428.0L2174.8 2427.9L2175.3 2427.7L2175.8 2427.6L2176.3 2427.4L2176.8 2427.2L2177.3 2427.0L2177.8 2426.8L2178.3 2426.5L2178.8 2426.3L2179.3 2426.0L2179.8 2425.8L2180.3 2425.6L2180.8 2425.3L2181.3 2425.1L2181.8 2424.9L2182.3 2424.7L2182.8 2424.5L2183.3 2424.4L2183.8 2424.2L2184.3 2424.1L2184.8 2424.0L2185.3 2423.9L2185.8 2423.9L2186.0 2423.9L2186.3 2423.9L2186.8 2424.0L2187.3 2424.1L2187.8 2424.2L2188.3 2424.4L2188.8 2424.7L2189.3 2424.9L2189.8 2425.2L2190.3 2425.6L2190.8 2425.9L2191.3 2426.3L2191.8 2426.6L2192.3 2427.0L2192.7 2427.3L2192.8 2427.4L2193.3 2427.9L2193.8 2428.4L2194.3 2429.1L2194.8 2429.8L2195.3 2430.6L2195.8 2431.5L2196.3 2432.4L2196.8 2433.4L2197.3 2434.4L2197.8 2435.5L2198.3 2436.6L2198.8 2437.7L2199.3 2438.9L2199.8 2440.1L2200.3 2441.3L2200.8 2442.5L2201.3 2443.7L2201.6 2444.4L2201.8 2444.9L2202.3 2446.1L2202.8 2447.4L2203.3 2448.8L2203.8 2450.2L2204.3 2451.7L2204.8 2453.2L2205.3 2454.7L2205.8 2456.3L2206.3 2458.0L2206.8 2459.6L2207.3 2461.3L2207.8 2463.0L2208.3 2464.8L2208.3 2464.8L2208.8 2466.7L2209.3 2468.9L2209.8 2471.3L2210.3 2473.9L2210.8 2476.5L2211.3 2479.1L2211.8 2481.7L2212.3 2484.1L2212.8 2486.4L2213.3 2488.3L2213.8 2489.9L2214.3 2491.2L2214.8 2491.9L2214.9 2492.0L2215.3 2492.3L2215.8 2492.6L2216.3 2492.9L2216.8 2493.1L2217.3 2493.4L2217.8 2493.6L2218.3 2493.8L2218.8 2494.0L2219.3 2494.2L2219.8 2494.3L2220.3 2494.5L2220.8 2494.6L2221.3 2494.7L2221.8 2494.9L2222.3 2495.0L2222.8 2495.1L2223.3 2495.3L2223.8 2495.4L2223.9 2495.4L2224.3 2495.5L2224.8 2495.7L2225.3 2495.8L2225.8 2496.0L2226.3 2496.1L2226.8 2496.3L2227.3 2496.4L2227.8 2496.6L2228.3 2496.7L2228.8 2496.9L2229.3 2497.0L2229.8 2497.1L2230.3 2497.3L2230.8 2497.4L2231.3 2497.6L2231.8 2497.7L2232.3 2497.8L2232.8 2497.9L2233.3 2498.0L2233.8 2498.1L2234.3 2498.2L2234.8 2498.3L2235.3 2498.4L2235.8 2498.5L2236.3 2498.6L2236.8 2498.6L2237.3 2498.7L2237.8 2498.7L2238.3 2498.8L2238.8 2498.8L2239.3 2498.8L2239.4 2498.8L2239.8 2498.8L2240.3 2498.7L2240.8 2498.6L2241.3 2498.4L2241.8 2498.3L2242.3 2498.0L2242.8 2497.8L2243.3 2497.5L2243.8 2497.2L2244.3 2496.9L2244.8 2496.6L2245.3 2496.2L2245.8 2495.9L2246.3 2495.5L2246.8 2495.1L2247.3 2494.8L2247.8 2494.4L2247.9 2494.3L2248.3 2494.1L2248.8 2493.7L2249.3 2493.3L2249.8 2492.8L2250.3 2492.4L2250.8 2491.9L2251.3 2491.4L2251.8 2490.9L2252.3 2490.3L2252.8 2489.8L2253.3 2489.2L2253.8 2488.6L2254.3 2487.9L2254.8 2487.3L2255.3 2486.6L2255.8 2485.9L2255.8 2485.9L2256.3 2485.2L2256.8 2484.4L2257.3 2483.5L2257.8 2482.5L2258.3 2481.5L2258.8 2480.5L2259.3 2479.4L2259.8 2478.4L2260.3 2477.3L2260.8 2476.3L2261.3 2475.3L2261.8 2474.4L2262.1 2473.9L2262.3 2473.5L2262.8 2472.6L2263.3 2471.7L2263.8 2470.8L2264.3 2469.8L2264.8 2468.9L2265.3 2468.0L2265.8 2467.2L2266.3 2466.4L2266.8 2465.7L2267.3 2465.1L2267.8 2464.6L2268.3 2464.3L2268.4 2464.2L2268.8 2464.1L2269.3 2463.9L2269.8 2463.7L2270.3 2463.6L2270.8 2463.4L2271.3 2463.3L2271.8 2463.2L2272.3 2463.1L2272.8 2463.0L2273.3 2462.9L2273.8 2462.7L2274.3 2462.6L2274.7 2462.4L2274.8 2462.4L2275.3 2462.1L2275.8 2461.8L2276.3 2461.4L2276.8 2461.0L2277.3 2460.5L2277.8 2460.1L2278.3 2459.6L2278.8 2459.0L2279.3 2458.5L2279.8 2458.0L2280.3 2457.5L2280.8 2457.1L2281.3 2456.7L2281.8 2456.3L2282.3 2455.9L2282.6 2455.8L2282.8 2455.7L2283.3 2455.4L2283.8 2455.1L2284.3 2454.8L2284.8 2454.6L2285.3 2454.3L2285.8 2454.0L2286.3 2453.8L2286.8 2453.5L2287.3 2453.3L2287.8 2453.1L2288.3 2452.8L2288.8 2452.6L2289.3 2452.4L2289.8 2452.3L2290.3 2452.1L2290.8 2452.0L2291.3 2451.8L2291.8 2451.7L2292.3 2451.7L2292.8 2451.6L2293.3 2451.6L2293.6 2451.6L2293.8 2451.6L2294.3 2451.6L2294.8 2451.8L2295.3 2452.0L2295.8 2452.3L2296.3 2452.7L2296.8 2453.1L2297.3 2453.5L2297.8 2454.1L2298.3 2454.7L2298.8 2455.3L2299.3 2456.0L2299.8 2456.7L2300.0 2457.0L2300.3 2457.6L2300.8 2458.9L2301.3 2460.8L2301.8 2462.9L2302.3 2465.3L2302.8 2467.7L2303.1 2469.1L2303.3 2470.1L2303.8 2473.2L2304.3 2476.7L2304.8 2480.4L2305.3 2483.6L2305.8 2486.0L2306.3 2487.1L2306.3 2487.1L2306.8 2487.3L2307.3 2487.5L2307.8 2487.6L2308.3 2487.7L2308.8 2487.8L2309.3 2487.9L2309.8 2488.1L2310.2 2488.3L2310.3 2488.4L2310.8 2489.8L2311.3 2492.4L2311.8 2496.0L2312.3 2500.3L2312.8 2504.9L2313.3 2509.6L2313.8 2514.1L2314.2 2517.3L2314.3 2518.0L2314.8 2521.8L2315.3 2525.6L2315.8 2529.4L2316.3 2533.3L2316.8 2537.1L2317.3 2541.0L2317.8 2544.9L2318.3 2548.8L2318.8 2552.6L2318.9 2553.4L2319.3 2556.6L2319.8 2560.7L2320.3 2565.0L2320.8 2569.3L2321.3 2573.5L2321.8 2577.6L2322.3 2581.5L2322.8 2584.9L2323.3 2588.0L2323.6 2589.5L2323.8 2590.5L2324.3 2593.0L2324.8 2595.5L2325.3 2597.9L2325.8 2600.2L2326.3 2602.4L2326.8 2604.3L2327.3 2605.9L2327.8 2607.3L2328.3 2608.2L2328.8 2608.8L2329.1 2608.9L2329.3 2608.6L2329.8 2606.3L2330.3 2601.9L2330.8 2596.2L2331.3 2590.0L2331.8 2583.9L2332.3 2578.7L2332.8 2575.0L2333.1 2573.9L2333.3 2573.4L2333.8 2572.4L2334.3 2571.4L2334.8 2570.5L2335.3 2569.7L2335.8 2569.1L2336.3 2568.6L2336.8 2568.2L2337.3 2567.9L2337.8 2567.8L2337.8 2567.8L2338.3 2568.3L2338.8 2569.5L2339.3 2571.1L2339.8 2572.8L2340.3 2574.2L2340.8 2575.0L2341.0 2575.1L2341.3 2574.9L2341.8 2573.8L2342.3 2571.9L2342.8 2569.2L2343.3 2565.9L2343.8 2562.0L2344.3 2557.8L2344.8 2553.2L2345.3 2548.4L2345.8 2543.5L2346.3 2538.6L2346.8 2533.8L2347.3 2529.3L2347.3 2529.3L2347.8 2524.4L2348.3 2518.5L2348.8 2511.8L2349.3 2504.8L2349.8 2497.7L2350.3 2490.8L2350.8 2484.5L2351.3 2478.9L2351.8 2474.5L2352.3 2471.5L2352.8 2470.2L2352.8 2470.2L2353.3 2469.9L2353.8 2469.6L2354.3 2469.4L2354.8 2469.2L2355.3 2469.1L2355.8 2469.1L2356.0 2469.1" fill="none" stroke="#0000ff" stroke-width="5" stroke-linejoin="round" stroke-linecap="round"/>
<path d="M1413.0 2308.6L1414.0 2310.1L1415.0 2305.3L1416.0 2308.8L1417.0 2310.8L1418.0 2311.8L1419.0 2311.4L1420.0 2313.0L1421.0 2311.9L1422.0 2312.7L1423.0 2312.6L1424.0 2311.3L1425.0 2311.8L1425.5 2313.4L1426.0 2312.3L1427.0 2314.8L1428.0 2314.9L1429.0 2315.7L1430.0 2313.6L1431.0 2315.4L1432.0 2312.7L1433.0 2313.0L1434.0 2314.2L1435.0 2314.6L1436.0 2312.4L1437.0 2312.3L1438.0 2315.0L1439.0 2313.6L1440.0 2316.3L1441.0 2315.3L1442.0 2315.3L1443.0 2315.3L1444.0 2316.2L1445.0 2315.0L1446.0 2316.6L1447.0 2314.7L1448.0 2315.1L1449.0 2314.6L1450.0 2316.3L1451.0 2315.6L1452.0 2314.5L1453.0 2318.1L1454.0 2315.2L1455.0 2315.6L1456.0 2316.2L1457.0 2318.0L1458.0 2315.6L1459.0 2316.7L1460.0 2315.9L1461.0 2314.0L1461.8 2316.8L1462.0 2317.1L1463.0 2315.5L1464.0 2315.8L1465.0 2313.9L1466.0 2313.9L1467.0 2315.3L1468.0 2316.5L1469.0 2315.1L1470.0 2316.0L1471.0 2316.8L1472.0 2315.7L1473.0 2316.3L1474.0 2317.3L1475.0 2313.9L1476.0 2316.3L1477.0 2312.9L1478.0 2315.8L1479.0 2315.4L1480.0 2314.4L1481.0 2313.7L1482.0 2314.9L1483.0 2314.4L1484.0 2314.9L1485.0 2313.6L1486.0 2315.3L1487.0 2313.2L1488.0 2314.1L1489.0 2313.9L1490.0 2315.9L1491.0 2312.3L1492.0 2313.5L1493.0 2315.5L1494.0 2313.0L1495.0 2312.2L1496.0 2314.0L1497.0 2313.2L1498.0 2314.5L1499.0 2312.2L1500.0 2313.5L1501.0 2314.0L1502.0 2314.4L1503.0 2311.6L1504.0 2314.7L1505.0 2311.6L1506.0 2310.7L1507.0 2311.3L1508.0 2312.6L1509.0 2311.9L1510.0 2312.8L1511.0 2312.8L1512.0 2312.4L1513.0 2311.6L1514.0 2314.2L1515.0 2308.9L1516.0 2309.5L1517.0 2310.9L1517.6 2309.9L1518.0 2308.2L1519.0 2310.4L1520.0 2310.3L1521.0 2308.1L1522.0 2312.2L1523.0 2312.6L1524.0 2312.5L1525.0 2310.1L1526.0 2310.8L1527.0 2309.1L1528.0 2310.7L1529.0 2309.4L1530.0 2310.7L1531.0 2309.6L1532.0 2311.2L1533.0 2310.8L1534.0 2311.2L1535.0 2307.5L1536.0 2307.0L1537.0 2309.8L1538.0 2308.4L1539.0 2309.5L1540.0 2309.2L1541.0 2308.9L1542.0 2309.7L1543.0 2309.1L1544.0 2308.9L1545.0 2307.0L1546.0 2310.2L1547.0 2308.0L1548.0 2309.1L1549.0 2308.0L1550.0 2309.0L1551.0 2307.5L1552.0 2307.4L1553.0 2307.2L1554.0 2305.9L1555.0 2306.0L1556.0 2306.4L1557.0 2306.3L1558.0 2305.0L1559.0 2309.2L1560.0 2304.8L1561.0 2305.5L1562.0 2309.0L1563.0 2304.8L1564.0 2306.6L1565.0 2306.3L1566.0 2305.1L1567.0 2303.4L1568.0 2303.1L1569.0 2305.0L1570.0 2305.5L1571.0 2302.0L1572.0 2304.9L1573.0 2303.8L1574.0 2305.7L1575.0 2304.7L1576.0 2303.4L1577.0 2303.8L1578.0 2304.3L1579.0 2305.9L1580.0 2308.1L1581.0 2304.6L1582.0 2304.2L1583.0 2304.9L1584.0 2304.0L1585.0 2304.8L1586.0 2304.5L1587.0 2304.0L1588.0 2302.9L1589.0 2304.2L1590.0 2305.1L1590.1 2304.1L1591.0 2306.0L1592.0 2305.4L1593.0 2304.2L1594.0 2307.0L1595.0 2303.7L1596.0 2307.1L1597.0 2308.5L1598.0 2306.3L1599.0 2307.1L1600.0 2309.0L1601.0 2310.3L1602.0 2309.5L1603.0 2309.8L1604.0 2311.2L1605.0 2310.8L1606.0 2309.3L1607.0 2311.0L1608.0 2311.5L1609.0 2309.7L1609.6 2312.2L1610.0 2310.7L1611.0 2312.7L1612.0 2309.8L1613.0 2310.6L1614.0 2309.9L1615.0 2313.6L1616.0 2313.6L1617.0 2313.9L1618.0 2313.9L1619.0 2313.2L1620.0 2313.2L1621.0 2309.8L1622.0 2312.6L1623.0 2311.5L1624.0 2311.8L1625.0 2310.6L1626.0 2314.0L1627.0 2312.5L1628.0 2310.3L1629.0 2313.0L1630.0 2312.2L1631.0 2310.9L1632.0 2311.9L1633.0 2311.3L1634.0 2309.3L1635.0 2310.3L1636.0 2313.0L1637.0 2312.8L1638.0 2312.7L1639.0 2310.8L1640.0 2311.5L1641.0 2312.4L1642.0 2313.3L1643.0 2311.2L1644.0 2311.0L1645.0 2313.9L1646.0 2312.5L1647.0 2311.9L1648.0 2311.4L1649.0 2311.5L1650.0 2314.5L1651.0 2313.7L1652.0 2311.9L1653.0 2310.8L1654.0 2314.7L1655.0 2314.5L1656.0 2314.1L1657.0 2313.6L1658.0 2309.9L1659.0 2310.7L1660.0 2313.2L1661.0 2312.0L1662.0 2312.7L1663.0 2311.6L1664.0 2311.4L1665.0 2313.0L1666.0 2311.7L1667.0 2312.2L1668.0 2312.5L1669.0 2312.4L1670.0 2313.6L1671.0 2313.8L1672.0 2310.1L1673.0 2311.5L1674.0 2310.9L1675.0 2312.8L1676.0 2310.2L1677.0 2312.6L1678.0 2312.5L1679.0 2312.2L1680.0 2310.1L1681.0 2311.0L1682.0 2309.8L1683.0 2311.7L1684.0 2312.4L1685.0 2308.9L1686.0 2309.8L1687.0 2310.6L1688.0 2310.0L1689.0 2312.7L1690.0 2310.4L1691.0 2310.9L1692.0 2309.0L1693.0 2312.5L1694.0 2310.6L1695.0 2311.3L1696.0 2310.3L1697.0 2307.3L1698.0 2307.9L1699.0 2308.3L1700.0 2310.6L1701.0 2309.2L1702.0 2310.4L1703.0 2310.2L1704.0 2310.1L1705.0 2311.0L1706.0 2309.9L1707.0 2307.4L1708.0 2308.7L1709.0 2311.9L1710.0 2308.1L1711.0 2311.4L1712.0 2311.8L1712.8 2308.8L1713.0 2310.0L1714.0 2307.7L1715.0 2310.6L1716.0 2308.5L1717.0 2307.8L1718.0 2309.1L1719.0 2309.0L1720.0 2308.8L1721.0 2309.9L1722.0 2309.4L1723.0 2308.7L1724.0 2311.0L1725.0 2313.0L1726.0 2309.8L1727.0 2308.8L1728.0 2308.4L1729.0 2310.6L1730.0 2309.5L1731.0 2309.9L1732.0 2307.1L1733.0 2308.4L1734.0 2308.4L1735.0 2311.3L1736.0 2309.7L1737.0 2306.7L1738.0 2310.8L1739.0 2311.7L1740.0 2312.0L1741.0 2306.4L1742.0 2310.6L1743.0 2311.5L1744.0 2311.3L1745.0 2310.2L1746.0 2308.1L1747.0 2310.1L1748.0 2310.3L1749.0 2311.6L1750.0 2311.8L1751.0 2310.6L1752.0 2312.2L1753.0 2309.7L1754.0 2310.3L1755.0 2311.3L1756.0 2312.2L1757.0 2311.1L1758.0 2313.3L1759.0 2312.3L1760.0 2310.5L1761.0 2312.1L1762.0 2310.9L1763.0 2310.9L1764.0 2310.4L1765.0 2314.4L1766.0 2313.9L1767.0 2310.5L1768.0 2314.4L1768.6 2314.3L1769.0 2312.5L1770.0 2314.1L1771.0 2317.2L1772.0 2315.3L1773.0 2316.5L1774.0 2318.7L1775.0 2316.9L1776.0 2317.9L1777.0 2319.0L1778.0 2322.2L1779.0 2324.7L1779.8 2323.2L1780.0 2322.8L1781.0 2326.1L1782.0 2326.5L1783.0 2329.1L1784.0 2329.4L1785.0 2330.6L1786.0 2332.1L1787.0 2333.6L1788.0 2333.5L1789.0 2334.6L1790.0 2339.7L1791.0 2343.0L1792.0 2341.5L1793.0 2338.8L1794.0 2342.2L1795.0 2344.8L1796.0 2341.8L1796.5 2343.8L1797.0 2344.3L1798.0 2344.5L1799.0 2345.5L1800.0 2348.9L1801.0 2347.7L1802.0 2348.8L1803.0 2352.3L1804.0 2349.3L1805.0 2348.3L1806.0 2352.3L1807.0 2354.5L1807.7 2352.0L1808.0 2352.1L1809.0 2349.9L1810.0 2350.4L1811.0 2353.7L1812.0 2353.4L1813.0 2352.5L1814.0 2350.8L1815.0 2350.0L1816.0 2350.2L1817.0 2350.0L1818.0 2352.5L1819.0 2350.5L1820.0 2350.9L1821.0 2352.6L1822.0 2352.6L1823.0 2351.7L1824.0 2352.3L1825.0 2351.6L1826.0 2348.9L1827.0 2351.5L1828.0 2351.0L1829.0 2351.1L1830.0 2351.9L1831.0 2350.8L1832.0 2353.3L1833.0 2351.4L1834.0 2351.8L1835.0 2352.1L1836.0 2351.4L1837.0 2352.5L1838.0 2352.7L1838.4 2352.5L1839.0 2350.6L1840.0 2350.3L1841.0 2350.8L1842.0 2351.7L1843.0 2349.2L1844.0 2350.7L1845.0 2350.4L1846.0 2351.2L1847.0 2351.0L1848.0 2353.7L1849.0 2353.4L1850.0 2354.3L1851.0 2351.7L1852.0 2352.2L1853.0 2353.1L1854.0 2356.2L1855.0 2356.4L1856.0 2353.4L1857.0 2355.4L1858.0 2357.8L1859.0 2353.5L1860.0 2354.9L1861.0 2357.3L1862.0 2356.7L1863.0 2354.5L1864.0 2358.3L1865.0 2357.7L1866.0 2357.5L1867.0 2354.9L1868.0 2356.6L1869.0 2358.9L1870.0 2357.8L1871.0 2358.4L1872.0 2357.0L1873.0 2359.6L1874.0 2357.1L1875.0 2358.9L1876.0 2358.0L1877.0 2356.1L1878.0 2359.6L1879.0 2355.7L1880.0 2356.4L1881.0 2357.6L1882.0 2355.3L1883.0 2354.7L1884.0 2357.0L1885.0 2356.5L1886.0 2356.6L1887.0 2357.6L1888.0 2360.0L1889.0 2356.1L1890.0 2360.1L1891.0 2356.8L1892.0 2356.2L1893.0 2352.3L1894.0 2353.8L1895.0 2356.2L1896.0 2356.5L1897.0 2354.4L1898.0 2355.8L1899.0 2356.5L1900.0 2354.3L1901.0 2352.6L1902.0 2353.4L1903.0 2354.2L1904.0 2354.9L1905.0 2355.4L1906.0 2352.8L1907.0 2354.1L1908.0 2353.5L1909.0 2353.8L1910.0 2355.2L1911.0 2355.3L1912.0 2352.6L1913.0 2352.3L1914.0 2352.1L1915.0 2352.2L1916.0 2352.2L1917.0 2352.4L1918.0 2351.8L1919.0 2350.8L1920.0 2350.5L1921.0 2352.1L1922.0 2355.4L1923.0 2352.5L1924.0 2352.5L1925.0 2351.9L1926.0 2351.0L1927.0 2353.9L1928.0 2350.4L1929.0 2349.2L1930.0 2348.7L1931.0 2350.6L1932.0 2348.7L1933.0 2348.7L1934.0 2348.5L1935.0 2347.7L1936.0 2349.7L1937.0 2346.8L1938.0 2352.4L1939.0 2344.9L1940.0 2346.7L1941.0 2348.6L1942.0 2349.0L1943.0 2347.7L1944.0 2348.5L1945.0 2348.2L1946.0 2348.0L1947.0 2348.5L1948.0 2347.8L1949.0 2347.2L1950.0 2347.0L1951.0 2348.4L1952.0 2346.7L1953.0 2347.7L1954.0 2349.1L1955.0 2347.2L1956.0 2348.3L1957.0 2345.8L1958.0 2346.8L1959.0 2347.0L1960.0 2346.6L1961.0 2346.9L1962.0 2348.2L1963.0 2345.6L1964.0 2345.0L1965.0 2346.5L1966.0 2343.8L1967.0 2345.9L1967.1 2347.7L1968.0 2345.9L1969.0 2346.8L1970.0 2346.6L1971.0 2347.8L1972.0 2346.9L1973.0 2346.5L1974.0 2341.3L1975.0 2345.6L1976.0 2347.5L1977.0 2346.3L1978.0 2345.5L1979.0 2348.1L1980.0 2345.6L1981.0 2346.5L1982.0 2348.2L1983.0 2346.6L1984.0 2347.8L1985.0 2347.7L1986.0 2346.1L1987.0 2347.3L1988.0 2347.8L1989.0 2347.6L1989.9 2350.4L1990.0 2348.7L1991.0 2348.2L1992.0 2347.8L1993.0 2350.2L1994.0 2353.6L1995.0 2352.3L1996.0 2355.0L1997.0 2355.6L1998.0 2355.1L1999.0 2355.2L2000.0 2358.0L2001.0 2354.9L2001.3 2358.3L2002.0 2355.7L2003.0 2358.7L2004.0 2356.8L2005.0 2357.3L2006.0 2358.9L2007.0 2355.8L2008.0 2357.4L2009.0 2356.8L2010.0 2358.0L2011.0 2358.2L2012.0 2357.5L2013.0 2357.3L2014.0 2356.3L2015.0 2357.8L2016.0 2356.5L2017.0 2356.9L2018.0 2357.0L2019.0 2354.6L2020.0 2354.9L2021.0 2356.8L2022.0 2356.4L2023.0 2358.2L2024.0 2352.7L2025.0 2356.6L2026.0 2357.8L2027.0 2356.3L2028.0 2357.3L2029.0 2356.1L2030.0 2356.0L2031.0 2357.4L2032.0 2354.1L2032.6 2352.7L2033.0 2356.8L2034.0 2356.3L2035.0 2356.3L2036.0 2356.6L2037.0 2357.2L2038.0 2355.7L2039.0 2357.2L2040.0 2357.1L2041.0 2355.1L2042.0 2356.7L2043.0 2357.5L2044.0 2356.1L2045.0 2359.0L2046.0 2357.2L2047.0 2359.0L2048.0 2360.2L2049.0 2356.0L2050.0 2356.3L2051.0 2359.4L2052.0 2358.3L2053.0 2359.5L2054.0 2361.4L2055.0 2358.2L2056.0 2360.3L2057.0 2358.7L2058.0 2358.1L2058.2 2359.8L2059.0 2359.4L2060.0 2360.4L2061.0 2358.8L2062.0 2359.1L2063.0 2357.9L2064.0 2353.8L2065.0 2355.0L2066.0 2354.1L2067.0 2355.1L2068.0 2351.3L2069.0 2352.3L2070.0 2350.5L2071.0 2347.7L2072.0 2349.6L2073.0 2350.3L2074.0 2348.4L2075.0 2350.2L2075.3 2349.4L2076.0 2349.4L2077.0 2348.4L2078.0 2349.4L2079.0 2350.9L2080.0 2351.0L2081.0 2350.0L2082.0 2352.5L2083.0 2354.4L2084.0 2356.5L2085.0 2357.1L2086.0 2355.3L2087.0 2358.8L2088.0 2356.2L2089.0 2358.3L2090.0 2358.7L2091.0 2362.6L2092.0 2361.5L2092.4 2361.0L2093.0 2359.5L2094.0 2362.1L2095.0 2359.2L2096.0 2359.6L2097.0 2359.7L2098.0 2356.5L2099.0 2356.8L2100.0 2351.8L2101.0 2354.7L2102.0 2350.2L2103.0 2352.6L2104.0 2351.6L2105.0 2351.4L2106.0 2353.9L2106.6 2346.5L2107.0 2351.0L2108.0 2349.7L2109.0 2351.5L2110.0 2350.9L2111.0 2350.6L2112.0 2349.8L2113.0 2349.5L2114.0 2351.4L2115.0 2348.4L2116.0 2352.9L2117.0 2350.3L2118.0 2352.3L2119.0 2349.5L2120.0 2352.8L2121.0 2351.7L2122.0 2353.9L2123.0 2355.1L2124.0 2351.9L2125.0 2353.5L2126.0 2354.2L2127.0 2357.1L2128.0 2351.5L2129.0 2356.0L2130.0 2355.1L2131.0 2352.8L2132.0 2355.2L2133.0 2354.8L2134.0 2359.4L2135.0 2355.0L2136.0 2360.3L2137.0 2357.1L2138.0 2360.5L2139.0 2354.8L2140.0 2357.8L2141.0 2360.7L2142.0 2358.4L2143.0 2357.1L2144.0 2362.1L2145.0 2364.8L2146.0 2363.2L2146.5 2362.9L2147.0 2365.1L2148.0 2363.8L2149.0 2369.4L2150.0 2371.9L2151.0 2366.6L2152.0 2375.5L2153.0 2375.9L2154.0 2375.7L2155.0 2377.3L2156.0 2379.6L2157.0 2381.0L2158.0 2379.9L2159.0 2373.9L2160.0 2378.5L2161.0 2368.8L2162.0 2376.4L2163.0 2375.4L2164.0 2375.8L2165.0 2369.5L2166.0 2376.3L2167.0 2375.3L2168.0 2371.5L2169.0 2366.0L2170.0 2371.0L2171.0 2366.9L2172.0 2364.3L2173.0 2366.6L2174.0 2375.8L2175.0 2363.7L2176.0 2367.0L2177.0 2368.5L2177.8 2370.8L2178.0 2364.8L2179.0 2365.0L2180.0 2371.3L2181.0 2370.0L2182.0 2373.9L2183.0 2367.4L2184.0 2371.8L2185.0 2376.3L2186.0 2375.1L2187.0 2372.6L2188.0 2377.9L2189.0 2373.0L2190.0 2377.9L2191.0 2384.1L2192.0 2385.7L2193.0 2385.2L2194.0 2387.1L2195.0 2381.0L2196.0 2384.2L2197.0 2389.9L2197.8 2393.9L2198.0 2388.1L2199.0 2383.8L2200.0 2383.6L2201.0 2390.3L2202.0 2389.8L2203.0 2382.4L2204.0 2386.5L2205.0 2390.3L2206.0 2390.1L2207.0 2383.8L2208.0 2384.7L2209.0 2386.5L2210.0 2381.2L2211.0 2379.3L2212.0 2382.0L2213.0 2387.8L2214.0 2387.2L2215.0 2385.0L2216.0 2379.5L2217.0 2376.8L2218.0 2379.5L2219.0 2382.8L2220.0 2385.8L2221.0 2379.6L2222.0 2382.6L2223.0 2376.5L2223.4 2375.5L2224.0 2382.3L2225.0 2378.7L2226.0 2379.6L2227.0 2376.2L2228.0 2386.8L2229.0 2379.2L2230.0 2386.0L2231.0 2382.1L2232.0 2386.7L2233.0 2393.2L2234.0 2390.6L2235.0 2391.2L2236.0 2394.5L2237.0 2394.1L2238.0 2397.4L2239.0 2388.6L2240.0 2398.0L2240.5 2393.8L2241.0 2390.2L2242.0 2395.4L2243.0 2394.9L2244.0 2392.7L2245.0 2394.9L2246.0 2387.2L2247.0 2385.2L2248.0 2387.8L2249.0 2392.4L2250.0 2389.5L2251.0 2386.8L2252.0 2383.6L2253.0 2384.6L2254.0 2387.3L2255.0 2380.6L2256.0 2379.4L2257.0 2381.7L2258.0 2381.5L2259.0 2378.9L2260.0 2382.3L2261.0 2377.5L2262.0 2373.0L2263.0 2368.4L2264.0 2379.2L2265.0 2374.5L2266.0 2376.0L2266.1 2376.5L2267.0 2379.6L2268.0 2379.2L2269.0 2379.9L2270.0 2378.7L2271.0 2378.4L2272.0 2381.6L2273.0 2379.7L2274.0 2385.4L2275.0 2389.5L2276.0 2390.2L2277.0 2390.0L2278.0 2388.2L2279.0 2389.6L2280.0 2391.3L2281.0 2393.4L2282.0 2396.8L2283.0 2397.3L2283.2 2397.5L2284.0 2398.6L2285.0 2390.7L2286.0 2391.2L2287.0 2391.0L2288.0 2388.8L2289.0 2380.6L2290.0 2377.3L2291.0 2380.5L2292.0 2376.4L2293.0 2373.6L2294.0 2370.1L2294.6 2367.6L2295.0 2370.8L2296.0 2372.6L2297.0 2374.7L2298.0 2377.8L2299.0 2377.5L2300.0 2383.8L2301.0 2380.9L2302.0 2385.6L2303.0 2386.8L2304.0 2382.2L2305.0 2385.0L2306.0 2388.0L2307.0 2390.0L2308.0 2389.8L2309.0 2391.8L2310.0 2386.0L2311.0 2383.2L2312.0 2383.5L2313.0 2376.5L2314.0 2378.1L2315.0 2373.6L2316.0 2375.8L2317.0 2372.1L2318.0 2372.4L2318.8 2380.1L2319.0 2377.4L2320.0 2383.9L2321.0 2379.9L2322.0 2383.6L2323.0 2386.7L2324.0 2393.9L2325.0 2391.3L2325.9 2398.7L2326.0 2396.5L2327.0 2393.0L2328.0 2389.6L2329.0 2389.9L2330.0 2388.4L2331.0 2386.2L2332.0 2377.3L2333.0 2379.6L2334.0 2378.3L2335.0 2383.1L2335.9 2376.2L2336.0 2378.2L2337.0 2374.7L2338.0 2382.2L2339.0 2386.6L2340.0 2394.3L2341.0 2407.0L2342.0 2411.9L2343.0 2423.4L2344.0 2421.4L2344.4 2423.2L2345.0 2414.5L2346.0 2402.4L2347.0 2398.2L2347.2 2393.2L2348.0 2399.9L2349.0 2392.7L2350.0 2392.5L2351.0 2402.3L2352.0 2389.8L2353.0 2394.1L2354.0 2397.8L2355.0 2398.3L2356.0 2392.6L2357.0 2404.4L2357.2 2395.4" fill="none" stroke="#ff0000" stroke-width="4.6" stroke-linejoin="round" stroke-linecap="round"/>
<path d="M1412.5 2157.5L1413.5 2157.9L1414.5 2159.2L1415.5 2158.8L1416.5 2157.6L1417.5 2158.8L1418.5 2158.6L1419.5 2159.3L1420.5 2158.4L1421.5 2159.7L1422.5 2159.9L1423.5 2161.0L1424.5 2160.4L1425.5 2160.8L1426.5 2159.8L1427.5 2162.3L1428.5 2160.1L1429.5 2162.1L1430.0 2161.4L1430.5 2161.2L1431.5 2161.6L1432.5 2161.8L1433.5 2162.7L1434.5 2162.7L1435.5 2163.9L1436.5 2162.2L1437.5 2163.6L1438.5 2163.4L1439.5 2164.7L1440.5 2163.3L1441.5 2164.7L1442.5 2165.4L1443.5 2164.8L1444.5 2166.6L1445.5 2166.6L1446.5 2167.5L1447.5 2168.0L1448.5 2167.3L1449.5 2167.9L1450.5 2168.7L1451.5 2169.8L1452.5 2170.3L1453.5 2169.8L1454.5 2170.3L1455.0 2170.3L1455.5 2170.6L1456.5 2171.2L1457.5 2171.6L1458.5 2173.2L1459.5 2172.0L1460.5 2172.5L1461.5 2173.2L1462.5 2172.7L1463.5 2173.3L1464.5 2173.9L1465.5 2174.6L1466.5 2173.6L1467.5 2175.5L1468.5 2174.8L1469.5 2175.3L1470.5 2176.0L1471.5 2176.2L1472.5 2176.7L1473.5 2176.4L1474.5 2176.6L1475.5 2177.1L1476.5 2176.6L1477.5 2178.2L1478.5 2177.3L1479.5 2177.3L1480.0 2179.4L1480.5 2178.2L1481.5 2177.9L1482.5 2180.1L1483.5 2179.1L1484.5 2180.3L1485.5 2179.6L1486.5 2180.3L1487.5 2179.8L1488.5 2180.1L1489.5 2181.0L1490.5 2181.9L1491.5 2182.8L1492.5 2184.2L1493.5 2182.5L1494.5 2184.0L1495.5 2183.4L1496.5 2184.0L1497.5 2183.5L1498.5 2183.7L1499.5 2184.4L1500.5 2184.4L1501.5 2185.2L1502.5 2185.0L1503.5 2186.2L1504.5 2185.6L1505.0 2185.7L1505.5 2186.2L1506.5 2185.9L1507.5 2185.6L1508.5 2185.6L1509.5 2185.6L1510.5 2186.3L1511.5 2186.1L1512.5 2185.9L1513.5 2186.2L1514.5 2185.4L1515.5 2186.0L1516.5 2184.9L1517.5 2186.6L1518.5 2185.8L1519.5 2185.9L1520.5 2186.2L1521.5 2185.8L1522.5 2185.7L1523.5 2186.5L1524.5 2185.9L1525.5 2185.3L1526.5 2186.1L1527.5 2184.9L1528.5 2186.9L1529.5 2185.8L1530.5 2185.9L1531.5 2187.2L1532.5 2187.2L1533.5 2186.0L1534.5 2186.3L1535.5 2186.6L1536.5 2186.9L1537.5 2185.8L1538.5 2186.0L1539.5 2186.6L1540.5 2186.1L1541.5 2186.4L1542.5 2186.3L1543.5 2185.2L1544.5 2185.4L1545.5 2184.3L1546.5 2185.6L1547.5 2186.5L1548.5 2185.0L1549.5 2186.3L1550.5 2186.1L1551.5 2185.3L1552.5 2185.2L1553.5 2185.1L1554.5 2184.4L1555.5 2184.6L1556.5 2184.6L1557.5 2184.8L1558.5 2184.8L1559.5 2183.7L1560.5 2184.4L1561.5 2183.3L1562.5 2183.4L1563.5 2183.5L1564.5 2183.1L1565.5 2182.8L1566.5 2182.9L1567.5 2182.2L1568.5 2181.9L1569.5 2182.0L1570.5 2182.4L1571.5 2181.6L1572.5 2182.6L1573.5 2181.4L1574.5 2179.3L1575.5 2180.6L1576.5 2181.6L1577.5 2180.5L1578.5 2180.0L1579.5 2179.6L1580.0 2180.8L1580.5 2180.5L1581.5 2180.2L1582.5 2179.8L1583.5 2180.3L1584.5 2179.7L1585.5 2178.4L1586.5 2179.4L1587.5 2178.8L1588.5 2178.5L1589.5 2178.8L1590.5 2178.2L1591.5 2176.3L1592.5 2178.8L1593.5 2178.3L1594.5 2177.4L1595.5 2177.1L1596.5 2177.3L1597.5 2176.2L1598.5 2176.9L1599.5 2176.4L1600.5 2176.1L1601.5 2175.6L1602.5 2175.5L1603.5 2176.4L1604.5 2176.3L1605.0 2175.7L1605.5 2175.3L1606.5 2174.6L1607.5 2175.3L1608.5 2175.5L1609.5 2173.4L1610.5 2174.7L1611.5 2172.5L1612.5 2173.3L1613.5 2173.4L1614.5 2172.1L1615.5 2171.7L1616.5 2172.4L1617.5 2172.5L1618.5 2171.5L1619.5 2172.2L1620.5 2170.7L1621.5 2171.9L1622.5 2170.7L1623.5 2170.5L1624.5 2170.5L1625.5 2170.1L1626.5 2170.7L1627.5 2170.7L1628.5 2169.5L1629.5 2168.9L1630.0 2168.3L1630.5 2168.4L1631.5 2168.7L1632.5 2168.5L1633.5 2168.3L1634.5 2168.2L1635.5 2168.3L1636.5 2167.1L1637.5 2167.1L1638.5 2168.2L1639.5 2167.9L1640.5 2166.9L1641.5 2167.8L1642.5 2166.5L1643.5 2166.6L1644.5 2165.5L1645.5 2167.0L1646.5 2166.4L1647.5 2166.9L1648.5 2166.6L1649.5 2166.1L1650.5 2166.0L1651.5 2166.6L1652.5 2165.7L1653.5 2165.7L1654.5 2165.7L1655.5 2166.1L1656.5 2166.2L1657.5 2166.8L1658.5 2165.6L1659.5 2166.4L1660.5 2165.4L1661.5 2166.2L1662.5 2166.0L1663.5 2167.0L1664.5 2166.5L1665.5 2166.0L1666.5 2166.8L1667.5 2166.8L1668.5 2166.6L1669.5 2166.8L1670.5 2166.7L1671.5 2169.1L1672.5 2167.8L1673.5 2168.6L1674.5 2167.6L1675.5 2167.9L1676.5 2168.8L1677.5 2169.1L1678.5 2169.9L1679.5 2169.2L1680.5 2170.5L1681.5 2171.4L1682.5 2170.3L1683.5 2171.7L1684.5 2171.0L1685.0 2172.0L1685.5 2172.2L1686.5 2173.5L1687.5 2172.6L1688.5 2173.8L1689.5 2175.1L1690.5 2174.6L1691.5 2176.2L1692.5 2176.6L1693.5 2177.7L1694.5 2179.5L1695.5 2180.4L1696.5 2182.5L1697.5 2182.7L1698.5 2183.6L1699.5 2183.9L1700.5 2184.9L1701.5 2186.4L1702.5 2186.2L1703.5 2189.6L1704.5 2189.3L1705.5 2190.0L1706.5 2191.2L1707.5 2192.6L1708.5 2193.2L1709.5 2192.7L1710.5 2193.6L1711.5 2193.7L1712.5 2193.5L1713.5 2194.6L1714.5 2194.8L1715.5 2194.2L1716.5 2196.0L1717.5 2194.7L1718.5 2196.1L1719.5 2195.5L1720.5 2195.9L1721.5 2196.2L1722.5 2197.3L1723.5 2196.3L1724.5 2197.2L1725.5 2198.4L1726.5 2197.3L1727.5 2197.9L1728.5 2198.5L1729.5 2198.0L1730.0 2198.8L1730.5 2198.2L1731.5 2199.2L1732.5 2199.1L1733.5 2198.8L1734.5 2200.4L1735.5 2199.8L1736.5 2199.9L1737.5 2199.8L1738.5 2200.3L1739.5 2200.7L1740.5 2201.1L1741.5 2201.9L1742.5 2200.7L1743.5 2201.5L1744.5 2202.6L1745.5 2202.2L1746.5 2202.5L1747.5 2203.4L1748.5 2202.8L1749.5 2203.0L1750.5 2202.8L1751.5 2204.0L1752.5 2203.6L1753.5 2202.6L1754.5 2203.4L1755.0 2202.4L1755.5 2203.7L1756.5 2203.5L1757.5 2203.0L1758.5 2202.9L1759.5 2202.0L1760.5 2203.5L1761.5 2203.0L1762.5 2202.9L1763.5 2203.5L1764.5 2202.7L1765.5 2202.7L1766.5 2202.7L1767.5 2202.3L1768.5 2204.5L1769.5 2203.0L1770.5 2202.9L1771.5 2203.6L1772.5 2201.2L1773.5 2203.1L1774.5 2203.1L1775.5 2202.5L1776.5 2203.4L1777.5 2201.9L1778.5 2203.1L1779.5 2203.6L1780.0 2201.8L1780.5 2202.2L1781.5 2203.0L1782.5 2203.1L1783.5 2202.7L1784.5 2203.4L1785.5 2203.3L1786.5 2202.4L1787.5 2203.2L1788.5 2202.6L1789.5 2202.2L1790.5 2202.1L1791.5 2204.2L1792.5 2203.6L1793.5 2204.9L1794.5 2202.9L1795.5 2203.6L1796.5 2204.1L1797.5 2203.9L1798.5 2204.4L1799.5 2204.2L1800.5 2203.8L1801.5 2202.8L1802.5 2203.7L1803.5 2205.3L1804.5 2204.7L1805.0 2205.1L1805.5 2203.9L1806.5 2204.2L1807.5 2203.7L1808.5 2204.4L1809.5 2204.2L1810.5 2204.4L1811.5 2205.1L1812.5 2203.5L1813.5 2204.3L1814.5 2203.0L1815.5 2204.3L1816.5 2203.3L1817.5 2203.4L1818.5 2203.4L1819.5 2204.2L1820.5 2203.1L1821.5 2202.7L1822.5 2202.1L1823.5 2202.8L1824.5 2202.0L1825.5 2202.1L1826.5 2202.2L1827.5 2202.5L1828.5 2201.6L1829.5 2202.2L1830.5 2202.8L1831.5 2200.7L1832.5 2202.3L1833.5 2202.6L1834.5 2200.9L1835.0 2201.5L1835.5 2200.3L1836.5 2201.2L1837.5 2200.7L1838.5 2201.0L1839.5 2200.1L1840.5 2200.1L1841.5 2200.2L1842.5 2199.9L1843.5 2199.8L1844.5 2199.9L1845.5 2199.3L1846.5 2199.7L1847.5 2200.0L1848.5 2198.2L1849.5 2199.6L1850.5 2198.9L1851.5 2198.5L1852.5 2198.3L1853.5 2198.5L1854.5 2198.4L1855.5 2198.9L1856.5 2197.9L1857.5 2199.1L1858.5 2197.9L1859.5 2198.7L1860.5 2198.8L1861.5 2197.3L1862.5 2198.6L1863.5 2199.1L1864.5 2197.5L1865.5 2198.0L1866.5 2197.5L1867.5 2197.5L1868.5 2197.3L1869.5 2197.0L1870.5 2197.7L1871.5 2197.7L1872.5 2197.1L1873.5 2197.9L1874.5 2197.6L1875.5 2197.3L1876.5 2196.4L1877.5 2197.9L1878.5 2197.5L1879.5 2195.4L1880.5 2195.9L1881.5 2196.2L1882.5 2197.0L1883.5 2197.1L1884.5 2196.1L1885.5 2196.4L1886.5 2196.6L1887.5 2195.4L1888.5 2196.4L1889.5 2195.8L1890.5 2196.0L1891.5 2195.8L1892.5 2195.1L1893.5 2195.1L1894.5 2195.7L1895.5 2195.7L1896.5 2195.4L1897.5 2196.1L1898.5 2195.2L1899.5 2194.6L1900.5 2195.0L1901.5 2195.0L1902.5 2194.9L1903.5 2195.6L1904.5 2195.1L1905.0 2195.4L1905.5 2195.1L1906.5 2194.5L1907.5 2195.1L1908.5 2194.2L1909.5 2194.4L1910.5 2193.5L1911.5 2194.0L1912.5 2193.6L1913.5 2193.9L1914.5 2194.6L1915.5 2194.8L1916.5 2193.8L1917.5 2193.0L1918.5 2193.4L1919.5 2192.9L1920.5 2192.2L1921.5 2192.4L1922.5 2192.1L1923.5 2191.7L1924.5 2192.7L1925.5 2191.4L1926.5 2191.3L1927.5 2191.9L1928.5 2190.9L1929.5 2190.5L1930.0 2190.6L1930.5 2191.3L1931.5 2191.1L1932.5 2190.9L1933.5 2190.3L1934.5 2189.9L1935.5 2190.8L1936.5 2189.2L1937.5 2189.8L1938.5 2189.0L1939.5 2189.4L1940.5 2189.4L1941.5 2190.0L1942.5 2187.5L1943.5 2189.8L1944.5 2188.4L1945.5 2188.9L1946.5 2189.1L1947.5 2188.1L1948.5 2188.4L1949.5 2188.7L1950.5 2188.3L1951.5 2187.9L1952.5 2188.4L1953.5 2188.4L1954.5 2187.5L1955.5 2189.2L1956.5 2188.5L1957.5 2187.0L1958.5 2188.0L1959.5 2189.5L1960.5 2189.5L1961.5 2188.7L1962.5 2187.6L1963.5 2188.5L1964.5 2189.3L1965.5 2189.0L1966.5 2188.6L1967.5 2188.4L1968.5 2189.4L1969.5 2188.8L1970.5 2189.2L1971.5 2189.4L1972.5 2190.1L1973.5 2189.2L1974.5 2189.3L1975.5 2188.1L1976.5 2189.9L1977.5 2189.8L1978.5 2189.3L1979.5 2187.9L1980.0 2188.9L1980.5 2189.3L1981.5 2190.4L1982.5 2189.4L1983.5 2189.3L1984.5 2189.1L1985.5 2189.1L1986.5 2187.3L1987.5 2187.1L1988.5 2186.6L1989.5 2186.8L1990.5 2186.4L1991.5 2186.4L1992.5 2185.5L1993.5 2185.9L1994.5 2185.2L1995.5 2186.8L1996.2 2185.3L1996.5 2187.1L1997.5 2186.6L1998.5 2185.2L1999.5 2186.8L2000.5 2187.0L2001.5 2186.2L2002.5 2187.9L2003.5 2188.0L2004.5 2188.8L2005.5 2188.5L2006.5 2189.4L2007.5 2190.0L2008.5 2189.9L2009.5 2189.8L2010.0 2190.1L2010.5 2189.6L2011.5 2190.3L2012.5 2188.5L2013.5 2190.8L2014.5 2189.8L2015.5 2189.9L2016.5 2189.9L2017.5 2188.5L2018.5 2190.4L2019.5 2188.2L2020.5 2188.9L2021.5 2188.6L2022.5 2189.0L2023.5 2188.1L2024.5 2187.1L2025.5 2188.1L2026.5 2186.3L2027.5 2187.7L2028.5 2187.7L2029.5 2189.3L2030.5 2188.8L2031.5 2189.4L2032.5 2190.1L2033.5 2190.9L2034.5 2191.9L2035.5 2193.3L2036.5 2192.7L2037.5 2193.7L2038.5 2193.2L2039.5 2194.2L2040.5 2194.6L2041.5 2193.9L2042.5 2194.5L2043.5 2195.0L2044.5 2195.5L2045.5 2195.8L2046.5 2195.3L2047.5 2194.8L2048.5 2194.6L2049.5 2196.1L2050.5 2196.5L2051.5 2196.0L2052.5 2196.8L2053.5 2195.7L2054.5 2195.8L2055.5 2197.0L2056.5 2195.6L2057.5 2196.6L2058.5 2196.6L2059.5 2196.6L2060.5 2197.6L2061.5 2196.2L2062.5 2196.5L2063.5 2195.7L2064.5 2196.4L2065.5 2196.9L2066.5 2197.1L2067.5 2197.4L2068.5 2197.9L2069.5 2197.6L2070.5 2197.1L2071.5 2198.7L2072.5 2199.2L2073.5 2198.6L2074.5 2199.2L2075.5 2201.1L2076.5 2201.0L2077.5 2201.5L2078.5 2201.6L2079.5 2201.6L2080.5 2201.6L2081.5 2202.6L2082.5 2202.4L2083.5 2202.5L2084.5 2203.0L2085.0 2203.0L2085.5 2203.7L2086.5 2202.8L2087.5 2205.0L2088.5 2203.0L2089.5 2203.5L2090.5 2204.4L2091.5 2203.5L2092.5 2203.8L2093.5 2204.2L2094.5 2202.5L2095.5 2204.1L2096.5 2203.9L2097.5 2204.4L2098.5 2204.9L2099.5 2205.1L2100.5 2205.6L2101.5 2205.7L2102.5 2205.5L2103.5 2205.0L2104.5 2205.7L2105.5 2204.6L2106.5 2205.2L2107.5 2206.2L2108.5 2205.9L2109.5 2204.7L2110.5 2205.3L2111.5 2206.3L2112.5 2206.3L2113.5 2206.7L2114.5 2205.1L2115.5 2205.6L2116.5 2206.4L2117.5 2206.1L2118.5 2207.0L2119.5 2207.4L2120.5 2208.1L2121.5 2208.2L2122.5 2209.3L2123.5 2210.0L2124.5 2210.2L2125.5 2209.8L2126.5 2212.3L2127.5 2212.1L2128.5 2212.8L2129.5 2213.1L2130.0 2212.0L2130.5 2213.9L2131.5 2213.4L2132.5 2213.4L2133.5 2216.0L2134.5 2215.2L2135.5 2216.2L2136.5 2217.2L2137.5 2218.3L2138.5 2215.8L2139.5 2217.2L2140.5 2219.0L2141.5 2218.2L2142.5 2216.1L2143.5 2219.7L2144.5 2220.2L2145.5 2221.0L2146.5 2220.8L2147.5 2220.4L2148.5 2221.2L2149.5 2221.1L2150.0 2220.7L2150.5 2221.5L2151.5 2221.7L2152.5 2220.3L2153.5 2222.5L2154.5 2222.4L2155.5 2222.4L2156.4 2218.8L2156.5 2221.8L2157.5 2221.7L2158.5 2221.1L2159.5 2223.1L2160.5 2221.4L2161.5 2224.8L2162.5 2224.5L2163.5 2224.1L2164.5 2226.9L2165.5 2226.5L2166.5 2227.1L2167.5 2226.1L2168.5 2228.7L2169.5 2230.4L2170.5 2230.7L2171.5 2228.8L2172.5 2232.2L2173.5 2233.0L2174.5 2232.6L2175.5 2231.6L2175.6 2230.4L2176.5 2231.3L2177.5 2232.0L2178.5 2233.2L2179.5 2233.8L2180.5 2232.7L2181.5 2232.0L2182.5 2233.6L2183.5 2232.9L2184.5 2236.0L2185.5 2233.5L2186.5 2235.5L2187.5 2236.1L2188.5 2234.3L2189.5 2236.6L2190.5 2235.5L2191.5 2234.8L2192.5 2234.7L2193.5 2235.9L2194.5 2236.9L2195.5 2233.6L2196.5 2236.2L2197.5 2235.2L2198.5 2234.3L2199.5 2234.8L2200.5 2234.6L2201.5 2234.3L2202.5 2235.0L2203.5 2232.8L2204.5 2235.7L2205.5 2234.3L2206.5 2232.4L2207.5 2230.7L2208.5 2232.7L2209.5 2232.1L2210.5 2233.3L2211.4 2233.3L2211.5 2234.6L2212.5 2232.3L2213.5 2233.5L2214.5 2232.2L2215.5 2232.4L2216.5 2234.7L2217.5 2233.0L2218.5 2233.3L2219.5 2233.3L2220.5 2234.3L2221.5 2234.9L2222.5 2234.4L2223.5 2233.5L2224.5 2235.5L2225.5 2234.5L2226.5 2235.3L2226.7 2236.1L2227.5 2236.4L2228.5 2233.9L2229.5 2239.1L2230.5 2238.6L2231.5 2240.6L2232.5 2241.8L2233.5 2238.4L2234.5 2239.3L2235.5 2240.6L2236.5 2241.6L2236.9 2239.9L2237.5 2240.2L2238.5 2241.9L2239.5 2239.6L2240.5 2240.9L2241.5 2242.0L2242.5 2240.5L2243.5 2241.7L2244.5 2240.7L2245.5 2239.0L2246.5 2240.2L2247.5 2240.6L2248.5 2240.5L2249.5 2240.9L2250.5 2241.4L2251.5 2241.2L2252.3 2241.1L2252.5 2240.4L2253.5 2240.6L2254.5 2240.3L2255.5 2239.8L2256.5 2241.9L2257.5 2237.7L2258.5 2240.0L2259.5 2237.5L2260.5 2238.4L2261.5 2239.9L2262.5 2238.4L2263.5 2240.2L2264.5 2237.3L2265.0 2238.1L2265.5 2237.7L2266.5 2238.5L2267.5 2238.2L2268.5 2238.2L2269.5 2238.8L2270.5 2240.2L2271.5 2239.2L2272.5 2239.3L2273.5 2239.0L2274.5 2238.7L2275.5 2238.0L2276.5 2238.7L2277.5 2240.2L2277.8 2237.9L2278.5 2241.3L2279.5 2240.4L2280.5 2240.2L2281.5 2241.3L2282.5 2243.4L2283.5 2243.6L2284.5 2244.0L2285.5 2246.3L2286.5 2247.3L2287.4 2242.9L2287.5 2245.6L2288.5 2243.3L2289.5 2241.9L2290.5 2242.0L2291.5 2242.7L2292.5 2239.7L2293.5 2238.2L2294.5 2239.3L2295.5 2237.0L2296.5 2235.4L2297.5 2237.2L2298.3 2235.4L2298.5 2233.9L2299.5 2233.5L2300.5 2234.3L2301.5 2235.1L2302.5 2236.0L2303.5 2235.9L2304.5 2235.0L2305.5 2233.4L2306.5 2236.0L2307.5 2235.0L2308.5 2233.5L2309.5 2233.4L2310.5 2235.5L2311.5 2236.1L2312.5 2237.2L2313.5 2235.2L2314.5 2239.9L2315.5 2235.8L2316.2 2238.5L2316.5 2240.5L2317.5 2241.0L2318.5 2239.6L2319.5 2242.9L2320.5 2245.1L2321.5 2245.8L2322.5 2244.9L2323.5 2249.5L2324.5 2246.1L2325.5 2248.8L2326.4 2247.6L2326.5 2248.4L2327.5 2248.4L2328.5 2249.1L2329.5 2246.3L2330.5 2247.6L2331.5 2248.3L2332.5 2246.0L2333.5 2245.8L2334.5 2244.9L2335.5 2242.7L2336.5 2242.6L2337.5 2242.7L2338.5 2243.0L2339.2 2245.0L2339.5 2244.5L2340.5 2242.9L2341.5 2245.0L2342.5 2246.4L2343.5 2246.3L2344.3 2251.6L2344.5 2250.6L2345.5 2247.3L2346.5 2249.9L2347.5 2253.0L2348.5 2250.5L2349.5 2250.6L2350.5 2250.2L2351.5 2248.9L2352.5 2248.3L2353.5 2248.8L2354.5 2250.1L2355.5 2249.6L2355.8 2250.8" fill="none" stroke="#000000" stroke-width="4.6" stroke-linejoin="round" stroke-linecap="round"/>
<line x1="194.3" y1="687.4" x2="279.2" y2="687.4" stroke="#000000" stroke-width="5.5"/>
<text transform="translate(296.0,703.0) scale(1,1.03)" font-size="32.4" fill="#1a1a1a" textLength="168" lengthAdjust="spacingAndGlyphs">B(10~20μm)</text>
<line x1="194.3" y1="736.3" x2="279.2" y2="736.3" stroke="#ff0000" stroke-width="5.5"/>
<text transform="translate(296.0,750.7) scale(1,1.03)" font-size="32.4" fill="#1a1a1a" textLength="240" lengthAdjust="spacingAndGlyphs">B/PDB(10~20μm)</text>
<line x1="194.3" y1="785.6" x2="279.2" y2="785.6" stroke="#0000ff" stroke-width="5.5"/>
<text transform="translate(296.0,799.5) scale(1,1.03)" font-size="32.4" fill="#1a1a1a" textLength="63" lengthAdjust="spacingAndGlyphs">PDB</text>
<line x1="1417.8" y1="684.8" x2="1500.9" y2="684.8" stroke="#000000" stroke-width="5.5"/>
<text transform="translate(1517.5,699.6) scale(1,1.03)" font-size="32.4" fill="#1a1a1a" textLength="168" lengthAdjust="spacingAndGlyphs">B(10~20μm)</text>
<line x1="1417.8" y1="734.1" x2="1500.9" y2="734.1" stroke="#ff0000" stroke-width="5.5"/>
<text transform="translate(1517.5,748.2) scale(1,1.03)" font-size="32.4" fill="#1a1a1a" textLength="240" lengthAdjust="spacingAndGlyphs">B/PDB(10~20μm)</text>
<line x1="1417.8" y1="782.7" x2="1500.9" y2="782.7" stroke="#0000ff" stroke-width="5.5"/>
<text transform="translate(1517.5,796.8) scale(1,1.03)" font-size="32.4" fill="#1a1a1a" textLength="63" lengthAdjust="spacingAndGlyphs">PDB</text>
<line x1="188.5" y1="1696.3" x2="273.5" y2="1696.3" stroke="#000000" stroke-width="5.5"/>
<text transform="translate(290.5,1711.9) scale(1,1.03)" font-size="32.4" fill="#1a1a1a" textLength="130" lengthAdjust="spacingAndGlyphs">B(&lt;5μm)</text>
<line x1="188.5" y1="1745.1" x2="273.5" y2="1745.1" stroke="#ff0000" stroke-width="5.5"/>
<text transform="translate(290.5,1759.5) scale(1,1.03)" font-size="32.4" fill="#1a1a1a" textLength="209" lengthAdjust="spacingAndGlyphs">B/PDB(&lt;5μm)</text>
<line x1="188.5" y1="1793.7" x2="273.5" y2="1793.7" stroke="#0000ff" stroke-width="5.5"/>
<text transform="translate(290.5,1808.4) scale(1,1.03)" font-size="32.4" fill="#1a1a1a" textLength="65" lengthAdjust="spacingAndGlyphs">PDB</text>
<line x1="1402.8" y1="1697.6" x2="1486.6" y2="1697.6" stroke="#000000" stroke-width="5.5"/>
<text transform="translate(1503.0,1712.2) scale(1,1.03)" font-size="32.4" fill="#1a1a1a" textLength="131" lengthAdjust="spacingAndGlyphs">B(&lt;5μm)</text>
<line x1="1402.8" y1="1746.7" x2="1486.6" y2="1746.7" stroke="#ff0000" stroke-width="5.5"/>
<text transform="translate(1503.0,1760.8) scale(1,1.03)" font-size="32.4" fill="#1a1a1a" textLength="210" lengthAdjust="spacingAndGlyphs">B/PDB(&lt;5μm)</text>
<line x1="1402.8" y1="1795.3" x2="1486.6" y2="1795.3" stroke="#0000ff" stroke-width="5.5"/>
<text transform="translate(1503.0,1809.3) scale(1,1.03)" font-size="32.4" fill="#1a1a1a" textLength="67" lengthAdjust="spacingAndGlyphs">PDB</text>
<line x1="196.5" y1="2711.7" x2="282.2" y2="2711.7" stroke="#000000" stroke-width="5.5"/>
<text transform="translate(298.8,2727.1) scale(1,1.03)" font-size="32.4" fill="#1a1a1a" textLength="176" lengthAdjust="spacingAndGlyphs">B(0.5~2μm)</text>
<line x1="196.5" y1="2760.3" x2="282.2" y2="2760.3" stroke="#ff0000" stroke-width="5.5"/>
<text transform="translate(298.8,2774.4) scale(1,1.03)" font-size="32.4" fill="#1a1a1a" textLength="254" lengthAdjust="spacingAndGlyphs">B/PDB(0.5~2μm)</text>
<line x1="196.5" y1="2809.4" x2="282.2" y2="2809.4" stroke="#0000ff" stroke-width="5.5"/>
<text transform="translate(298.8,2823.0) scale(1,1.03)" font-size="32.4" fill="#1a1a1a" textLength="67" lengthAdjust="spacingAndGlyphs">PDB</text>
<line x1="1415.2" y1="2713.5" x2="1500.1" y2="2713.5" stroke="#000000" stroke-width="5.5"/>
<text transform="translate(1517.5,2728.4) scale(1,1.03)" font-size="32.4" fill="#1a1a1a" textLength="176" lengthAdjust="spacingAndGlyphs">B(0.5~2μm)</text>
<line x1="1415.2" y1="2762.9" x2="1500.1" y2="2762.9" stroke="#ff0000" stroke-width="5.5"/>
<text transform="translate(1517.5,2776.9) scale(1,1.03)" font-size="32.4" fill="#1a1a1a" textLength="254" lengthAdjust="spacingAndGlyphs">B/PDB(0.5~2μm)</text>
<line x1="1415.2" y1="2810.9" x2="1500.1" y2="2810.9" stroke="#0000ff" stroke-width="5.5"/>
<text transform="translate(1517.5,2824.2) scale(1,1.03)" font-size="32.4" fill="#1a1a1a" textLength="67" lengthAdjust="spacingAndGlyphs">PDB</text>
<line x1="1602.5" y1="138.0" x2="1609.0" y2="585.0" stroke="#333333" stroke-width="3.4" stroke-dasharray="3.4 14.2"/>
<line x1="1795.5" y1="164.0" x2="1797.5" y2="748.0" stroke="#333333" stroke-width="3.4" stroke-dasharray="3.4 14.2"/>
<line x1="1864.5" y1="128.0" x2="1868.5" y2="483.0" stroke="#333333" stroke-width="3.4" stroke-dasharray="3.4 14.2"/>
<line x1="1988.0" y1="156.0" x2="1995.0" y2="600.0" stroke="#333333" stroke-width="3.4" stroke-dasharray="3.4 14.2"/>
<line x1="2083.0" y1="148.0" x2="2086.0" y2="556.0" stroke="#333333" stroke-width="3.4" stroke-dasharray="3.4 14.2"/>
<text transform="translate(1587.5,108.8) scale(1,1.03)" font-size="36" fill="#ff2020">N<tspan font-size="26" dy="10">3</tspan></text>
<text transform="translate(1731.0,157.6) scale(1,1.03)" font-size="36" fill="#ff2020">C-O-C</text>
<text transform="translate(1846.6,120.2) scale(1,1.03)" font-size="36" fill="#ff2020">N-F</text>
<text transform="translate(1957.2,133.2) scale(1,1.03)" font-size="36" fill="#ff2020">N-F</text>
<text transform="translate(2056.5,138.1) scale(1,1.03)" font-size="36" fill="#ff2020">C-N</text>
<line x1="1594.5" y1="1152.0" x2="1601.0" y2="1595.0" stroke="#333333" stroke-width="3.4" stroke-dasharray="3.4 14.2"/>
<line x1="1773.5" y1="1184.0" x2="1782.0" y2="1732.0" stroke="#333333" stroke-width="3.4" stroke-dasharray="3.4 14.2"/>
<line x1="1861.0" y1="1149.0" x2="1862.0" y2="1522.0" stroke="#333333" stroke-width="3.4" stroke-dasharray="3.4 14.2"/>
<line x1="1982.4" y1="1157.0" x2="1984.0" y2="1637.0" stroke="#333333" stroke-width="3.4" stroke-dasharray="3.4 14.2"/>
<line x1="2076.4" y1="1171.0" x2="2077.0" y2="1599.0" stroke="#333333" stroke-width="3.4" stroke-dasharray="3.4 14.2"/>
<text transform="translate(1578.3,1139.5) scale(1,1.03)" font-size="36" fill="#ff2020">N<tspan font-size="26" dy="10">3</tspan></text>
<text transform="translate(1712.2,1177.2) scale(1,1.03)" font-size="36" fill="#ff2020">C-O-C</text>
<text transform="translate(1837.0,1121.5) scale(1,1.03)" font-size="36" fill="#ff2020">N-F</text>
<text transform="translate(1955.4,1147.0) scale(1,1.03)" font-size="36" fill="#ff2020">N-F</text>
<text transform="translate(2047.9,1161.3) scale(1,1.03)" font-size="36" fill="#ff2020">C-N</text>
<line x1="1608.0" y1="2158.0" x2="1611.0" y2="2602.0" stroke="#333333" stroke-width="3.4" stroke-dasharray="3.4 14.2"/>
<line x1="1796.4" y1="2190.0" x2="1798.0" y2="2736.0" stroke="#333333" stroke-width="3.4" stroke-dasharray="3.4 14.2"/>
<line x1="1868.9" y1="2165.0" x2="1870.0" y2="2554.0" stroke="#333333" stroke-width="3.4" stroke-dasharray="3.4 14.2"/>
<line x1="1994.6" y1="2154.0" x2="1996.0" y2="2633.0" stroke="#333333" stroke-width="3.4" stroke-dasharray="3.4 14.2"/>
<line x1="2086.3" y1="2166.0" x2="2087.0" y2="2612.0" stroke="#333333" stroke-width="3.4" stroke-dasharray="3.4 14.2"/>
<text transform="translate(1586.3,2138.4) scale(1,1.03)" font-size="36" fill="#ff2020">N<tspan font-size="26" dy="10">3</tspan></text>
<text transform="translate(1732.8,2180.2) scale(1,1.03)" font-size="36" fill="#ff2020">C-O-C</text>
<text transform="translate(1850.8,2148.5) scale(1,1.03)" font-size="36" fill="#ff2020">N-F</text>
<text transform="translate(1961.8,2144.2) scale(1,1.03)" font-size="36" fill="#ff2020">N-F</text>
<text transform="translate(2062.9,2152.2) scale(1,1.03)" font-size="36" fill="#ff2020">C-N</text>
<text transform="translate(577.0,317.3) scale(1,1.06)" font-size="28.5" text-anchor="start" fill="#ff2020" >-N<tspan font-size="20" dy="9">3</tspan></text>
<text transform="translate(563.0,377.4) scale(1,1.06)" font-size="28.2" text-anchor="start" fill="#ff2020" >2090 cm<tspan font-size="21" dy="-15">-1</tspan></text>
<ellipse cx="697.0" cy="300.0" rx="24" ry="22" fill="none" stroke="#333333" stroke-width="3" stroke-dasharray="3 12"/>
<line x1="680.6" y1="314.1" x2="647.9" y2="332.4" stroke="#222" stroke-width="2.2"/>
<polygon points="626.9,344.1 644.4,326.3 651.3,338.5" fill="#111"/>
<text transform="translate(582.5,1330.0) scale(1,1.06)" font-size="28.5" text-anchor="start" fill="#ff2020" >-N<tspan font-size="20" dy="9">3</tspan></text>
<text transform="translate(567.5,1390.0) scale(1,1.06)" font-size="28.2" text-anchor="start" fill="#ff2020" >2090 cm<tspan font-size="21" dy="-15">-1</tspan></text>
<ellipse cx="701.0" cy="1315.0" rx="21" ry="22" fill="none" stroke="#333333" stroke-width="3" stroke-dasharray="3 12"/>
<line x1="685.0" y1="1326.2" x2="648.7" y2="1350.4" stroke="#222" stroke-width="2.2"/>
<polygon points="628.8,1363.8 644.8,1344.6 652.6,1356.3" fill="#111"/>
<text transform="translate(556.2,2325.0) scale(1,1.06)" font-size="28.5" text-anchor="start" fill="#ff2020" >-N<tspan font-size="20" dy="9">3</tspan></text>
<text transform="translate(540.0,2385.0) scale(1,1.06)" font-size="28.2" text-anchor="start" fill="#ff2020" >2090 cm<tspan font-size="21" dy="-15">-1</tspan></text>
<ellipse cx="705.0" cy="2330.0" rx="25" ry="27" fill="none" stroke="#333333" stroke-width="3" stroke-dasharray="3 12"/>
<line x1="678.4" y1="2320.0" x2="635.0" y2="2344.4" stroke="#222" stroke-width="2.2"/>
<polygon points="614.1,2356.1 631.6,2338.2 638.5,2350.5" fill="#111"/>
<text x="13.1" y="85.8" font-size="101" fill="#141414">(a)</text>
<text x="1238.3" y="85.8" font-size="101" fill="#141414">(b)</text>
<text x="13.1" y="1100.4" font-size="101" fill="#141414">(c)</text>
<text x="1238.3" y="1100.4" font-size="101" fill="#141414">(d)</text>
<text x="13.1" y="2111.6" font-size="101" fill="#141414">(e)</text>
<text x="1238.3" y="2111.6" font-size="101" fill="#141414">(f)</text>
</svg>
</body></html>
